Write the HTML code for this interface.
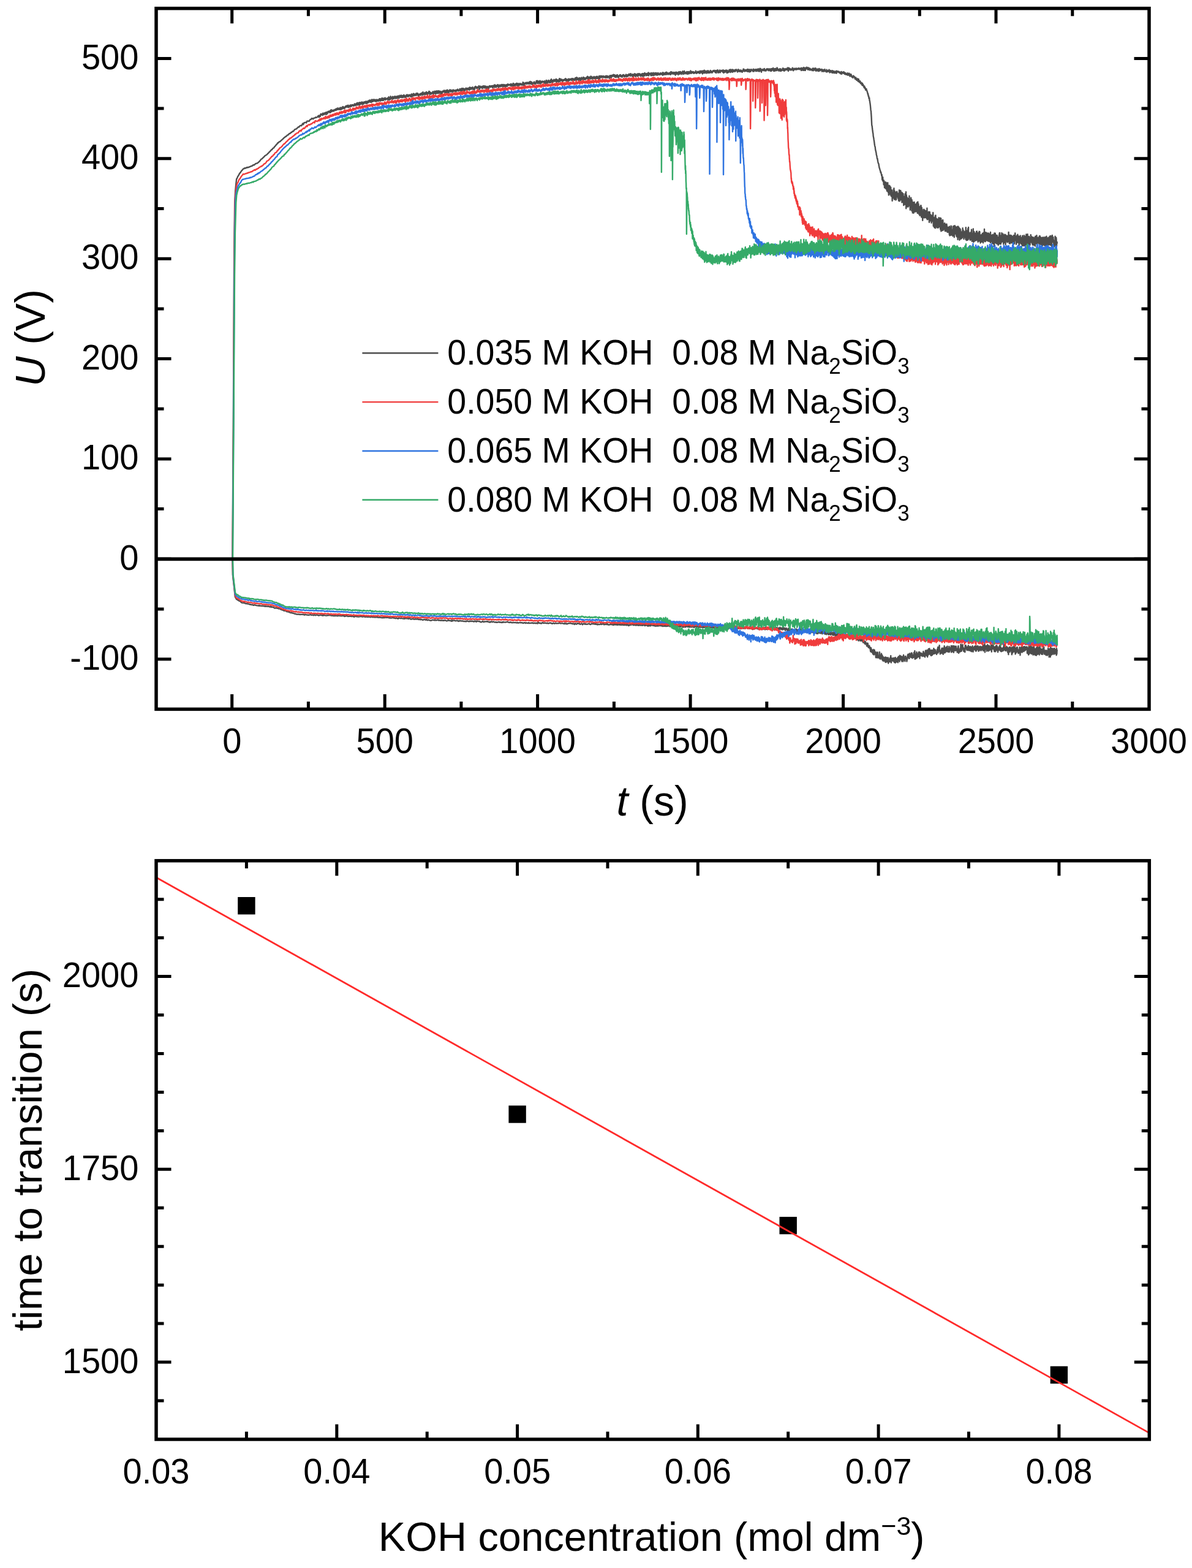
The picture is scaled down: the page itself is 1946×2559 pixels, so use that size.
<!DOCTYPE html><html><head><meta charset="utf-8"><title>Figure</title>
<style>html,body{margin:0;padding:0;background:#fff;}svg{display:block;}text{font-family:'Liberation Sans', Arial, sans-serif;fill:#000;}</style></head><body>
<svg width="1946" height="2559" viewBox="0 0 1946 2559">
<rect x="0" y="0" width="1946" height="2559" fill="#fff"/>
<g fill="none" stroke-width="2.4" stroke-linejoin="round">
<path stroke="#4d4d4d" d="M379.4 912.4l1.4-212.4 1.2-250 .6-70 .6-49.7 1-18.8 1-10.4 1-9.2 1-1.2 1-2.8 1-1.2 1-1.8 1-2 1-.9 1-1.6 1-1.4 1-1.2 1-1 1-1.4 1 0 1-1.2 1 .5 1-.8 1 .2 1-1.1 1 .5 1-.6 1 .2 1-.8 1-.3 1-.5 1-.2 1-.6 1-.2 1-1.3 1-.1 1 .1 1-1 1-1.1 1-.3 1-.2 1-.3 1-1 1-.6 1-1 1-1 1-1.3 1-1.5 1-.4 1-.9 1-.8 1-1.2 1-.7 1-1.4 1-.7 1-.5 1-.5 1-1.1 1-1.1 1-.7 1-1.4 1-.8 1-1 1-1 1-1.6 1 0 1-1.8 1-.6 1-.6 1-1.8 1-.6 1-1.5 1-1 1-1 1-1.9 1 0 1-1.4 1-.6 1-.3 1-.9 1-1.2 1-.7 1-.9 1-1 1-1 1-.7 1-.8 1-1 1-.2 1-1.1 1-1.1 1-.2 1-.7 1-1.6 1 0 1-.4 1-1.6 1 0 1-1.1 1-.7 1 .1 1-1.7 1-1.2 1-.4 1-.4 1-.2 1-1.5 1-.6 1-1.2 1 .4 1-1.6 1-.9 1 0 1 .4 1-1.9 1-1.9 1 1.7 1-2.6 1-.4 1-.2 1-.4 1 .8 1-2.6 1-.2 1-.1 1 .5 1-.9 1-1.9 1-.5 1-.1 1-1.6 1 .8 1 .5 1-1.5 1-.2 1-.1 1-1.3 1 .6 1-.4 1-.3 1-1.6 1-.9 .3 1.3 .4 1.4 .3-2.3 .4-.1 .3 1.4 .3-1.1 .4-1.3 .3 2.1 .4-2.8 .3-1.2 .3 1.2 .4 .4 .3-.5 .4-1 .3 0 .3 1.3 .4-.7 .3-.4 .4 1.9 .3-3.4 .3 1.3 .4-.8 .3 1.8 .4-1.9 .3 1.5 .3-1.9 .4 2 .3-.6 .4-1.2 .3-.8 .3 1.1 .4-1.6 .3 2.1 .4-1.1 .3 .1 .3 2.2 .4-3.7 .3 .7 .4 1.2 .3-.1 .3-2.1 .4 2.5 .3-2.6 .4-.1 .3-.6 .3 .9 .4-1.5 .3 1.1 .4-.6 .3 1.4 .3-1.8 .4 1.1 .3-1.6 .4 0 .3 .1 .3 2.5 .4-1.9 .3-2.3 .4 3.1 .3-1.4 .3-1 .4-1 .3 .5 .4 2 .3 .1 .3-1.4 .4 .8 .3-1 .4 .6 .3 .3 .3-1.6 .4 .6 .3 1.3 .4-.6 .3-1.5 .3-.1 .4-.2 .3 .6 .4-.5 .3 .7 .3-1.6 .4 1.9 .3-1.3 .4 .9 .3-2.3 .3 1.9 .4-1.9 .3 1.2 .4-1.3 .3 1.3 .3-2.2 .4 2.2 .3-1.1 .4-.8 .3-.1 .3 .8 .4 1.2 .3-1.5 .4 1.7 .3-2.3 .3 0 .4 2 .3-2.6 .4-.5 .3 1 .3 2.5 .4-2.9 .3 1.7 .4 .2 .3-1.3 .3-1.3 .4 2.7 .3-1.8 .4 .6 .3-.2 .3-2.4 .4-.3 .3 3 .4-.2 .3-1.8 .3 .9 .4 .8 .3-1.2 .4 1.8 .3-1.7 .3-.3 .4-.7 .3-.9 .4 .7 .3-1 .3 1.8 .4-2.5 .3 .1 .4 .9 .3 .6 .3-.7 .4-.5 .3-.9 .4 2.7 .3-1.6 .3-.2 .4-1.5 .3 3.7 .4-2.4 .3 1.2 .3-.5 .4 .2 .3 .7 .4-1.3 .3-1.2 .3 2.4 .4-1.2 .3-.2 .4-1.7 .3 2.7 .3-1.8 .4 .6 .3 0 .4 .3 .3-1.4 .3-.8 .4 .5 .3 1 .4 0 .3-1.2 .3 .5 .4 1.1 .3-.7 .4 .8 .3-1.4 .3 .6 .4-2.6 .3 1.9 .4-1.7 .3 1.6 .3 .7 .4 .3 .3-2.5 .4 .3 .3-.3 .3 1.4 .4-2.6 .3 2.7 .4 .2 .3-1.3 .3-2.5 .4 3.1 .3-1.2 .4 1.4 .3 .2 .3-2.7 .4-.5 .3 1.4 .4 1.8 .3-1.2 .3-2.9 .4 2.2 .3 1.6 .4-1.6 .3-1.5 .3-.5 .4 2.6 .3-1.8 .4 .9 .3 .6 .3-.9 .4-2.3 .3 2.3 .4 1.5 .3-2.9 .3 .6 .4 2.4 .3-3.3 .4-.3 .3 2.1 .3 .6 .4-1 .3 .5 .4-1.1 .3-1.7 .3 2 .4-1.3 .3 .2 .4 .9 .3-1.4 .3-.9 .4 .9 .3 2.6 .4-3.5 .3 3.2 .3-1 .4-.5 .3-1.8 .4 .5 .3 2.2 .3-.3 .4-2.5 .3 1.4 .4-2.3 .3 2.6 .3-1 .4 .3 .3-1.6 .4-1.3 .3 2.7 .3-1.1 .4 .7 .3-2.1 .4 2.6 .3 .5 .3-3.1 .4 1.1 .3 2.2 .4-1 .3-3.5 .3 2.3 .4 .8 .3-1.3 .4 1.5 .3-2.2 .3 0 .4-1.2 .3 3 .4-2.4 .3 1.2 .3 .2 .4-1.9 .3 0 .4 2.6 .3-2.2 .3 2.4 .4 .2 .3-2.1 .4 1.7 .3-2.3 .3 1.2 .4 1.7 .3-3.1 .4 .9 .3 .5 .3 .8 .4-2 .3 1.3 .4-.8 .3-.1 .3 1.9 .4-.2 .3-1.6 .4-1 .3-.3 .3 2.3 .4-3 .3 .3 .4 .5 .3-.9 .3 3.4 .4 .1 .3-1.9 .4 .6 .3 .4 .3-2.5 .4 .1 .3 .7 .4-2.1 .3 4 .3-1.6 .4-.5 .3-.8 .4-.4 .3 3.4 .3-3.7 .4 2 .3 .7 .4-1 .3 .8 .3-2 .4 1.7 .3-2.9 .4 2.6 .3-2.5 .3 .8 .4 2.4 .3-1 .4-.1 .3-.7 .3-.1 .4-.2 .3-.4 .4 1.2 .3 .4 .3-1.8 .4 1.8 .3 1.1 .4-2 .3 1.1 .3-4 .4 2.3 .3 1.8 .4-.8 .3 1.6 .3-2.4 .4-1.2 .3-.7 .4 3.1 .3-4.7 .3 3.7 .4-.1 .3 .3 .4-.1 .3-1.7 .3-.4 .4 1.5 .3 0 .4-2.7 .3 4.1 .3-2 .4 1.1 .3-3.1 .4 2.2 .3 .4 .3 .5 .4-1.8 .3 .1 .4 .6 .3-2.6 .3 2.1 .4 .9 .3-.5 .4 .8 .3-3.1 .3 1.8 .4 1.1 .3-1 .4-1.8 .3 2.8 .3-2.7 .4-.6 .3 .4 .4 2.8 .3-2.9 .3 1 .4 .2 .3-2.2 .4 2.7 .3-1.4 .3 2.6 .4-2.3 .3 .8 .4 0 .3-3.1 .3 1.8 .4 1 .3-1.4 .4 .4 .3-.2 .3 1.7 .4-3.6 .3 3 .4 .3 .3-2.6 .3 1.1 .4 1.4 .3-.6 .4 1.3 .3-3.3 .3 .7 .4-1.1 .3 1.3 .4-1.9 .3 2.4 .3 1.1 .4-2.7 .3 .3 .4 2.8 .3-1.9 .3 .6 .4 .4 .3-1.5 .4 2.4 .3-.4 .3-3.4 .4 2.4 .3-2.7 .4 .6 .3-.7 .3 1.6 .4-1.5 .3 1.8 .4 1.2 .3-1.3 .3 .1 .4 .7 .3-2.1 .4-.5 .3 0 .3 .5 .4 1.2 .3 .3 .4-1.4 .3-.5 .3 .7 .4 2.2 .3-2.2 .4 1.2 .3 1.4 .3-4.6 .4 3.6 .3-3.5 .4 1.2 .3 .6 .3 2 .4-2.5 .3 0 .4 1.2 .3-3.4 .3 1.1 .4 1.7 .3-1.1 .4 2 .3-3 .3 .7 .4 1.5 .3-1.3 .4 .4 .3-.6 .3-.7 .4 2.4 .3-.1 .4-3.6 .3 .8 .3 1 .4 .8 .3 .2 .4-1.1 .3-1.6 .3 2.9 .4-1.4 .3 .6 .4 2.4 .3-2.9 .3 1.8 .4-1.2 .3-.1 .4 .8 .3-.3 .3 .5 .4-2.3 .3 0 .4 1.4 .3-1.2 .3 .5 .4 1.7 .3-3.3 .4 .6 .3 .8 .3-1.7 .4 1.1 .3 .4 .4-1.4 .3 3.5 .3-5.1 .4 2.7 .3 1 .4 0 .3-1.6 .3 .4 .4-.1 .3-.5 .4 1.3 .3-2.3 .3 3.4 .4-3 .3 2.1 .4-.5 .3-1.3 .3 .5 .4-2.4 .3 2.6 .4 1.3 .3-.9 .3-.5 .4-1.2 .3 2 .4 .6 .3-3 .3 1.1 .4-1.2 .3 1.2 .4-.8 .3-2.3 .3 3.5 .4-3 .3 4.2 .4-1.7 .3 2.1 .3-3.2 .4 2.3 .3-.5 .4-.5 .3-.7 .3 2.1 .4-.7 .3-.3 .4-.5 .3 .1 .3 0 .4-1.9 .3 2.5 .4-3.3 .3 3.4 .3-2.7 .4 3 .3-1.9 .4 .4 .3 .4 .3-1.7 .4-1.5 .3 2.1 .4 1.7 .3-2.5 .3-.8 .4 4.2 .3-3.8 .4-.9 .3 .6 .3 2.8 .4-3.8 .3 3.6 .4 0 .3-2.7 .3 1.9 .4 1.2 .3-1.6 .4-2.6 .3 .7 .3 1.7 .4-2 .3 3.6 .4-.4 .3-3.1 .3 2.5 .4-1.6 .3-.1 .4-.5 .3 .5 .3 1.5 .4 2.8 .3-2.7 .4-.3 .3-1.2 .3-.2 .4 2.6 .3 .1 .4-2.6 .3 1.2 .3-2 .4 1.4 .3-.4 .4-1.1 .3 .5 .3 .3 .4-2 .3 2.9 .4-1.1 .3-.5 .3 2 .4-1.2 .3-.3 .4-1.5 .3 3.6 .3-.7 .4-2.7 .3 .9 .4 .5 .3 .6 .3-2.8 .4 4.1 .3-4.5 .4 3.4 .3-.9 .3-1.4 .4 2.5 .3 .3 .4-.2 .3 1.2 .3-1.5 .4-2.6 .3 .3 .4-.7 .3-.7 .3 1 .4 .4 .3 .8 .4 1.5 .3-2.1 .3-1 .4 2.3 .3-.4 .4-.1 .3-.3 .3-.4 .4-.5 .3 3 .4-3.1 .3-.8 .3 .8 .4-.7 .3 .3 .4 1.6 .3-.9 .3 .3 .4-.6 .3 .8 .4-.8 .3 1.9 .3-1.4 .4-.8 .3 1.4 .4 .8 .3-2.3 .3-.1 .4 1.6 .3-2 .4 1.5 .3-.1 .3-1.4 .4-.9 .3 1 .4-.4 .3 1.5 .3 .8 .4-1.4 .3-.2 .4 .1 .3-.4 .3 1 .4-1.3 .3-1.5 .4 1.2 .3 1.6 .3-.6 .4-1.3 .3 2.9 .4-3.5 .3-.2 .3 2 .4-2.9 .3 3.7 .4-1.7 .3 1.3 .3-1 .4 .7 .3-2.9 .4 2.5 .3-.2 .3 1.4 .4-3.3 .3 1.8 .4 .6 .3-.3 .3-1.2 .4 .1 .3 2.4 .4-3 .3 1.3 .3-.2 .4-2.3 .3 1 .4-.1 .3 1.2 .3-1.5 .4 2.8 .3-2.7 .4-.4 .3 .1 .3 1.9 .4-.2 .3-2 .4 2.3 .3-1.9 .3-.3 .4 1.8 .3-2.5 .4 3.8 .3-4.6 .3 3.7 .4-3.5 .3 .8 .4 2 .3-2.5 .3 1.8 .4-1.7 .3 2.2 .4 .3 .3-2.5 .3 .5 .4 .6 .3-.7 .4-1.3 .3 1.5 .3 .7 .4 1.8 .3-1.8 .4 .7 .3-1.5 .3 .7 .4 .6 .3 1.1 .4-3.9 .3 3.2 .3-2.5 .4-.2 .3-1.6 .4 1.7 .3-.5 .3 .7 .4-.1 .3-1 .4 2.5 .3-1.8 .3 1.9 .4 .1 .3-1.5 .4-1 .3 .9 .3-.4 .4-.2 .3 .2 .4-2.3 .3 1.7 .3 4.2 .4-.9 .3-.4 .4-3.1 .3 0 .3-1 .4 1 .3 1.1 .4-1.5 .3 1.9 .3 0 .4-.1 .3 .4 .4-2 .3-.6 .3 1.9 .4-1.2 .3 2.7 .4-1 .3-.3 .3-2.9 .4 1 .3 1.5 .4 .2 .3-2.3 .3 1.6 .4-1.6 .3 3.4 .4-1.2 .3-2.1 .3 .7 .4-.5 .3 2 .4 1 .3-1.9 .3 .3 .4-.3 .3 1.7 .4-2.3 .3 3.5 .3-.9 .4-2.4 .3 .4 .4 .6 .3 0 .3 1 .4 1.2 .3-3.7 .4 .8 .3-1.7 .3 1 .4-.8 .3 1.1 .4-.4 .3 1.4 .3-2 .4-.1 .3 .7 .4-.3 .3 .9 .3-1 .4-.6 .3 1.9 .4-.1 .3 1.4 .3-1 .4-.7 .3-1.7 .4 .4 .3 0 .3 2.2 .4-1 .3-2.1 .4-.7 .3 3.9 .3-1.4 .4-2.3 .3 2.6 .4-1.8 .3-.4 .3 1 .4 2.4 .3-1.5 .4 0 .3-1.4 .3-.4 .4 1.5 .3-2.1 .4 2.7 .3-.7 .3-2.6 .4 2.5 .3-.7 .4 2.8 .3-2.9 .3 1.6 .4-1.9 .3 2 .4-2.7 .3 1 .3 1.5 .4-1.3 .3-1.3 .4 2.7 .3-1.2 .3-.8 .4 1.4 .3-.9 .4-2 .3 .5 .3 0 .4 2.2 .3-.5 .4 1.4 .3-1.4 .3-2.1 .4 3.4 .3-3.2 .4 .3 .3 2.5 .3-.5 .4-1.2 .3-.2 .4-.8 .3 3.1 .3-2.4 .4 2.8 .3-2.9 .4 0 .3 .8 .3 .6 .4-2.1 .3 2.5 .4 .3 .3 0 .3-.8 .4-1.3 .3-1.8 .4 1 .3-.6 .3 .2 .4 1.3 .3 .2 .4-.9 .3 .2 .3-.5 .4-.3 .3 .4 .4 .8 .3-.8 .3 .6 .4 1.4 .3-3.2 .4 .2 .3 1 .3 .9 .4 1.4 .3-2.7 .4 2 .3-1.9 .3 1.4 .4 .9 .3-1.3 .4-2.9 .3 .9 .3-.6 .4 3.9 .3-2.7 .4 1.3 .3-.8 .3 2 .4-.9 .3-1.4 .4-.7 .3 2.5 .3-1.2 .4-.2 .3 1.4 .4-2.4 .3-1.1 .3 .5 .4-.5 .3 2.7 .4 1 .3-2.7 .3 .4 .4 2.8 .3-3.6 .4-.1 .3 1.6 .3-1.4 .4 2.7 .3-2.2 .4 .5 .3-1.2 .3 2.5 .4-2.5 .3 .9 .4-.2 .3 0 .3-.7 .4 .9 .3 1.3 .4-1.1 .3 .7 .3-.6 .4 1.2 .3-.8 .4-1.6 .3 2.1 .3-4.4 .4 3.6 .3-2.7 .4 3.9 .3-3.6 .3 2.7 .4 1.7 .3-2.7 .4-.8 .3 .5 .3-1 .4 .5 .3-.9 .4 1.2 .3 .1 .3-1.9 .4 2.6 .3-1.9 .4 0 .3-.7 .3 .4 .4 .7 .3 0 .4-1.2 .3 2.4 .3-2.1 .4 1.5 .3-.8 .4 .6 .3-1 .3-1.3 .4 2 .3 1.2 .4-.4 .3-2.8 .3-1 .4 2.7 .3-2.1 .4 2.8 .3 .8 .3-2 .4 0 .3-1.3 .4 .8 .3 3.2 .3-1.9 .4 1.2 .3-1.5 .4 .6 .3-.6 .3 .7 .4-.5 .3-1.2 .4-.9 .3 2.3 .3-2.3 .4 1.9 .3 1.3 .4-1.1 .3-.3 .3 1.5 .4-2.1 .3 .5 .4 .2 .3-3.2 .3-.3 .4 1.7 .3 .5 .4-2.7 .3 4.4 .3-1.2 .4-1 .3 1.6 .4-2.9 .3 3.5 .3-2.9 .4 1.8 .3-1.4 .4 1.7 .3-2.7 .3 3.7 .4-.3 .3-4.1 .4 3 .3 1.8 .3-1.1 .4-1.6 .3-.9 .4-.2 .3 2.6 .3-1.9 .4 .8 .3-.5 .4 .5 .3-1.9 .3 1.2 .4-.5 .3 .3 .4 .3 .3-.7 .3 .5 .4 .5 .3 1.1 .4-.5 .3-2.4 .3 1.2 .4 3.1 .3-2 .4 .7 .3-1.8 .3 .9 .4-1.8 .3-1.5 .4 3.2 .3-.2 .3 2.7 .4-2.1 .3-2 .4 2.5 .3-1.7 .3-1.4 .4 .8 .3-1.8 .4 1.1 .3 1.1 .3 1.4 .4-.1 .3-1.6 .4-.6 .3 .3 .3 2.5 .4-4.1 .3 3.8 .4-.4 .3-3.1 .3 .2 .4-2.4 .3 2.5 .4 1.7 .3 .6 .3 .4 .4-3.4 .3 .1 .4 .6 .3 .8 .3 1.4 .4-1.3 .3-.8 .4-.6 .3-1.3 .3 .4 .4 .7 .3 1.1 .4 1 .3-.6 .3-2 .4 1.1 .3-1.8 .4-.3 .3-.4 .3 2.8 .4 2.5 .3-2.3 .4-1.1 .3-1 .3 3.2 .4-2.1 .3 1.9 .4-1.1 .3 .8 .3 .1 .4-2.3 .3 3.4 .4-2.8 .3 .7 .3-3.4 .4 4.5 .3-1.8 .4 1.5 .3-.6 .3-3.3 .4 1.6 .3 .4 .4 1.1 .3-.4 .3-1.1 .4-.6 .3 1.4 .4 0 .3 1.4 .3 .6 .4-2.6 .3 1.3 .4-1.6 .3 1.7 .3-.8 .4-.6 .3 1.1 .4-1.7 .3 0 .3 1.4 .4-2 .3 1.1 .4-.1 .3-2.1 .3 2.9 .4-2 .3 3.3 .4-.8 .3-1.5 .3-.6 .4 1.5 .3 .8 .4-.9 .3-.9 .3 0 .4 2.1 .3-1.2 .4-1.8 .3 3.4 .3-3.3 .4-.3 .3 2.1 .4-.2 .3-1.6 .3 2 .4-.3 .3-1 .4-.8 .3 .5 .3-.8 .4 1.2 .3-.8 .4-.3 .3 2.5 .3-3.2 .4 2.7 .3-.9 .4-.1 .3-1.7 .3 2.4 .4-.1 .3-.3 .4-.2 .3-1.3 .3 1.8 .4 .9 .3-2 .4-.5 .3 1.7 .3-.7 .4-2.5 .3 2.9 .4-3.2 .3 3 .3 1 .4-2 .3 1.8 .4-4.6 .3 2.1 .3-1.3 .4 1.1 .3-.7 .4 2.6 .3 .4 .3-1.5 .4 .7 .3 1.4 .4-3.3 .3 .8 .3 2 .4-3.4 .3 2.4 .4-2.4 .3 .7 .3 3 .4-.3 .3 .7 .4-1.3 .3-1.8 .3 .7 .4-2.3 .3 1.5 .4 1.6 .3-.6 .3 .6 .4-.5 .3 .2 .4-2.2 .3 .3 .3-1.5 .4 1.3 .3-.7 .4 3.5 .3-1.9 .3 .2 .4-1.4 .3 .3 .4 1.9 .3 .7 .3-2 .4 1.5 .3-1.8 .4 .9 .3-1.6 .3 1.7 .4-2 .3-.7 .4 2 .3-.8 .3-2.4 .4 3.1 .3-1.7 .4 4.1 .3-1.9 .3-2.6 .4 1.8 .3-1 .4 2.1 .3-2.6 .3 1.6 .4-1.9 .3 2.4 .4-2.2 .3 2.9 .3-1.3 .4-2.9 .3 3.2 .4-1.2 .3 .5 .3-.8 .4-.8 .3 3.4 .4-1.9 .3-.8 .3 1.3 .4 .6 .3 .2 .4-.4 .3 .1 .3-2.4 .4-.5 .3 .1 .4 1.1 .3 2.1 .3-1.1 .4 0 .3 .4 .4-1.5 .3 1.6 .3-2.6 .4 1 .3-.7 .4 2.9 .3-.8 .3-2.8 .4 2.2 .3 .9 .4-2.9 .3 2.3 .3-1 .4 1.9 .3-1.9 .4 2.8 .3-2.1 .3 1.8 .4-4.7 .3 4.9 .4-2.9 .3 1.9 .3-1.9 .4-1.2 .3 .7 .4-1.7 .3 2.5 .3-.3 .4-1.9 .3 2.5 .4-2.5 .3 1.1 .3-.6 .4-.3 .3 2 .4 .2 .3-.4 .3-.7 .4-.8 .3-.6 .4 1.1 .3 1.2 .3-1.2 .4-.2 .3 0 .4 1.7 .3-1.4 .3 0 .4 1.1 .3-2.4 .4 3.2 .3-3 .3 1 .4-1.1 .3-.3 .4 2.8 .3-.1 .3 0 .4 .4 .3-2.6 .4 1.1 .3-.8 .3 .8 .4 .3 .3-.6 .4 1.3 .3-.6 .3 2.2 .4-3.9 .3-.6 .4-.1 .3 .9 .3 .3 .4 2 .3-.8 .4-2.5 .3 3.6 .3-1.8 .4-2.1 .3 2.2 .4-.3 .3-.6 .3-1.2 .4 1.4 .3-2.2 .4-.2 .3 1.5 .3-1.8 .4 2.9 .3-1.7 .4 1.6 .3-.3 .3-2.1 .4 3.5 .3-.1 .4-1.7 .3 1.9 .3-.6 .4-2.1 .3 3.3 .4-2.5 .3 .3 .3-.4 .4-1.2 .3 0 .4-.4 .3 3.5 .3-1.8 .4 2.6 .3-2.7 .4 .4 .3 .7 .3 1.5 .4-1.5 .3-1.2 .4 .5 .3-1.6 .3 .1 .4 1.1 .3-1.1 .4-.6 .3 3 .3-2.1 .4 1 .3 .4 .4 .1 .3 1.1 .3-2.2 .4-.1 .3 2.5 .4-2.1 .3-1.2 .3-.1 .4 .9 .3-.2 .4-1.1 .3 2.4 .3-1.6 .4 1.3 .3 1.4 .4-2.1 .3 .8 .3-.7 .4 1.6 .3-1.5 .4-.2 .3-1.3 .3-.5 .4 2.1 .3-1.5 .4 3.2 .3-2.4 .3 1.4 .4 .7 .3-2.7 .4 1.8 .3-2.1 .3 .5 .4 1.3 .3 0 .4-2 .3-1.1 .3 .6 .4 1.6 .3 .4 .4-.9 .3-.5 .3-1.1 .4 2.6 .3 .8 .4-3.9 .3 1.8 .3-.3 .4 1.3 .3-.6 .4 .5 .3 .5 .3-1.7 .4 3.2 .3-3.7 .4 1.8 .3 .5 .3-.1 .4-1.1 .3 1.6 .4-2.9 .3 1.4 .3-1.5 .4 .1 .3-.9 .4 1.9 .3 1.9 .3-2.4 .4 3.2 .3-2.2 .4-1.5 .3 2.8 .3-.8 .4-.2 .3-.7 .4 1.6 .3 .1 .3-3.3 .4 3.9 .3-2.7 .4-1.6 .3 3.6 .3-2.6 .4 .8 .3-.7 .4 .2 .3 0 .3-1.3 .4 2.6 .3 .3 .4 .6 .3 .5 .3-.9 .4-2.1 .3 1.8 .4 1.1 .3-2.2 .3-.7 .4 2.6 .3-3.4 .4-.4 .3 1.2 .3 3 .4-1.8 .3 2.5 .4-4.8 .3 2.3 .3-2.3 .4 2.4 .3-.8 .4-2 .3 4.2 .3-5 .4 1.9 .3-.9 .4 .8 .3 .1 .3 .4 .4-.8 .3 2.9 .4-2.8 .3-.5 .3 1.2 .4-.5 .3 2.3 .4-.1 .3-3.2 .3 .7 .4-.4 .3-1.6 .4 2.6 .3 2.6 .3-4.1 .4 .5 .3 .8 .4-1 .3 1.2 .3-1.4 .4 1.4 .3 .7 .4-.5 .3 1.8 .3 .5 .4-4.5 .3 1.2 .4 2.9 .3-2.1 .3 0 .4-1.6 .3 2.5 .4 1.1 .3-1.6 .3 .4 .4-3.2 .3 2.6 .4-1.4 .3 3.4 .3-2.6 .4 1.2 .3-1.7 .4-.5 .3-.6 .3 .9 .4 2.1 .3 .3 .4-2.9 .3-.4 .3 2 .4-.4 .3 .3 .4-1.5 .3 3.4 .3-.3 .4-1.8 .3 .4 .4-.8 .3-1.4 .3 2.7 .4-1.4 .3 .3 .4 1.6 .3-.3 .3-1.2 .4 .6 .3 .5 .4-2.2 .3 1 .3-1.3 .4 2.4 .3-.9 .4-1.1 .3 .5 .3 .5 .4 .8 .3-2 .4 1.4 .3-.9 .3 .4 .4 2.5 .3-4.6 .4 3.1 .3 .4 .3-2.8 .4 2.8 .3-.1 .4 .2 .3-2.3 .3 2 .4-1.7 .3 .7 .4 1.1 .3-3.2 .3-.2 .4 .4 .3 1.5 .4 1.5 .3-.2 .3-3.7 .4 3.1 .3-1.5 .4-.3 .3 2.2 .3-1.3 .4 1.2 .3-1.8 .4 1.9 .3 0 .3-1.3 .4 1.3 .3-.8 .4-.5 .3-1.3 .3 2.7 .4-1.5 .3-1.2 .4 .3 .3 3 .3-4.6 .4 1 .3 2.2 .4-.2 .3-2.9 .3 2.8 .4 .1 .3-2 .4 2 .3-.2 .3 .4 .4 .2 .3-1.8 .4-.8 .3 .5 .3-.3 .4 1.4 .3 1.2 .4-2.1 .3 .8 .3-1.4 .4 .9 .3 3.6 .4-4.4 .3 1.1 .3-1.8 .4 2.4 .3-.4 .4 1.4 .3-1.1 .3-1.9 .4 .4 .3 1.2 .4-.7 .3-.1 .3 2.1 .4 1.2 .3-1.5 .4-3 .3-.6 .3 .2 .4 1.7 .3-.9 .4 2.4 .3 .5 .3-2.8 .4-1.2 .3 1.7 .4 .3 .3 1 .3-.7 .4-.9 .3 1.2 .4 1.8 .3-3.7 .3 1.9 .4-2.2 .3-1.1 .4 3.2 .3-1 .3 1.3 .4-1.4 .3 2.8 .4-4.2 .3 .8 .3-1.7 .4 3.8 .3-1.3 .4 .6 .3-.1 .3 .5 .4-1.4 .3 2.2 .4-1.8 .3 .1 .3 1.8 .4-1.2 .3-2.3 .4 1.7 .3-.9 .3 1.2 .4 2.2 .3-4 .4 1.7 .3 .9 .3-2.1 .4 .7 .3-1.4 .4 3.4 .3-1.2 .3-.8 .4 .2 .3-.9 .4 .6 .3 1.4 .3-4.2 .4 2.1 .3-.5 .4 2.7 .3-1.3 .3-1.2 .4 1.6 .3-1.9 .4 .2 .3 .9 .3 .1 .4 .9 .3-.5 .4 .1 .3-1.4 .3 .7 .4 2 .3-.3 .4-1.7 .3 .3 .3 .6 .4-.2 .3 .3 .4-1.2 .3 1.1 .3-3 .4 3.5 .3-.1 .4 .6 .3-2.1 .3 1.7 .4-.4 .3-1.6 .4-.1 .3-.6 .3 1 .4 1.1 .3-1.3 .4-.8 .3 .6 .3 1.6 .4-1.6 .3-.1 .4 .3 .3 2.4 .3-4.2 .4 .5 .3 2 .4-1.6 .3 2 .3-2.6 .4 .5 .3 .6 .4 1.3 .3-2.4 .3-.3 .4 2.5 .3 2.4 .4-3.4 .3-1.3 .3 3.1 .4-3.6 .3 2 .4 1.8 .3-1.5 .3 1.2 .4-4.3 .3 1 .4 2.4 .3 1.3 .3-.6 .4-.3 .3-.6 .4-.4 .3-1.6 .3 2.6 .4-.4 .3 1.6 .4-2.4 .3 1 .3-1.1 .4-1.5 .3 3.1 .4-3.6 .3 3.5 .3-3 .4 .5 .3 3 .4-1.2 .3 .9 .3 0 .4-1.7 .3 1.7 .4-2.1 .3 1.2 .3-3 .4 1.2 .3 .1 .4 1.5 .3 .9 .3-2.5 .4 .8 .3 .9 .4 .1 .3 .8 .3-1.6 .4-.8 .3 .8 .4-1.9 .3 .3 .3 1 .4-.3 .3-.2 .4 .2 .3-1.4 .3 1 .4 1.2 .3-1.6 .4 2 .3 .9 .3-3.1 .4 .9 .3 1.1 .4 1.9 .3-3.5 .3-.6 .4 1.7 .3 .2 .4-1 .3 0 .3-1.8 .4 1.3 .3 3.3 .4-2.3 .3 .1 .3-.5 .4 2.3 .3-2.4 .4 .6 .3-.6 .3-1.4 .4 2.6 .3 1.3 .4-.8 .3-.8 .3-.2 .4-.4 .3-1.3 .4 .1 .3 0 .3 .9 .4 .4 .3 .3 .4 0 .3-1.8 .3 3.2 .4-3.8 .3 2.8 .4 1 .3 1 .3-3.2 .4 1.6 .3-2.2 .4 2.7 .3-2.8 .3 1.2 .4 1.3 .3-2.4 .4 .6 .3 .3 .3-1.6 .4 .8 .3 .4 .4 1.8 .3 1.5 .3-4.4 .4 .5 .3 .2 .4 3.4 .3-1.7 .3 .7 .4-1.5 .3 1.5 .4 .1 .3-2.5 .3 .6 .4-2.1 .3 .5 .4 .6 .3 1.2 .3-.1 .4 2.1 .3-4.6 .4 3 .3 .9 .3-3.6 .4 2.2 .3-1.1 .4 .1 .3 1.7 .3-1.4 .4 2.6 .3-4.4 .4 2.7 .3-.1 .3-2 .4 1.4 .3 0 .4 1.3 .3-.8 .3-.8 .4-.7 .3 2.1 .4-2.7 .3 1.8 .3 .9 .4-2.9 .3 2 .4-1.7 .3 .9 .3-1.4 .4 1.1 .3-.1 .4 1.2 .3-.8 .3 2.6 .4-1.8 .3-.5 .4 1.2 .3-3.1 .3 2.3 .4-1.3 .3 2.3 .4-1.6 .3 1.8 .3-.8 .4-1.2 .3 1.4 .4-1.7 .3 2 .3 0 .4 .5 .3-2.2 .4 0 .3 2.3 .3-.8 .4-.8 .3-.1 .4 2.4 .3-1.7 .3-.5 .4-.4 .3 .7 .4-3.2 .3 2.9 .3 .1 .4-2.7 .3 3.4 .4-2.1 .3 2.2 .3-1.9 .4 1.2 .3 .1 .4-.7 .3-1.2 .3 .6 .4 1.6 .3-.5 .4-.2 .3 .2 .3-1.9 .4 1.4 .3 1.4 .4-.1 .3-3.6 .3 3.3 .4 .7 .3-3.6 .4 2.4 .3-2 .3 2 .4-1.2 .3 .4 .4 2.6 .3-2.9 .3-1.3 .4 1.1 .3 .3 .4 2.1 .3-2.4 .3 1.4 .4-.6 .3-2 .4 .9 .3 .3 .3 0 .4 .2 .3 0 .4-.1 .3 2 .3-.9 .4-2.9 .3 .8 .4 1.1 .3 1.9 .3-.8 .4-1.3 .3-.6 .4 .9 .3-1.1 .3-.4 .4 1.5 .3 .3 .4 1.2 .3-.8 .3-2.3 .4 0 .3 3 .4-.3 .3-.3 .3-1.6 .4-1 .3-.1 .4 .3 .3-.4 .3 3.6 .4-3.8 .3 3.1 .4-.8 .3-.8 .3 0 .4 2.5 .3-1.8 .4-2.9 .3 2.3 .3-1.5 .4-.3 .3 3.2 .4 .2 .3-.7 .3 2.7 .4-2.3 .3-.5 .4-1.2 .3-.6 .3 1.3 .4-.6 .3 1 .4-.3 .3 .3 .3-1.3 .4-.5 .3 2.3 .4-3.2 .3-.2 .3 1 .4 2.5 .3-.9 .4-.4 .3 .2 .3 .6 .4 .9 .3-1.5 .4 .8 .3-2.5 .3 1.3 .4 0 .3-.9 .4-.8 .3 1.4 .3 .1 .4 .5 .3-1.7 .4 2.8 .3-.4 .3-1.8 .4 1.1 .3-.5 .4-1.2 .3-.1 .3 2.9 .4-.3 .3 .1 .4 .2 .3 .5 .3-1.1 .4-2.5 .3 1 .4 2.6 .3-2.6 .3 1.8 .4-2.8 .3 1.3 .4 .3 .3 .2 .3-1.5 .4-1.5 .3 1.9 .4 2.4 .3 .6 .3-1.3 .4 .7 .3-.4 .4-2.6 .3 3.6 .3-2.4 .4-.9 .3-.7 .4 0 .3 3.3 .3-2 .4 .7 .3 0 .4 .3 .3 .9 .3-4.7 .4 2.7 .3-1.6 .4 1 .3 1.3 .3-.9 .4 .3 .3 2.3 .4-.9 .3-1 .3 1.7 .4-1.1 .3-.5 .4-1.5 .3 3.7 .3-2.5 .4 .6 .3-.5 .4-.9 .3 3.2 .3-.2 .4-.1 .3-.7 .4-.9 .3 0 .3 .5 .4-.6 .3-2.3 .4 1.8 .3 1.4 .3-3.3 .4 .7 .3 .6 .4 3 .3-.2 .3-2.3 .4 2.3 .3-.8 .4-2.6 .3 .2 .3 1.4 .4 .6 .3-.4 .4-.5 .3-.6 .3 .6 .4-1.7 .3 2.2 .4 .1 .3-.1 .3-1 .4-.4 .3-2.1 .4 4.5 .3 1.1 .3-4.3 .4-.5 .3-.3 .4 .4 .3 .8 .3 2.1 .4-1.1 .3-1.1 .4 .2 .3 1.2 .3-.3 .4 1.2 .3 .3 .4-1.8 .3 .7 .3-.2 .4 .5 .3-1.3 .4 0 .3-1.7 .3 2.1 .4-.7 .3 2.7 .4 .4 .3-2 .3 .8 .4 0 .3-2.4 .4-.1 .3 .7 .3 1.1 .4-.9 .3-.5 .4 .8 .3 .5 .3-.4 .4-1.5 .3 2.4 .4-1.1 .3 0 .3-.6 .4 .9 .3-1.4 .4 .3 .3 1.3 .3-.3 .4 0 .3-.2 .4-1.1 .3-.6 .3 1.2 .4 .5 .3 .5 .4-.2 .3-.3 .3-.1 .4-1.1 .3 1.5 .4-.7 .3-.9 .3 .4 .4 3.2 .3-3.9 .4-.3 .3 1.7 .3 1.8 .4-.5 .3 .7 .4-.2 .3-2.5 .3-.7 .4 3.8 .3-3.6 .4-1.2 .3 2.8 .3 1 .4 .9 .3-3.3 .4 2.9 .3-1.9 .3-1.7 .4 4.2 .3-4.1 .4 .1 .3 1.6 .3-1.6 .4 .4 .3-1.6 .4 2.2 .3 .3 .3 .1 .4-.3 .3-.8 .4 2.5 .3-3.6 .3 3.2 .4-1.3 .3 1.3 .4 .2 .3-2.4 .3 .7 .4 1.2 .3 1.3 .4-2.7 .3 1.3 .3-.7 .4 1.9 .3-.3 .4 0 .3 0 .3 .3 .4-1.3 .3-.2 .4 1.1 .3 1.4 .3-1.5 .4 .2 .3-2.4 .4 3.4 .3-2.6 .3 3.1 .4-3.8 .3 .5 .4 2.3 .3-2.6 .3 1.2 .4 0 .3-1 .4 1.5 .3 1.2 .3-3.6 .4 4.6 .3-2.1 .4 0 .3-.9 .3 2.8 .4-1.8 .3 1.1 .4-.4 .3-1.2 .3-.6 .4 3.1 .3-.1 .4 .2 .3-2.9 .3 3.3 .4-.2 .3-4 .4 3 .3-2.1 .3 2.2 .4 .4 .3-2.5 .4 .3 .3 1.4 .3-1 .4-.1 .3 .8 .4-.4 .3-1.1 .3 1.4 .4 2.4 .3-.9 .4-1.3 .3 1.1 .3-1.9 .4 .1 .3 2.5 .4-1 .3 1.5 .3-2.6 .4 .6 .3 1.2 .4-2.3 .3-.6 .3 1.1 .4 1.4 .3 .8 .4-.4 .3 .1 .3 .3 .4-.9 .3 2.1 .4-3.8 .3 1.1 .3 .1 .4-.1 .3 2.1 .4 .1 .3-1.8 .3-.2 .4 .2 .3-.2 .4 1.5 .3-1.8 .3-1.2 .4 2.8 .3 .8 .4 1.3 .3-3 .3 1.6 .4 .7 .3-2.6 .4 0 .3 2.2 .3-1.6 .4 1.3 .3-1.3 .4 2.8 .3-3.1 .3 3.4 .4-3.8 .3 2.1 .4 1.4 .3 .2 .3-2.6 .4 .5 .3-.3 .4 .5 .3-.6 .3 2.9 .4-.6 .3 .3 .4-.6 .3-1.5 .3 1.1 .4-.5 .3 1.8 .4-2.9 .3 2.2 .3-.9 .4 1.9 .3-3.8 .4 .7 .3 1 .3-.3 .4 .2 .3-.4 .4-.5 .3 .3 .3 1.4 .4-.8 .3-.5 .4 1.8 .3 .1 .3-.6 .4 .7 .3-1 .4 .3 .3 2.3 .3-2.7 .4-.1 .3 2.1 .4-1.2 .3-1.6 .3 4 .4-1.9 .3-.9 .4 0 .3 1.1 .3-1.1 .4 1.1 .3-.3 .4 .5 .3-2.1 .3 1.1 .4 1.5 .3-2.2 .4 1.1 .3 .9 .3 1.3 .4-2.4 .3 2.6 .4-1.1 .3 .7 .3-.7 .4-.6 .3 2.4 .4-1.2 .3-.1 .3 1.2 .4-.3 .3-.9 .4 0 .3-1.4 .3 3.7 .4-2.8 .3-.2 .4 .5 .3 1.9 .3-1.9 .4 1.3 .3-1.9 .4 3.7 .3-.9 .3 2 .4-1.9 .3-.8 .4-.7 .3 1.2 .3-1.3 .4 3.2 .3-1.8 .4 2.7 .3-1.1 .3 1.7 .4-.9 .3 .3 .4-.1 .3 1.9 .3-2 .4-1.1 .3-.3 .4 1.6 .3 .2 .3-.1 .4-.3 .3 .8 .4 1.6 .3-.4 .3 2.1 .4-.6 .3-2.1 .4 .1 .3 2.6 .3-1.2 .4 2.7 .3-1.9 .4 2.3 .3-1.1 .3-1.4 .4-.1 .3 2.6 .4-2.2 .3 4 .3-.2 .4-.4 .3-2.9 .4 3.1 .3-.1 .3 1.9 .4-.6 .3-1.4 .4 2.1 .3-1.9 .3 .9 .4 2.6 .3 .6 .4-.4 .3-.6 .3-.6 .4 .7 .3 1.6 .4 1.8 .3 .1 .3-3.1 .4 2.4 .3 1.4 .4-1.9 .3 1.1 .3 .8 .4 .6 .3 1.6 .4 1.1 .3-1.1 .3-1.3 .4 3.4 .3-.5 .4-.6 .3 .7 .3 3.1 .4-1.3 .3 .7 .4 .5 .3-1.5 .3 2.3 .4 .1 .3 .9 .4 1.7 .3 .1 .3 2.2 .4 1.3 .3-.9 .4 3.6 .3 1 .3-.8 .4 4 .3-1.4 .4 .3 .3 4.7 .3 0 .4 3 .3 2 .4 3.2 .3 3.3 .3 3.6 .4 1.8 .3 4.5 .4 5.9 .3 6.5 .3 6.3 .4 1.1 .3 2.7 .4 3.3 .3 2 .3 2.8 .4 1.7 .3 4 .4 1.9 .3 1.5 .3 2.3 .4 2.4 .3 2.2 .4 3.5 .3 1.7 .3 1.5 .4 .8 .3 3.3 .4 2.4 .3 .7 .3 1.9 .4 1.4 .3 3.1 .4 1.1 .3 1.2 .3 2.3 .4 2 .3-.5 .4 2.8 .3 1.9 .3 1.4 .4 1.7 .3 .5 .4 .4 .3 2.9 .3 1 .4 2.8 .3 .3 .4 1.5 .3 1.4 .3 .5 .4 1.1 .3 2.5 .4-.3 .3-.1 .3 2.3 .4 1.1 .3 2.1 .4-1.5 .3 4.2 .3 4.1 .2-4.6 .2 1.1 .2 2 .2 3.3 .2-5.9 .2 6.1 .2 .5 .2-1 .2 .6 .2 1.3 .2-2.7 .2 7.2 .2-5.8 .2-.8 .2 5.5 .2-3.3 .2 1.8 .2 2.9 .2 4.9 .2-8.6 .2-.5 .2 1.4 .2 2.2 .2-3.9 .2 6.5 .2-.3 .2 .2 .2 4.3 .2-5.2 .2 3.7 .2-5.4 .2-3 .2 1.2 .2 9.4 .2-7.9 .2 1.3 .2 2.9 .2 6.3 .2 .6 .2-.9 .2 1.3 .2-.6 .2-7.5 .2 4.3 .2-9.9 .2 6.4 .2 4.6 .2 3.7 .2-4.5 .2 6 .2-7.9 .2 2.4 .2 9.4 .2-6.4 .2 4.5 .2-3.1 .2-10.8 .2 7.6 .2 .8 .2 2.2 .2-5 .2-4.7 .2 10.1 .2-3.8 .2-5.1 .2 5.8 .2 7.5 .2-11.8 .2 8.5 .2-9 .2 9.3 .2-4.6 .2 9.7 .2-2.6 .2-.8 .2 3.8 .2-7.7 .2-2.5 .2 5.2 .2 2.8 .2-2.3 .2 11.7 .2-12.1 .2-.8 .2 4.8 .2 1 .2-2.5 .2 5.1 .2-3.2 .2-1.1 .2-5.4 .2-4 .2 13 .2-5.5 .2-1.7 .2-8 .2 16.2 .2 .8 .2 1.3 .2-14.4 .2 3.1 .2 10 .2-8.1 .2 8.6 .2-5.7 .2-2.4 .2-3.2 .2 5 .2 .9 .2 1.8 .2 5.3 .2-6.5 .2 3.5 .2-6 .2 8 .2-6.2 .2 1.7 .2 .1 .2-8.5 .2 0 .2 1.7 .2 .1 .2 3 .2-.1 .2 4.2 .2-1.6 .2-2 .2-2.2 .2 1.6 .2 5.1 .2 1.9 .2 .1 .2-5.7 .2 9 .2-8.9 .2 5.3 .2-.4 .2-2.7 .2-10.9 .2 6.5 .2-1.6 .2 4.3 .2 8.9 .2-3.4 .2 2.3 .2-.8 .2-3 .2 2.9 .2-3.5 .2-11.8 .2 5.4 .2-3.9 .2 6.4 .2 3.5 .2-3.3 .2 6.9 .2-11.8 .2 6.3 .2 2.1 .2-.2 .2 8.1 .2-11.1 .2-4.8 .2 10.4 .2 5.2 .2-3 .2-8.7 .2-.8 .2 10.1 .2-1.8 .2-9.6 .2 10.1 .2-6.1 .2 1.8 .2 13 .2-1.9 .2 1.5 .2-12.1 .2 7.7 .2-4.3 .2-.4 .2 1.7 .2-6.8 .2 2 .2-.3 .2 11.3 .2-17 .2 6.1 .2-3.2 .2 14.3 .2-7.7 .2-3.5 .2 7.3 .2-16.6 .2 27.1 .2-18.9 .2 12.1 .2-15 .2 15.2 .2-3.1 .2-3.4 .2 5 .2-10.2 .2 6.6 .2 8.7 .2-8 .2-.9 .2-2.5 .2 1.5 .2 5.8 .2-5.8 .2 10.1 .2-7.4 .2-6.2 .2 .2 .2 .6 .2 9.1 .2-1.4 .2 3.1 .2-2.3 .2-13.5 .2 8.3 .2 .8 .2 2.7 .2 .5 .2-.9 .2 3.4 .2 8.1 .2-6.5 .2-2 .2-8.4 .2 2 .2 8.2 .2-4.9 .2-8.2 .2 3.9 .2 5.2 .2-4.7 .2 5.8 .2-3.5 .2 14.5 .2-17.9 .2 3.4 .2 9.2 .2-2.4 .2-4.5 .2 8.4 .2 7.2 .2-17.5 .2 7.4 .2-.5 .2-2.8 .2-3.9 .2 10.9 .2-5.9 .2 6 .2 6.6 .2-16.4 .2 2.9 .2 11.5 .2-15.7 .2-.2 .2 6.7 .2 8.9 .2-6.5 .2-2 .2-2.8 .2-1 .2 12.4 .2-12.1 .2 1.4 .2 7.8 .2-.7 .2-8 .2 8.7 .2-5.3 .2-2.3 .2 4.7 .2-6.9 .2 12.5 .2-7.2 .2-2.7 .2-4.6 .2 8.7 .2 5.7 .2-12.7 .2 1.5 .2 14 .2-17.9 .2 13 .2-13.6 .2 15.2 .2 .8 .2-10.8 .2 11.3 .2-13.2 .2 5.3 .2 9.7 .2-9.7 .2 11.4 .2-9.8 .2-1 .2 10.5 .2-11.8 .2 1.3 .2 11.9 .2 1.2 .2-11.9 .2 9.8 .2-1.9 .2 .2 .2-.1 .2-7.9 .2-4.6 .2 14.3 .2-3.5 .2-10.7 .2 14.1 .2 2.8 .2 2.1 .2-5.6 .2 3.8 .2-14 .2 8.1 .2 5 .2-4.8 .2-5 .2 8 .2-.4 .2 10.2 .2-7.8 .2-3.5 .2-1.6 .2 5 .2 3.5 .2-2.5 .2-1.8 .2-5.4 .2 .4 .2-4.3 .2 11 .2-9.1 .2 5.9 .2 3.2 .2 2.7 .2-10.1 .2-2.4 .2 9.9 .2-2.4 .2-.4 .2 4.8 .2-.3 .2-5 .2 5.2 .2-3.9 .2-6.6 .2 .7 .2 7.7 .2-7 .2 1.5 .2 7.2 .2 2.1 .2-2.3 .2-1.6 .2-4 .2-9 .2 11.5 .2 7.2 .2-10.4 .2 7.6 .2-4.9 .2 7.3 .2-3.6 .2-2.3 .2-5.2 .2 3.2 .2 1.2 .2-5.2 .2 7.2 .2 1.4 .2-8.8 .2 9.1 .2 2.7 .2 5.3 .2-1.4 .2-15 .2 5.8 .2-6.4 .2 11.5 .2-7.8 .2 2.7 .2 5.2 .2 2.3 .2-9.7 .2 7.6 .2-.5 .2-5.4 .2 8.4 .2 .9 .2-9.6 .2 2 .2 10.3 .2-10.7 .2 5 .2-1.2 .2-2.7 .2 2.2 .2-3.9 .2 1.1 .2 1 .2 3.5 .2-7.9 .2 10.1 .2 .8 .2-14.1 .2 6.2 .2 7.5 .2 8.2 .2-12.1 .2 12.2 .2-8.4 .2 3.4 .2-8.6 .2 3 .2 12.5 .2-15.4 .2 2.5 .2 13.5 .2-13.1 .2 7.3 .2-7.5 .2 6.3 .2-12.1 .2 19.9 .2-19.7 .2-1.2 .2 12.3 .2-3.2 .2 9.5 .2-12.1 .2 10.3 .2-11.7 .2 6.3 .2-.4 .2 2.9 .2 2.7 .2-1.2 .2 4.8 .2-.2 .2-3.7 .2-10 .2 5.8 .2 4.5 .2-6.7 .2-.9 .2 4.7 .2 .6 .2 6.1 .2-13.3 .2 7.2 .2-4.7 .2-5.8 .2 7.1 .2-5.5 .2 8.8 .2 4.1 .2-7.2 .2-1 .2 8.8 .2-7.5 .2-5.4 .2 2.6 .2 5.8 .2-10 .2 17.9 .2-17.1 .2 18.4 .2-7.9 .2-6.6 .2-4.1 .2 21 .2-5.8 .2-4.3 .2 3.5 .2-10 .2 3.9 .2 11.6 .2-.7 .2-15.7 .2 5 .2 7.2 .2-4.5 .2-8 .2 14.7 .2-15.3 .2 2.3 .2 14.5 .2-6.4 .2-4.1 .2 9.3 .2-8.8 .2 6.3 .2-4.4 .2 3.4 .2-.9 .2 3.1 .2-1.8 .2 2.4 .2-7.6 .2-2 .2 1.3 .2 3.8 .2 7.5 .2-1.3 .2-5.3 .2-2.4 .2 9.4 .2-10.8 .2 7.7 .2-8.1 .2 4.1 .2 3.9 .2 3.1 .2-2.2 .2-4.3 .2-5 .2 2.1 .2 .3 .2 2.1 .2 5.3 .2-.2 .2 3.7 .2-8.3 .2 7.4 .2 .1 .2-4.5 .2 5 .2-4.8 .2 1.1 .2-1 .2 5.1 .2-5.1 .2-3.3 .2 7.6 .2-4.5 .2-3.3 .2 .7 .2 11.5 .2-13 .2 10.5 .2 4.3 .2-6.1 .2-2.8 .2 0 .2 4.5 .2-4.2 .2 3.6 .2 4.6 .2-12.3 .2 5.7 .2 1.9 .2-10.8 .2 6.6 .2-4 .2-.7 .2-.8 .2 13.8 .2-6.8 .2-.8 .2 3.6 .2 2.2 .2-1.4 .2 1.5 .2-2.7 .2-4.1 .2 10.2 .2-9.4 .2 1 .2 1.8 .2-5.6 .2-4 .2 12.9 .2-7.8 .2 7.3 .2 .6 .2-2.1 .2-3.1 .2 10.4 .2-2.6 .2-13.3 .2-2.7 .2 11.5 .2-12 .2 12.1 .2 1 .2-.2 .2-1.3 .2-3.5 .2 1 .2-6.9 .2 11.7 .2-3.1 .2-5.7 .2 6.3 .2-.5 .2 6.3 .2-2.8 .2 3.8 .2-4.4 .2-4.3 .2-2.1 .2-5.2 .2 9.3 .2 5 .2-2.7 .2 1 .2 8.1 .2-9.8 .2-11.8 .2 12.4 .2-4.9 .2-.3 .2 6.9 .2 .5 .2-5.3 .2-7.7 .2 3.9 .2 12.4 .2-11.3 .2 8.7 .2 7.1 .2-8.5 .2 6.1 .2-7 .2-9.1 .2 17.3 .2-6.7 .2 4 .2-13.2 .2 3.6 .2 1.5 .2 8.3 .2-3.8 .2-5.1 .2-.9 .2 2.8 .2 8.4 .2-5.2 .2-1.6 .2 .8 .2-1 .2 2.8 .2 2.7 .2-8.5 .2-.5 .2-1.9 .2-4.8 .2 10.6 .2-2.6 .2 1.1 .2 3.1 .2-9 .2 4.3 .2 6 .2-2.3 .2 6.7 .2-8.2 .2 4.4 .2-3.4 .2 4.4 .2-5.3 .2 2.9 .2-6.6 .2 6.2 .2-6.9 .2 6.9 .2-1.1 .2 4.3 .2-6.4 .2 .4 .2 4.8 .2 4.3 .2-19.6 .2 9.8 .2-1.5 .2-.6 .2 10 .2 3.3 .2-4 .2-.4 .2-2.6 .2-7.9 .2 4 .2-4.9 .2 9.5 .2-7 .2 12.7 .2-10.6 .2 4 .2-12.1 .2 13.3 .2 4.8 .2-12 .2-8.1 .2 17.6 .2 0 .2-9.7 .2 1.9 .2-.1 .2 5.4 .2-1.3 .2 1.4 .2-3.5 .2 4.9 .2 1.3 .2-2.7 .2 5.4 .2-8.7 .2 8 .2-11.1 .2 11.9 .2-7 .2-3.1 .2-.5 .2 .6 .2 6.9 .2-10.3 .2 7.3 .2-10.8 .2 13.1 .2 3.2 .2-8.6 .2 11.4 .2-5.6 .2-4.3 .2-1.5 .2 4.1 .2-5.6 .2 3.1 .2 3 .2-5.8 .2 3.9 .2-11.7 .2 11.7 .2 9.8 .2-8.5 .2-8.5 .2 9.5 .2-6.4 .2-2 .2-1 .2 15.9 .2-11 .2-.2 .2-2 .2 1.5 .2 3.6 .2-3.1 .2 .6 .2 7.7 .2-10 .2 6.2 .2 2.2 .2 3.3 .2-8.1 .2 4.9 .2-9.6 .2 3.7 .2-5.7 .2 9.5 .2-2.8 .2-2.6 .2-4.6 .2 9.9 .2 4.5 .2-2.9 .2 .4 .2-3.3 .2 6.4 .2-12.2 .2 13 .2 1.6 .2-13.4 .2 12.1 .2-6.8 .2 1.7 .2 5.1 .2-7.5 .2-3.4 .2-1.1 .2-3.9 .2 8.6 .2-.5 .2-1.1 .2 3.8 .2-10.3 .2 10.7 .2-4.3 .2 9.7 .2-6.1 .2 3.3 .2 5.1 .2-5.9 .2 1.9 .2-6.5 .2 4 .2-6.6 .2 2.5 .2 1.8 .2-.2 .2 2.9 .2 4.2 .2-11 .2-.7 .2 .4 .2 11 .2-10.7 .2-2.7 .2 8.7 .2-5.7 .2 2.5 .2-.1 .2 5 .2 5 .2-13.1 .2 6.9 .2-10.3 .2 3 .2 3.4 .2-5.1 .2 3.7 .2-3.7 .2 11.1 .2-18.3 .2 19.4 .2-5.9 .2 2.7 .2-7.3 .2 9.7 .2 1.8 .2-1.7 .2-10.8 .2 3.8 .2 3.7 .2 4.3 .2-14.5 .2 10.7 .2-1.3 .2-3 .2-4.5 .2 10.7 .2-9.3 .2-2.4 .2 4.4 .2 4.8 .2 .8 .2 2.3 .2-10.6 .2 1 .2 10.1 .2-5.4 .2 5.8 .2-9.6 .2 1.6 .2-4.9 .2 11 .2-.9 .2 3.2 .2-7 .2-5.7 .2 7.9 .2-5.3 .2 3.5 .2-2.5 .2-2.7 .2 8.9 .2 .5 .2-6.6 .2 9.9 .2-3.9 .2-3.1 .2 5.6 .2-1.1 .2-13.2 .2 17.1 .2-7.4 .2 3.8 .2-.8 .2-6 .2 6 .2-2.9 .2 1 .2 2.7 .2-7.9 .2-.9 .2 6.6 .2 4.2 .2-3 .2 5.4 .2-8.3 .2 8.1 .2-13.6 .2-.2 .2 10.3 .2 4.6 .2-13.9 .2 8.5 .2-.6 .2-1.2 .2 3.5 .2-8 .2 12.6 .2-14.9 .2-1 .2 19.5 .2-21.7 .2 .1 .2 2 .2 11.7 .2-9.2 .2 3.7 .2 1.7 .2-9.9 .2 6.3 .2 9.1 .2-2.7 .2-10.2 .2 6.8 .2 0 .2-2.6 .2 6.1 .2 4.1 .2-6.2 .2 1.5 .2-7.8 .2-.5 .2 12.4 .2-12.6 .2 11.7 .2 1.9 .2-5.4 .2-5.4 .2 6.3 .2-4.4 .2 6.8 .2 3.9 .2-12.2 .2 12.6 .2-10.8 .2 4.9 .2 2.3 .2-1.1 .2-4.4 .2-7.4 .2 14.2 .2-5 .2-12.4 .2 7.8 .2 9.9 .2-18.2 .2 13.1 .2-7.5 .2 5.6 .2-4.8 .2-.5 .2-1.3 .2 8.7 .2 5.2 .2-4.9 .2-4.5 .2-1.5 .2 8.8 .2-9.3 .2 3.9 .2-1.2 .2-9.4 .2 13.2 .2-2.7 .2-.9 .2-8.3 .2 12.7 .2-2.9 .2-2.8 .2 4.5 .2-4.8 .2-6.5 .2 2.3 .2 6.7 .2-1.6 .2 9.3 .2-9.1 .2-2 .2 2.1 .2-3.8 .2 8.5 .2 1.6 .2-12.4 .2 4 .2-1.4 .2-1.2 .2-2 .2 1.9 .2 8.5 .2 3.6 .2-10.9 .2 3.6 .2 9.8 .2-15.8 .2 10.1 .2-3.2 .2-4.9 .2 7.9 .2-4.5 .2 3.8 .2-4.6 .2 2.8 .2-1.5 .2-4.7 .2 4.3 .2 4.3 .2 2.1 .2-9.4 .2 5.5 .2 3.8 .2-7.9 .2 7.2 .2-3.3 .2-6.5 .2 1.5 .2 2.2 .2-3 .2-6.6 .2 6.6 .2 4.1 .2-1.4 .2 4.4 .2-.9 .2 5.7 .2-4.6 .2-8.4 .2 1.4 .2-.6 .2 .6 .2 11.8 .2-8.8 .2-5.1 .2 4.9 .2 1.3 .2-5.8 .2 1.7 .2 6.7 .2-.6 .2-4 .2 5.4 .2 2.9 .2-11.8 .2 2 .2 7.2 .2 3 .2-2.2 .2-3 .2-2.4 .2 5.3 .2-2.6 .2-5.5 .2 1.2 .2 3.7 .2 2 .2-5.4 .2 1.3 .2 1.9 .2 6.2 .2-12.8 .2 11.5 .2-6.3 .2 5.6 .2-7.8 .2 10.7 .2-12 .2-2.1 .2 4.9 .2-4.5 .2 2.2 .2 1.8 .2-7.9 .2 6.1 .2 .1 .2 5.5 .2 .3 .2-1.7 .2-.5 .2 3.5 .2 3.5 .2 1.6 .2-13.3 .2 3.1 .2 4.6 .2 3.5 .2-11.1 .2-.6 .2-.7 .2 9.2 .2-.6 .2-2.2 .2 .2 .2-8.1 .2 2.8 .2 3.5 .2 6.6 .2-4.4 .2-2.1 .2-4 .2 4.8 .2-4 .2 11 .2-3.6 .2-6 .2 12.7 .2-12.1 .2 3.9 .2-.2 .2 1.9 .2 1.5 .2-3.2 .2-6.1 .2 7.8 .2-8.6 .2-.5 .2 7.8 .2 4.1 .2-8.9 .2 10.3 .2-.8 .2-9.2 .2 10.2 .2-5.9 .2 2.3 .2 .3 .2-2.5 .2-2 .2-1.2 .2-.3 .2 12.3 .2-9.7 .2-6.5 .2 4.5 .2 2 .2 1 .2-2.8 .2 .7 .2 4.7 .2 2.1 .2 4.2 .2-4.8 .2-8.3 .2 7.3 .2-3.4 .2-7.9 .2 12 .2-10.5 .2 9.9 .2 1.4 .2-11 .2 10.3 .2 5.2 .2-11.2 .2 6.7 .2-5.1 .2 3.5 .2-7.8 .2 14.9 .2-15.5 .2 12.6 .2-15 .2 9.2 .2-11.2 .2 15.3 .2 .7 .2-9.4 .2 1.1 .2 1.5 .2-7.6 .2 6.9 .2-2.8 .2 8.1 .2 2.9 .2-17 .2 13.1 .2-7.7 .2 .5 .2-.9 .2 3.4 .2 5.3 .2 4.9 .2-12.8 .2 10.8 .2-8.7 .2 2.9 .2-7.1 .2 6.9 .2-3.9 .2 .1 .2 6.7 .2 2.9 .2-6.9 .2-2.9 .2 11 .2-8.2 .2-1.7 .2 2.9 .2-.1 .2 .9 .2-10.3 .2 4 .2 2.9 .2 5 .2-7.3 .2 5.2 .2-7 .2 8.5 .2-7.8 .2 9.4 .2-6 .2-1 .2 8.9 .2-.8 .2-9.1 .2 8.9 .2-10 .2 12.8 .2-2.5 .2-9.8 .2 3.8 .2 8.5 .2-8 .2 7.2 .2-8.1 .2-3.2 .2 10.1 .2-1.9 .2 4 .2-10.8 .2 6.9 .2-1.1 .2 .1 .2 3.3 .2-5.1 .2 .8 .2 7.5 .2-15.9 .2 8.2 .2-.5 .2 4 .2-7.4 .2 3.4 .2 3.4 .2-5.7 .2 2.2 .2 2.6 .2-4.5 .2-7.2 .2 3.8 .2 10.3 .2-9.2 .2 11 .2-9.5 .2 1.2 .2 1.7 .2 3.1 .2-3.5 .2-4.8 .2-.5 .2 5.4 .2 2.2 .2-5.9 .2 6.8 .2-6.4 .2 2.7 .2 .6 .2-5.8 .2 10.6 .2-3.3 .2-9.3 .2 3.5 .2 8 .2-4.9 .2-7.1 .2 4.3 .2 7.8 .2 1.7 .2-5.6 .2-1.3 .2-1.6 .2-2.9 .2 .8 .2 10.5 .2-8.6 .2 3.5 .2-1.1 .2 4.6 .2 2.5 .2 1 .2-12.6 .2 8.5 .2-7.8 .2 3.7 .2-1.6 .2-2.2 .2 12.8 .2-8.9 .2 1.8 .2-1 .2-5.9 .2 7.4 .2-2.3 .2 5.1 .2-2 .2 3.8 .2-1.6 .2-3.6 .2 1.5 .2-7.5 .2 11.6 .2-10 .2 3.1 .2 7.9 .2-13.8 .2 2.8 .2 5.7 .2-7.2 .2 3 .2-1.4 .2-.7 .2 12.1 .2 .4 .2-14.3 .2 8.1 .2-1.1 .2-.8 .2 4.9 .2-12.6 .2 2.9 .2 9 .2-6.7 .2 1.9 .2 4.4 .2 7.7 .2-12.5 .2 8.9 .2-13 .2 .7 .2 9 .2-4.2 .2 6.1 .2-7.1 .2-.7 .2 4.7 .2-9.2 .2 11.7 .2-7.2 .2 1.5 .2 5.6 .2-3 .2-8 .2 .9 .2 10 .2-13.2 .2 5.2 .2 5.4 .2-1.2 .2 1.5 .2 .2 .2-12.1 .2 14.9 .2-7.1 .2-6.4 .2 5.4 .2 2.8 .2 4.3 .2-13.3 .2 3.6 .2 4.1 .2 8.6 .2-7.7 .2 2.9 .2-5.4 .2 2.4 .2-10.1 .2 .7 .2 10.6 .2-4.6 .2 3.8 .2-3.2 .2-2.8 .2 5.5 .2-6.7 .2 6.5 .2-2.7 .2 1.8 .2 3.2 .2 3.8 .2-2.7 .2-3.8 .2 7.1 .2-7.4 .2 9.3 .2-6.8 .2-2.6 .2 1.1 .2-.7 .2 5.8 .2-13.4 .2 14.6 .2-7.5 .2 6 .2-10.1 .2 0 .2 11 .2 1.2 .2-13.3 .2 1.4 .2 3.2 .2 7.7 .2 1.9 .2-4.2 .2-.3 .2-2.5 .2 3"/>
<path stroke="#4d4d4d" d="M379.4 912.4l.5 25.6 2.7 24 1.2 12 2.2 3.9 1 .6 1 .5 1 .9 1 .4 1 .6 1 .3 1 1.1 1 .7 1 .7 1 .2 1-.2 1 .3 1 .2 1 .2 1 .6 1 .2 1-.3 1 .6 1-.1 1 .3 1 .5 1 .3 1-.3 1 .7 1 .1 1 0 1 .2 1 .7 1-.7 1 .1 1 .4 1 .2 1 .3 1 .2 1 0 1 .3 1-.7 1 .9 1-.4 1 .4 1-.3 1 .5 1-.6 1 .5 1 .2 1 .4 1-.8 1 1 1-.5 1 .3 1 .2 1-.3 1 .3 1 .5 1 .2 1-.7 1 1.1 1-.6 1 .6 1 .2 1 .2 1 1 1 .3 1-.4 1 .1 1 .2 1 .4 1-.1 1 .7 1-.1 1 0 1 1.2 1 0 1 .8 1-.1 1 .6 1 .4 1 .6 1-.3 1 0 1 .8 1 .7 1 .2 1 0 1 .5 1 0 1 .6 1 .6 1 .1 1-.4 1 .9 1-.1 1 .3 1 .5 1 .4 1 0 1 .4 1 .4 1 0 1-.1 1 .3 1-.3 1 .4 1 .2 1-.2 1 .1 1-.2 1 0 1 .3 1-.2 1 .9 1-.8 1 .2 1 .3 1 .1 1 .1 1 .2 1-.1 1-.1 1-.2 1-.1 1 .2 1 .5 1-.4 1-.2 1 .9 1-1 1 .2 1 .8 1-.8 1 0 1 .4 1-.3 1 .9 1 0 1-.5 1-.5 1 .2 1 .5 1-.1 1 .7 1-.7 1 .3 1-.4 1 .4 1 .3 1-.1 1-.1 1-.3 1 0 1-.1 1 0 1 .3 1-.1 1 .5 1-.1 1 .1 1 0 1 .5 1-.3 1-.7 1 .9 1-.3 1 0 1 .5 1-.9 1 .5 1-.3 1 .3 1-.2 1 .6 1-.8 1 .7 1-.5 1 .1 1 1.1 1-1 1 .8 1-.5 1-.1 1 .1 1 .7 1-.2 1 0 1-.2 1 .1 1 .2 1 .3 1-.5 1 .3 1 .1 1 .8 1-1.5 1 .7 1-.4 1 .6 1-.4 1 .7 1-.3 1 .3 1-.2 1-.3 1 0 1 .1 1 .1 1 .5 1-1 1 .4 1 .3 1 .3 1-.3 1 .2 1-.3 1 .7 1-.2 1 0 1-.2 1 .4 1 .2 1-1 1 .2 1 .8 1-.3 1-.1 1 .6 1-.4 1 .3 1 .1 1-.6 1 .1 1 .9 1-.2 1-.3 1 .4 1-.2 1 .2 1 .5 1-.7 1 .6 1 .1 1-1.2 1 1.2 1-.6 1-.4 1 .7 1-.3 1 0 1 .4 1 .1 1 .3 1-.2 1 .3 1 0 1-.4 1 0 1-.3 1 .8 1-.5 1 .8 1 .2 1-.9 1 .9 1-.2 1 .8 1-1.3 1 .2 1 .2 1 .4 1-.5 1 .3 1 .3 1 .2 1-.3 1 .6 1-.9 1 .5 1-.4 1 .1 1 .4 1-.3 1 .8 1-.8 1 0 1 .9 1 .6 1-.6 1-.1 1 0 1 .2 1 .4 1-.1 1-.4 1 .4 1 0 1-.5 1 .2 1 .8 1-.6 1 .4 1 .5 1-.7 1 .3 1 .2 1 .7 1-.2 1-.8 1 .1 1 .5 1 .2 1-.7 1 .9 1 .4 1-.7 1 .2 1 .4 1 .4 1 .1 1 0 1-.5 1-.4 1 .1 1 0 1 .6 1-1.1 1 1 1 .1 1-.4 1-.4 1 .1 1 .8 1-.7 1 .7 1-.1 1 .3 1-.5 1 .4 1 .1 1-.6 1 .7 1-.8 1 0 1 .9 1 .4 1-.2 1-.6 1-.5 1 .7 1-.1 1 .3 1-.2 1 1 1-1.7 1 1.3 1-.8 1-.2 1 .4 1 .2 1 .4 1-.3 1-.2 1-.2 1 1.2 1-.7 1 .4 1-.4 1 .1 1-.1 1 .5 1-.4 1 .4 1 .3 1 .1 1-.3 1 .4 1 .2 1-1.1 1 .4 1 0 1 .6 1 .1 1-1 1 .7 1-.4 1 .3 1-.3 1 0 1 .9 1-.3 1-.9 1 .9 1-.9 1 1.3 1-1 1-.1 1 .3 1 .4 1-.3 1 .7 1 .7 1-.2 1-.7 1-.7 1 1 1 .4 1-.9 1 .3 1-.1 1-.4 1 .5 1-.6 1 .9 1 .1 1 .6 1-.9 1 .7 1-1.1 1 .5 1 .5 1-.9 1 .2 1 .8 1 .1 1 0 1-.3 1 .7 1-.2 1-.5 1 0 1-.2 1 .7 1-.5 1 .6 1 .3 1-1 1 .8 1-1 1 .4 1 .3 1-.2 1 .1 1-.4 1-.3 1 .2 1 .6 1 .3 1 .1 1-.8 1 .6 1 .2 1 .4 1-.3 1-.2 1 .1 1 .1 1-.1 1 0 1 .5 1-.2 1-.3 1 .7 1-.3 1-.2 1-.3 1 .4 1-.2 1 .1 1 .3 1 .6 1-.5 1-.5 1 0 1 1.1 1-.9 1 .5 1 .1 1 .3 1-1.1 1 1 1-.1 1-.1 1-.1 1 0 1-.6 1 .9 1 .2 1-.7 1 .3 1 .5 1-.7 1 0 1 1.1 1-1.8 1-.2 1 1.4 1-.4 1-.1 1 .9 1-.1 1-1.3 1 .1 1 .7 1-.3 1 .1 1-.1 1 0 1 .5 1-.2 1-.2 1 .7 1-.3 1-.4 1-.3 1 .3 1 .2 1 .7 1 .2 1-.9 1-.2 1 .9 1-.1 1-.8 1 .2 1 .6 1-.2 1-.4 1 .5 1-1 1 .3 1 .7 1-.1 1 0 1-.1 1 .1 1 .1 1 .8 1-1.4 1 .5 1 .9 1-.8 1 .9 1-.4 1-1 1 .2 1 .1 1-.1 1 0 1 .5 1-.2 1 .8 1-.7 1 .7 1 .7 1-1.8 1 1 1 .5 1-.7 1-.9 1 .7 1 0 1-.1 1 1.2 1-.5 1-.3 1-.6 1 1.9 1-.8 1-.9 1 .1 1 1 1-.7 1 .5 1 .4 1-.4 1-.4 1-.1 1-.3 1 1 1 .4 1-.5 1-1 1 .1 1 .6 1-.5 1 .4 1 .5 1-.9 1 1 1-.5 1 1.1 1-1.1 1 .9 1-.5 1 .4 1-.3 1-1.2 1 1.4 1-.4 1-.6 1-.1 1 1.4 1-.9 1 .6 1-.1 1-1.1 1 1.3 1-1 1 1.3 1 .3 1-.2 1-.8 1 .4 1-.7 1 .9 1 .2 .3-.6 .4 .7 .3 .4 .4-.4 .3 .4 .3-.5 .4-.9 .3-.6 .4 1.2 .3-1.1 .3 1.4 .4-.5 .3-.5 .4 .7 .3-.6 .3-.2 .4 1.2 .3-.7 .4-.8 .3 .3 .3-.2 .4 1.4 .3-.9 .4 .4 .3 .8 .3-.7 .4-.1 .3-.5 .4 .9 .3-.5 .3-.3 .4 .2 .3 .1 .4-.4 .3 1.2 .3-.7 .4 .6 .3 .1 .4-.2 .3-.6 .3 .8 .4-.5 .3 .7 .4-.3 .3-.1 .3-1.1 .4 .7 .3-.3 .4-.8 .3 1.8 .3-1.1 .4 1.1 .3 .1 .4-.3 .3-.7 .3 .3 .4 .8 .3-2 .4 .6 .3 .2 .3 .8 .4-.3 .3-.5 .4-.1 .3 1.4 .3-1.8 .4 1.7 .3-1.4 .4 1.5 .3-1 .3 .5 .4-.2 .3-.7 .4 .4 .3 1.3 .3-.8 .4 .1 .3 1.3 .4-1.3 .3 .8 .3-.4 .4-.5 .3 .3 .4-.1 .3-.3 .3-.1 .4 .2 .3-.4 .4 .5 .3-.5 .3 0 .4-.1 .3-.3 .4 .1 .3-.5 .3 .3 .4 .6 .3-.5 .4 1 .3 .4 .3-.1 .4-.6 .3-.5 .4-.1 .3 .5 .3 .6 .4-.4 .3 .1 .4-.1 .3-.7 .3 .7 .4 .8 .3-1.4 .4 1.4 .3-1.4 .3 .6 .4-.1 .3-.3 .4 .6 .3-.1 .3 .5 .4-1.2 .3-.3 .4 1.5 .3-.9 .3 1.3 .4-.7 .3-.5 .4 0 .3 .1 .3 0 .4 .9 .3-1.4 .4-.2 .3 .7 .3 .9 .4-.4 .3-1.4 .4 1.4 .3 .1 .3 .2 .4 .3 .3 0 .4-1.3 .3 .6 .3-1.1 .4 1.4 .3-1 .4 .6 .3-.9 .3 .7 .4 .6 .3-1.1 .4-.3 .3 2.2 .3-.6 .4 .1 .3 .1 .4 0 .3-.6 .3-.4 .4 .5 .3-.3 .4-.3 .3 1.1 .3-1.7 .4 1.1 .3 .6 .4 1 .3-2.5 .3 .6 .4 .8 .3 .7 .4-.6 .3-1.7 .3 1.1 .4 1.2 .3-.6 .4-1.1 .3 1.3 .3-.3 .4-.4 .3 1.3 .4-1.9 .3 .9 .3-.2 .4-.1 .3-.5 .4 .2 .3 .3 .3-.3 .4 .4 .3 .7 .4-1.2 .3-.1 .3 0 .4-.2 .3 .1 .4 1.6 .3-1.6 .3 .5 .4 1 .3-.8 .4-.7 .3 1.7 .3 .5 .4-2.7 .3 1.2 .4-.9 .3 .6 .3 .1 .4 .6 .3 1 .4 0 .3-1.3 .3 .9 .4-.9 .3 .2 .4 .9 .3-.1 .3-1.5 .4 1.1 .3-.6 .4 .8 .3-.3 .3 0 .4 0 .3-.6 .4 .5 .3-.7 .3 .9 .4-.6 .3 .9 .4-.9 .3 0 .3 .2 .4-.2 .3 .6 .4 .8 .3-.3 .3 .5 .4-2.8 .3 1.4 .4 .4 .3 .1 .3 .2 .4 .5 .3-.3 .4 .1 .3-1 .3 .9 .4 .3 .3-.2 .4-1.4 .3 .7 .3-1.6 .4 1.4 .3 1.4 .4-1.9 .3 .7 .3 0 .4 .1 .3 .7 .4-1.9 .3 .4 .3 1.5 .4-1.5 .3-.3 .4 1.2 .3 .4 .3-.1 .4-1.3 .3-.2 .4 .9 .3-.3 .3 2 .4-1.2 .3-.4 .4-.3 .3 .6 .3-.6 .4-.7 .3 1.4 .4 .6 .3-1.4 .3 .2 .4 1.3 .3 .4 .4-.9 .3-1.4 .3 2.2 .4-.8 .3-.5 .4 .1 .3 .3 .3-1 .4 .8 .3 1.4 .4-1.5 .3 1.3 .3-.9 .4 .1 .3 .1 .4-1.4 .3 1.8 .3-1 .4 .1 .3 .1 .4 1 .3-.7 .3-.9 .4 .6 .3 1.2 .4-.8 .3 .9 .3-1.5 .4-.1 .3-.5 .4 .6 .3 .1 .3 .4 .4 1 .3-1.3 .4 1.4 .3-.3 .3 .3 .4-.3 .3-.3 .4-1.2 .3 0 .3 .3 .4-.5 .3 1.5 .4-1.3 .3 1.6 .3-.9 .4-2 .3 4 .4-1.9 .3 1.3 .3-.6 .4 0 .3 .5 .4-.3 .3-.1 .3-1.6 .4 2.2 .3-1.4 .4 1.8 .3-.9 .3-.6 .4 .4 .3-.7 .4 .9 .3-1.9 .3 .6 .4 .5 .3 .3 .4-.5 .3 1 .3-1.1 .4 1.5 .3-1.9 .4 .1 .3 .5 .3-.8 .4 2.4 .3-2.5 .4 .6 .3 .2 .3 1.5 .4 .2 .3-1.1 .4 .2 .3 .5 .3-.1 .4-1.5 .3 1.6 .4-.5 .3-.2 .3 1.3 .4-1.4 .3 .4 .4-.5 .3-1 .3 1 .4-.5 .3-.1 .4 2.2 .3-1.2 .3 .3 .4 .4 .3 .6 .4-1.8 .3-.2 .3-.1 .4 .9 .3 .1 .4-.2 .3 .3 .3-1.5 .4 2.4 .3-.5 .4-.2 .3-1.8 .3 0 .4 .9 .3-.5 .4 .2 .3 .6 .3 1.1 .4 .2 .3-.2 .4-1 .3 .4 .3 .1 .4 .4 .3-1.3 .4 1.7 .3-1.1 .3 .2 .4 .7 .3-.3 .4 .2 .3-.6 .3 .5 .4-.3 .3-1.7 .4 2.2 .3 .2 .3-1.5 .4-.3 .3 1.9 .4-2 .3 .8 .3 .3 .4-.4 .3 .6 .4 1 .3-.2 .3-1.3 .4 .6 .3-2.2 .4 2.2 .3-.6 .3-.9 .4 2.5 .3-.4 .4-.8 .3 1 .3-.5 .4 .3 .3 0 .4 .6 .3-2.2 .3 1.7 .4-.7 .3-1.1 .4 1.7 .3-2 .3 2.4 .4-.6 .3-1.8 .4 1.2 .3 1.6 .3-.2 .4-1.8 .3 1 .4 .4 .3-1.3 .3 .7 .4 .7 .3-1.1 .4-1.3 .3 1.3 .3 .7 .4-1.7 .3 1.9 .4-.4 .3-1.4 .3 .6 .4 .9 .3 .4 .4-.5 .3-.9 .3 .7 .4 1.8 .3-2.6 .4 .4 .3-1.2 .3 .4 .4 .2 .3-.2 .4-.6 .3 1.9 .3-.7 .4 .4 .3 1.3 .4-.4 .3-.6 .3-1.4 .4 1 .3-.5 .4 1.7 .3-1.4 .3 .1 .4 1.1 .3-.3 .4-.9 .3 2 .3-.8 .4-1.1 .3 0 .4 2.2 .3-1.6 .3 1.4 .4-2.7 .3 1.1 .4 1.1 .3-1 .3-.9 .4 2.2 .3-1.1 .4 .2 .3 0 .3-1.4 .4 1.3 .3-1.2 .4 .2 .3 1 .3-.8 .4 1 .3-1.1 .4 .3 .3 .1 .3 1.4 .4-1.1 .3-1 .4-.4 .3 .4 .3 2.1 .4-.8 .3-.2 .4 1.2 .3-.9 .3-.3 .4-.8 .3 1.6 .4-1.7 .3 1.5 .3-1.9 .4 0 .3 .6 .4 1.6 .3 1.5 .3-.7 .4-2.5 .3 .7 .4 1.1 .3-1.1 .3 1.6 .4 .2 .3-.3 .4-.4 .3-.8 .3 1 .4-2 .3 2.3 .4-.3 .3-.8 .3-1.4 .4 2.5 .3-2.4 .4 1.6 .3-1.4 .3-.1 .4 2.4 .3-1 .4-.3 .3 1.9 .3 0 .4 1.1 .3-.8 .4-1.9 .3-.3 .3 .8 .4-2.8 .3 .4 .4 3.1 .3-.2 .3-1.1 .4 .6 .3 0 .4-.9 .3 .6 .3-.4 .4-.7 .3 2.8 .4-3.5 .3 2 .3-1.3 .4 2.3 .3-1.9 .4 1.2 .3 .7 .3-1.5 .4-.8 .3 .1 .4 .6 .3 1.3 .3-.5 .4-1.3 .3 1.7 .4-1.6 .3 2.2 .3-2 .4-.4 .3 1.8 .4-.1 .3 .2 .3-1.4 .4-.4 .3-.8 .4 1.2 .3-.2 .3 1.5 .4-1 .3 .6 .4 .5 .3-.5 .3 .6 .4-1 .3 1.1 .4-1.1 .3-.6 .3-.7 .4 1.6 .3 1.1 .4-2.1 .3 .5 .3-.3 .4 .6 .3-.9 .4-.2 .3 1.1 .3-1.4 .4 2.3 .3-1.1 .4 .1 .3 .1 .3 .2 .4 .8 .3-.4 .4-1.2 .3 1.9 .3-1.6 .4 1 .3-1.2 .4 2 .3-1.4 .3-2 .4 1.8 .3 1.1 .4-2.2 .3 1.6 .3-.7 .4-.8 .3 2.6 .4-1.6 .3-.1 .3 .6 .4 2.3 .3-1.6 .4-1.4 .3 .5 .3 .6 .4 .8 .3-2 .4 2.3 .3-1.6 .3-.1 .4 .5 .3 0 .4 .8 .3-.9 .3-1.4 .4 .3 .3 .1 .4 .6 .3-.1 .3-.2 .4 1.4 .3-1.8 .4 1.6 .3-.4 .3 .8 .4-.6 .3-1.1 .4 2.1 .3-1.8 .3 .7 .4 .5 .3-.3 .4 .5 .3-1.8 .3 1.1 .4-.2 .3 .8 .4-.3 .3-.6 .3-.7 .4 .3 .3-.2 .4 2 .3-2 .3 1.5 .4-2.2 .3 3.5 .4-1.4 .3 1.1 .3-.7 .4-.8 .3 1.2 .4-2.6 .3 .4 .3-.1 .4 .7 .3-.1 .4 2.2 .3-.3 .3 .2 .4-3 .3 2.4 .4 1 .3-3.3 .3 1.1 .4-.9 .3 2.4 .4-2.4 .3 2.4 .3-.5 .4-2.7 .3 3.7 .4-2.7 .3 1.4 .3-.5 .4 .9 .3-1.6 .4 1.9 .3-.4 .3-.9 .4-.8 .3 1.4 .4-1.1 .3 .8 .3-.9 .4 1.7 .3-.5 .4-1 .3 1.9 .3-2.6 .4-.6 .3 2.9 .4-2.2 .3 2.6 .3 .2 .4-.7 .3 1.8 .4-1.5 .3-.6 .3-1.4 .4-.5 .3 .4 .4 .7 .3-.7 .3 1.4 .4 1.3 .3 .9 .4-3.9 .3 2 .3-2 .4 2.1 .3 0 .4 .4 .3-1.6 .3 2.6 .4-1.4 .3-2.3 .4 3.9 .3-1.6 .3-1.6 .4 .9 .3-.9 .4 2.7 .3-2.8 .3 .2 .4 2.7 .3-2.3 .4 2.4 .3 .1 .3-3.1 .4 1.7 .3-.2 .4-2.5 .3 2.4 .3 .3 .4-.9 .3 1.7 .4-2.2 .3-.3 .3 2.1 .4-1.2 .3-.5 .4 .9 .3 .8 .3 .9 .4-3.5 .3 1.5 .4-.9 .3 1.3 .3 .1 .4 .8 .3-.5 .4-1.4 .3-.5 .3 .9 .4 1.4 .3-.9 .4 2.7 .3-1.6 .3 .4 .4-2.3 .3 2.3 .4-1 .3 .6 .3-1.7 .4 2.4 .3-.5 .4 1.8 .3-.7 .3-1.4 .4 2 .3-2.3 .4 2.2 .3-3.7 .3 4.8 .4-3.2 .3 .3 .4-1.5 .3 3.2 .3 .2 .4-2.5 .3-.6 .4 1.5 .3 1.1 .3-.7 .4 .8 .3-1.3 .4 2 .3-2.6 .3 2.1 .4-2.4 .3 1.8 .4 1.1 .3-1.5 .3 .3 .4-.7 .3 1.1 .4 .7 .3-.3 .3-.8 .4 1.1 .3 1.3 .4-1 .3-.1 .3-1.7 .4 1.6 .3-2.5 .4 1.1 .3-.2 .3 .2 .4-1.4 .3 1.9 .4-.2 .3 1.7 .3-2.3 .4 1.6 .3 .7 .4 0 .3-1.3 .3 1.1 .4-1.3 .3 1.9 .4-.4 .3-2 .3-.5 .4 2.7 .3-2 .4 2.1 .3 1.1 .3-2.7 .4 2.1 .3-4 .4 1.6 .3 2 .3-3.5 .4 2.8 .3-1.2 .4 1.8 .3-1.3 .3-1.5 .4 1 .3 .4 .4 2.5 .3-2.4 .3 1.6 .4-.3 .3 .5 .4-.7 .3-1.6 .3 .9 .4 .1 .3-1.4 .4 1.7 .3-1.8 .3 1.1 .4-.4 .3-.1 .4 .4 .3 2.8 .3-.8 .4-1.4 .3 .9 .4-1.6 .3-.6 .3 2 .4-.5 .3-1.9 .4 .8 .3 1.6 .3 .8 .4-.6 .3 .1 .4 2.3 .3-1.7 .3-.8 .4 2.1 .3-1.5 .4-1.7 .3-.4 .3 1.6 .4 .9 .3-.7 .4 1.6 .3-3.3 .3 2.2 .4-1 .3 1.1 .4-1 .3 1 .3 .7 .4-2.6 .3 2.7 .4-1.6 .3 2.4 .3-2.5 .4 1.6 .3-1.3 .4 1.5 .3 .4 .3 .8 .4-3.1 .3 1.7 .4-2.5 .3 2.2 .3-.9 .4 .9 .3-2 .4 2.1 .3 2.3 .3-.7 .4-.9 .3-.9 .4 .7 .3 .6 .3 1.3 .4-3.3 .3-.2 .4 .2 .3 1 .3 .6 .4-2.5 .3 2.4 .4-2 .3 3 .3-1.3 .4 .7 .3-2.9 .4 3.7 .3-2.6 .3 .4 .4 1.9 .3-2.5 .4 .6 .3 .2 .3-.4 .4 3.3 .3-3.8 .4 1.9 .3-.8 .3-.4 .4-.9 .3 .2 .4 .6 .3 2 .3-3.7 .4 1.7 .3 1.7 .4 1.4 .3 .6 .3-2.7 .4-.5 .3-1.3 .4 1 .3 3 .3-.8 .4 1.8 .3-3 .4-.5 .3 1.3 .3 .2 .4-.9 .3-2.3 .4 2.8 .3 2.2 .3-1.4 .4 1.9 .3-2.5 .4 .1 .3 1.2 .3-1 .4-.2 .3-.6 .4 2.9 .3-2.6 .3 1.2 .4 1.8 .3-1.4 .4-3 .3 1.7 .3 1.1 .4-1.4 .3 .7 .4 1.8 .3-.7 .3-2.1 .4 3.5 .3-4.3 .4 4.5 .3-1.4 .3 1.7 .4-3.3 .3 1.2 .4-1.7 .3-.8 .3 3.2 .4 1.1 .3-2.4 .4-.8 .3 4.4 .3-1.7 .4-.8 .3 .4 .4 0 .3 2.6 .3-2.9 .4 .6 .3-.1 .4-.6 .3 0 .3 1.4 .4-2.9 .3 3.9 .4-.9 .3 .9 .3-2.3 .4 1.6 .3 0 .4-1.7 .3 3.9 .3-3.1 .4 1.7 .3 0 .4-2.3 .3 .5 .3 2.9 .4 1.2 .3-3.3 .4-.6 .3 2.6 .3-2 .4 0 .3-2.5 .4 3.7 .3 1.5 .3-.3 .4-3.4 .3 1.9 .4 1.1 .3-.5 .3 2.9 .4-4.5 .3 1.4 .4-2 .3 .7 .3 4.4 .4-4.9 .3 2.8 .4-1.3 .3 0 .3 1.2 .4-2 .3 .3 .4-1.1 .3 3.4 .3-.8 .4-2.2 .3 1.1 .4 1.4 .3-.8 .3 1.7 .4-1.4 .3 1.5 .4 0 .3 1.7 .3-4.1 .4 2.5 .3 2.1 .4-1.7 .3-3.2 .3 5.2 .4-2.2 .3-.3 .4-2.6 .3 .7 .3-.8 .4-.9 .3 5 .4-.3 .3-3.7 .3 3.4 .4-1.4 .3 2.9 .4-3.4 .3 3.8 .3-5.1 .4 3.3 .3-.9 .4-2.4 .3 4.2 .3-3.9 .4 .2 .3 3.3 .4-.7 .3-.6 .3 1.8 .4-2.8 .3 2.3 .4-3.6 .3 3.7 .3 1.7 .4-3.5 .3 4.3 .4-3.1 .3 1.8 .3-1.1 .4-1 .3-.5 .4 4.5 .3-2.9 .3 4.1 .4-3.3 .3-.5 .4-.6 .3 1.5 .3-.5 .4-.1 .3 0 .4 3.6 .3-3.9 .3 .5 .4 3.1 .3 .1 .4-.8 .3 .2 .3 .6 .4-4.5 .3 3.7 .4 1.3 .3-4.6 .3 1.2 .4 .5 .3 5.3 .4-7.1 .3 2.5 .3 4.4 .4-3.5 .3 1.3 .4 3 .3 .8 .3-3.3 .4 1.7 .3 3 .4-1.3 .3-2.6 .3 1.8 .4 1.3 .3-1 .4 .8 .3 2.8 .3 1.3 .4-4.2 .3-.6 .4 2.2 .3-2.1 .3 .7 .4 4.7 .3 1.2 .4-.7 .3 1.2 .3-1.3 .4 1.6 .3-3.6 .4 3.9 .3-1.5 .3 2.5 .4-.1 .3 2.9 .4 2.2 .3-5.5 .3-.9 .4 6.2 .3-3.9 .4 4.9 .3-3.6 .3 3.9 .4 .5 .3-4.4 .4 1.6 .3 5.1 .3-.6 .4 1.1 .3-2.8 .4-5.1 .3 8.6 .3-3 .4-3.6 .3-.8 .4 4.9 .3-1.4 .3 1.2 .4 2.1 .3-1.7 .4 7 .3-9.1 .3 3 .4 .7 .3 5 .4-7 .3 .1 .3 7.6 .4-6.4 .3-2.7 .4 6.3 .3-.3 .3 1 .4-.5 .3 2.7 .4-1.7 .3-.6 .3-.1 .4-7 .3 6.9 .4 4.1 .3-5.1 .3 5.4 .4-3.7 .3-2.8 .4 4.7 .3-3.1 .3-4 .4 3.7 .3 3.8 .4 2.4 .3-7.1 .3 2.4 .4 5.1 .3 1.2 .4-6.2 .3 6.8 .3-1.4 .4-2.6 .3 .7 .4-1.1 .3 4.2 .3-5.5 .4-.2 .3 0 .4 6.7 .3 1 .3-8.1 .4 2.7 .3 5.8 .4-5.4 .3 .9 .3-3.2 .4 6.6 .3-6.3 .4 4.4 .3-1 .3 0 .4 3.6 .3-7.5 .4 9.5 .3-3.9 .3-1.9 .4 .9 .3-2.3 .4 4.6 .3 0 .3-3.7 .4 2.3 .3-5.3 .4 .6 .3 5.6 .3-9.4 .4 11.1 .3 .2 .4-6.9 .3 4.8 .3-5.2 .4 0 .3 .9 .4 .8 .3 1.4 .3-1.2 .4 2.7 .3-4.5 .4 2.6 .3-.3 .3-2.7 .4 6.9 .3-5.6 .4 2.8 .3 .2 .3 1.9 .4 1.7 .3-8.8 .4 3.2 .3 5.2 .3-5.5 .4-.6 .3-.1 .4 4.2 .3-3.3 .3 3.9 .4-5.1 .3 4 .4-5.6 .3 8.2 .3-4.7 .4 0 .3-5.3 .4 4.5 .3 1.6 .3-2 .4-4.1 .3 8.4 .4-10 .3 1.2 .3 3 .4-.9 .3 3.3 .4-5.8 .3 1 .3 5.7 .4-3.6 .3-2 .4 7.8 .3-1.9 .3 .5 .4-6.5 .3 2.8 .4 .7 .3 4.4 .3-1.9 .4-8.6 .3 8 .4-3.6 .3 2.3 .3-.5 .4 1.6 .3-.4 .4 2.8 .3-7.9 .3 1.4 .4-1.5 .3 2.5 .4-.4 .3 1.8 .3 0 .4-.6 .3 5 .4-5.4 .3 2.6 .3-4.4 .4-3.5 .3 3.9 .4-5.1 .3 4.9 .3-3.4 .4-.5 .3 5.9 .4-1.1 .3 1.3 .3-8.2 .4 4.2 .3-3 .4 3.4 .3-3.3 .3 1.1 .4-1.5 .3 5.5 .4-7.1 .3 3.9 .3 .3 .4-4.4 .3 2.8 .4 5.8 .3-3.7 .3-.5 .4-.5 .3 1.9 .4-.4 .3 2 .3-4.1 .4-3.9 .3 7.4 .4-5.1 .3 2.8 .3-7.9 .4 13.6 .3-8.7 .4 8.3 .3-6.8 .3 4.5 .4-3 .3 4.5 .4-8 .3-2.3 .3 4.9 .4 4.3 .3-2.7 .4-.3 .3-3.9 .3 5.6 .4-2.8 .3-2.8 .4 5.2 .3-7.6 .3 2.8 .4 1.9 .3 .8 .4-5.5 .3 10.6 .3-6.5 .4-2.1 .3 3 .4 .7 .3-2.7 .3-1.6 .4 .8 .3 2.7 .4-.2 .3 1.1 .3 .3 .4 .8 .3-4.4 .4 2.3 .3-1.3 .3-1.4 .4-3.2 .3 2.1 .4 5.8 .3-.3 .3-3.1 .4-.8 .3-.8 .4 4.5 .3 1.9 .3-3.1 .4-6.6 .3-1.1 .4 7.2 .3-5.6 .3 5.2 .4-4 .3 5.7 .4-6.3 .3-2.8 .3 3.7 .4 7.6 .3-7.5 .4 4.9 .3-2.9 .3 1.7 .4-9.6 .3 4.8 .4 1.3 .3 2.5 .3-1.5 .4-7.5 .3 9 .4-.8 .3-4.4 .3 2.2 .4-3.3 .3 8.4 .4-1.7 .3 2.1 .3-1.3 .4-7.8 .3 3.1 .4 5.4 .3-1 .3-7.3 .4 7.1 .3-5.7 .4-.8 .3 3 .3-1.9 .4-4.7 .3 8.8 .4-2.8 .3 2.9 .3-2 .4-2 .3-2.7 .4 5 .3-4.4 .3 5.1 .4-2.1 .3 1.8 .4-1.4 .3 3.2 .3 .5 .4-1.5 .3-4 .4-3 .3 .5 .3 3.2 .4-6.9 .3 9.2 .4-2.2 .3-6.7 .3 3.9 .4-.5 .3-3.4 .4-3.3 .3 10.1 .3-3 .4 2.2 .3 4.9 .4-5.2 .3 3.7 .3-.9 .4-2.3 .3 1.9 .4-5.1 .3 6.6 .3-8.3 .4 3.5 .3-3.7 .4 7.7 .3-.1 .3-7 .4 9.6 .3-1.4 .4-1 .3-1.6 .3-6.6 .4 7.2 .3-10.2 .4 9.7 .3 1.5 .3-3.9 .4-1.6 .3 4.7 .4-4.4 .3-1.5 .3-2.3 .4 3.8 .3-3.4 .4 6.5 .3-7.3 .3 3.6 .4-5.1 .3 5.1 .4 2.8 .3 1.1 .3-4.8 .4 5.2 .3 .1 .4-2.7 .3-.4 .3-6.1 .4 8.5 .3 .5 .4-3.2 .3-2.6 .3-.7 .4 3.3 .3-2.9 .4-.9 .3 3.9 .3-6.8 .4 10.5 .3-.4 .4-7.8 .3 6 .3 .4 .4-8.4 .3 7.5 .4 1.6 .3-1.8 .3-3.7 .4-3.6 .3 10.7 .4-9.8 .3 6.8 .3-7.2 .4 6.1 .3-6.3 .4 7.1 .3-6.2 .3 6.2 .4-5.3 .3 .4 .4-2.1 .3 6.9 .3-1 .4-1.7 .3 1 .4-.4 .3 5.3 .3-6.2 .4 .7 .3-1.7 .4-2.3 .3-1.1 .3 4.7 .4 7.2 .3-5.7 .4 1.3 .3 1.1 .3-.3 .4-.2 .3 1.5 .4-5.9 .3 .3 .3-.2 .4-6.6 .3 .9 .4 10.6 .3-10.3 .3 9.9 .4-1.4 .3-5.6 .4 .6 .3-3.6 .3-.4 .4 7.2 .3-1.9 .4 2 .3-1.9 .3 5.5 .4-4.8 .3 1.8 .4 .8 .3 2.8 .3-1.2 .4 1.9 .3-10.5 .4 2.8 .3 1 .3-4.5 .4 4.1 .3 1.1 .4 .4 .3 1.1 .3-3.8 .4 5.3 .3-1 .4-1.6 .3-2.9 .3 .5 .4-.3 .3-2.5 .4 8 .3-.8 .3-1.1 .4-3.8 .3 3.6 .4 2.1 .3-2 .3 1 .4-5.5 .3 7.2 .4-6.3 .3 .6 .3 5.6 .4-3.5 .3 4.8 .4-2.9 .3-4.7 .3 6.8 .4-6.9 .3-1.4 .4 6.2 .3-1.4 .3 4.8 .4-2.7 .3-1.4 .4-2.8 .3 3 .3-3.9 .4-.6 .3-.6 .4 5.5 .3-5.4 .3 5 .4-5.7 .3 8.2 .4-5.3 .3 1.5 .3 2.7 .4 .9 .3-7.8 .4 4.5 .3 .8 .3-4.3 .4-.2 .3 .6 .4-1.8 .3 6 .3-.8 .4 3.4 .3 0 .4-7 .3 .7 .3 5.2 .4-1.8 .3-.5 .4-3.8 .3-.7 .3 .5 .4 2 .3 3.4 .4 1.1 .3-3.1 .3-3 .4 4.1 .3-4.4 .4 2.8 .3 2.2 .3-3.5 .4-1.1 .3 3.5 .4-6.4 .3 9.4 .3-9.7 .4 0 .3 1.7 .4 7.1 .3-7.8 .3 4.1 .4-6.4 .3 13.2 .4-9.8 .3 1.2 .3 3.8 .4-2.7 .3-2.7 .4 2.3 .3-1 .3-1.1 .4 8.2 .3-2.6 .4-7.3 .3-.6 .3 1.5 .4 6.4 .3-.4 .4 2.2 .3 .6 .3-2.4 .4-6.4 .3 1.8 .4 1 .3-2.4 .3 7.2 .4-1.7 .3 .5 .4-.8 .3 .1 .3-1 .4 1.9 .3-7.5 .4 7.2 .3 3.8 .3-4.7 .4-4.2 .3-2.1 .4 3.9 .3 2 .3-2.6 .4-1.3 .3-1.4 .4 4.3 .3-1 .3 3.8 .4-2.8 .3 5.4 .4-7.5 .3 3 .3 4.1 .4 .8 .3-8 .4 7.6 .3-5.8 .3 1.7 .4-5.6 .3 4.4 .4 3 .3-7.2 .3 7.6 .4-.5 .3-5.3 .4 2.5 .3 6.5 .3-3.8 .4-2.2 .3 .6 .4 2.4 .3-.7 .3-3.7 .4-2 .3 3.3 .4-5.2 .3 6.8 .3-.5 .4 2.8 .3-6.4 .4 .9 .3 6.6 .3-2.1 .4-1.8 .3-1.3 .4 4.9 .3-.2 .3-1.3 .4-3.9 .3 4 .4-1.4 .3-2.1 .3 4 .4-6 .3 .1 .4-4.5 .3 8.2 .3-2.2 .4 1.3 .3 .3 .4 2.3 .3-.8 .3-.1 .4-5 .3-.7 .4 7.2 .3-2.5 .3 .4 .4-.3 .3-4.4 .4 3.8 .3 0 .3-2.7 .4 8.1 .3-1.5 .4-.8 .3-.7 .3 6.7 .4-10.5 .3 5.5 .4-2.1 .3-5.1 .3 6.9 .4 .9 .3-7.7 .4 6 .3-3.8 .3 .1 .4 1.8 .3 .7 .4-4.1 .3 2.5 .3 4.8 .4 4.2 .3-8.1 .4-3.9 .3 7.6 .3 1.6 .4-6.9 .3 4.3 .4 .9 .3-8.8 .3 7.2 .4-4.1 .3 1.9 .4-.6 .3 4.1 .3-7.9 .4 5.2 .3 3.1 .4 3.5 .3-4.7 .3-4.6 .4 5.6 .3 1.6 .4-8.4 .3 7.2 .3-5.4 .4 .2 .3-2.9 .4 2.9 .3-.2 .3 2.3 .4 1.7 .3 3.4 .4-3.5 .3 3.3 .3-5.2 .4 4.6 .3-.2 .4-9.1 .3 1.8 .3 1.3 .4 10.2 .3-8.5 .4 1.4 .3-.2 .3 1.6 .4-7.6 .3 8.3 .4-8 .3 7 .3-3.9 .4 5.1 .3-6.6 .4-2 .3 6.3 .3 .5 .4-3.9 .3-3 .4 1.7 .3 5.6 .3-7.9 .4 6.8 .3-3 .4-2.8 .3-.9 .3 1.3 .4 4.6 .3-5.4 .4 4.2 .3-1.3 .3-.8 .4-1.3 .3 1.6 .4-2.9 .3 2 .3 8.8 .4-3.3 .3-5.5 .4 1.6 .3 3.7 .3-1.5 .4 7.5 .3-9.7 .4-4.6 .3 13.2 .3-1.3 .4-4.4 .3-7.4 .4 0 .3 3 .3 .5 .4 6.4 .3 1.9 .4-13.8 .3 12.3 .3-6.5 .4 8.9 .3-3.4 .4-7.6 .3 8.6 .3-.5 .4-1.6 .3-.9 .4 7.1 .3-12 .3-1.2 .4 7.9 .3-6.5 .4-.8 .3 11.4 .3-4.9 .4 2.8 .3-2 .4 5.7 .3-10.3 .3 3.7 .4-3.9 .3 4.9 .4 0 .3 6 .3-12.9 .4 .6 .3 10.7 .4-13.5 .3 2.6 .3 9.6 .4 .8 .3-10.8 .4-.5 .3 10.3 .3-2.4 .4-7.2 .3 3.5 .4 8.3 .3-5.6 .3 2.1 .4-10.6 .3 10.8 .4-4.2 .3 4.6 .3-7 .4 3.2 .3 3.6 .4 2 .3-8.3 .3 4 .4-3 .3 1.4 .4 3.1 .3 3.1 .3-8.8 .4-1.1 .3 4.4 .4-1.4 .3 .4 .3-5.8 .4 7.1 .3 4.2 .4 .7 .3-4.9 .3-.8 .4-.4 .3 3.2 .4-.4 .3 .3 .3 4.6 .4-7.8 .3 3.2 .4-1.2 .3-1.5 .3 1.1 .4 6.6 .3-.8 .4-1.5 .3 .4 .3-9.6 .4 2.1 .3 2.4 .4-.2 .3-.8 .3 10.6 .4-13.3 .3 4.1 .4 6 .3-7.7 .3-1.7 .4 12.7 .3-16.1 .4 3.1 .3 9.9 .3-1.8 .4-3.2 .3 1.7 .4-7.9 .3 5.4 .3 4.6 .4-2.3 .3-5 .4 2.2 .3 3 .3-7.6 .4 2.3 .3 1.9 .4 5.3 .3-2.1 .3-3.9 .4-3.8 .3 8.1 .4 .4 .3-3.5 .3-3.1 .4 6.6 .3-3.7 .4-1.3 .3 5.4 .3 2.4 .4-11.2 .3 9.3 .4-6.5 .3-.9"/>
<path stroke="#f03c3c" d="M379.6 912.4l1.4-212.4 1.3-250 .6-70 .7-50.5 1-14.8 1-6.4 1-6.7 1-2.7 1-1.4 1-2.7 1-2.2 1-.8 1-1.7 1-1.7 1-1.4 1-1 1-1.7 1-.3 1 .5 1-.5 1-.6 1 0 1-.7 1 .1 1-1 1 .3 1-.7 1-.3 1-.1 1-.7 1-.1 1-.2 1-1.2 1-.2 1-.7 1-1 1 .9 1-.9 1-1 1 .1 1-.9 1-.2 1-1.1 1-.8 1-.5 1-.4 1-1.1 1 .3 1-1.1 1-.8 1-1.3 1-.8 1-.2 1-1 1-1.2 1-1.8 1-.6 1-.5 1-.6 1-1.4 1-.9 1-1.3 1-1 1-1.6 1 0 1-1.2 1-1.6 1-.2 1-1.9 1-1.2 1-.2 1-.6 1-2.2 1-.3 1-2 1-.4 1-1.8 1-.6 1-.5 1-1 1-.9 1-1.6 1-1 1-1.4 1 .2 1-1.3 1-1.4 1-.6 1-1.2 1-.5 1-1.7 1-.8 1-.2 1-1.8 1 .1 1-.4 1-1.3 1-.7 1-.7 1-.9 1-.6 1-1.7 1 .2 1-1.6 1-.3 1-.4 1-.1 1-1.3 1-1.9 1 .2 1-1.1 1 1.1 1-2.3 1-.7 1-.8 1-1.1 1 .8 1-.5 1-2.1 1-.4 1-1.7 1 1.3 1-2.2 1-.5 1-.4 1 .7 1-1.1 1-.7 1 .1 1-1 1-.9 1-.6 1-.5 1 1.3 1-3.4 1 .2 1 .3 1 .5 1-.7 1-1 1-1 .3 1.8 .4-.8 .3-1.1 .4 .2 .3-1.5 .3 1.6 .4 .5 .3 .1 .4 0 .3-2.5 .3 1.6 .4-2.2 .3 .8 .4 .3 .3 .1 .3-.9 .4 .7 .3-.3 .4-.4 .3 .1 .3-.1 .4 .6 .3-2 .4 1.1 .3-.9 .3 .7 .4-.4 .3 .3 .4-.6 .3 1.7 .3-3.8 .4 .2 .3 2.1 .4-1.3 .3-.7 .3 2.2 .4-.5 .3-.8 .4 1.5 .3-1.3 .3-.8 .4 1.4 .3-2 .4 2.1 .3-2.8 .3 .3 .4 1.6 .3 .6 .4-1.2 .3-1.2 .3 1.9 .4-2.8 .3 1.2 .4-2.3 .3 2.6 .3-.1 .4 0 .3-.3 .4-1.6 .3 .5 .3-.4 .4 1.5 .3-2.4 .4-.5 .3 2.2 .3-1.9 .4 1.8 .3-.1 .4-2.4 .3 2.2 .3-1.3 .4-.4 .3 .9 .4-1.5 .3 1.4 .3-.1 .4-2.4 .3 .4 .4-.5 .3 .2 .3 2.3 .4-2.3 .3 2.1 .4-.4 .3-2.4 .3 1 .4-1.6 .3 2 .4-.3 .3-.5 .3-.4 .4 2.3 .3-2.2 .4 0 .3-.2 .3 .4 .4 1.2 .3-3.3 .4 .8 .3 .1 .3 .8 .4-2.2 .3 1 .4-.1 .3 1.2 .3 0 .4-.7 .3-1.6 .4-.4 .3 .9 .3 1.8 .4 0 .3-2.2 .4 1.7 .3-.3 .3-1.1 .4 .1 .3 .4 .4-1.7 .3 1.7 .3-2.8 .4 2.6 .3 .1 .4 .9 .3-1.7 .3-2.6 .4 4 .3-1.7 .4 1.8 .3-2.1 .3-.5 .4 0 .3-1 .4-.4 .3 1.4 .3-.6 .4 0 .3-.4 .4 1.2 .3 .1 .3-2 .4 .9 .3-.8 .4 2.3 .3-3.4 .3 .5 .4 .4 .3 .1 .4 .8 .3-1.8 .3-1.3 .4 2.1 .3 1.4 .4-1.8 .3 1.8 .3-.8 .4 .1 .3-.1 .4-.9 .3 0 .3-.6 .4 1.2 .3-3.2 .4 1.9 .3-.5 .3-1 .4 .4 .3 2.6 .4-2.4 .3-.7 .3 1.9 .4-1.6 .3 .4 .4-.4 .3-.1 .3 1.6 .4-1.7 .3 1.4 .4-3 .3-.5 .3 2.4 .4-.6 .3-.6 .4-.7 .3 1.4 .3-.3 .4 .2 .3 1 .4-1.5 .3 .9 .3-.3 .4-2.6 .3 1.6 .4-.5 .3 1.1 .3-3.1 .4 2.2 .3 1.3 .4 .1 .3 .3 .3-1.6 .4-.3 .3 .2 .4-1.7 .3 2 .3 .5 .4-.2 .3-.2 .4 .8 .3-3.6 .3 .5 .4 1.4 .3-.8 .4 1.6 .3-1.1 .3-1 .4 .7 .3-1.6 .4 .7 .3-.9 .3 .7 .4 1.7 .3-.3 .4-.5 .3-1.4 .3 2.7 .4-2.4 .3-.9 .4 .2 .3-.1 .3 1.5 .4-1.5 .3 3 .4-3.7 .3 .1 .3 1 .4-.6 .3 .5 .4-.7 .3 1.5 .3-1.5 .4-.1 .3 1.8 .4-2.6 .3 1.1 .3 1.1 .4 .2 .3-2 .4 .2 .3-.3 .3 1.7 .4-.5 .3-1.8 .4-.6 .3 2.6 .3 0 .4 1.4 .3-.9 .4-1.6 .3-1.4 .3 1.8 .4-.2 .3-1 .4 1 .3-.4 .3-.2 .4 .7 .3-.9 .4 1.3 .3-.1 .3-1.3 .4-.4 .3-.2 .4 .8 .3-1.2 .3 .2 .4-1.3 .3 2.2 .4-.9 .3 2.1 .3-.5 .4-3.1 .3 .9 .4 1.5 .3-1.8 .3 1 .4-.3 .3 2.2 .4-3.8 .3 1.8 .3-2.2 .4 1.7 .3 .8 .4-1.6 .3-.8 .3 .6 .4 .1 .3 1 .4-.7 .3 .4 .3-.2 .4-1.2 .3 3.5 .4-2.9 .3 1.4 .3-.5 .4 1.9 .3-2.9 .4 2.1 .3-1.1 .3-.2 .4 0 .3 0 .4-1 .3 1.6 .3-3.3 .4-.1 .3 1.6 .4 .4 .3 1.6 .3-2.1 .4 .8 .3 .8 .4 .1 .3-.2 .3-2.8 .4-.1 .3 .2 .4 .2 .3-.5 .3-1.1 .4 .1 .3 2.6 .4-1.3 .3 .5 .3 .1 .4 1.4 .3-1.3 .4-1.3 .3 1.2 .3-.9 .4 .2 .3-.5 .4 0 .3-.3 .3 1.4 .4-.9 .3-.2 .4 1.2 .3-3.5 .3 .4 .4 .4 .3 2.3 .4 .1 .3-.8 .3 1.4 .4-2.2 .3 2.7 .4-2.8 .3 1.5 .3-.6 .4 .3 .3-.9 .4-.4 .3-1.1 .3-.2 .4 4.2 .3-.6 .4-2.1 .3 .1 .3 1.6 .4-2.1 .3 2.8 .4-1.5 .3-2.1 .3 1 .4 .2 .3 .2 .4-.8 .3-2 .3 2.6 .4 0 .3-.7 .4 2.6 .3-2.9 .3 2 .4-2.3 .3 2 .4-1.2 .3 .9 .3-2.5 .4 1.5 .3 .9 .4-.5 .3-.4 .3 .9 .4-2.3 .3-.8 .4 1.5 .3 2.2 .3-2.2 .4-.8 .3 .2 .4 .3 .3 .9 .3-1.2 .4 .4 .3-1.1 .4 1.9 .3-2.1 .3-.7 .4 1.6 .3 1.8 .4-3.2 .3 0 .3 4.8 .4-4.3 .3 2.8 .4-4.6 .3 3.3 .3-1.2 .4-1.7 .3 2 .4 1.5 .3-.6 .3-.5 .4 .8 .3 .7 .4-2.1 .3-1.4 .3 3.2 .4-1.7 .3-1.5 .4-.3 .3-1.2 .3 1.2 .4-.1 .3 1 .4 .7 .3 2 .3-1.5 .4 .1 .3-1.4 .4 .1 .3 1.9 .3-3.7 .4 0 .3 2.2 .4-1.2 .3 .8 .3-1.8 .4-.9 .3 2.6 .4 .7 .3-2.9 .3 .2 .4 .5 .3-.3 .4 1.3 .3-1.5 .3 1.1 .4 0 .3 2.3 .4-3.9 .3 0 .3-.1 .4 .7 .3-.3 .4-.2 .3-.5 .3 1 .4 .1 .3 1 .4-.7 .3-.3 .3-1.5 .4 .1 .3 .4 .4 1.8 .3 .4 .3 1.2 .4-4.7 .3 1.5 .4-.2 .3 1.3 .3-1.6 .4 2.6 .3-2.4 .4 .6 .3 .6 .3-.5 .4 .8 .3 .8 .4-3.5 .3 0 .3 2 .4-1.1 .3 2.8 .4-.3 .3-2.7 .3 1.9 .4 .3 .3-2.8 .4 .7 .3-.7 .3 1.1 .4-2.2 .3 0 .4 4.1 .3-1.5 .3-.1 .4-.9 .3 1 .4-1.8 .3 .4 .3 .7 .4 .6 .3-.5 .4-1.4 .3 2.2 .3-4.5 .4 3.1 .3-1.3 .4 1 .3 .6 .3-.7 .4 .3 .3 2.4 .4-2.5 .3-1.1 .3-1.2 .4 .4 .3 3.4 .4 .2 .3-2.2 .3 1.7 .4 .8 .3-2.8 .4 .1 .3 .5 .3-1.3 .4 1.8 .3-1.9 .4 1.9 .3-1 .3-1.5 .4 4.1 .3-3.5 .4-1.7 .3-.1 .3 2.2 .4 1.3 .3-2 .4 2.7 .3-2.5 .3 1.2 .4-1.7 .3-.2 .4 1.1 .3-.5 .3-.1 .4-.2 .3 1.9 .4-.6 .3-.4 .3 .1 .4 1 .3-.4 .4-.1 .3 1.4 .3-1.2 .4-1.6 .3 1.1 .4 1.7 .3-1.2 .3-.4 .4-2.2 .3 .7 .4 2 .3-3.4 .3 2.9 .4-1.5 .3 .3 .4-.1 .3-.5 .3 2.6 .4-1.1 .3-1.6 .4-.1 .3 1.9 .3-3.2 .4 1.9 .3 1.9 .4-1.6 .3-2.3 .3 3.2 .4-1.1 .3-.7 .4-1.4 .3 2.5 .3-.7 .4-1.9 .3-.8 .4 .4 .3 1.9 .3-1.9 .4 1.9 .3-.2 .4 .8 .3-.5 .3-1.7 .4 .3 .3-.9 .4 .7 .3-.2 .3-.7 .4 0 .3 2.2 .4 .8 .3-.5 .3 .4 .4-2.1 .3 .2 .4 2.3 .3-2.5 .3 .4 .4 .8 .3 .4 .4-2.2 .3 2 .3-.9 .4 .6 .3-1.4 .4 2.8 .3-2.4 .3 .5 .4-1.7 .3 2.9 .4-1.3 .3 1.9 .3-2 .4 .9 .3-2 .4 .9 .3 .2 .3 .3 .4-1.4 .3-.1 .4-1.4 .3 1.8 .3-1.3 .4 .3 .3 1.2 .4 1.3 .3-2.9 .3 .3 .4-.6 .3 2.1 .4-1.4 .3-.7 .3-.1 .4 3.3 .3-3 .4 3 .3-1.2 .3-1 .4-1.2 .3 1.6 .4-.4 .3-.8 .3 1.4 .4-.4 .3 1.1 .4-.2 .3-3 .3 .4 .4-.2 .3 .9 .4 1.1 .3 .7 .3-2 .4-1.8 .3 3 .4-2.7 .3 3.4 .3-.1 .4 .3 .3-3.1 .4 .3 .3 3 .3-4.3 .4 2.4 .3-.8 .4 1.1 .3-1.8 .3-1.4 .4 3.9 .3-3.4 .4 3.4 .3 .2 .3-1.7 .4-.1 .3 0 .4 3 .3-3.7 .3 .5 .4 1 .3-.9 .4 1 .3-1.4 .3-2.7 .4 3.9 .3-.8 .4-1.3 .3 .5 .3 .3 .4-.3 .3-.4 .4 1.2 .3-.9 .3 1.1 .4 1.2 .3-.1 .4-2.5 .3 1 .3 1.8 .4-.8 .3-.9 .4 1.8 .3-2.8 .3-.1 .4 1.6 .3-2 .4 2 .3-.5 .3 1.2 .4-3.3 .3 2.5 .4-3 .3 4.1 .3-.2 .4-3.8 .3 1.1 .4 2.1 .3-.8 .3 .7 .4-2.7 .3-1.1 .4 1.4 .3 3 .3-.6 .4-1.8 .3 1.3 .4-.2 .3-1.2 .3 1.8 .4-2.3 .3-1.3 .4 .2 .3 .4 .3 1.5 .4-4.2 .3 2.4 .4 0 .3 1.3 .3-1.5 .4 0 .3 .8 .4 .2 .3 .5 .3 .8 .4-.6 .3-.9 .4-1.1 .3 2.6 .3-2.9 .4 2.6 .3-2.9 .4 1.5 .3-1.6 .3 1.3 .4-.7 .3-.1 .4 2.2 .3-1 .3 .1 .4-1.8 .3-.2 .4 .7 .3 0 .3 .3 .4 1.1 .3 1.8 .4-1.2 .3-2.5 .3 1.5 .4-.8 .3 0 .4-.1 .3 1.2 .3-2.3 .4 2.7 .3-3.8 .4 3 .3 .1 .3 1.6 .4 .1 .3-4 .4-.4 .3 2.2 .3-.4 .4-2.7 .3 3.9 .4 .6 .3-3 .3 1.2 .4 .9 .3-.9 .4 2.7 .3-2.2 .3-.5 .4 .5 .3 .4 .4-.8 .3 .3 .3-1.3 .4 1.5 .3 .9 .4-1.9 .3 .3 .3-.6 .4 2.8 .3-1.3 .4-2.5 .3 3 .3-1.9 .4-.1 .3-2 .4 1.4 .3 1.1 .3-.7 .4-1.3 .3 1.2 .4-.6 .3 1.6 .3-2 .4 2.4 .3-1.5 .4 .6 .3-.6 .3 .7 .4-1.5 .3 1.6 .4-1.3 .3 .2 .3 1 .4-2.9 .3 .2 .4 2.5 .3 .3 .3-.4 .4-.9 .3 .8 .4-1.8 .3-.6 .3 1.6 .4 .6 .3-.3 .4-.9 .3-.2 .3 2.9 .4-3.6 .3 .2 .4 .1 .3 2.7 .3-2.8 .4 .6 .3 1.1 .4-1.3 .3-1.3 .3 2.8 .4-1.2 .3 .5 .4-2.5 .3 3.8 .3-.5 .4-1.3 .3-.4 .4 1.1 .3-1.6 .3-.8 .4 3.1 .3-3 .4-.9 .3 1.9 .3 .1 .4-.5 .3 1.6 .4-2.3 .3 .2 .3 .8 .4 1.6 .3-2.4 .4 1.9 .3-1.2 .3 1.8 .4-1.9 .3 2.1 .4-3.1 .3-.7 .3 1.2 .4-.5 .3 0 .4-.8 .3 .3 .3 1.5 .4-.1 .3-2.1 .4 .9 .3 1.7 .3-.2 .4 .6 .3-1.6 .4-.1 .3 1.8 .3 .8 .4-1.7 .3-2.5 .4 .4 .3 2.4 .3 .1 .4-2.6 .3 1.1 .4 2.8 .3-4.4 .3 .2 .4 .1 .3 1 .4-.4 .3 2.3 .3-1.4 .4-1 .3 2.5 .4-3.8 .3 1.4 .3-.5 .4-.4 .3 .9 .4 1 .3 .2 .3-.5 .4 .7 .3-.2 .4-2.2 .3 1.9 .3 .3 .4-2.1 .3 1.7 .4-1.6 .3 3.2 .3-2.9 .4-.7 .3 1.7 .4 .9 .3 .2 .3-.9 .4-.8 .3 0 .4-.4 .3-.1 .3 2.5 .4-2.9 .3 2.8 .4-2.5 .3-.2 .3 2.6 .4-2.6 .3 .6 .4 1 .3-2.3 .3 1.6 .4 .6 .3 .6 .4-.1 .3-2.3 .3-.2 .4 .1 .3-.9 .4 2.8 .3 .4 .3-1.7 .4-2.3 .3 1.8 .4 .4 .3 .6 .3 .6 .4-1.2 .3 1.2 .4-.4 .3-2 .3 1.4 .4-.6 .3 1.6 .4-1.4 .3-1.5 .3 1.2 .4-.9 .3-.1 .4 2.1 .3-1.4 .3 .6 .4-.5 .3-1.5 .4 .4 .3 .7 .3 2.4 .4-1.3 .3 .2 .4-1.2 .3 1.2 .3 0 .4 .2 .3-.9 .4 .3 .3-.5 .3-.3 .4-1.6 .3-.8 .4 3.5 .3-1.8 .3-1.7 .4 .7 .3 2.2 .4-1.9 .3 2.3 .3-2.4 .4 2.7 .3 .5 .4 0 .3-1 .3-.9 .4 1.9 .3-1.3 .4-2.6 .3 .2 .3 3.7 .4-3.4 .3 .3 .4 .3 .3 1.8 .3-2.1 .4 2.1 .3-1.6 .4-1.5 .3 2.2 .3-1.9 .4 2.2 .3-1.2 .4-.9 .3 .5 .3-.5 .4 2.4 .3 .3 .4-2.6 .3 1.5 .3-1.8 .4-.3 .3 1.5 .4 2 .3-3.5 .3 .7 .4-.8 .3-.6 .4 2.3 .3-2 .3 1.4 .4 1.2 .3-4.1 .4 3 .3-.6 .3 1.5 .4-1.2 .3 .8 .4 .1 .3-.7 .3-1.6 .4 2.8 .3-1.5 .4-.4 .3-.3 .3-1 .4 1.7 .3-1.7 .4 2.1 .3-1.1 .3 1.9 .4 0 .3-.4 .4-1.9 .3 .5 .3 1.6 .4-1.7 .3-1.3 .4 2.7 .3-2 .3 1.8 .4-1.1 .3-.2 .4-.4 .3 1.3 .3-.1 .4 .1 .3 1.2 .4-2.8 .3 2.4 .3-.3 .4-1.4 .3-1.5 .4 1.9 .3-1.1 .3-1.9 .4 3.5 .3-.2 .4 0 .3-.4 .3-.5 .4 .4 .3-1 .4-1 .3 1.3 .3 1.1 .4-2.1 .3 .2 .4-.8 .3 .2 .3 3.3 .4-2.1 .3 .2 .4-1.1 .3-1.1 .3 1.3 .4 1.3 .3-1.9 .4 3.5 .3-1.8 .3-2.3 .4 3.2 .3-3.4 .4 3.2 .3-2.3 .3 0 .4 .5 .3 1 .4-1.7 .3 .3 .3-.4 .4 1.4 .3 0 .4-1.8 .3-1 .3 3.1 .4-2.9 .3 2.1 .4 .8 .3 .2 .3-2.2 .4 3 .3-4.1 .4-.6 .3 3.5 .3-3.2 .4 2.1 .3 .7 .4-1.8 .3 2.1 .3-1.7 .4 3.1 .3-4.1 .4 1.4 .3 .1 .3-.9 .4 .6 .3 2.2 .4-2.3 .3-1.2 .3 1.5 .4 .1 .3 1.2 .4-.2 .3-1.6 .3 0 .4-2.2 .3 2.3 .4-1.9 .3 3.4 .3-1.6 .4-1.5 .3 1.9 .4 .4 .3-.8 .3 2.6 .4-.7 .3-3.1 .4 2 .3-.1 .3 .6 .4 .1 .3 .1 .4-.9 .3-2.4 .3 2.3 .4-1.5 .3 .6 .4 1 .3-.1 .3 .3 .4-1.4 .3 1.3 .4-2.5 .3-1.7 .3 2.2 .4-.2 .3 1.5 .4-1.6 .3 3.1 .3-2.5 .4 .2 .3 2.3 .4-1.2 .3 .3 .3 .4 .4-.4 .3-2.1 .4 2.8 .3-5 .3 4.2 .4-1.1 .3-.4 .4-.6 .3-.2 .3 2.5 .4-.3 .3-.2 .4-2.2 .3 .8 .3-.8 .4 1.2 .3-2.9 .4 2.8 .3-2.1 .3 3.5 .4-.6 .3-2.6 .4 3.8 .3-3.6 .3 1 .4-.9 .3 .7 .4 .6 .3-.8 .3-1.4 .4 1.9 .3 1.2 .4 .9 .3-2.9 .3-.8 .4-1.5 .3 2.7 .4-2.4 .3 1.3 .3 2 .4-2 .3 1.6 .4-1.8 .3 .2 .3 2.3 .4 .1 .3-1.8 .4-.7 .3 .1 .3 2.5 .4-3 .3-.4 .4 3.2 .3-1.6 .3-.5 .4 .6 .3-1.2 .4 3.1 .3-1.9 .3-3.1 .4 1.6 .3 .7 .4 1.1 .3 1.5 .3-3.7 .4 .8 .3-2.8 .4 1.9 .3 1.6 .3 2.4 .4-1.3 .3 .2 .4-2.3 .3 1.7 .3-.2 .4-2.1 .3 2.8 .4-1.6 .3-.2 .3 2 .4-2.8 .3 0 .4 2 .3 .4 .3-3.6 .4 1.3 .3 .6 .4 2.3 .3-3.3 .3 2 .4-1.1 .3 1.3 .4-.1 .3-1 .3 .8 .4-1 .3-2.5 .4 3.6 .3-2.9 .3 2 .4-.1 .3 2.3 .4-2.2 .3-.7 .3 1.4 .4-1.3 .3 1.5 .4-1.7 .3 2.2 .3-1.7 .4-2.5 .3 4.7 .4-1.1 .3-.8 .3-1.9 .4-.3 .3 2.1 .4 .8 .3-.2 .3-.8 .4-.3 .3-1.9 .4 .9 .3-.1 .3 2.1 .4-1.6 .3 .7 .4-.4 .3 1.8 .3-.7 .4-3.9 .3 4 .4-1.1 .3-1.7 .3 1.1 .4 1.6 .3-.8 .4-1.3 .3 .6 .3 1.5 .4 .5 .3-3.3 .4 .2 .3 3 .3-1.9 .4 1.2 .3-2.7 .4 .7 .3 2.1 .3-1 .4-1.4 .3 0 .4 2.6 .3-1.5 .3 .3 .4-.2 .3 2.1 .4-1.2 .3-1.4 .3-.4 .4 .8 .3 1.1 .4-.6 .3-.8 .3 1.4 .4-.5 .3-.3 .4-2.1 .3 1.8 .3-1.8 .4 1.5 .3-2.9 .4 2.2 .3 1.7 .3-.7 .4-.3 .3-1.4 .4 2.3 .3-.1 .3 .2 .4-2.1 .3-1.1 .4 1.8 .3-2.3 .3 3.9 .4-2.3 .3-.6 .4 1.2 .3-.7 .3 2.7 .4-.5 .3-.2 .4-.7 .3 1.5 .3-2.9 .4-.1 .3-.1 .4 .1 .3 2.2 .3-.9 .4 .3 .3-.9 .4 .7 .3-.3 .3-.8 .4 1.1 .3-2.4 .4 1.8 .3 .7 .3-3 .4 .3 .3 1 .4-.3 .3 .2 .3 1.8 .4-2.6 .3 .7 .4 2.1 .3-1.5 .3 1.5 .4-.8 .3-1.3 .4 .5 .3 1.6 .3-.5 .4 .4 .3 1.2 .4-3.1 .3 2.1 .3-1.1 .4-.9 .3-1.6 .4 3.2 .3-.2 .3-2.4 .4 .9 .3 .5 .4-.5 .3-.8 .3 3 .4-3.9 .3 1.7 .4 .5 .3 .6 .3-1 .4 .2 .3-1.8 .4 3 .3-1.7 .3-.3 .4 3 .3-1.4 .4-2 .3 3.1 .3-1.1 .4-.6 .3-2 .4-.9 .3 2 .3 .3 .4 .6 .3 2 .4-.9 .3-2.3 .3-.1 .4 1.3 .3-2.5 .4 1.5 .3 .8 .3 1.1 .4-1 .3 0 .4 1.4 .3-3.7 .3 2.5 .4-1.2 .3 .2 .4-1.8 .3 4.4 .3-5.9 .4 4.5 .3-.4 .4-2 .3 3.2 .3-.7 .4 .1 .3-.7 .4 .1 .3-1.3 .3 1.9 .4-.9 .3-2.6 .4 2 .3 2.1 .3-1.2 .4 .9 .3-.9 .4-.3 .3-1 .3 1.3 .4 .5 .3-.9 .4-2.6 .3 .7 .3 .4 .4 2.8 .3-1.6 .4-.7 .3 1.1 .3-.3 .4-.6 .3-.2 .4-1 .3 2.6 .3-1.6 .4 .4 .3-1.4 .4-.4 .3 3.2 .3-2.4 .4 .5 .3 1.8 .4-2.8 .3 1.1 .3-.4 .4 1.3 .3-1.1 .4 1.9 .3-3.1 .3 .1 .4 .9 .3 3.3 .4-.4 .3-.9 .3-1.3 .4 .9 .3-.2 .4 1.2 .3-.3 .3-2.1 .4 .3 .3 1.9 .4-2.2 .3 0 .3 2.6 .4-3.2 .3 2.9 .4 .6 .3-3 .3 2.1 .4-3 .3 .7 .4 2.4 .3-1 .3 1.5 .4-1.1 .3 1.8 .4-1.9 .3 2.1 .3-3 .4-.5 .3 .6 .4 1.5 .3 .2 .3-.7 .4-2.1 .3 3.1 .4-2.5 .3-.8 .3-.1 .4 .6 .3 1.9 .4-3.5 .3 4.7 .3-4.6 .4 3 .3-2 .4 1.1 .3-.4 .3 1.8 .4-3.2 .3 1.7 .4 .2 .3-.9 .3 .7 .4 .5 .3 .7 .4-1.1 .3-.2 .3 1.2 .4 1.1 .3-1.2 .4-.1 .3-.6 .3 .3 .4-2.1 .3 2.1 .4 .6 .3-2 .3 2.7 .4-3 .3 3.3 .4-.9 .3 .5 .3-2.1 .4 .5 .3-.8 .4 .8 .3 0 .3 .5 .4 1.1 .3-3.5 .4 1.8 .3-.2 .3 2.4 .4-.2 .3-2.1 .4-.3 .3 .8 .3 .8 .4-.2 .3 1.1 .4-3.4 .3 .8 .3-.1 .4 0 .3 1.3 .4 1.1 .3-2.8 .3 .8 .4 1.3 .3-3 .4 2.5 .3 .2 .3 1.4 .4-1.5 .3 .9 .4 .2 .3-1.1 .3-1.9 .4 1.2 .3-.9 .4 3 .3-2.9 .3 2.3 .4-2 .3 1.9 .4 .7 .3-2 .3-1.5 .4 1.1 .3 .5 .4 .2 .3-.7 .3-1.1 .4 .3 .3 1.3 .4 1.8 .3-1.7 .3 .3 .4 .1 .3-.1 .4-.2 .3 1.8 .3-3.2 .4 1.9 .3 .5 .4-.1 .3-2.3 .3 2.1 .4 .5 .3-.2 .4 .4 .3-2.3 .3 1.7 .4 0 .3-.1 .4-2 .3-.4 .3 2.7 .4-2 .3 .7 .4 .7 .3 1.5 .3-2.6 .4 2.6 .3 .5 .4-1.3 .3 .5 .3-1.6 .4-.6 .3-1.1 .4 .1 .3 .6 .3-.2 .4 2.6 .3-3 .4 2.1 .3 .5 .3-1.5 .4 .3 .3-.8 .4-1.3 .3 1.2 .3 1 .4 0 .3 1.6 .4-1.9 .3 1.2 .3-1 .4-.3 .3 1.9 .4-.7 .3 .8 .3-1.5 .4-2.2 .3 3.2 .4-2.7 .3 .4 .3 1.5 .4 .9 .3-1.2 .4 1.5 .3-1.2 .3-1.1 .4 1.5 .3 .4 .4-1.7 .3 1.2 .3-1.5 .4 1.5 .3-.9 .4-.8 .3 .2 .3 .7 .4-.3 .3 .2 .4 1.3 .3 .5 .3-1.1 .4-.2 .3-.6 .4-.8 .3-.4 .3 2 .4 .6 .3-.8 .4 1.5 .3-2.7 .3-.5 .4 2.7 .3 .3 .4-1.3 .3-.2 .3-1.3 .4 4 .3-2.5 .4 .5 .3 1.1 .3-2.3 .4 1.6 .3-1.3 .4 .3 .3-.2 .3-.8 .4 .8 .3-.9 .4 2.2 .3-1.5 .3 0 .4-1.3 .3 1.3 .4 1 .3-.2 .3-1 .4 2.3 .3-3.5 .4 4 .3-1.3 .3-2.7 .4 4.6 .3-3.8 .4 1.8 .3-1.7 .3 1.3 .4 .9 .3-3.3 .4 2.5 .3 1.7 .3-3.7 .4-.4 .3 .4 .4-.3 .3-1 .3 2.7 .4 .4 .3 0 .4-1.5 .3 1.6 .3-1 .4 1.6 .3-1.3 .4 1.9 .3 0 .3-1.2 .4-2.8 .3 4.4 .4-.4 .3-1.8 .3-1.7 .4 2.9 .3-3 .4 3.3 .3-.9 .3 .5 .4-2.8 .3 4.2 .4-4.4 .3 0 .3 .6 .4 2.1 .3-2.2 .4-.3 .3 2.9 .3-1.9 .4 1.1 .3-3 .4 2.8 .3 1.2 .3 0 .4-1.6 .3 1.2 .4-.8 .3 1.4 .3 .3 .4-1.7 .3-1.3 .4 .5 .3 .2 .3 .2 .4 1.7 .3-2.8 .4-.2 .3 1.5 .3 1.5 .4-2.4 .3 1.3 .4-.2 .3-1.5 .3 3 .4-2.4 .3 2.3 .4-1.2 .3 .4 .3-1 .4-.8 .3 1 .4 .4 .3-.5 .3-1.7 .4 2.7 .3-.7 .4 .6 .3-2.6 .3 .2 .4 3.3 .3-2.9 .4 2.1 .3-1 .3 .2 .4-1 .3 .9 .4 0 .3 .4 .3-.9 .4 0 .3 .5 .4-1.3 .3 3 .3-2.9 .4 2.2 .3 .5 .4-1.6 .3 1.3 .3 1.3 .4-3.3 .3-1.2 .4 2.1 .3 1.2 .3-.3 .4 .6 .3-2.2 .4-.5 .3 .7 .3 .5 .4-1.3 .3 .7 .4 1.8 .3-1.8 .3 .5 .4 1.6 .3-1.9 .4 .4 .3-1 .3 .3 .4 1.5 .3 1.1 .4-.8 .3-2.3 .3 2.7 .4-1.7 .3 1.7 .4 .4 .3-1.8 .3-.6 .4 .3 .3 1.5 .4-1 .3-.3 .3-.3 .4-1 .3 2.1 .4-.6 .3 .4 .3 1.5 .4-2.6 .3-.5 .4-1.4 .3 2.8 .3 .1 .4-1.6 .3-.7 .4 4 .3-.7 .3-.8 .4-2.7 .3 4.7 .4-3.3 .3 17.5 .3-5 .4-9.9 .3-1 .4 .3 .3-1.1 .3 0 .4 .7 .3-.2 .4-1.6 .3 3 .3-3.2 .4 3 .3 .8 .4-2.8 .3-1.4 .3 1.1 .4-1 .3 3.4 .4-2.2 .3 1.5 .3-1.4 .4-1.2 .3 3.5 .4-.1 .3-.8 .3-1.5 .4-.1 .3 1.2 .4 1.3 .3 .1 .3-1.7 .4-.1 .3 1.7 .4-1.3 .3 .8 .3 10.2 .4-3.5 .3-8.3 .4 1 .3 1.3 .3-.9 .4 .6 .3-.8 .4-1.8 .3 3.1 .3 .2 .4-2.3 .3 0 .4-.3 .3-.2 .3 2.3 .4-2 .3 2.3 .4-1.6 .3-1.7 .3 2.2 .4 .6 .3 7.8 .4-2.8 .3-7.6 .3 1.9 .4 .6 .3-3.1 .4 2.6 .3 .6 .3-.9 .4 2 .3-.4 .4 0 .3-2 .3 .4 .4 .4 .3 .2 .4-.6 .3-.1 .3 0 .4-1.6 .3 2.6 .4-1 .3 15.8 .3-4.8 .4-10.1 .3-.7 .4 0 .3-1.6 .3 .2 .4 .9 .3 1.6 .4-3.4 .3 3.6 .3 .2 .4-2.7 .3 .9 .4 .4 .3-.8 .3 1.1 .4-1.8 .3 2 .4-.5 .3-.6 .3 1.6 .4 78.5 .3-23.8 .4-56.1 .3 .1 .3-.1 .4 .8 .3 0 .4-1.9 .3 2.6 .3-1.4 .4 .1 .3 0 .4 34.7 .3-10.4 .3-24.3 .4 1.3 .3-.9 .4 .9 .3 .1 .3 .3 .4-.7 .3 .9 .4-.1 .3 .1 .3 43.8 .4-13.5 .3-31.9 .4 1.4 .3-2.4 .3 2.4 .4-1.2 .3 2.2 .4-2.3 .3-.6 .3 1.4 .4 28.5 .3-8.8 .4-20.9 .3 1.1 .3 1.3 .4-1.7 .3-.1 .4-.3 .3 .7 .3 .2 .4-2.1 .3 52.1 .4-14.7 .3-35.8 .3 .3 .4-.3 .3 .3 .4 1.2 .3-1.1 .3-.4 .4 1.7 .3 35.3 .4-10.9 .3-24.8 .3-1.7 .4-.6 .3-.2 .4 1.3 .3 .6 .3-1.1 .4 2.2 .3 63.7 .4-20 .3-45.2 .3 .8 .4-.2 .3-.5 .4-.5 .3 41.1 .3-12.5 .4-29 .3 1.3 .4-1.5 .3 1.2 .3 1.9 .4-3.4 .3 2.7 .4 55.6 .3-17.1 .3-39.9 .4 3.4 .3-5 .4 1.3 .3 1.4 .3-.6 .4 1.1 .3-1 .4 2.4 .3-.8 .3 0 .4-.8 .3-.3 .4 25.6 .3-7.1 .3-18.4 .4-.8 .3 1.3 .4-1 .3 1.2 .2 1.5 .2-1.7 .2-.7 .2 .8 .2 .7 .2 .3 .2 1.6 .2-.4 .2-1.5 .2 .4 .2 1 .2 1.6 .2-5.4 .2 6.7 .2-5.8 .2 2.5 .2 1.1 .2 5.2 .2-6.1 .2 13 .2-7.9 .2 .1 .2 11.9 .2-3.3 .2-8.5 .2-.9 .2 13.3 .2 5.1 .2-12.6 .2-.9 .2-6.4 .2 4.4 .2 14.1 .2-16.4 .2 26.7 .2-3.5 .2-10 .2-7 .2 9.7 .2 8.3 .2-11.5 .2 8.8 .2-23.7 .2 28.2 .2 4.6 .2-8 .2-7.4 .2 11.2 .2-2.3 .2 8 .2-12.1 .2-4.2 .2-3 .2 16.6 .2-9.9 .2 11.8 .2-9.9 .2 .5 .2 22.4 .2-13.4 .2-2 .2 3.7 .2 4.7 .2-14.5 .2 22.5 .2-23.9 .2 .8 .2 13.4 .2-7.9 .2 3.4 .2 1.6 .2-8.8 .2 10.1 .2 18.9 .2-8.8 .2-5.3 .2-1 .2-1.4 .2-9.5 .2 19.1 .2-14.1 .2 5.4 .2 18.5 .2-24.7 .2-9 .2 7.8 .2 4.7 .2 14.8 .2-5.4 .2-7.6 .2-5.4 .2-7.4 .2 15.2 .2-.7 .2-9.5 .2 8 .2-9.4 .2 9.8 .2-5 .2 18.7 .2-20.5 .2-3.2 .2 20.4 .2-18.3 .2 15.6 .2-18.8 .2 2.6 .2-.1 .2 11.1 .2-8.4 .2 6.1 .2-6.3 .2 8.5 .2-16.4 .2 11.6 .2 11.8 .2-7.2 .2-3.9 .2 21.2 .2-14.3 .2 4.1 .2 12 .2-4.8 .2 4.2 .2-2.9 .2 .3 .2 3 .2 12 .2-2.4 .2 7.2 .2 3 .2 8.7 .2 3.9 .2 3.2 .2 6.1 .2 2.4 .2 .4 .2 1.2 .2 5.3 .2 3.1 .2 1.2 .2-.9 .2 6.5 .2 1.9 .2 3.7 .2-1.2 .2 2.4 .2 4.3 .2 2.6 .2 3.1 .2 1.3 .2 .3 .2 1.7 .2-.3 .2 2.6 .2 .4 .2 6.2 .2 4.3 .2-1.4 .2 4.8 .2 2 .2-2.5 .2 1.1 .2 3.2 .2-1.9 .2 2 .2-2.6 .2 2.5 .2-.8 .2 4.6 .2-2.2 .2 2.7 .2 .1 .2 1.6 .2 3.5 .2-5 .2 3.7 .2-1.3 .2 4.5 .2-3.3 .2 8.2 .2-4.4 .2 3.4 .2 .2 .2 4.4 .2-2.6 .2 .7 .2 2.5 .2 3 .2-3.9 .2-.4 .2 5.2 .2-2.8 .2-1.1 .2 1.8 .2 5.1 .2-4.2 .2 .4 .2 5 .2 1.1 .2-3.4 .2-.2 .2 6.6 .2-3.4 .2-.9 .2 4.1 .2 1.6 .2-4.7 .2-.6 .2 6.1 .2 3.1 .2-5.4 .2 4.6 .2 .8 .2 .4 .2 .2 .2-1 .2 4.6 .2 .2 .2-2.6 .2-.9 .2 1.8 .2 1.7 .2-1.6 .2-2.7 .2 5.6 .2 7.6 .2-4.3 .2-8.1 .2 4.4 .2-1 .2-1.6 .2 10.2 .2-4.6 .2 2.4 .2 1.7 .2-4.2 .2-1.5 .2 9.3 .2-2.9 .2 .8 .2-3.4 .2 4.2 .2 1.2 .2-2.9 .2 5.7 .2 3.7 .2-6.7 .2 10 .2-7.8 .2 7.9 .2 2.6 .2-12.2 .2 2.8 .2 1.6 .2 2.2 .2 4.9 .2-5 .2 3.2 .2 1.7 .2-7 .2 4.3 .2-5.3 .2 3.4 .2 5 .2-3.3 .2 .3 .2 .7 .2 1.1 .2 3.3 .2-7 .2 4.3 .2-2.6 .2 .8 .2-.6 .2 9.6 .2-5 .2-2 .2-3.1 .2 1.7 .2 7.5 .2 3.1 .2 .3 .2-3.1 .2-2.8 .2 0 .2 1.2 .2-2.1 .2 .7 .2 1.7 .2-3.4 .2 3.6 .2 6.3 .2-3.8 .2 .2 .2 5.3 .2-3.2 .2-7 .2 7.7 .2-5.4 .2-5.4 .2 8.3 .2-2.4 .2 7.5 .2-5.7 .2-5 .2 7.7 .2 5 .2-3.3 .2 7.3 .2-5.7 .2 3.3 .2-3.7 .2-2.4 .2 5.5 .2-10.6 .2 .5 .2 7.5 .2-1.7 .2 3.9 .2-10.1 .2 .3 .2 2.9 .2 3.5 .2 3.9 .2-9.1 .2 10.3 .2-5.5 .2-4.6 .2 11.9 .2-4.2 .2-9.9 .2 10.1 .2-5.5 .2 2.8 .2-1.6 .2-1.5 .2 .2 .2 5.4 .2-.6 .2 1.6 .2-.2 .2 4.5 .2-3.5 .2-8.8 .2 7.6 .2 4.6 .2 1.7 .2-10.9 .2 6 .2-1.4 .2 1.5 .2-1.6 .2-.3 .2 3.2 .2-1.6 .2 2.8 .2-3.6 .2-4.5 .2-.3 .2 6.9 .2-4.9 .2 5.7 .2-3.6 .2-1 .2 1.7 .2-.9 .2 5 .2-2.1 .2-2.7 .2-3.4 .2 6.3 .2-3.4 .2-4.8 .2 10 .2 .5 .2 5.4 .2-5 .2-8.4 .2-4.3 .2 8.5 .2-1.8 .2 1.6 .2-1.9 .2-3.6 .2 1.8 .2 4.8 .2-.3 .2 .7 .2-.8 .2-2.8 .2 7.5 .2 2.9 .2-8.4 .2-4.6 .2 10.9 .2-1.6 .2-3.2 .2-5.5 .2 6.7 .2-4 .2 2.1 .2 4 .2-4.6 .2 6 .2-7.4 .2-1.9 .2 7.6 .2 3.9 .2-7.7 .2 2 .2 .2 .2 3.8 .2-7.8 .2 2.7 .2 8.8 .2-3.1 .2 1.5 .2-2.7 .2 1.8 .2-7.1 .2 6.6 .2-3.9 .2-3.7 .2 12.8 .2-4.3 .2 1.8 .2 3.3 .2-11.3 .2 9.5 .2-11.5 .2 8.3 .2-5.4 .2 6.7 .2-10.6 .2 6.3 .2-2.3 .2 7 .2-.3 .2-4.6 .2 2.8 .2-8.1 .2 5.4 .2-2.7 .2-2.8 .2 6.5 .2-5.2 .2 11.2 .2-1.4 .2 1.9 .2-9.4 .2 5.2 .2-1.3 .2-8.9 .2 8.4 .2 3.1 .2-3.1 .2-8.3 .2 1.9 .2 10.3 .2-3.3 .2-1 .2 6.8 .2-8.1 .2-3.4 .2 .7 .2 7.9 .2-.7 .2-3.3 .2 2 .2 1.6 .2-2.5 .2 6.6 .2-6.9 .2 5.7 .2-7.7 .2 3.4 .2 .5 .2-6.6 .2 6.9 .2-.4 .2-.5 .2 2.5 .2 1.9 .2 .9 .2-6.1 .2 1.7 .2-8.4 .2 13.5 .2-11.2 .2 14.2 .2-10.2 .2 1.5 .2-5.7 .2 10.2 .2 0 .2-15.1 .2 10.2 .2-8.8 .2 11.3 .2-2.7 .2 3.7 .2-7.3 .2 10.2 .2-4.3 .2 3 .2-7.3 .2-3.2 .2 2.3 .2 5.5 .2-1 .2-3 .2 1.1 .2 .2 .2 7.9 .2-4.4 .2-8.1 .2 1.5 .2 1.2 .2 3.1 .2 7.8 .2-12.5 .2 7.4 .2-3 .2 3 .2-2 .2-.8 .2 1.2 .2 3.4 .2-7.9 .2 5.4 .2 3.1 .2-2.3 .2-2.3 .2 3.8 .2-12 .2 4.4 .2-1.1 .2-3.1 .2 0 .2 3.9 .2-.4 .2 11.3 .2-2.7 .2-12 .2 1.3 .2 8.2 .2 2.3 .2-6.2 .2 2.5 .2 1.3 .2-.8 .2 .7 .2-6.7 .2-1.8 .2 1.4 .2 11.1 .2-2.3 .2-1.2 .2 5.6 .2-3.9 .2-2.7 .2-9.4 .2 13.3 .2-.2 .2-12 .2-1.3 .2 9.2 .2-2 .2 3.7 .2-6.1 .2 8.8 .2 1.9 .2-10.9 .2-.9 .2 12.7 .2-6.7 .2-3.8 .2 8.6 .2-3 .2-1.6 .2 2.3 .2 .5 .2 1 .2-2 .2-4.4 .2 4.7 .2-1.7 .2-4.5 .2 2.2 .2 2.8 .2 2.3 .2-3.5 .2 4.9 .2-10.6 .2 4.7 .2 10 .2-3.7 .2-12.2 .2 13.3 .2-5.7 .2 5.9 .2-12.4 .2 14.3 .2-3.4 .2 .5 .2-4.6 .2 5.8 .2 .6 .2 .9 .2-9.8 .2 .5 .2 5.3 .2-10.3 .2-2.4 .2 13.4 .2 2.4 .2 1.6 .2-10.3 .2 2.2 .2-5.6 .2 9.6 .2-8.7 .2-1.1 .2-.2 .2 6.7 .2 2.5 .2-9.2 .2 5.1 .2 5.1 .2-1.6 .2-5.6 .2-2.7 .2 9.7 .2 .1 .2-3.4 .2 6.4 .2-2.9 .2-1.4 .2-1.3 .2-6 .2 8.8 .2 3 .2-8.9 .2 4.1 .2 2.1 .2-6.5 .2 6.1 .2-4.6 .2-.3 .2-1.6 .2 6.4 .2-3.9 .2-7.6 .2 7.8 .2-5.4 .2 6.1 .2 1.7 .2 4.5 .2-1.7 .2 5.2 .2-11.1 .2-3 .2 12.3 .2-7.8 .2-6.4 .2 1.2 .2 8.2 .2 .9 .2-8.1 .2 5.2 .2-1.7 .2 6.7 .2-8.6 .2 4.2 .2-3.1 .2-2.7 .2 1.3 .2-3.1 .2 11.9 .2-8.5 .2 .7 .2 6.7 .2-2.3 .2-1.1 .2-4.2 .2 2.5 .2 7.8 .2-13.8 .2 8.8 .2 1.1 .2-1.2 .2-2.5 .2-4.4 .2 4.8 .2 2.3 .2-8.7 .2 5.1 .2 2.4 .2 5.7 .2-10.9 .2 3.8 .2-3.4 .2 1.1 .2 10.6 .2-8.9 .2-1.5 .2 6.2 .2-2.2 .2 3.8 .2-10.6 .2 4.8 .2 .6 .2-2.6 .2 7.3 .2-9.6 .2 3.2 .2-.7 .2 7.6 .2-3 .2-4.9 .2 6.3 .2 .6 .2 .5 .2-5.1 .2 2.6 .2 1 .2 2 .2-10.3 .2 5.2 .2-1.5 .2 5.7 .2-15 .2 9.3 .2-2.3 .2-1.3 .2 16.3 .2-7.9 .2-.1 .2-5.8 .2 6.6 .2-8 .2 4.9 .2 1.5 .2 2.1 .2-4.1 .2 5.1 .2-4.1 .2-5.7 .2-1.1 .2 .8 .2 12.4 .2-11.5 .2-1.6 .2 13.6 .2-10.3 .2 12.5 .2-7.8 .2 4.7 .2-5.3 .2-2 .2-.2 .2 2.8 .2 5.6 .2-8.3 .2-5.2 .2 11.6 .2-8.8 .2 5.6 .2-.9 .2 3.3 .2-1.8 .2-5.1 .2 7 .2-5 .2 1.8 .2-.2 .2 2.6 .2-5.8 .2 1.4 .2 7.9 .2-4.9 .2 .6 .2 6.7 .2-9.3 .2 4.1 .2 1.7 .2-2.1 .2 2.5 .2-1.8 .2-1.5 .2-.3 .2-4 .2-1.1 .2-.8 .2 5.3 .2 .1 .2-.5 .2-4 .2 7.8 .2 .6 .2-8.4 .2 6 .2-2.6 .2-6.2 .2 1.5 .2 10.1 .2-5.3 .2 5.8 .2-4.4 .2 .8 .2 0 .2 2.3 .2-9.2 .2 3.7 .2-1.8 .2 8.2 .2-6.3 .2-.2 .2 8.3 .2-4.6 .2-8.4 .2 9.9 .2-3.8 .2 1.8 .2 1 .2-4.5 .2 6.8 .2-5.1 .2-7.8 .2 15.5 .2-9.1 .2 4.3 .2 3.2 .2-1.6 .2-7.4 .2 6.4 .2-2.1 .2-1.1 .2 5.4 .2-2.4 .2 .9 .2-6.5 .2 8.1 .2-4.8 .2 7 .2-7.4 .2-3 .2-2.2 .2 11.1 .2 3.4 .2-9.7 .2 4.8 .2-6.3 .2 1.3 .2 11.2 .2-12.3 .2-4 .2 9.4 .2-3.3 .2-1.4 .2 1.4 .2-2.6 .2 5.8 .2 2.3 .2-3.7 .2 5.8 .2-4.7 .2-.5 .2-1.4 .2-6.7 .2 10.2 .2 3.2 .2-3.5 .2-4 .2 3.3 .2 3.1 .2-3.2 .2 3.5 .2 .9 .2-5.8 .2 10.4 .2-10.1 .2-1.8 .2 4.5 .2 .4 .2 4.8 .2-9.6 .2 11.5 .2-3.7 .2-1.5 .2 1.1 .2-1.5 .2-7 .2-.2 .2 5.3 .2-5.1 .2 9 .2-5.8 .2-.9 .2 5.5 .2-1.9 .2-6.1 .2 3.7 .2 8.1 .2 .7 .2 3.4 .2-10.6 .2 7.6 .2-5.6 .2-.6 .2 1.5 .2 0 .2-5 .2 8.7 .2 4.1 .2-10.4 .2-.7 .2-.4 .2 8.6 .2-4.1 .2-1.8 .2 6.3 .2-9 .2 8 .2 .1 .2-8.6 .2-1.2 .2 8.1 .2-.1 .2-3.2 .2-.3 .2-6.9 .2 9.3 .2 4.9 .2 3 .2-12 .2 1 .2 12.1 .2-4.6 .2-4.4 .2-3.2 .2-4.1 .2 6 .2-1.4 .2-1.6 .2 6.7 .2-.3 .2 .3 .2-4.2 .2 9.4 .2-6.2 .2 7.6 .2-14.5 .2 .3 .2 6.2 .2 5.7 .2 0 .2-.1 .2-9.2 .2 2.1 .2 5.4 .2-8.6 .2 9.3 .2-4.5 .2-4.1 .2 5.9 .2-4.9 .2-.7 .2 11.2 .2-7.9 .2 6.3 .2-8 .2 .9 .2 6.3 .2-2 .2-1.9 .2 1.6 .2 9.4 .2-19.6 .2 4.3 .2 .9 .2 2.1 .2-1.3 .2 6.9 .2-4.3 .2 1.1 .2 1.6 .2-3.3 .2 2.1 .2 1.4 .2-4.7 .2-1.2 .2-.4 .2 3.9 .2 .6 .2 9.4 .2-.8 .2-.7 .2-12.2 .2 .7 .2 0 .2 7.1 .2-1.8 .2-4.5 .2-5.3 .2 8.8 .2 .8 .2-1.7 .2 .5 .2-.2 .2 5.9 .2-3.3 .2 5.4 .2-4.7 .2 0 .2 3.2 .2-8.7 .2 5.8 .2-5 .2-2.1 .2 1.8 .2-.5 .2 4.3 .2 7.5 .2-13.3 .2 1.1 .2 9.2 .2-4.5 .2-7.3 .2 7.9 .2 5.9 .2 .5 .2-.5 .2 1 .2-1.1 .2-10.1 .2 7.8 .2 .9 .2 1.6 .2-2.6 .2-3 .2 3.7 .2-4.7 .2 1 .2 1.2 .2-.2 .2 1.8 .2-1.7 .2 2.7 .2-9.6 .2 10.3 .2-8.5 .2 6.8 .2 .9 .2 2 .2-5 .2-2.1 .2 8 .2-8.5 .2 6.3 .2-5.7 .2 4.8 .2 3.6 .2-13.4 .2 11.1 .2 1.8 .2-2.6 .2-5 .2 3.8 .2 2.6 .2-4.7 .2 5.1 .2 .2 .2-.5 .2 2.4 .2-3.9 .2-1.8 .2-.4 .2 2.6 .2-4.2 .2-4.7 .2 5.6 .2-3.7 .2 4 .2 2.4 .2-5.9 .2 2.5 .2 5.6 .2-4.5 .2 7.9 .2-1.9 .2-11 .2 7.6 .2-6.2 .2 10 .2 3.1 .2-11 .2 6.2 .2-4.9 .2 4.8 .2 5.7 .2-8.2 .2-7.7 .2 15.8 .2-15.2 .2 3.8 .2 9.2 .2-6.9 .2 6.2 .2-6.9 .2-.5 .2 5.6 .2-9.2 .2 3.7 .2-2.4 .2-1.7 .2 10.1 .2 .4 .2-9.7 .2-.5 .2 14.6 .2-5.5 .2-8.4 .2 3.8 .2-.5 .2 2.4 .2 4 .2-6.1 .2 8.2 .2-6.8 .2 8 .2-2.4 .2-2.4 .2-4.4 .2 9 .2-11.3 .2 3.9 .2-.5 .2-5.5 .2 10.4 .2-9.7 .2 10 .2-6.9 .2 3.3 .2 4.5 .2-2.6 .2-2 .2 1.1 .2-2.9 .2 4.2 .2 4.7 .2-15.3 .2 9.8 .2-4.3 .2-1.1 .2 7.8 .2-2.9 .2 2.3 .2-5.5 .2 7.6 .2-9.5 .2 2.6 .2-5.4 .2 2.4 .2 1 .2 9.9 .2-10.4 .2 4.1 .2 4.2 .2 4.2 .2-15.3 .2 8.4 .2-3.9 .2-2.3 .2 5.5 .2 6.2 .2-11.8 .2 5.7 .2-1.1 .2-7.9 .2 12.6 .2-1.6 .2 3.5 .2-8.8 .2 5.4 .2-4.6 .2 10.2 .2-6.5 .2-5.6 .2 0 .2 5.7 .2-2.5 .2 9.6 .2-7.1 .2 3 .2-4.4 .2 1.3 .2 4.3 .2-7 .2-.2 .2 1.3 .2-2.1 .2 1.9 .2 3.6 .2-.6 .2 5.9 .2-15.7 .2-.3 .2 8.5 .2 3.5 .2-7.5 .2-1 .2 5.6 .2-2.6 .2 5 .2-5 .2 9.8 .2-11.2 .2 8.6 .2-1.1 .2-4.6 .2 4.1 .2 1.2 .2-4.8 .2-2.2 .2 1.4 .2 4 .2-7.1 .2 4.2 .2 1 .2 .5 .2 1.6 .2-3.5 .2 3.9 .2 .5 .2 .5 .2-7.5 .2-2.7 .2 10.2 .2-6.5 .2 4.8 .2 1.8 .2-.1 .2-.9 .2 5.7 .2-4.6 .2-.2 .2-2.4 .2-1.2 .2-5.1 .2 1.7 .2 7.4 .2-3.4 .2-7 .2 2.3 .2 2.7 .2 3.7 .2-1.4 .2 0 .2-4.9 .2 10.5 .2-13.5 .2 6.9 .2 4.9 .2-4.2 .2-2.5 .2-.5 .2 2.3 .2-2.4 .2 4.2 .2-1.3 .2-2.6 .2 9.6 .2 1.8 .2-7.8 .2-9.1 .2 8.9 .2 3.2 .2-8.4 .2-.5 .2 7.4 .2-1.4 .2-2.7 .2-2 .2 11.7 .2-13.4 .2 4.6 .2-2.8 .2 4.9 .2-5.6 .2 1.1 .2 2.8 .2-2.1 .2-1 .2 3.9 .2 5.3 .2-10.5 .2-5.6 .2 18.4 .2-8.9 .2-3.2 .2 3 .2 1.3 .2 5.6 .2-1.2 .2 4.8 .2-8.1 .2-5.1 .2-1.5 .2 8.8 .2-3.3 .2-4 .2 5 .2-6.2 .2 11 .2-2.7 .2-.8 .2-5.7 .2-3.2 .2 2.6 .2-.8 .2 8.4 .2-1 .2 1.1 .2-8.6 .2 7.9 .2 0 .2-6.3 .2-4 .2-.3 .2 4.4 .2 1.4 .2-.5 .2 10.5 .2-7 .2-3.8 .2 4.8 .2-1.1 .2-1.1 .2-4.2 .2 1.4 .2 1.1 .2 2.5 .2-8.4 .2 11.6 .2-14.4 .2 9.6 .2 .3 .2 3.9 .2-4.9 .2 6.1 .2-10.9 .2 7.9 .2-.6 .2 8 .2-6.7 .2-3 .2 6.9 .2 .5 .2-1.6 .2-7.4 .2 9.4 .2-5.3 .2-3 .2 .2 .2-4.4 .2 8.9 .2-.7 .2-2.7 .2-1.2 .2-3.3 .2 1.2 .2 3.7 .2 4.5 .2-1.8 .2-8.2 .2 3.4 .2 6.4 .2-1.4 .2-2.8 .2 4.3 .2-6.4 .2-2 .2 4.4 .2-8.3 .2 8.2 .2-.4 .2-3.7 .2 .6 .2-3.4 .2 4.8 .2 8.7 .2-1.8 .2-7.2 .2 5.5 .2-6.7 .2 2.2 .2 6.6 .2-6.3 .2-3.8 .2 3.6 .2-1.8 .2 6.2 .2 1.5 .2-7.9 .2 12.5 .2-11 .2 9.5 .2-.6 .2-7 .2 1.3 .2-1 .2-8.7 .2 10.5 .2-4 .2-4.8 .2 9 .2-4.2 .2 6.8 .2-9.1 .2 6.1 .2 2.8 .2 1.8 .2-7 .2 3.1 .2 5.9 .2-12 .2 1.9 .2-5.1 .2 8.1 .2 2.5 .2-10.6 .2 3.4 .2-.3 .2 6.6 .2-4.7 .2 4 .2-2.7 .2-4.7 .2 6.9 .2-11.3 .2 17.1 .2-10.3 .2 7.1 .2-3.2 .2-5.6 .2 2.9 .2 4.4 .2-2.4 .2-.8 .2-1.9 .2 6.5 .2-10.8 .2 10.3 .2-9.1 .2 8.1 .2 3.4 .2-12.2 .2 10.1 .2 .3 .2-3.1 .2-5.1 .2 10.6 .2-6 .2-8.6 .2 10.5 .2-9.9 .2 12.4 .2-7.3 .2-.7 .2-2.8 .2 .3 .2 2.6 .2 3.9 .2-1.7 .2 .5 .2-7.2 .2 3 .2 5.9 .2 2.4 .2 1.9 .2-15.1 .2 5.7 .2-1.5 .2 10.9 .2-12.5 .2 1.1 .2 5.9 .2 6.9 .2-12.7 .2 11.2 .2-4.7 .2 3 .2-4.1 .2 7.9 .2-10 .2 1.4 .2 4.2 .2-8.4 .2 6.8 .2 4.1 .2-1.4 .2-.7 .2-2.3 .2-3.8 .2 1.9 .2-7.9 .2 3.7 .2 1.8 .2 4.3 .2 .5 .2-8.5 .2 14.6 .2-3.2 .2-10.8 .2 13.5 .2-5.6 .2 1.7 .2-1.9 .2-8.9 .2 9.9 .2 1.8 .2-3.4 .2-4 .2 1 .2 4.7 .2 4 .2-9.5 .2-.1 .2-1.8 .2-2.7 .2 6 .2-3.8 .2-.5 .2 8.1 .2-3.4 .2-3.2 .2-6.2 .2 13.2 .2-5.7 .2 1.7 .2 .3 .2-.4 .2-.1 .2-1 .2 1.2 .2 .3 .2 4.7 .2-5.8 .2 6.4 .2-9.6 .2 6.4 .2 4.3 .2-10.7 .2 2.1 .2-.4 .2 4.9 .2 6.2 .2-11.9 .2 1.6 .2 9.6 .2-4.3 .2 5 .2-4.7 .2 .3 .2-4.1 .2-5.1 .2 11.2 .2-4.8 .2-4 .2 9.5 .2-15 .2 7.4 .2 5 .2-2 .2-4.6 .2-3.3 .2 1.9 .2-2.9 .2 13.7 .2-9.7 .2-1.9 .2 9.6 .2-2.4 .2-5.2 .2 8 .2-10.8 .2 7.9 .2-2.4 .2-6.7 .2 13.6 .2-16.5 .2 8.9 .2 3 .2-1.3 .2-.2 .2 1.7 .2-1.5 .2-3.9 .2-4.4 .2 2.8 .2 13.7 .2-5.1 .2-8.9 .2 8.2 .2 .2 .2-.5 .2 .2 .2-2.1 .2 3 .2-7.3 .2 4.6 .2 4.3 .2-5.4 .2 3 .2-4.5 .2 6.6 .2-.4 .2 3.8 .2-.5 .2-14.7 .2 7 .2 1.5 .2 1 .2-6.8 .2 6 .2-1.7 .2 1.2 .2-2.1 .2 3.4 .2-7.9 .2 10.6 .2-9 .2-3.6 .2 11.8 .2-4.8 .2-2.7 .2-3.8 .2 5.7 .2-2.8 .2 3.1 .2-2.7 .2-2.2 .2 2.1 .2-1.2 .2 11.5 .2-.8 .2-7.9 .2-1.6 .2 .3 .2 5.7 .2-1.1 .2 7.2 .2-8 .2 5.5 .2-9.3 .2 11.2 .2 1.1 .2-7.5 .2-2.2 .2 4.5 .2 1.5 .2-12.7 .2 3 .2 .3 .2 10.5 .2-7.5 .2-2.7 .2 1.8 .2 2.8 .2-6.1 .2 6.2 .2 .6 .2-2.5 .2 12.9 .2-2.7 .2-7.6 .2-3.3 .2 7.9 .2-6.2 .2 3.4 .2-9.3 .2 4.7 .2-3 .2 6.5 .2 0 .2-6 .2-1.4 .2 8.4 .2 6.7 .2-13.9 .2 5.7 .2-6.7 .2 .1 .2 9.9 .2-5.7 .2 .7 .2 6.8 .2-4.1 .2-3.4 .2 3.1 .2 4.4 .2-3.2 .2-6.3 .2 8 .2-7.1 .2 1.5 .2 0 .2 6.4 .2-10.7 .2-.7 .2 3.3 .2 2.3 .2-.6 .2 4.4 .2 3.1 .2-11.5 .2 8 .2-5.7 .2 6.4 .2-5.1 .2 3.9 .2-1.4 .2 3.7 .2-9.3 .2 9.6 .2-3.3 .2-3.3 .2 9.2 .2 0 .2-11.2 .2 4.8 .2-6.3 .2 14.2 .2-7.5 .2 4.5 .2-9.9 .2 9.4 .2 2.2 .2-7.4 .2-.5 .2 .9 .2-.9 .2-1.2 .2 9.7 .2 .3 .2-3.1 .2-2.5 .2-5.1 .2-.6 .2 1.1 .2 5.3 .2 2 .2-1.6 .2-12.9 .2 8.9 .2 7.2 .2-8.8 .2 2.2 .2 .5 .2-5.6 .2 3.5 .2-.4 .2 3 .2-1.5 .2-4.3 .2 4.3 .2-5.1 .2 4.4 .2 9.3 .2-6.4 .2 1.2 .2-1.7 .2-3.3 .2 2.5 .2 .1 .2 2.3 .2-.6 .2 4.9 .2-12.2 .2 6.2 .2 0 .2-9.6 .2 14.6 .2-3.7 .2-4.7 .2 2.5 .2-6.1 .2-1 .2 15.2 .2-7.2 .2-4 .2 2.3 .2-8.5 .2 14.7 .2-3 .2-1.9 .2-2.9 .2-2 .2 1.6 .2 7.3 .2-5.6 .2 2.1 .2 .7 .2-4.2 .2-.2 .2 8.2 .2-7.9 .2 10.1 .2-14.1 .2 1.2 .2 10.8 .2-7.1 .2-5.9 .2 1.6 .2 7.6 .2 2.4 .2 .8 .2-9.8 .2 7.3 .2-11.6 .2 6.3 .2 4.3 .2-4.3 .2 1.7 .2 7.9 .2-10.8 .2-1 .2-1.3 .2 10.5 .2-1.5 .2 1 .2-2.5 .2-4.7 .2-2 .2 5.8 .2-6.9 .2-1.2 .2 7.9 .2-3.9 .2 5.3 .2 9.9 .2-12.9 .2-3.8 .2 1.8 .2-2.9 .2 5.1 .2 2.8 .2-.1 .2 3.3 .2-5.9 .2 3.8 .2 1.9 .2 3 .2-5.7 .2-3.9 .2-5.4 .2 7 .2-2 .2-.2 .2-3.3 .2 10.3 .2-8.4 .2 5.5 .2-2.8 .2 .6 .2-4.7 .2 15.4 .2-19.4 .2 7.5 .2-2.6 .2 5.3 .2 7.8 .2-12 .2 6.6 .2-.3 .2-4.2 .2-.2 .2-1.4 .2 7.7 .2 1.5 .2-4.9 .2 3.1 .2-10.2 .2 11.3 .2-1.1 .2 1.8 .2-9.3 .2-4.1 .2 11.9 .2-5 .2 9.2 .2-9.3 .2 3.4 .2-2.1 .2 1.8 .2-4 .2 .1 .2-.5 .2 1.9 .2-1.6 .2-.5 .2-3.1 .2 6 .2-8.3 .2 5.6 .2 6.1 .2-9.1 .2 8.6 .2-1.1 .2 3.8 .2-1.8 .2-3.4 .2-11.3 .2 15.4 .2-14 .2 8.5 .2 5.5 .2-.5 .2 5.9 .2-3.1 .2 1.3 .2-3.1 .2-5.9 .2 4.8 .2-9.3 .2 6 .2 2.3 .2-6.1 .2 6 .2-4.9 .2 1.5 .2-7.1 .2 7.2 .2 6.3 .2-8.1 .2-2.9 .2 .8 .2-.5 .2 .9 .2 8.2 .2 8.6 .2-17.7 .2-1.6 .2 1.2 .2-1.1 .2 .6 .2-.9 .2 11.4 .2-12.3 .2 5 .2-3.2 .2 8.1 .2-4.9 .2-.3 .2-1.1 .2 7.7 .2-7.6 .2 6.3 .2-6.7 .2 1.6 .2 5.2 .2-6.3 .2 1.1 .2-1.6 .2 1.8 .2-4.7 .2 6.5 .2 .4 .2 2 .2-4.5 .2-3.1 .2 .4 .2 7 .2-8 .2 5.7 .2-8.8 .2 16.3 .2-10.5 .2 5.3 .2-8.4 .2 1.9 .2 4.3 .2-1 .2 5.5 .2-13 .2 10.5 .2-8.4 .2 1.7 .2 11.7 .2-6.4 .2-3.5 .2 1.2 .2 8.3 .2 .4 .2-11.5 .2 3.5 .2 2.6 .2-10.8 .2 4 .2-1.3 .2 12.4 .2-12.9 .2 4.5 .2-5.7 .2 6.1 .2-1.6 .2 4.9 .2 3.7 .2-6.8 .2 2.6 .2-2 .2 8.4 .2-7.8 .2 8.2 .2-13 .2 6.9 .2 1.9 .2-1.8 .2-7.4 .2 4.6 .2 4.5 .2-2.2 .2-4.1 .2 4.7 .2-1.7 .2-12.8 .2 13.3 .2 3.4 .2 1.8 .2-7.7 .2 2.9 .2-6.5 .2 1.1 .2 2.2 .2 8.2 .2-7.8 .2 .3 .2-1.7 .2-.4 .2 5.5 .2-3.8 .2 1.2 .2 4.4 .2-9.3 .2 6 .2 5.5 .2-2.1 .2-4.6 .2 3.2 .2-11.8 .2 14.5 .2-1.7 .2-5.2 .2 1.8 .2 2.1 .2 1.5 .2-5.4 .2 9.1 .2 2.4 .2-8.6 .2-9.2 .2 14.1 .2-12.3 .2 10.7 .2-2.4 .2-.5 .2-3 .2 1.6 .2 8.3 .2-4.6 .2-6.1 .2 7.7 .2 .4 .2-8.5 .2 .2 .2 5.6 .2-2.1 .2 2.7 .2-4.8 .2 7 .2-7.2 .2-.9 .2 2.7 .2-5.5 .2 2.7 .2-3.7 .2 1.4 .2 7.7 .2-9.8 .2 4.9 .2 4.4 .2-2.8 .2 7 .2-14.9 .2 11.6 .2-5.4 .2-4 .2 11.2 .2-11.8 .2 12.3 .2-.6 .2 2 .2-15 .2 12.8 .2-8.8 .2 .7 .2-4.5 .2 11.9 .2-12.2 .2 12.1 .2-.8 .2-10.5 .2 7.6 .2 4.5 .2-2.9 .2 6.1 .2-8.4 .2-.7 .2 .1 .2 3.4 .2-4.8 .2-.4 .2-5.1 .2 1.7 .2 8.3 .2 1 .2 4.2 .2-3.6 .2 4.3 .2-9.3 .2-6.9 .2 11.5 .2-4.2 .2 6.8 .2-10.2 .2 1.2 .2-2.3 .2 8.9 .2-9.4 .2 2.6 .2 3.3 .2 3.3 .2-6.6 .2-2.1 .2 16.4 .2-11.7 .2-3.7 .2 6.6 .2-7.2 .2 8.5 .2-11.5 .2 10.7 .2-13 .2 18.5 .2-3.4 .2-7.1 .2-1.3 .2 5.8 .2-1.8 .2 .9 .2 .5 .2 .3 .2 5.2 .2-3.4 .2-1.2 .2-7.6 .2 3.1 .2 5.1 .2 3.9 .2-2.2 .2-3.5 .2-1.7 .2-5.8 .2 2.5 .2 .6 .2-.9 .2 3.6 .2 .1 .2 1.9 .2 3.8 .2-6.7 .2 2.1 .2 7 .2-13.3 .2-2.9 .2 4.3 .2 8 .2-4.5 .2-7.4 .2 4.2 .2 1.5 .2 2.1 .2 5.4 .2-8.4 .2 6.5 .2-8.2 .2 6.9 .2 2.5 .2-10.1 .2-5.5 .2 15.9 .2 3.5 .2-11.1 .2-3.3 .2 1.5 .2 3.3 .2 6.1 .2-9.6 .2 4.5 .2 3.9 .2 4.2 .2-3.3 .2-10.7 .2 8.8 .2-1 .2 2.6 .2-5.7 .2-5.4 .2 12.6 .2-3.2 .2-2.9 .2-1.4 .2 2.3 .2 5.9 .2-12.3 .2 6.8 .2-2 .2 3.8 .2 2.8 .2-1.8 .2 1.1 .2-9 .2-2.9 .2 17 .2-8.3 .2 5.9 .2-2.9 .2-3.8 .2-.9 .2 .9 .2-.4 .2-3.8 .2 .5 .2 8.2 .2-.9 .2-3.8 .2 .1 .2 4 .2 1.4 .2 1.2 .2-6 .2-1.9 .2 4.2 .2-4.2 .2 0 .2-3.3 .2 10.8 .2-2.7 .2-1.5 .2 3.6 .2-10.4 .2 2.5 .2 1.1 .2-2.7 .2-2.2 .2 12.7 .2-8.1 .2 .7 .2-2.4 .2 2.1 .2-6.5 .2 10 .2 1.6 .2-3.8 .2-2 .2 4.1 .2-9.2 .2 12.8 .2-5 .2-7.9 .2 8.8 .2 3.3 .2-12.9 .2 13.6 .2-6.6 .2 .7 .2-10 .2 3.5 .2 3 .2 9.1 .2-9.9 .2 4 .2 2.4 .2 5.8 .2-5.4 .2-6.6 .2 6.5 .2-2.6 .2-10.6 .2 10.8 .2 9.3 .2-12.2 .2-4.2 .2 9.1 .2-1.5 .2-3.1 .2-.7 .2-2.7 .2 2 .2 11.8 .2-3.6 .2-11 .2 7.4 .2-4 .2 8.7 .2 3.2 .2-13 .2-2.7 .2 11.4 .2-7 .2 3.8 .2 .7 .2-.8 .2-5.5 .2 1.6 .2 5.3 .2-4.7"/>
<path stroke="#f03c3c" d="M379.6 912.4l.5 25.6 2.6 23 1.1 10.5 2.2 4.4 1 .2 1 .8 1 .3 1 .8 1 .9 1 .3 1 .2 1 1.4 1 .3 1-.2 1 .5 1 .6 1-.8 1 .9 1 0 1 0 1 .4 1 .5 1-.2 1-.1 1 .7 1-.3 1-.2 1 .5 1 .2 1 .7 1 .1 1-.1 1-.4 1 .6 1-.2 1 .8 1-.6 1 .3 1 .4 1-.2 1 .1 1 .4 1-.2 1-.1 1 .2 1 .5 1 .2 1 .2 1-.4 1 .7 1-.5 1 .4 1-.2 1 .5 1 .2 1-.1 1-.1 1 .5 1-.4 1 .9 1-.8 1 .5 1 0 1 .5 1 .7 1 .1 1 .4 1-.2 1 .4 1 .4 1 .8 1 .5 1-.2 1 .6 1 .2 1 .7 1 0 1 .8 1 .9 1-.2 1 .1 1 1 1-.2 1 .4 1 1 1-.2 1 .6 1-.1 1 .2 1 .2 1 .3 1-.1 1-.5 1 1.2 1-.5 1 0 1 .6 1 .4 1-.1 1 .6 1-.8 1 .2 1 .7 1 0 1-.4 1 .7 1-.4 1 .5 1-.3 1 0 1 .2 1 .4 1 .2 1 .5 1-.5 1 .6 1-.4 1 .2 1-.4 1 .6 1 .1 1-.8 1 1.1 1-.1 1 .1 1-.7 1 .6 1 .7 1 0 1-.7 1 .3 1-.1 1 0 1 .1 1 .4 1 .3 1-1.1 1 .8 1 .1 1-.3 1 .1 1 .2 1-.6 1 1.1 1-.6 1 .4 1 .1 1-.7 1 .1 1 .4 1 .2 1-.2 1-.4 1 .1 1 .5 1 .8 1-.8 1 .1 1-.3 1 1.1 1-.2 1-.6 1 .7 1-.5 1 .4 1-.5 1 .4 1 0 1-.1 1 .3 1-.8 1 .2 1 0 1 1.3 1-.4 1 .2 1-.3 1 0 1 0 1 .2 1 0 1 .3 1-.5 1-.2 1 .5 1-.1 1 .2 1 0 1 .3 1 .3 1-.7 1 .7 1 .3 1-.3 1-.7 1 .4 1 .6 1-.3 1 .2 1-.2 1 .5 1-.2 1 .3 1-.6 1 .2 1-.3 1 .4 1-.1 1 0 1 .8 1-1.1 1 .4 1 .1 1 .6 1 .1 1-.8 1 .5 1 .3 1-.5 1 .1 1 .5 1 .4 1-.9 1 0 1 .4 1 0 1 .4 1-.9 1 1 1-.2 1-.5 1 .5 1 0 1-.5 1 0 1 .2 1 .6 1 .1 1-.5 1-.2 1-.2 1 .2 1 0 1 .8 1-.5 1 .7 1-.9 1 .8 1 0 1-.5 1 .1 1 .6 1 .2 1-.4 1 0 1 .1 1 .2 1 .1 1-.1 1-.3 1 .5 1 .1 1-.7 1 .4 1 .4 1-.3 1-.5 1 .4 1 .5 1-.3 1-.5 1-.1 1 1.2 1-1.1 1 .4 1 .5 1-.1 1 .3 1-.6 1 .9 1-.3 1 .6 1-1.1 1 .2 1 .1 1 0 1 .4 1-.3 1 .7 1-.6 1-.3 1 1 1 .3 1-.9 1 .6 1 0 1 .2 1 0 1-.4 1 0 1 .8 1-.3 1 .5 1-.5 1 .3 1-.9 1-.2 1 .7 1-.3 1 .1 1 .1 1 .6 1-.6 1 .9 1-1 1 1.2 1-.6 1 0 1 0 1 .3 1 .5 1-.2 1-1.1 1 .6 1 .1 1-.1 1 .3 1 .2 1 .5 1-1.2 1 .7 1 0 1-.2 1 .7 1-.8 1 .3 1-.5 1 1 1-1 1 1.1 1-1.1 1 0 1 .3 1 .4 1-.7 1 .1 1 .7 1-.2 1 .7 1 0 1-.3 1 0 1-.6 1 .7 1 .3 1 0 1-.8 1 .5 1 .8 1-1.1 1 .1 1-.1 1 .9 1-.7 1 .5 1-.9 1 .7 1 .4 1-1 1 .9 1-.5 1 .4 1-.4 1 .8 1 .2 1-.9 1 .4 1 .9 1-1.4 1 .6 1 .7 1-.6 1 .5 1-.6 1 .3 1-.7 1 1.2 1-.6 1 .1 1-.6 1 .3 1 .8 1-.4 1-.3 1-.1 1 .6 1-.2 1 .6 1-.4 1-.6 1 .8 1-.7 1 .2 1 .2 1 .1 1 .3 1-1.1 1 1.4 1-.7 1-.4 1 .1 1 .6 1 0 1-.3 1 .8 1-.7 1 1 1-1.1 1-.1 1 .5 1 .8 1-1.1 1 .4 1-.2 1 .7 1-.2 1-.2 1 .1 1 .5 1-.2 1-.9 1 1.1 1-.9 1 .3 1 .2 1 .5 1-.6 1 .1 1-.3 1 0 1 .6 1-.6 1-.7 1 1.4 1-.5 1-.1 1 1.1 1-.2 1-.7 1 .1 1 .2 1-.2 1 .1 1 1.1 1-1.2 1 1.1 1-.4 1-.7 1 .3 1 .4 1 .5 1-1 1 .7 1-1 1 .5 1-.1 1 1.1 1-.3 1-.3 1 .1 1-.8 1 1 1-.3 1-.2 1 .4 1 .2 1-.2 1-.9 1 .6 1 0 1 .1 1 .4 1 0 1-.6 1 .8 1-1 1 .9 1 .1 1 .6 1-.3 1-.7 1 .9 1-.5 1 0 1-.1 1 1 1-.3 1-1.2 1 .3 1-.2 1 .7 1-.4 1 .2 1 .5 1-.5 1 1.2 1-.6 1-.1 1 0 1-.5 1 0 1 .9 1-1.4 1 1 1-.7 1 .1 1-.1 1 .5 1 .1 1-.3 1 .7 1 .2 1-.6 1 .7 1 .1 1-.2 1-.5 1 .1 1 .1 1 .1 1 1 1-1.1 1 .9 1-.9 1 .9 1-.2 1-.4 1 0 1-.6 1 1.2 1 .1 1-1.6 1 1.6 1-.7 1-.3 1 .1 1 .1 1 .3 1 .6 1-.3 1-.2 1 .1 1-.2 1 1 1 0 1-1.4 1 .5 1-.1 1 .9 1-.8 1-.3 1 0 1 1.1 1 .7 1-1.7 1 1 1 .4 1-.8 1 .1 1-1.1 1 1.6 1 0 1-.3 1 .4 1 .1 1-.9 1 .3 1 0 1 0 1 .6 1-1.3 1 .8 1 .4 1-.2 1-.5 1 .8 1 .7 1-.6 1 .4 1-.3 1-.4 1 .9 1-.7 1 .1 1 .1 1-.6 1-.4 1 1.6 1-.9 1-.1 1 1 1 .2 1-.6 1 .1 1 .5 1 .2 1-.6 1 .4 1-1.3 1 .4 1-.1 1 .3 1-.2 1 1 1 .5 1-1.6 1 .8 1 1.2 .3-.7 .4-1 .3 .6 .4 .4 .3-1.3 .3-.1 .4 1 .3-.4 .4 .7 .3-1.1 .3 .5 .4 .9 .3-1 .4 .6 .3 .2 .3-.7 .4-.1 .3 .6 .4 .5 .3-.9 .3 .1 .4 .7 .3 0 .4-.1 .3-.1 .3-.9 .4 .4 .3 1.1 .4-1.6 .3 .8 .3-.5 .4 .5 .3-.1 .4 .2 .3-1.1 .3 .7 .4 .9 .3-.9 .4 1.1 .3-.3 .3-.3 .4 0 .3 .3 .4-.4 .3 .3 .3 .2 .4-.6 .3 .4 .4-.3 .3-.2 .3-.5 .4 1.7 .3-1.3 .4 .6 .3-.1 .3 .4 .4-1.3 .3 0 .4-.1 .3 1.3 .3-.8 .4 1.5 .3-.5 .4-.1 .3-1.1 .3 .3 .4 .7 .3-.1 .4-.5 .3 0 .3-.7 .4 1.9 .3-2.1 .4 1.6 .3-.7 .3 .7 .4-1 .3 .7 .4 0 .3 .3 .3-1 .4 1.7 .3-.4 .4-1.3 .3 .1 .3 .9 .4-.3 .3 .1 .4 .9 .3-.3 .3-.5 .4 1.2 .3-.9 .4-1.1 .3 .7 .3-.6 .4 1.2 .3-1.4 .4 .3 .3 .3 .3 .6 .4-1.1 .3 1.6 .4 .1 .3-1.1 .3-.3 .4 .4 .3 .5 .4 .5 .3 0 .3-1.3 .4 1.2 .3-.5 .4 0 .3-.5 .3-.8 .4 1.2 .3-1.3 .4 1 .3 .7 .3-.1 .4-.8 .3 1.3 .4-.6 .3 .1 .3-.3 .4 .7 .3-.1 .4-.4 .3-1.3 .3 1.1 .4-1.1 .3 .5 .4 1.5 .3-.2 .3-.2 .4 .6 .3-2 .4 .8 .3 .6 .3-.5 .4 .9 .3-.5 .4 0 .3-.7 .3 .6 .4 .2 .3-1.2 .4 1.8 .3-1.6 .3 .1 .4-.4 .3-.3 .4 1.9 .3-.8 .3 .6 .4-.9 .3 .7 .4 .5 .3-1.2 .3-.2 .4 1.8 .3-1.1 .4 .9 .3 .5 .3-1.2 .4-.6 .3 1.6 .4-.6 .3-.8 .3 0 .4-.1 .3 1.2 .4-.2 .3-.6 .3-1.1 .4 2.1 .3-1 .4 .3 .3-.6 .3-.3 .4 .9 .3-.2 .4 .4 .3-.9 .3 .1 .4 .5 .3 .8 .4-.6 .3 1 .3-1.5 .4 .2 .3 1.3 .4-.5 .3-.9 .3 .6 .4-.5 .3 0 .4 1.1 .3-1.1 .3 0 .4 .2 .3 .6 .4 .2 .3 .5 .3-.7 .4 .7 .3-1.2 .4 .1 .3 1.5 .3-1.6 .4 .8 .3-.6 .4 .2 .3-1.7 .3 1.4 .4 .5 .3 .6 .4-1.2 .3 1.2 .3-1.1 .4 1 .3-1.2 .4 .5 .3 1.2 .3-2.4 .4 1.3 .3-.2 .4 .4 .3-1 .3 .6 .4-.2 .3-.5 .4 1.4 .3-.8 .3-1 .4 1.7 .3-.3 .4-.7 .3-.2 .3 1.2 .4 .7 .3-.7 .4 0 .3-1.3 .3 2 .4-2.2 .3 1.9 .4-.7 .3 0 .3-.7 .4-.2 .3 .4 .4 1 .3-.4 .3 .5 .4 .3 .3-1.4 .4 1.7 .3-1.5 .3 .9 .4-.1 .3 .6 .4-1.7 .3 .4 .3-1.1 .4 1.2 .3 .9 .4-.5 .3 .6 .3-.6 .4 1.2 .3-1.4 .4 .2 .3-.9 .3 1.1 .4 .9 .3-1.9 .4 .8 .3 1.4 .3-.7 .4-.9 .3-.9 .4-.3 .3 1.7 .3 .2 .4 .5 .3-.5 .4-.5 .3-.1 .3-.6 .4 1.5 .3-.2 .4-1.9 .3 2.5 .3-.2 .4-1.3 .3 .3 .4 1.2 .3-2.5 .3 1.6 .4 .3 .3 1.1 .4-2.3 .3 1.5 .3 .9 .4 .1 .3-2.1 .4 .4 .3 .7 .3-.3 .4 .2 .3 0 .4-.6 .3 0 .3 .7 .4 .9 .3 .2 .4-2.8 .3 0 .3 1.4 .4-.1 .3-1.2 .4 .7 .3 .4 .3-.7 .4 1.6 .3-.8 .4-1.3 .3 1.8 .3-1.8 .4-.2 .3 .2 .4 3.3 .3-1.6 .3-.5 .4-.4 .3 .1 .4-1 .3 2.8 .3-1.9 .4 .4 .3 .7 .4 1.7 .3-1.3 .3-2.8 .4 2.9 .3 0 .4-1.4 .3 1.4 .3-2.4 .4 1 .3-.2 .4 1.1 .3-.4 .3 .4 .4-.4 .3 1.1 .4-.9 .3-.1 .3 .1 .4-.2 .3 .2 .4-1.6 .3 0 .3 1.6 .4 .5 .3-.3 .4-.5 .3 .3 .3-.1 .4-.2 .3 .5 .4-.9 .3 .7 .3 1.4 .4-.5 .3 1.1 .4-1.7 .3-1.5 .3 2.1 .4-2.4 .3 .3 .4 2.2 .3-2.3 .3 3.1 .4-1.3 .3-.3 .4-.1 .3 .3 .3-.6 .4 1.3 .3-1.4 .4-.1 .3-1.2 .3 1.7 .4 .5 .3-.9 .4 0 .3 1 .3 .6 .4-3 .3 1.9 .4-1.3 .3 .2 .3 1.5 .4-.5 .3-.8 .4 1.4 .3-.3 .3-.1 .4 1 .3 .5 .4-.4 .3-1.8 .3 .3 .4 1 .3-1.4 .4 .2 .3 .6 .3 1.7 .4-3.1 .3 .5 .4 0 .3 1.6 .3 .9 .4-1.8 .3 .7 .4 1.4 .3-3.2 .3 1.9 .4 .6 .3-.7 .4-2.6 .3 .3 .3 .9 .4 0 .3 1.8 .4 .5 .3-.4 .3 .7 .4-1.3 .3 1.2 .4-2.4 .3 1.7 .3 .1 .4-2.3 .3 1.8 .4 1 .3-.7 .3 .9 .4-1.3 .3-.3 .4 .4 .3 .2 .3-.5 .4 1.4 .3-1.2 .4-.7 .3 .8 .3-.1 .4 .9 .3-.3 .4-.2 .3 .1 .3-1.5 .4 1.7 .3-1.4 .4 2.9 .3-2.6 .3 2 .4-1.7 .3-.4 .4-1.8 .3 3.6 .3-1.2 .4 1.4 .3-1.6 .4 .8 .3-.9 .3 .4 .4 .7 .3-.6 .4 .1 .3 .9 .3-.1 .4-1.4 .3 .3 .4 .8 .3 1.2 .3 .1 .4-3.7 .3 .9 .4 1.8 .3-1.8 .3 .1 .4 1.8 .3-.2 .4 0 .3 1.3 .3-2.7 .4 2.1 .3 .3 .4-2.6 .3 1 .3-1.3 .4 .7 .3 1.3 .4-1.8 .3 1.8 .3 .7 .4-1.5 .3-.3 .4 .6 .3-.4 .3 1.3 .4-1.1 .3 1.5 .4-.9 .3 .8 .3-2.5 .4 2.7 .3 0 .4-.7 .3 1.4 .3-2.8 .4 2.6 .3 .2 .4 .3 .3-2.7 .3 2.2 .4-.8 .3-1.3 .4 .4 .3-.4 .3-.4 .4 2.8 .3-1.1 .4 .5 .3 .2 .3 .4 .4-2.4 .3 1.4 .4 .4 .3 .6 .3-.5 .4-.3 .3-1.7 .4 2.5 .3-1.6 .3 .2 .4 0 .3 2 .4-.8 .3 0 .3-1.3 .4 .1 .3 1.5 .4-.3 .3 .1 .3 .4 .4-.7 .3 .1 .4-.8 .3-.7 .3 .1 .4 2.1 .3 .9 .4-.3 .3-1.5 .3-.2 .4-.6 .3 .7 .4-1.2 .3 1.8 .3-.4 .4 .3 .3-.3 .4 .8 .3-1 .3 .1 .4-.5 .3 1.3 .4-1.6 .3 1.7 .3-.1 .4-2.4 .3 2.3 .4 .9 .3-1.6 .3-.7 .4 1.5 .3 .2 .4-1.8 .3 1.5 .3-1.2 .4 .3 .3 .1 .4 .2 .3 0 .3 2.1 .4-.7 .3-.6 .4 .2 .3 .3 .3 .4 .4 0 .3-3.2 .4 .7 .3 1.6 .3 2.4 .4-.9 .3-2.6 .4 .7 .3 .3 .3 .5 .4-.1 .3-.7 .4 .1 .3 2.6 .3-3 .4 2.2 .3-1.3 .4-.9 .3-.8 .3-.3 .4 1.2 .3-.9 .4 .6 .3 .6 .3 1.2 .4-1.4 .3 2.1 .4-1.5 .3 1 .3 .6 .4 .3 .3-1.6 .4-.9 .3 .6 .3 .3 .4-.2 .3 .7 .4-1.2 .3-1.9 .3 .7 .4 2.4 .3 1.1 .4-.3 .3-1.2 .3-.4 .4 2.1 .3-2.1 .4 1.8 .3-2.6 .3 .6 .4-.1 .3 .5 .4 .2 .3 .2 .3-1 .4 2.5 .3-1.6 .4-.5 .3 1.7 .3-1.5 .4 0 .3 .6 .4 2.1 .3-1.9 .3 .8 .4-.2 .3-3.3 .4 3.3 .3-1.2 .3-.5 .4 .4 .3 .3 .4 2.6 .3-1.9 .3 .6 .4-2 .3-.2 .4 1.1 .3-.5 .3 .7 .4-1.2 .3 .7 .4-.2 .3 .4 .3 1.1 .4-1 .3-.7 .4 1.3 .3-.1 .3-1.6 .4 .9 .3-2 .4 1.7 .3 .2 .3-.5 .4 1.2 .3 .7 .4 2 .3 0 .3-1 .4-1.9 .3 1.8 .4 0 .3-1.4 .3 2.1 .4-.9 .3 .2 .4-2 .3-1.5 .3 4.3 .4-.1 .3-3 .4 1.9 .3-2.3 .3 3.1 .4-1 .3 .6 .4-1.3 .3 .5 .3 0 .4-1.5 .3 .6 .4-.1 .3 1.9 .3-1.4 .4 1.4 .3-1.1 .4 .7 .3-.6 .3 0 .4-1 .3-.1 .4 .9 .3-2.1 .3 2.6 .4-2.7 .3 1.4 .4 .9 .3 1.7 .3-2.3 .4-.5 .3 2.1 .4-2.1 .3-1.3 .3 3.8 .4-2.7 .3 .3 .4-.5 .3 1.5 .3-1.4 .4 2.7 .3 1.1 .4-2.4 .3 1.4 .3 1 .4-1 .3-2.1 .4 2.6 .3 .4 .3 1.6 .4-3.9 .3 3.1 .4-3.1 .3-.3 .3 .2 .4 1.5 .3-2.5 .4 .7 .3 .3 .3-1.7 .4 3.6 .3-1.3 .4 .5 .3 1.4 .3-.4 .4-1.6 .3 .7 .4-.9 .3 .1 .3-.1 .4 2.6 .3-1.1 .4-1.7 .3 1.8 .3-.4 .4 1.6 .3-2.5 .4 3 .3-.1 .3 .9 .4 1.6 .3 .9 .4-3.2 .3 1 .3 1.9 .4 .4 .3-2.1 .4 1 .3-1.4 .3 3.7 .4 .2 .3 .8 .4-1.2 .3-.6 .3 1.7 .4-3.1 .3 2.2 .4 .9 .3-2.2 .3 2.8 .4 .8 .3-.6 .4-2.3 .3 2.8 .3-2.7 .4-1.1 .3 1.1 .4 5 .3-2.2 .3 .3 .4 .7 .3 1.4 .4 .6 .3 .3 .3 .9 .4-5.3 .3 4.3 .4-1.7 .3 2.6 .3 2.8 .4-1.3 .3-4.8 .4-2.5 .3 5.7 .3 1.7 .4-4.9 .3 2.7 .4 1.8 .3-.3 .3 3.4 .4-4.5 .3 2.7 .4-.5 .3 1.8 .3 5.5 .4-2.4 .3-.3 .4-5.6 .3 3.3 .3 .5 .4 1.6 .3 .2 .4-1 .3-.3 .3 2.3 .4-3 .3 1.2 .4 2.9 .3-4.9 .3 3.5 .4-10.2 .3 9 .4-3.2 .3-1.5 .3 3.4 .4-2.9 .3 1.3 .4-1 .3 8.8 .3-4.5 .4-1 .3 2.4 .4-5.5 .3 2 .3 5.7 .4-6.6 .3 .4 .4 1.6 .3-3 .3 1.9 .4 .8 .3 2.8 .4 .1 .3-5.1 .3 6.3 .4-.9 .3-1.6 .4-.7 .3 3.2 .3-.4 .4-3.7 .3 1.9 .4-.9 .3 .8 .3-1.6 .4 7.1 .3 0 .4-8.4 .3 .9 .3-1.6 .4 7 .3-2.7 .4 4.3 .3-4.7 .3 .1 .4 2.8 .3-3.8 .4-.4 .3-1.8 .3 9.6 .4-1.8 .3-1 .4-7.2 .3 7.8 .3-4.2 .4 5.7 .3-7.2 .4 2.3 .3 2.5 .3 3.2 .4-6.5 .3 1.4 .4 4.8 .3-6.1 .3-.5 .4 2.7 .3-.5 .4-.1 .3-2 .3 3.1 .4-2.3 .3 2.4 .4-.8 .3-1.5 .3-2.8 .4 8.4 .3-2.4 .4-6 .3 6.7 .3-.2 .4-2.7 .3 2.2 .4-2.4 .3 .2 .3-1.9 .4-3.2 .3 9.3 .4-5.5 .3 2.8 .3-3.8 .4-1.2 .3 5.5 .4 1.9 .3-1.7 .3-.4 .4 .4 .3-4 .4-2.3 .3 8.7 .3-9.3 .4 5.1 .3-3.2 .4 1.4 .3-2.2 .3 .9 .4 7.3 .3-7 .4-.9 .3-.5 .3 3.6 .4-4.6 .3-.8 .4 9.8 .3-5.9 .3 .5 .4 2.6 .3-8.3 .4 8.1 .3-2 .3 2.1 .4-.7 .3 3.4 .4-5.4 .3-2 .3-2.7 .4 4.4 .3 1.6 .4-.5 .3-5.1 .3 7.7 .4-3.9 .3 2.5 .4-4.9 .3-1.4 .3 4.2 .4-3.4 .3 2.5 .4-1.5 .3 3 .3 .8 .4-1 .3-6.7 .4 8 .3-4.9 .3-1.2 .4 5.6 .3-1.4 .4-.7 .3-2.1 .3 4.4 .4-2.5 .3 3.1 .4-.2 .3-2.8 .3 1.8 .4-4.2 .3 4.5 .4 .6 .3-2.5 .3-3.9 .4-.3 .3 3.2 .4 1.3 .3-2.6 .3 4.8 .4-6.9 .3 9.4 .4-6.2 .3-2 .3 2.2 .4-2.6 .3-3.8 .4 3.1 .3-3.1 .3 2 .4 .5 .3 3.7 .4-6.1 .3 7.5 .3-3.2 .4-3 .3 5.7 .4-5.4 .3 1.4 .3 1.6 .4-5.5 .3 3.3 .4 3.2 .3 1.4 .3-6 .4 1 .3 4.4 .4-3.7 .3 1.8 .3-3.8 .4 0 .3 6.2 .4-3.2 .3-2.5 .3 2.7 .4-4 .3 5.3 .4-1.2 .3-.3 .3-3.6 .4 1.2 .3-1.7 .4 1.9 .3 3.9 .3-2 .4-4.4 .3 1.8 .4 1.5 .3-2.7 .3-.9 .4 5.6 .3-6.7 .4 3.4 .3-1.3 .3-4.1 .4 2 .3-2.4 .4 5.4 .3 3 .3-4.2 .4-.4 .3 .9 .4 .8 .3 .6 .3-3.9 .4 2.9 .3-3.5 .4-1.1 .3 4.7 .3 1.4 .4 .6 .3 1.7 .4-4.9 .3-1 .3-.4 .4-3.6 .3 11.9 .4-6.2 .3-4.3 .3 3.9 .4-3.2 .3 .3 .4 5.2 .3-.1 .3-2.1 .4-2.9 .3 3.1 .4 2.8 .3-4.3 .3 .7 .4-.6 .3-.3 .4 2.4 .3-5.1 .3 2.9 .4 .1 .3 1.7 .4-4.1 .3 .5 .3-.5 .4 5.5 .3-6.9 .4 2.6 .3 4.1 .3 .5 .4 1.4 .3-5.3 .4-.3 .3 .5 .3 1.8 .4 3.4 .3-6.2 .4 1.1 .3 4 .3-5 .4-2.6 .3 5 .4-.8 .3 3.4 .3-.9 .4 3.2 .3-7.3 .4 2.6 .3-3.1 .3 3.6 .4 .6 .3 2.7 .4-.3 .3-5.2 .3-2.1 .4 5.6 .3-.7 .4-.6 .3 .4 .3-3 .4 0 .3-2.4 .4 1.2 .3 8.8 .3-6.6 .4-.1 .3 2.2 .4 2 .3-.6 .3-7.6 .4 7.2 .3 .9 .4-2 .3 1.6 .3 .2 .4 .6 .3 0 .4-3 .3-1.4 .3 3.5 .4-6.9 .3 5.5 .4 1.1 .3-1.1 .3 .5 .4 1.3 .3-4.3 .4 2.6 .3-.8 .3-1 .4 1.4 .3-.7 .4 2.9 .3-1.9 .3 2 .4-.8 .3-3.3 .4 .4 .3 8.2 .3-7.4 .4-4.1 .3 .8 .4 .3 .3 6.5 .3-3.7 .4-2.9 .3-.5 .4 3.8 .3-3.3 .3 1.2 .4 .4 .3 6.6 .4 .2 .3-3 .3-.2 .4-.5 .3-2.6 .4 .2 .3 3.6 .3 1.1 .4-1.6 .3-5.9 .4 3.5 .3 1 .3 .5 .4 2.9 .3-6.3 .4 1.1 .3-.6 .3-3.6 .4 1.8 .3 8.2 .4-8 .3 6.7 .3-2.2 .4-5.6 .3 10.6 .4-4.6 .3-3.8 .3 2.7 .4-.3 .3 2.4 .4-2.6 .3 1.1 .3-1.7 .4 2.1 .3-3.5 .4 6.9 .3-2.1 .3-3.2 .4 2.7 .3-1 .4 .3 .3-3.5 .3-1.9 .4 4 .3-2.7 .4 8.1 .3-2.4 .3-4.6 .4 2.2 .3 2.8 .4-.8 .3-7.5 .3-.1 .4 6.1 .3 .6 .4-3.2 .3 5.5 .3-7.8 .4 3.3 .3 3.8 .4-.6 .3-3.5 .3-.3 .4-1.5 .3 1 .4 .3 .3 6 .3-5.6 .4-2.9 .3 3.9 .4 2.3 .3-1.9 .3-1 .4 4.7 .3 .1 .4-.8 .3-1 .3 3.4 .4-7.6 .3 3.5 .4-2.1 .3-1.6 .3 .3 .4 4.6 .3-4.2 .4-1.2 .3 4.3 .3 3 .4-.5 .3-.7 .4 .2 .3-3 .3 1.6 .4-5 .3-.8 .4 7.1 .3-2.3 .3 1.7 .4-5.1 .3 3.8 .4 .2 .3 .3 .3 3.5 .4-2.3 .3-4.4 .4 6 .3-6.5 .3-2.2 .4 5.7 .3-2.8 .4 4 .3-5.6 .3 8.1 .4-7.1 .3 3.9 .4-.5 .3 3 .3-3.2 .4 4.3 .3-8.9 .4 1.1 .3-1.6 .3 5.6 .4 2.2 .3-6.9 .4-.3 .3 3.1 .3-1.1 .4 4.1 .3-1.1 .4-1.5 .3 3.5 .3-2.3 .4-1.9 .3 1.8 .4-.1 .3-6.4 .3 4.9 .4 0 .3 2.5 .4 .2 .3-2.9 .3-4 .4-1.3 .3 2.8 .4 2.4 .3-2.8 .3 .1 .4 8 .3-6.1 .4 2.7 .3 1.3 .3-1.9 .4-.2 .3-1.2 .4 2.3 .3-4.6 .3 1.5 .4 3.9 .3 .2 .4 1.2 .3-3.7 .3 3 .4-4.5 .3 6.9 .4-.1 .3-3.1 .3-2.3 .4-1.6 .3 6 .4-8.4 .3 6.3 .3-.4 .4-.6 .3-1.9 .4-1.2 .3 .5 .3 .7 .4 5.3 .3-1.8 .4 2.7 .3-3 .3-2.7 .4 1.5 .3-2.9 .4 3.4 .3 .2 .3-1.5 .4-3.2 .3 5.8 .4 1.9 .3-6.4 .3-.2 .4-1.8 .3 1.2 .4 5.3 .3-2.7 .3-3.4 .4-.6 .3 1.3 .4 5.5 .3 3 .3-5.1 .4-1.3 .3-3 .4 2.3 .3-.9 .3 .9 .4 3.3 .3-1.9 .4 2 .3-4.9 .3 .4 .4 3.5 .3 2.6 .4-.1 .3-6.8 .3 .5 .4 3.2 .3-2.4 .4 6 .3-5.6 .3 .5 .4 3 .3-2.8 .4-2.7 .3 3.2 .3-1.6 .4 5.1 .3 2.9 .4-1.2 .3-8.2 .3 4.6 .4-.7 .3 1 .4-1.2 .3-.4 .3 2.8 .4 .6 .3 0 .4-.4 .3-6.3 .3 7 .4 .7 .3-2.4 .4 1.3 .3 .1 .3-6.2 .4 5.7 .3 1.2 .4-1.6 .3-.4 .3-5.5 .4 3.6 .3-.5 .4 1.7 .3-2.6 .3 3.2 .4-3.8 .3 1.1 .4-1 .3 5.8 .3 1.3 .4-1.5 .3-9.2 .4 7.9 .3-3 .3-.8 .4 4.5 .3-5.6 .4 5.8 .3-5.6 .3 0 .4-1.9 .3 5.3 .4-2.4 .3 3.5 .3 1.4 .4 1.2 .3-4.5 .4 1.2 .3-.3 .3-4.6 .4 9.2 .3-.4 .4-5.2 .3 2.3 .3-.2 .4-4.5 .3 4.2 .4-1.2 .3 .6 .3 2.2 .4-4.2 .3 4.2 .4-3.7 .3 7 .3-3.2 .4-4.9 .3 3.3 .4-2.1 .3-2 .3 2.5 .4-.2 .3 7 .4-4.7 .3-2 .3-.4 .4-.7 .3 1.8 .4 4.6 .3 2 .3-10 .4-.9 .3 1.5 .4 1.4 .3 5.7 .3-7.2 .4 5.1 .3 1 .4-5.5 .3 4.7 .3-.6 .4 2.3 .3-3.3 .4 2.6 .3-5 .3 6.1 .4-1.8 .3-6.5 .4 2.9 .3 .9 .3 3 .4-5.7 .3 4.2 .4 4.4 .3-4.5 .3-3.1 .4 1.9 .3-5.2 .4 4.6 .3 4.4 .3-4.7 .4-.3 .3 .5 .4 1.1 .3 .7 .3 1 .4-1.1 .3 0 .4-2.1 .3 3.1 .3 1.7 .4-4.9 .3-1.3 .4 4.8 .3 1.2 .3-2.7 .4-.9 .3-4.3 .4 7.1 .3-1.1 .3 3.2 .4 .8 .3-5.1 .4-1.4 .3 2.1 .3-3.8 .4 6.3 .3-1.8 .4 1.8 .3-4.2 .3 1.6 .4 0 .3 1 .4 3.6 .3-6.9 .3 3.4 .4 1.3 .3-6.8 .4 6.6 .3-1.4 .3-1.1 .4-2.4 .3 .7 .4 .2 .3 5.2 .3-5.9 .4 2.1 .3 2.3 .4-2 .3-2.5 .3-.5 .4 5.1 .3 2.3 .4-1.1 .3-.4 .3-5.5 .4 4.3 .3-3.4 .4 .7 .3 5.2 .3-2.3 .4 2.1 .3-6.6 .4 .9 .3 .2 .3 .5 .4 .1 .3-1.4 .4 5.7 .3-3.4 .3-.2 .4 2.1 .3-2.6 .4-.3 .3 .6 .3 .9 .4-1.9 .3 6.6 .4-5 .3 3.3 .3-3.8 .4-1.9 .3 2.5 .4-1.2 .3 1.7 .3 1.2 .4-5 .3-1.6 .4 .6 .3 1.8 .3 6.9 .4-3.2 .3-2.2 .4 5.5 .3-5 .3 .3 .4 2.5 .3-2.8 .4 2.6 .3 .9 .3 2.1 .4-6.7 .3 5.3 .4-5.8 .3 7 .3-1.5 .4-2.4 .3 1.3 .4-4.7 .3 6.6 .3-5.3 .4 .6 .3 .5 .4-2.9 .3 5.2 .3-6.7 .4 5.1 .3 4.5 .4-5.4 .3 1.1 .3 2.5 .4-4.5 .3 1.9 .4 2.3 .3-3.8 .3 2.5 .4-2.1 .3 4.3 .4-5.4 .3 8.6 .3-7.6 .4-1.7 .3 3.3 .4 .3 .3-2.3 .3 5.2 .4-5.1 .3 2.1 .4 .7 .3-4.1 .3 4.1 .4-1.1 .3-4.6 .4 6.2 .3-1.2 .3 1.7 .4-5.1 .3 7.5 .4-.6 .3-2 .3-1.9 .4 4.7 .3-4.3 .4-2.9 .3 5.3 .3-2.7 .4-1 .3 4.3 .4-2 .3-4.1 .3 4.1 .4-2.8 .3 .3 .4 0 .3 6.2 .3-5.8 .4 3.8 .3-4.9 .4 1.8 .3-.8 .3 2.1 .4 3.1 .3-9.7 .4 5.6 .3-.2 .3-4.1 .4 4.6 .3-.9 .4 1.6 .3-.7 .3 2.9 .4 1.2 .3-7 .4 2.9 .3 6.1 .3-4.9 .4-.6 .3-1.2 .4-2.4 .3 3.1 .3 .5 .4-2.3 .3 2.6 .4-4 .3 5.7 .3-3.5 .4-2 .3 7.2 .4-7.6 .3 5.7 .3-.6 .4-.1 .3 2.9 .4-3.6 .3-.2 .3 .8 .4-3.6 .3 2.8 .4 2.4 .3 1 .3-6.5 .4 1.4 .3 2.1 .4 4.1 .3-9.2 .3 6.6 .4 4.1 .3-6.1 .4 1 .3-1.4 .3 .6 .4-1.1 .3 1.7 .4 .7 .3 1.4 .3-1.3 .4-4.9 .3-.4 .4 6.5 .3-4.1 .3-.2 .4-2.7 .3 2.8 .4 0 .3 1.6 .3-2.8 .4 4.8 .3-.2 .4-.4 .3-4.2 .3 2.2 .4 .1 .3-1 .4-1.5 .3 4.4 .3-1.7 .4 1.8 .3-2.3 .4-6 .3 7.4 .3-1.6 .4 .3 .3 2.8 .4 2.1 .3-5.9 .3 6 .4-6.4 .3 2.7 .4-5.7 .3 4.5 .3 3 .4-.2 .3-5.1 .4 6.9 .3-3.6 .3 0 .4 .3 .3 1.1 .4-1.9 .3 4.7 .3-6.4 .4-1.9 .3 .9 .4 5.7 .3-2.2 .3 3.4 .4-6.5 .3 5.7 .4-7.6 .3 1.5 .3 2.8 .4 2.5 .3-.3 .4-4.3 .3 6 .3-3 .4-4 .3 6.4 .4 .3 .3-1 .3-4.2 .4 4.4 .3-4.6 .4 5.4 .3-1.6 .3 .9 .4-1.2 .3-3.8 .4 2.5 .3 1.7 .3-3.4 .4 6.4 .3-5.3 .4 3.7 .3-.5 .3-.2 .4-.5 .3 1.7 .4-5.1 .3 1.7 .3 4.3 .4-5.9 .3 3.8 .4-1.9 .3 1.3 .3-7.1 .4 2.6 .3-4 .4 5.6 .3 3 .3-4.1 .4 .5 .3 2.7 .4-.9 .3 5.1 .3 2.6 .4-5.9 .3-2.8 .4 1.6 .3-1.3 .3 1.2 .4 .6 .3 .8 .4-1.8 .3-2.9 .3-2.7 .4 5.5 .3 .1 .4-3.2 .3 7.8 .3-7.1 .4 1.6 .3 .1 .4-.8 .3 4 .3-4.8 .4 6.9 .3-5.2 .4-3.6 .3 7 .3-2.8 .4 .2 .3 6.6 .4-5.1 .3 2.9 .3 1.9 .4-6.2 .3 3.7 .4-4.3 .3-2.6 .3 2.5 .4-.2 .3-1.7 .4 5.4 .3 .8 .3-3.1 .4 5.2 .3-5.6 .4 0 .3 4.1 .3-7.5 .4 3.3 .3 6.8 .4-5 .3 4.5 .3-2.9 .4 .5 .3-1.6 .4-5 .3 6.3 .3-.1 .4-3.8 .3 0 .4 .9 .3-2.2 .3 2.9 .4 3.6 .3-.3 .4 .9 .3-.2 .3-10.1 .4 3.9 .3-1.9 .4 3.4 .3 1.2 .3 .9 .4 2.1 .3-.7 .4-.3 .3 .1 .3-3.4 .4-3.2 .3 5.6 .4-.9 .3 4.6 .3-4 .4 4.7 .3-8.6 .4-.9 .3 1.2 .3 4.9 .4-2.2 .3 .7 .4-2.7 .3 3.6 .3-.5 .4-1 .3 .5 .4-3.2 .3 2 .3 1 .4 2.3 .3 0 .4-2.1 .3 0 .3-2.2 .4 4.3 .3 0 .4-1.1 .3-6.7 .3 4.6 .4-.7 .3 3.4 .4-2.2 .3 3 .3-.3 .4-7.2 .3 2.6 .4 4.2 .3-3.8 .3 2.7 .4 1.9 .3 1.6 .4-5.7 .3 1.9 .3-5.8 .4 .3 .3 8.1 .4-7.5 .3 5.7 .3-.5 .4 .5 .3 1.3 .4-2.1 .3-4.5 .3 5.9 .4 .9 .3 1.2 .4-4.3 .3-5.5 .3 9.7 .4-4.9 .3 .9 .4 5.1 .3-6.7 .3 4.1 .4 1.4 .3-5.3 .4 .6 .3 3 .3-.3 .4 1.8 .3-7.1 .4 3 .3 2.1 .3 2.5 .4-7.8 .3 2.9 .4-3.1 .3 8.8 .3-2.1 .4-1.1 .3-.1 .4-.4 .3-1.1 .3 4.5 .4-2.9 .3 .7 .4-6 .3 4.5 .3 2.2 .4-1 .3-.9 .4 2.1 .3 .1 .3-.9 .4-3.5 .3 2 .4-3 .3 2.5 .3 .6 .4 5.3 .3-3.4 .4 2.5 .3-7.2 .3 6.4 .4-6.9 .3 7 .4-4.8 .3-1.7 .3 1.7 .4 2 .3-1 .4-5.4 .3 7.5 .3-1.5 .4-3.5 .3 3.9 .4-4.9 .3 7.2 .3-4.9 .4-1.4 .3 1.5 .4-.9 .3 3.7 .3-3.8 .4 1.7 .3 1.7 .4-5.9 .3 8.4 .3-2.5 .4 4.3 .3-3.5 .4 3.1 .3-3.3 .3 .9 .4-1.5 .3-.3 .4-3.1 .3 4.5 .3 2.4 .4-3.3 .3 .6 .4-.8 .3 2.6 .3-2.7 .4 3.1 .3-1.2 .4-2.6 .3 3.8 .3-4 .4-5.7 .3 9 .4-3.8 .3 .5 .3 1.1 .4-3 .3 4.5 .4-6 .3 2 .3 5.2 .4-2.6 .3-3 .4 .4 .3-.5 .3 3.9 .4-4.3 .3 1.1 .4 2.5 .3 4 .3-1.5 .4-5.8 .3 5.6 .4-4.1 .3-.9"/>
<path stroke="#2f74e0" d="M379.8 912.4l1.4-212.4 1.4-250 .7-70 1-50.2 1-13.7 1-4.3 1-3.6 1-3.5 1-2.3 1-1.1 1-1.9 1-.9 1-1.5 1-2.4 1-1 1-.8 1-.1 1-.3 1-.3 1-.4 1 .1 1-.6 1-.3 1 .2 1-.3 1-.3 1 .1 1-1.1 1 .5 1-.6 1-.3 1-.4 1-.9 1 .1 1-.6 1-.9 1-1.3 1-.3 1 0 1-1.6 1 .4 1-1.6 1 .4 1-.9 1-1.1 1-.8 1-.4 1-.7 1-.8 1-1.1 1-.5 1-.9 1-1 1-.2 1-1.4 1-1.4 1-.1 1-1 1-1.5 1-.7 1-1.1 1-.9 1-1.8 1-.3 1-1.2 1-1.4 1-.9 1-1 1-1.5 1-1.2 1-.6 1-.7 1-2.8 1-.7 1-.7 1-1.5 1-.4 1-1.9 1-1.1 1-1.2 1-1.4 1-.8 1-1 1-1.3 1-.3 1-1.3 1-.5 1-1.6 1 0 1-.9 1-1.1 1-1.1 1-.9 1-1.2 1 .1 1-2.2 1-.1 1-1.4 1-.7 1 0 1-.1 1-1.4 1 .1 1-.6 1-1.2 1-.3 1-1.1 1-1 1-.6 1-.7 1-.4 1 .3 1-.7 1-2 1 1.1 1-.5 1-.8 1-1.1 1-1.1 1 1.1 1-2.4 1 .6 1-1.1 1-1.4 1 1.7 1-2.9 1-.1 1-.7 1-1.4 1 .8 1 .6 1-1.1 1-.4 1-1.5 1 1.1 1-.6 1-1 1-1.4 1-.1 1-1.6 .3 1.9 .4-1.2 .3-.4 .4 .5 .3-.4 .3-.9 .4 1.2 .3-.5 .4 1.4 .3-3 .3-.5 .4 2 .3-1.6 .4 1.9 .3-1.7 .3-.3 .4 1 .3-1.6 .4-.2 .3 .6 .3-1.5 .4 .3 .3-.2 .4-1.3 .3 2.7 .3-1.2 .4-.1 .3 .2 .4-1.1 .3 .3 .3 1.8 .4-1.9 .3 .1 .4 .5 .3-1.7 .3 .6 .4-.7 .3 .7 .4 .3 .3-1.6 .3 .4 .4-.9 .3 2.1 .4-1.5 .3-1 .3 1.7 .4-.2 .3 1.2 .4-1.6 .3-1.8 .3 .3 .4-1.2 .3 1 .4 .3 .3-1.6 .3 1.6 .4 .6 .3-2.1 .4 2 .3-.5 .3 1.2 .4-3.1 .3 1.4 .4-1.2 .3 .3 .3-1.2 .4 2.3 .3-.6 .4-.8 .3 .5 .3 .2 .4 .4 .3-2.6 .4 2.7 .3-1.5 .3 .9 .4 .2 .3-.2 .4-1.1 .3-.9 .3-1.6 .4 2.4 .3-2.3 .4 .5 .3 .2 .3-.8 .4 1.6 .3 .4 .4 .2 .3-2.8 .3 2.6 .4-2.5 .3-.2 .4 1.7 .3-1 .3-.6 .4 1.2 .3-1.5 .4 1.4 .3-.7 .3-2.1 .4 1.4 .3 .9 .4-2.1 .3-1.4 .3 .4 .4 2 .3-1.9 .4-.6 .3 1.4 .3 .7 .4 1.4 .3-2.7 .4 2.1 .3-1.2 .3-1.9 .4 1.9 .3-.1 .4 .4 .3-.6 .3 .3 .4-.1 .3-1.2 .4-1.4 .3 3.5 .3-2.6 .4-1 .3 2.7 .4-.7 .3-1.1 .3 1.7 .4-.6 .3-2 .4 1.9 .3-1.3 .3-.4 .4 .8 .3-2.4 .4 2.4 .3-.6 .3-2.3 .4 1.7 .3-.4 .4-.5 .3 0 .3 .6 .4-1.4 .3 .8 .4 0 .3-.2 .3-1 .4 2.5 .3-.3 .4-.6 .3-.9 .3-1 .4-1.1 .3 1.6 .4 .1 .3-2.7 .3 .2 .4 3.6 .3-1.1 .4 .5 .3-1.2 .3-.3 .4 .9 .3-1.1 .4-.4 .3-.1 .3 1.2 .4-1.4 .3 1.6 .4 .5 .3-3.3 .3 1.1 .4 .3 .3-1.7 .4 2.8 .3-3.6 .3 4.6 .4-1.5 .3 .1 .4-1.5 .3 .3 .3 .6 .4-.8 .3-1.3 .4-.1 .3-.5 .3 .8 .4 1.3 .3-.6 .4 0 .3-.1 .3-2.4 .4 2.7 .3 .4 .4-2.3 .3-1 .3 3 .4 .2 .3-.8 .4-.2 .3-2.2 .3 1.8 .4 .1 .3-1.6 .4 1.5 .3-2.5 .3 .9 .4 .3 .3 1.8 .4-.8 .3-3.3 .3 2.8 .4-2.2 .3 .9 .4 2.6 .3-2.6 .3-1.1 .4 2.7 .3-2.3 .4-.1 .3-.5 .3 2.8 .4-.8 .3-.7 .4-1.8 .3 1.5 .3 1.8 .4-2.5 .3-1.3 .4 2.4 .3-1.7 .3 .6 .4-1.1 .3-1.2 .4 3.2 .3-.3 .3 .6 .4-.8 .3-.7 .4 .9 .3-1.3 .3 1.9 .4-2.5 .3-.4 .4-.2 .3 1 .3 .6 .4-1.1 .3 .8 .4-1.2 .3 2.2 .3-1.4 .4-.6 .3-.2 .4-.1 .3 1.6 .3-1.6 .4 0 .3-1 .4 2.2 .3-.1 .3 1.3 .4-.6 .3-2.7 .4 1.8 .3-.5 .3 1.1 .4-3.3 .3 2.3 .4 .8 .3-.9 .3-.8 .4 .3 .3 1.5 .4-2.4 .3-.8 .3 1.5 .4-.7 .3-.1 .4 2.8 .3-2.2 .3-1.1 .4-.3 .3 1.9 .4-.8 .3 0 .3 .4 .4-1.6 .3 .4 .4 2.3 .3-2.2 .3 .4 .4-1 .3 1.8 .4-1.7 .3 2.1 .3-1.1 .4 1.3 .3-2.3 .4 1.9 .3-3.7 .3 2.4 .4 .1 .3-.4 .4-.5 .3-.7 .3 3.9 .4-5.8 .3 3.3 .4-.1 .3-.8 .3 .4 .4-.6 .3-.9 .4 .2 .3 1.7 .3-.1 .4-1.6 .3 1 .4 1.8 .3-3.5 .3 1.7 .4 2.1 .3-1.6 .4-2.2 .3 1 .3 2.2 .4-1.2 .3-.7 .4 0 .3-1.2 .3-1.3 .4 3.2 .3-1.3 .4 2.1 .3-.1 .3-1.6 .4-.6 .3 2.3 .4-3.3 .3 0 .3 2.2 .4 .5 .3-2.5 .4 .5 .3-.6 .3 2.2 .4-2.7 .3 1.9 .4-1.8 .3-.1 .3 1 .4-.2 .3 .9 .4 .1 .3-.2 .3 .4 .4-.3 .3 .7 .4-3.1 .3 1.5 .3 .6 .4 .8 .3-.9 .4 .8 .3-.7 .3-1 .4-1.8 .3 1.6 .4-.5 .3-.8 .3 1.2 .4-1.3 .3 1.2 .4 1.4 .3-.3 .3-2.6 .4 3.2 .3-3.2 .4 1 .3 2.3 .3-2.3 .4 .3 .3-1.7 .4-.2 .3-.2 .3 .5 .4 1.4 .3-1.2 .4 0 .3 1.9 .3-1 .4-.9 .3 2.5 .4-1.1 .3-1.7 .3 1.5 .4-1.2 .3 1.1 .4 1.4 .3-2 .3-.7 .4-.7 .3 3.4 .4-2.9 .3 1.9 .3-2.3 .4 1.3 .3-1.8 .4 2.1 .3 .4 .3-.1 .4-1.4 .3 .9 .4-2.2 .3 .6 .3 1.3 .4 .5 .3-1.8 .4-.2 .3 .5 .3 1.8 .4-1.1 .3-2.3 .4 1.2 .3-.5 .3 1.5 .4-.6 .3-.2 .4 .4 .3 .7 .3 .1 .4-2.3 .3-.9 .4 3.9 .3-3.5 .3 1.9 .4-.9 .3 1.4 .4 0 .3-2 .3 2.1 .4-4.4 .3 .9 .4 2.3 .3 1 .3-1.1 .4-4.6 .3 2.3 .4-.3 .3 3.3 .3-.8 .4-1.1 .3 .3 .4 .1 .3-.3 .3-1.6 .4-.5 .3 .7 .4-.1 .3 2 .3-2.1 .4 2.4 .3-2.8 .4 2.5 .3-3.2 .3 3.3 .4-1 .3-2.3 .4 1.3 .3 .8 .3 .7 .4-2.6 .3 1.4 .4-.7 .3 .1 .3 3.5 .4-2.1 .3 1.3 .4-2.1 .3-.9 .3 2.4 .4-3.6 .3 1.9 .4 .4 .3-.1 .3-1.8 .4-.3 .3 1.6 .4-2.1 .3 .6 .3 1.2 .4 .2 .3-1.1 .4 2.1 .3-2.5 .3-.7 .4 3 .3 .8 .4-2.8 .3 1 .3-.1 .4-1.8 .3 .1 .4-1 .3 2.5 .3 .1 .4-1.9 .3 2.5 .4-3 .3 3.5 .3-.9 .4-1.9 .3 2.8 .4-1.2 .3-.5 .3-.3 .4-.8 .3 .2 .4 .3 .3 .6 .3-1.9 .4-.6 .3 2.8 .4 .1 .3-2.7 .3 .8 .4 .8 .3-2.7 .4 2.7 .3-2.7 .3 2.5 .4 .4 .3 .9 .4-3 .3 1.3 .3 .9 .4-3.3 .3 1.5 .4 1.2 .3 .5 .3-2.7 .4 2.1 .3 .7 .4-2.1 .3 .5 .3 .5 .4-.4 .3 .1 .4-1 .3 2.3 .3-1.2 .4-.6 .3 .2 .4-1.2 .3 1.4 .3 1.1 .4-3 .3 3.3 .4-2 .3 .2 .3-.7 .4 .9 .3 .7 .4-1.6 .3-1.1 .3 1.4 .4-1.2 .3 1.9 .4 1.2 .3-1.3 .3-.8 .4 4.1 .3-3.4 .4-.1 .3-1 .3 2.1 .4-1.8 .3-.4 .4-.3 .3 1.4 .3 .3 .4-1.7 .3 1.8 .4-1 .3-2 .3 2.7 .4-3 .3 1.2 .4 .8 .3 .9 .3-1.1 .4-.8 .3 .2 .4-.8 .3 1.6 .3 1.2 .4-3.6 .3 2.9 .4-1.1 .3 .4 .3-2.3 .4 1.4 .3 2 .4-2.6 .3 .3 .3-.3 .4-.4 .3-.1 .4-.3 .3 2.2 .3-2.9 .4 1.4 .3 .2 .4 .5 .3 .5 .3-1.9 .4 1.7 .3-1.2 .4 1.7 .3-.6 .3-1.9 .4 1.6 .3-1.3 .4-.3 .3 1.6 .3-1 .4 1.1 .3-2.3 .4 .4 .3 1.1 .3-.8 .4-.6 .3 0 .4 .4 .3-.6 .3 2.6 .4-.6 .3 2.1 .4-2.7 .3 1.4 .3-2.3 .4 0 .3-.5 .4 .3 .3-.5 .3 2.1 .4-1.8 .3 .2 .4 1.5 .3 2.1 .3-2.6 .4 1.9 .3-1.7 .4 1.4 .3-1 .3-1.2 .4 3.4 .3-2.3 .4-1.3 .3 1.1 .3-2.1 .4 .8 .3 .9 .4-.6 .3 1.5 .3-2.1 .4 .9 .3-1.5 .4 2.9 .3-.8 .3-1.7 .4 0 .3 3.1 .4-2.2 .3 1.1 .3-1.1 .4-3.2 .3 1.3 .4 2.3 .3-2 .3 1.5 .4 1.3 .3-1 .4 1.7 .3-.1 .3-3.6 .4 2.3 .3-2.5 .4-.1 .3 2 .3-.9 .4-1.5 .3 1.4 .4-1.7 .3 3.1 .3-3.5 .4 .5 .3 .4 .4-.1 .3 .2 .3 .5 .4-1.7 .3-.2 .4 3 .3-.9 .3 1.1 .4-3.4 .3 3.1 .4-1.8 .3-.3 .3-.5 .4 2.9 .3-1.4 .4-1.5 .3 2.1 .3-.1 .4-1.7 .3 1.1 .4 1.3 .3-1.9 .3 1.1 .4-1.4 .3-.4 .4 1.1 .3-1.8 .3 .2 .4-1 .3 3.5 .4-.5 .3 .9 .3-2.5 .4-.7 .3 4 .4-4.1 .3 1.5 .3-1.7 .4 2.4 .3-2.4 .4 2.5 .3-.9 .3 1.4 .4-1.4 .3-1.4 .4 .5 .3-1.6 .3 2.2 .4-.7 .3 .2 .4 .1 .3-.2 .3 .3 .4 1.3 .3-1.5 .4 1.6 .3-1 .3 1 .4-.4 .3-2.2 .4 2.7 .3-1.6 .3 .6 .4-1.5 .3 2.2 .4-1.9 .3-.7 .3 2.1 .4-2.5 .3 1.8 .4 .8 .3-4 .3 4.4 .4-1.3 .3 1.3 .4 0 .3-2.7 .3 .7 .4-1.7 .3 3.7 .4-2.8 .3 2.8 .3-2.5 .4 2.5 .3-3 .4 2 .3-.2 .3 .7 .4-1.5 .3-1.2 .4-.6 .3 2 .3 .3 .4 .1 .3-1 .4 1.9 .3-2 .3-.3 .4-1.5 .3 2 .4-.6 .3-.2 .3 1.1 .4-.2 .3-.7 .4-1 .3 2.7 .3-.3 .4-3.5 .3 4.2 .4-1.6 .3 1.2 .3-.2 .4-.7 .3-.7 .4 .2 .3-1.9 .3 1.2 .4-.6 .3-2.4 .4 4.4 .3-.1 .3-1.6 .4 .2 .3-.7 .4 3.1 .3-4 .3 .1 .4 .3 .3 3.2 .4-4.1 .3 .3 .3 .7 .4 .6 .3 2.5 .4-2 .3-1.1 .3 2.6 .4-3.2 .3 .9 .4 1.5 .3-.6 .3 1.3 .4-.4 .3-1.3 .4-2 .3-.4 .3-.4 .4 4.2 .3-2.8 .4-.3 .3 2.2 .3-.7 .4-1.6 .3 2.5 .4 1.2 .3-3 .3 .4 .4 .1 .3-1.6 .4 2.2 .3-1.7 .3 1.5 .4-1.5 .3 2.6 .4-2.1 .3-.6 .3 1.6 .4-1 .3-1.1 .4 .2 .3 .4 .3 .2 .4-.1 .3-.3 .4 2.7 .3-3.7 .3 4 .4-3.7 .3 .7 .4 2.2 .3-.1 .3 .5 .4-3 .3-1.6 .4 5.5 .3-1.2 .3-2 .4-2.4 .3 1.7 .4 3.1 .3-5.9 .3 1.9 .4 .9 .3 1.1 .4 .4 .3-.2 .3-.8 .4 .8 .3-.9 .4-.5 .3 1.7 .3-2.7 .4 2 .3-1.8 .4-.1 .3-.5 .3 2.2 .4 .2 .3-2.7 .4 2.8 .3-1.6 .3 .8 .4 .1 .3-.9 .4 1.4 .3 .1 .3-1.5 .4 1.3 .3-.1 .4-.6 .3-1.5 .3-1.1 .4 2.1 .3 2.1 .4-2.5 .3 .2 .3 .8 .4 .6 .3-.9 .4 1.8 .3-.8 .3-2 .4 1.5 .3-1.5 .4 .9 .3-1 .3 1.9 .4-.2 .3-2.8 .4 2.2 .3-1.2 .3 .6 .4-.2 .3 1.3 .4-1 .3-.1 .3-1 .4-.8 .3 2.1 .4 .7 .3-.2 .3-.7 .4-2.8 .3 2.9 .4-1.3 .3-.4 .3-1 .4 1 .3 1.8 .4 0 .3-.8 .3-.9 .4 .7 .3 1.1 .4 .2 .3 .4 .3-1.8 .4 1.2 .3-2.5 .4 2.3 .3-2.2 .3-.7 .4 .1 .3 1.9 .4 1.7 .3-3.1 .3 1.3 .4-2.2 .3 .7 .4 3 .3-1 .3-.1 .4-1.1 .3-2.3 .4 2.8 .3 .7 .3-1 .4 2.1 .3-.9 .4-2 .3-.4 .3-.6 .4 1.6 .3-.5 .4 1.1 .3-.2 .3 1.3 .4-.7 .3-.6 .4-1 .3-.3 .3 .5 .4 2.2 .3-3.3 .4-.3 .3 1.5 .3-1.4 .4 .9 .3 1 .4 1.5 .3-1.2 .3-1.7 .4 1.2 .3-1.1 .4-.9 .3 1.5 .3-.3 .4-2.2 .3 1.3 .4-.1 .3 1.9 .3 1 .4-1 .3 .6 .4-1.3 .3 1 .3-1.1 .4-.4 .3-.4 .4-.5 .3 1.6 .3-2.7 .4 1.9 .3-.8 .4 .1 .3 .7 .3-1.3 .4-.5 .3 3.1 .4-3.3 .3 1.7 .3-2.1 .4 .6 .3 2.5 .4-1.5 .3 0 .3 2.3 .4-1.9 .3 .3 .4-.4 .3 .8 .3 .6 .4-2.4 .3 .8 .4-1.1 .3 2 .3 .3 .4-.7 .3 .6 .4 .6 .3-.1 .3 .5 .4-1.7 .3 1.7 .4-1.1 .3-1.5 .3 .7 .4-.6 .3 .7 .4 .6 .3-1.5 .3-1.1 .4 .8 .3-2 .4 3.1 .3-2.1 .3 .3 .4 1.4 .3 1.2 .4-1.1 .3-.4 .3-1.1 .4-.3 .3 2.1 .4-.4 .3-.4 .3-1.6 .4-.8 .3 1.1 .4 .1 .3 .7 .3 .7 .4-1.6 .3 1.2 .4 1 .3-2 .3 .4 .4 1.4 .3 .4 .4-1 .3-1.9 .3 1.6 .4 .4 .3 .8 .4 1.2 .3-3.9 .3 1.3 .4-2.8 .3 .4 .4 2.5 .3-1.5 .3-.5 .4-.3 .3 3.6 .4-2.9 .3 .7 .3 2.3 .4-4.3 .3 3.7 .4-3.2 .3 2.3 .3-2.4 .4-1 .3 .8 .4 1.1 .3 .9 .3 .3 .4-2.8 .3 2.7 .4 .5 .3 .2 .3-.9 .4 .5 .3-2 .4 .4 .3 1.1 .3-1.6 .4-.1 .3 .3 .4 1.4 .3 .4 .3-3 .4 2.2 .3-.9 .4-.1 .3-.4 .3 1.6 .4-1.5 .3 .3 .4-.1 .3-.8 .3 2.8 .4-2.5 .3 2.9 .4-3.4 .3 1.6 .3 1.4 .4-.5 .3-1.1 .4 .4 .3-.5 .3-.3 .4 .1 .3 1 .4-2.5 .3 .1 .3-1.5 .4 .7 .3 1.3 .4 1.2 .3 .2 .3-.9 .4 1.2 .3-1.1 .4 2.6 .3-1.8 .3-2.9 .4 .9 .3 0 .4-.1 .3 2.6 .3-1.6 .4 1.4 .3-2.2 .4 1.8 .3 .5 .3-1.2 .4-.8 .3-1.8 .4 .9 .3-.6 .3 2.1 .4-.4 .3 .1 .4-.7 .3 .5 .3-2 .4 1.4 .3 1.6 .4-1.3 .3-2.1 .3 2.8 .4-.6 .3-1.4 .4 1.4 .3 2 .3-.5 .4-3.1 .3 1 .4 1.2 .3-1.6 .3 1.1 .4-1.6 .3 .3 .4 1.1 .3 1 .3-1.5 .4-.5 .3 2.3 .4-3.1 .3 1.4 .3 1.9 .4-1.3 .3-1.5 .4 1.2 .3-1.7 .3 .4 .4 1.2 .3 1.1 .4-1.3 .3 1.5 .3-.7 .4-3 .3 3 .4 1.1 .3-2.2 .3-1 .4 3.3 .3-1.4 .4-1.5 .3 1.8 .3-.4 .4-.2 .3 .8 .4-3 .3-.5 .3 1.6 .4 2.4 .3-2.9 .4-.5 .3 .9 .3-.1 .4 .6 .3 1.4 .4-.4 .3-1.7 .3 .1 .4-.3 .3 2.5 .4 0 .3-.1 .3-2.5 .4 1.8 .3-2.2 .4 .4 .3 1.9 .3-.1 .4-1.1 .3 .7 .4 .3 .3-3 .3 2.2 .4-2.1 .3 2.5 .4-2.7 .3 1.9 .3 2.7 .4-4.6 .3 .7 .4 1.5 .3-1.9 .3 .9 .4 1.2 .3 .3 .4-.6 .3 2.2 .3-1.7 .4-2.1 .3 0 .4 1.9 .3-2.8 .3 2.6 .4-2.5 .3 2.6 .4-2.3 .3 .1 .3 3.3 .4-3 .3 1.4 .4-1.3 .3 2.9 .3-2.5 .4-2.4 .3 .3 .4 2.1 .3 .8 .3-1.6 .4 1.8 .3-1.3 .4 1.1 .3-1.5 .3 1.9 .4-1.7 .3-1.5 .4 2 .3 1.4 .3-3.6 .4 .6 .3-.7 .4 4.1 .3-.4 .3-2.2 .4 1.1 .3 1.5 .4-2.2 .3 .1 .3 .2 .4-2 .3 .6 .4 .2 .3 .2 .3 1 .4-1.1 .3 2 .4-1.3 .3-.5 .3-.8 .4 3.3 .3-1.8 .4-1.5 .3 .2 .3 1.7 .4-.1 .3-1.2 .4 1.1 .3-3.4 .3 3.6 .4-1 .3-.1 .4 1.1 .3-.2 .3-.5 .4-.9 .3-.8 .4 2.8 .3-.9 .3-1.2 .4 2.7 .3-.1 .4-3.4 .3 .4 .3 1.6 .4 1.4 .3-.4 .4-3.5 .3 .8 .3 1.2 .4-1.9 .3 1 .4 1.1 .3 .9 .3-2.1 .4 1.4 .3-1.3 .4 .3 .3-1.5 .3 2.6 .4-2 .3 1 .4 2.8 .3-2.6 .3 .3 .4-1.7 .3 2.4 .4-2.8 .3 3 .3-2.8 .4 2.3 .3-1 .4 .9 .3 .3 .3-.7 .4 0 .3 1.1 .4-1.6 .3 1.8 .3 .2 .4-2.3 .3 .3 .4 1.2 .3-1.3 .3 .9 .4-.1 .3 1.7 .4-2.4 .3 .3 .3-.8 .4-.4 .3 1.7 .4-2.8 .3 1.1 .3 1.8 .4-.5 .3-1.8 .4 2.4 .3-1.6 .3-.4 .4 1.9 .3-2.2 .4 .5 .3 .6 .3 .5 .4 .2 .3-2 .4 .4 .3-1.4 .3 1.8 .4 1 .3-.6 .4-.3 .3 1.1 .3-.3 .4-.4 .3 1.2 .4-2.5 .3 .3 .3-.2 .4-.6 .3 2.3 .4 .9 .3-1 .3-.1 .4-1.1 .3 2.3 .4-3.1 .3 2.2 .3-2.3 .4 1.6 .3 1.4 .4-1.8 .3 .3 .3 1.6 .4-1.8 .3-1 .4-.1 .3 1.7 .3-1.5 .4 .2 .3-.9 .4 1 .3 .1 .3-1.6 .4 .5 .3 0 .4 2.7 .3-3 .3 2 .4-.4 .3-1.3 .4 0 .3-.1 .3 2 .4-1.1 .3-.3 .4-.4 .3-.2 .3-1.1 .4 1.1 .3 1 .4-1.8 .3 1.8 .3 1 .4-.6 .3-1.4 .4-1.1 .3 1 .3 2.9 .4-1.9 .3 1 .4-.5 .3 .2 .3 1.2 .4 .8 .3-2.8 .4 1 .3-.3 .3-2.2 .4-.1 .3 1.3 .4-.9 .3-1.4 .3 1.1 .4 .3 .3-.7 .4 1.6 .3 .4 .3 1.4 .4 .2 .3-1.5 .4-1.4 .3 .3 .3 2.1 .4 .6 .3-2.3 .4 .3 .3 .5 .3-1.4 .4-.3 .3 3.1 .4-2.4 .3 .5 .3-1.6 .4 .5 .3-.3 .4 .2 .3 2.7 .3-3.6 .4 3.5 .3-3.4 .4 3.2 .3-1 .3-.9 .4-1.3 .3 .2 .4 2.7 .3-1.5 .3 .9 .4-1.1 .3 .3 .4-2.1 .3 2.9 .3-1.6 .4 3.5 .3-4.4 .4 .7 .3 3.2 .3-3.7 .4-.5 .3 4.5 .4-1.3 .3-1.7 .3 .2 .4-1.8 .3 .6 .4 .4 .3 1.8 .3-.3 .4 .8 .3-1.9 .4 1.9 .3-1.7 .3 1.8 .4-2.8 .3 1.2 .4 .9 .3 .8 .3-2.1 .4-.3 .3 2.3 .4-2.9 .3 2.4 .3 0 .4-1.3 .3-1.1 .4 .6 .3 .9 .3 1.8 .4-.6 .3-1.1 .4 .7 .3-.4 .3-2.9 .4 2.5 .3-1.7 .4 2 .3 .1 .3-1 .4 2 .3-2.3 .4 3 .3-1.6 .3 0 .4-1.7 .3-1 .4 3 .3 0 .3-2.4 .4 1.4 .3-.8 .4-.2 .3 .3 .3 1.1 .4-.1 .3-.5 .4 1.6 .3-.2 .3 1 .4-1 .3-1.7 .4 1 .3-1.8 .3 .2 .4 2 .3-2 .4 1.4 .3-1 .3 1.3 .4 .6 .3-1.8 .4 3.6 .3-1.9 .3-.8 .4 .9 .3 2.1 .4-3.3 .3 2.4 .3-3.9 .4-.1 .3 2.4 .4-1 .3 2 .3-1.6 .4-.1 .3 1.1 .4-1.9 .3 2.2 .3-2.2 .4-.4 .3 1.1 .4-.7 .3 1.8 .3-1.3 .4 .6 .3-.8 .4 .6 .3-1.5 .3 .9 .4 1.9 .3 .5 .4-.5 .3 0 .3-2.1 .4 4.1 .3-2.7 .4 1.8 .3 .6 .3-3.2 .4 1.6 .3 1.4 .4 .2 .3-.8 .3-.4 .4-.4 .3-.4 .4-.9 .3 1.4 .3-.5 .4-.8 .3 1.4 .4-.2 .3-1 .3 1.9 .4-2.1 .3 .6 .4-.4 .3 .3 .3 0 .4 .8 .3-1.6 .4 2.1 .3-1.2 .3 2.5 .4-.6 .3-1.9 .4 1.8 .3-1.1 .3 2 .4-1.2 .3-2.1 .4 1.3 .3 1 .3 6.3 .4-2.7 .3-7.1 .4 3 .3-1.1 .3 .1 .4 .1 .3 .4 .4-.2 .3-.8 .3 3.3 .4 .3 .3-.3 .4-1.9 .3-1.9 .3 1.7 .4 2.6 .3-2.1 .4 .7 .3-.9 .3-.9 .4 .6 .3 1.3 .4 .6 .3-2.2 .3 .1 .4 1.9 .3-.2 .4-1.6 .3 1.5 .3-.4 .4 1.8 .3-1.1 .4 .6 .3-.1 .3-.3 .4-.3 .3 .6 .4 .4 .3-1.4 .3-1.2 .4 1 .3-1.1 .4 10.2 .3-2.4 .3-5.1 .4-1 .3-2.3 .4 2.7 .3-3.3 .3 .6 .4 2.6 .3-.3 .4-1.7 .3 1.2 .3 1.2 .4-2.3 .3 1.9 .4-1.6 .3 .3 .3 1.2 .4 1.4 .3 25.9 .4-8.1 .3-18.4 .3 .1 .4 1 .3-2.1 .4-.9 .3 1.2 .3-1.3 .4 .9 .3 11.6 .4-2.9 .3-6.8 .3-.5 .4-2 .3-.6 .4 .7 .3-.6 .3 .6 .4-.3 .3 0 .4 1.6 .3-.1 .3 14.9 .4-4.1 .3-10.3 .4-1.3 .3 0 .3 .2 .4 .6 .3-.2 .4 .9 .3-2.8 .3 1.8 .4 1.2 .3-.7 .4 .4 .3 .5 .3-.9 .4 .9 .3-2.4 .4 1.1 .3-.8 .3-.9 .4 3.2 .3-1.1 .4-.6 .3-.1 .3 1 .4-2.7 .3 1.4 .4 18.7 .3-5.7 .3-11.8 .4-1 .3-1.1 .4 71.6 .3-21 .3-47.5 .4-1.4 .3-2.6 .4 4.9 .3-.9 .3-2.5 .4 3 .3-1 .4-2.4 .3 2.6 .3-.7 .4 .6 .3 .9 .4 18 .3-6.1 .3-10.9 .4-2.6 .3-.1 .4 1.3 .3 .7 .3-1.7 .4 1.6 .3-2.9 .4 .4 .3 3.4 .3-.8 .4 .7 .3-1.8 .4-1.9 .3 3.4 .3-1.4 .4 2.4 .3-.4 .4 38.7 .3-12.5 .3-27.8 .4-.7 .3 1.9 .4-.1 .3-.1 .3 .3 .4 .7 .3 1.1 .4-1 .3-2 .3 23.2 .4-6.5 .3-17 .4-.5 .3 .2 .3 1.4 .4-1.4 .3-.6 .4 3.4 .3-1.4 .3-.7 .4 1.9 .3-2.6 .4 .8 .3 1.3 .3-1.1 .4 141.8 .3-42 .4-98.8 .3 .7 .3 1.6 .4-2.2 .2 2.5 .2-3.3 .2 .1 .2 2.4 .2 .3 .2-.3 .2 1 .2-1.7 .2 .2 .2-1.5 .2 1 .2-.6 .2 .7 .2 30.9 .2-8.7 .2-21.5 .2 1.1 .2-1.9 .2 2.6 .2 2 .2-1.7 .2 1.1 .2 .3 .2-1.8 .2 .7 .2-1.3 .2 2.8 .2-2.2 .2-2.2 .2 8.9 .2-2.8 .2-5 .2 7 .2-8.8 .2 8 .2 6.8 .2-14.7 .2-1.4 .2 .1 .2 11.1 .2 3 .2-7.4 .2-.6 .2-3.8 .2-3.5 .2 .2 .2 11.6 .2 .9 .2-6 .2-8.2 .2 92.3 .2-21.1 .2-66.7 .2 10.1 .2-1.6 .2 11.3 .2-14.8 .2 5.8 .2-8 .2 16.8 .2-16.2 .2 4.6 .2 7.5 .2 7.2 .2 2 .2-3.2 .2 3.1 .2-21.5 .2 6 .2-.2 .2 8.4 .2-2.6 .2-4.7 .2 4 .2-8.5 .2-.9 .2 15.8 .2-5.9 .2 41.3 .2-15.3 .2-28.2 .2 15.9 .2-24.4 .2 22 .2-19.9 .2 12.7 .2-6.7 .2-1.8 .2 8.2 .2 1.1 .2 .6 .2 7.8 .2-11.5 .2-11.8 .2 14.9 .2 4.2 .2 .4 .2-11.8 .2 21.6 .2-1.1 .2-15.1 .2 8.9 .2 12.1 .2 102.2 .2-36.3 .2-94.3 .2 26.4 .2-5.2 .2 5.4 .2-16.1 .2 10.6 .2-5.1 .2-7.3 .2 11.8 .2-14 .2 19.2 .2-11.6 .2 4.8 .2 5.9 .2-17.5 .2 11.8 .2-10.8 .2 4.2 .2 38.1 .2-6 .2-35.5 .2 23.3 .2-10.8 .2 10.3 .2-4.1 .2 5.1 .2 3.7 .2-15.8 .2-8.3 .2 14.1 .2-2.6 .2 2.5 .2-12.7 .2 14.8 .2 1.6 .2 1.8 .2-7.1 .2 8.3 .2-3.7 .2-9.9 .2 6.6 .2 9.5 .2 10.1 .2-12.3 .2 2.3 .2 37.8 .2-12 .2-30.3 .2 4.9 .2-11.2 .2 15.4 .2 9 .2-14.7 .2 6.5 .2-4.8 .2-12.2 .2-1.7 .2 5.6 .2-1.7 .2-14.6 .2 19.6 .2-4.5 .2 15.5 .2-4.4 .2 3.6 .2-17.8 .2 27.1 .2-7 .2 .4 .2-13.4 .2 1.5 .2-13 .2 14 .2 27.2 .2-5.2 .2-24.1 .2 3.2 .2-1 .2-14.5 .2 28.4 .2 8.9 .2-24.7 .2-8.7 .2 20.8 .2-13.3 .2 10.9 .2-2 .2 .6 .2 10.3 .2-6.7 .2 2 .2-3.1 .2-12.3 .2 2.9 .2 11.1 .2-7.9 .2-6.2 .2 16.8 .2-19.4 .2 48.2 .2-12.3 .2-28.9 .2 8.6 .2 5.9 .2-9.7 .2-.6 .2 3.7 .2 5 .2 7.5 .2-5.9 .2 4.1 .2-1.2 .2-7.1 .2-3.4 .2 11.6 .2-1.2 .2-15.5 .2 23.5 .2 7.9 .2-6.9 .2-2.3 .2 2.9 .2-12.1 .2-6.6 .2-.3 .2 9.1 .2 4.5 .2-11.5 .2 10.5 .2 9.6 .2 6.3 .2-8.7 .2-24.3 .2 10.4 .2 17.8 .2-4.8 .2 3.4 .2 47 .2-14.2 .2-44.1 .2 19.4 .2-10.9 .2-.2 .2 3.2 .2-8.4 .2 4.4 .2-10 .2 19.1 .2 4.8 .2-4.5 .2 5 .2 4 .2-6.7 .2 11.7 .2-10.7 .2 6.7 .2 11.7 .2 4.6 .2-8.6 .2 9.3 .2 5.6 .2 1.5 .2-.7 .2 5.3 .2 3.5 .2 2.5 .2 1 .2 5.2 .2 4.9 .2 2 .2 9.5 .2 6.3 .2 6.8 .2 1 .2 8.6 .2 1.7 .2 .6 .2 4.7 .2-.7 .2 4.1 .2 .7 .2-.1 .2 1.2 .2 3.9 .2 5.6 .2-.7 .2 1.5 .2 2.6 .2 2.4 .2-.2 .2-1.1 .2 4 .2 3.8 .2-2.5 .2-2 .2 3.1 .2 3.2 .2-.3 .2 2.1 .2-4.6 .2 .7 .2 .8 .2 6 .2 1.9 .2-1.3 .2 .9 .2 2.1 .2-.2 .2 1.5 .2-2.5 .2 6.2 .2-2.8 .2-4.3 .2 8.3 .2-4.5 .2 5.2 .2 4.2 .2-8 .2 .1 .2 4.9 .2 .7 .2 .2 .2 4.7 .2-3.2 .2-.6 .2 .9 .2 1 .2 1 .2-2.2 .2 3.2 .2 7.8 .2-5.3 .2 3.7 .2-.2 .2-1.3 .2 .9 .2-2.8 .2 2.1 .2 4.4 .2-1.9 .2 .9 .2 2.8 .2-3.7 .2 8.3 .2-2.5 .2 1.2 .2-2.4 .2-4.3 .2 5.3 .2-3.4 .2 4.5 .2-1.1 .2 3.6 .2-6.3 .2 5.8 .2-1.5 .2 0 .2-4.9 .2 4.6 .2-.8 .2 2.7 .2 3.1 .2 2.3 .2-3.5 .2-3.3 .2 5.8 .2-4.3 .2-.3 .2 0 .2 3.8 .2-2.9 .2 7 .2-3.3 .2-2.8 .2 4.7 .2-2.1 .2 2.1 .2-4 .2-.6 .2 3.9 .2-1.4 .2 5.4 .2-.6 .2-5.2 .2-1.5 .2 11.6 .2-9 .2 3.1 .2-4.8 .2 5.5 .2 3.1 .2 .5 .2-7.1 .2 5.8 .2-2.1 .2 2.6 .2 6.2 .2-.8 .2-7.8 .2-1.1 .2-2.2 .2 4.4 .2 3.2 .2 1.2 .2-3.5 .2-1.1 .2 1.8 .2-2.5 .2 1.2 .2 2.6 .2-1.1 .2-5.8 .2 .1 .2 4.4 .2 3.3 .2-5.3 .2 2.8 .2 3.3 .2-4.3 .2 4.6 .2-.8 .2 4.5 .2-2 .2-7.9 .2 9.7 .2-5.8 .2 .9 .2-.6 .2-3.9 .2 1.3 .2 1.8 .2-.5 .2-3 .2 7 .2 1.5 .2 3.7 .2-9.1 .2-1.4 .2 9.3 .2 3.1 .2-.7 .2 2.1 .2-7.7 .2 3.3 .2-3 .2 .2 .2-.7 .2 1 .2-4.5 .2 4.1 .2-.7 .2-3 .2 4.9 .2-3.2 .2 11.6 .2-7.4 .2-1.5 .2 3.9 .2-5.3 .2 3.5 .2-5.3 .2-1.3 .2 10.1 .2-.4 .2-2 .2 4.3 .2-3.8 .2-.7 .2-7.1 .2 5.7 .2-3.5 .2 9.2 .2-9.9 .2 .8 .2 1.9 .2 .8 .2-7.2 .2 4.2 .2 4.8 .2 4.5 .2-3.1 .2-5.1 .2-5.9 .2 15.2 .2-14 .2 7.7 .2-6.5 .2 8.6 .2-2.5 .2 .8 .2 3 .2-8.8 .2 4.7 .2-.1 .2 .5 .2 .1 .2 .3 .2-1.1 .2-7.6 .2 2.2 .2 7.5 .2 1.2 .2-5.5 .2 8 .2-8.4 .2 1.2 .2 6.8 .2-12.3 .2 2 .2 10.9 .2-1.1 .2-7.1 .2 8.1 .2-1.1 .2 1.3 .2-2.8 .2-1.8 .2-2.2 .2 5.2 .2-4.6 .2-9 .2 8.1 .2-6.4 .2 4.3 .2 8.7 .2-4.7 .2 1.6 .2-1.2 .2 6.5 .2 2.5 .2-15.5 .2 7.2 .2-1.2 .2-9 .2 10.9 .2-4.6 .2 5 .2 2.8 .2-1.3 .2-9.8 .2 4.7 .2 5.5 .2-1.8 .2-3.9 .2 1.1 .2 3.1 .2-5.1 .2-4.6 .2 .6 .2 10.5 .2-7.3 .2 8.1 .2 .9 .2-5.3 .2-.2 .2 7 .2-7.3 .2-4.8 .2 2.6 .2 5.1 .2-2.6 .2 4.1 .2-7.2 .2 .2 .2 4.3 .2-4.2 .2 .4 .2 5.9 .2 .4 .2-1.2 .2-7.2 .2 9.5 .2-9.8 .2 3.6 .2-.2 .2 .9 .2 4.6 .2-5.9 .2-2.3 .2-.1 .2 8.2 .2-10.1 .2 3.5 .2 3.9 .2-12 .2 11.9 .2 2 .2 1 .2-4.3 .2-4.2 .2 6.1 .2 2.6 .2-9.4 .2 8.6 .2-.8 .2-1.9 .2-1.9 .2-.6 .2 7 .2-4.2 .2-3.7 .2-5.4 .2 13 .2-8.9 .2 7.5 .2-7.4 .2 5.2 .2 4.7 .2-10.9 .2 .2 .2 2.4 .2 3.7 .2 2.2 .2-6.1 .2-1.6 .2 14.1 .2-9.2 .2 7 .2-9.1 .2 10.1 .2-4.7 .2-4.7 .2-6.9 .2 20.1 .2-15.5 .2 1.7 .2-1.9 .2 5.4 .2 .4 .2 3 .2-2.9 .2-3.5 .2-2.2 .2 3.2 .2-5.5 .2 11.7 .2 2.1 .2-8.6 .2-3.2 .2 13.5 .2-14.6 .2 5.2 .2 3.7 .2 1.8 .2-6.4 .2-1.1 .2-2.5 .2 2.1 .2 8.4 .2 4.3 .2-4.3 .2-8.8 .2 7.1 .2-1.4 .2-1.8 .2-6.6 .2 10.5 .2-1.4 .2-9.7 .2 6.5 .2-2.6 .2 5.4 .2-2.4 .2-3.2 .2 5 .2-3.1 .2 4.4 .2-2.6 .2-8.7 .2 2 .2-1.1 .2 5.3 .2 6.3 .2-2.9 .2 2.1 .2-1.1 .2 1.5 .2-2.9 .2-.2 .2-4.2 .2-.1 .2 .9 .2 5.7 .2 7 .2-9.8 .2-2.5 .2 4.4 .2 2.3 .2-2.1 .2 2 .2-6 .2 .2 .2 6.2 .2-10.1 .2 1.7 .2 8.4 .2-4.9 .2-4 .2 9 .2 .7 .2-6.6 .2 3.4 .2 1.6 .2-5.7 .2 3.8 .2 6.6 .2-1.2 .2-.2 .2-3.9 .2-.6 .2-2.6 .2 5.1 .2-1.2 .2 2.4 .2-3.2 .2-6 .2 7.8 .2 2 .2-4.8 .2-8.5 .2 5.9 .2 1.3 .2 1.2 .2-8.4 .2 8.5 .2-5.2 .2 5 .2 3.1 .2-9.8 .2 11.7 .2-14.8 .2 11.6 .2-7.6 .2-1.8 .2-1.9 .2 11.8 .2-2 .2 1.4 .2 1.4 .2-9.6 .2 1.8 .2 9.6 .2-1.2 .2-4 .2-6.1 .2-.5 .2-.2 .2 2.5 .2 6.7 .2-.5 .2 1.2 .2-.3 .2-6.3 .2-.5 .2 .9 .2-5.3 .2 1.1 .2-3.6 .2 7.7 .2-4.1 .2 6.3 .2-5 .2 2.4 .2 3.6 .2-10.6 .2 12 .2-3.4 .2 6.4 .2-4.3 .2 3 .2-5.1 .2 4 .2-2.8 .2-6.4 .2 10.5 .2-7.3 .2-3.7 .2 9.7 .2-2 .2-7 .2 4.9 .2-1.2 .2-4.2 .2 4.7 .2 4.9 .2-5.6 .2-1.5 .2 4.9 .2-3.6 .2 5.7 .2 4.8 .2-4.3 .2-3.8 .2-.6 .2 .7 .2 4.7 .2-11.3 .2 1.3 .2 8.6 .2-4.2 .2 3.5 .2-8.9 .2 3.3 .2-4.4 .2 1.1 .2 3.7 .2 7.9 .2-1.2 .2-7 .2 5.3 .2 5.3 .2-10 .2 2.6 .2 1.7 .2 4.9 .2-11.4 .2 10 .2-11 .2 8.3 .2 2.6 .2-3.9 .2 .8 .2-9.5 .2 5.1 .2-.9 .2-.8 .2 2.6 .2 .1 .2-4.3 .2 5.7 .2 2 .2 3.1 .2-13.5 .2 3.4 .2 12.9 .2-8.5 .2-6.6 .2 12.2 .2-3.7 .2-6.8 .2 12.5 .2-8.6 .2 7.5 .2-4.7 .2-.4 .2-4.1 .2 5.4 .2 7.3 .2-6.6 .2-5.4 .2 5.7 .2-8.2 .2 2.2 .2-3.9 .2-.9 .2 10.7 .2-5.7 .2 3.3 .2 1.3 .2 4.6 .2-13.4 .2-2.3 .2 2.7 .2 4.4 .2 4.4 .2-4.6 .2-1 .2 8.2 .2-9.8 .2 12.7 .2-3.4 .2-5.3 .2-3.4 .2 5.3 .2-3.5 .2 8.5 .2-3.4 .2-.5 .2-3.1 .2 5.5 .2-7.8 .2 6.7 .2-4 .2-.5 .2 3.1 .2-1 .2 1 .2-.5 .2 7.5 .2-13 .2-4.3 .2 6.4 .2-4.8 .2 14.2 .2-13.7 .2 1 .2-.8 .2 14.5 .2-16.9 .2 3.3 .2 9.4 .2 .6 .2-9.8 .2 1.6 .2-2.1 .2 4.4 .2 3.3 .2-5.2 .2 7.7 .2-5.3 .2-7.1 .2 .2 .2 13.7 .2-12.5 .2 4.2 .2 9.6 .2-16.9 .2 10.7 .2-2.7 .2 2.7 .2 3.8 .2-4.6 .2-7.6 .2 10.2 .2-1.2 .2-2.2 .2 8.2 .2-10 .2 3.8 .2 .1 .2-8.1 .2 5.4 .2-8.5 .2 5.7 .2 8 .2-6.7 .2 .9 .2-5.3 .2 7.3 .2-4.6 .2 6.8 .2 2.1 .2-12.1 .2 9 .2-1.1 .2-8.4 .2 6.2 .2-12.4 .2 13.4 .2-4.1 .2-2.5 .2 6.9 .2 .7 .2-2.5 .2-4.1 .2 5.4 .2 2.7 .2 4.1 .2-11.8 .2 9.5 .2-11.9 .2 1.2 .2 11.9 .2-7.9 .2 3.5 .2 1.2 .2-7.3 .2 5.6 .2-1.8 .2-1.3 .2-4.9 .2 7.1 .2-3.8 .2 .1 .2-2.9 .2 11.7 .2-7.4 .2 7 .2-4.2 .2 1.8 .2 1 .2-10.7 .2 8.5 .2 5 .2-.2 .2-4 .2 4.8 .2-3.4 .2 3.8 .2-9 .2 7.7 .2-2.2 .2-4.4 .2 3.9 .2-4.2 .2-.6 .2 8.9 .2-2.4 .2-1.7 .2-2.5 .2 8.6 .2-13 .2-1 .2 7.7 .2-.5 .2 1.5 .2 .9 .2-2.5 .2-5.1 .2 13.9 .2-14.7 .2 5.3 .2-.1 .2 1.3 .2-5.4 .2 14.2 .2-8.1 .2-6 .2 11.6 .2-6.1 .2 2.3 .2-9.4 .2 10.7 .2 .3 .2-10.7 .2 2.6 .2 12.7 .2-17.2 .2 2.7 .2-2.3 .2 .1 .2 11.5 .2-8.2 .2-3.2 .2 3.9 .2 5.7 .2-8.9 .2 8.3 .2 1 .2-8.2 .2 8.3 .2 .9 .2-6 .2 9 .2-4.3 .2-8.5 .2 6.7 .2-5.4 .2 4.4 .2 4.5 .2-.7 .2-7.6 .2 4.9 .2-2.9 .2 5 .2-4.1 .2 1.6 .2 1.6 .2 3.4 .2-7.6 .2-3.5 .2 4.7 .2-4.7 .2 7.9 .2-7 .2 1.9 .2-1.3 .2-2.1 .2 8.6 .2-2.9 .2 4.8 .2-5.6 .2-4.1 .2 7.4 .2-5.1 .2 1.9 .2-3.4 .2 9.9 .2-.1 .2-2.8 .2-9.2 .2-1.9 .2 12.8 .2-2.5 .2-3.8 .2-.9 .2 2.9 .2 6.3 .2-4.6 .2-3.2 .2-4.1 .2 5.3 .2 1 .2-.2 .2 .5 .2 5.6 .2-18.9 .2 10.1 .2 2 .2 3.8 .2 1.4 .2-11.2 .2 9.5 .2-4.3 .2-1 .2 .4 .2 1 .2 4.6 .2-10.1 .2-.7 .2 3.5 .2-1.1 .2 1.1 .2-4 .2 6 .2-1.4 .2 7.5 .2-2 .2-10.4 .2 8.8 .2-3.1 .2-2.8 .2 5.9 .2 .3 .2-9.7 .2-1.6 .2 16.5 .2-6.7 .2 2.2 .2-1.2 .2-6.7 .2 3.5 .2-5.1 .2 12.4 .2-9.4 .2 5.5 .2-3 .2-.7 .2-7.6 .2 4 .2 12.3 .2-7.4 .2 7.1 .2-3.8 .2 .9 .2-5.7 .2-2.1 .2-.1 .2 5.9 .2 4.1 .2-5 .2-3.4 .2 2.2 .2 6.2 .2-4 .2-4.7 .2 .9 .2 2.1 .2-2.9 .2 10.2 .2-12.9 .2 6.3 .2-2.2 .2 8.1 .2-11.5 .2 14.4 .2 1.4 .2-2 .2-16.5 .2 6.3 .2 2.5 .2-6.9 .2 .7 .2 9.6 .2 3.2 .2-11.6 .2 2.2 .2 6 .2-6.7 .2 3 .2 2.4 .2 1.7 .2-4.4 .2 2.2 .2 2 .2-5.9 .2 1.5 .2 2.8 .2-3.8 .2-.9 .2 4 .2-6.7 .2 .6 .2 6.8 .2 .3 .2-8.2 .2-.3 .2 16.3 .2-16.1 .2 1.8 .2-4.1 .2 12 .2 2.9 .2-7.2 .2-1.6 .2-4.9 .2 6.3 .2 5.7 .2-.6 .2-11.7 .2 3.6 .2 4.1 .2-4.7 .2 .9 .2-2.9 .2-4.3 .2 15.4 .2-11 .2 .3 .2 5.1 .2 2.6 .2-7.9 .2 6.9 .2 7.3 .2-2.8 .2-6.1 .2-1.3 .2-9.2 .2 17.9 .2 .8 .2 .2 .2-4.8 .2-8.3 .2 10.3 .2-12.5 .2 14.5 .2-3.5 .2-10.2 .2 8.7 .2-13.4 .2 12.2 .2 6.7 .2-20.9 .2 10.3 .2-1.5 .2 .2 .2 4.5 .2 2 .2-7.2 .2 8.8 .2-3.7 .2-5.8 .2 9.9 .2-8.4 .2 16.8 .2-9.3 .2-9.6 .2 9.1 .2-1.4 .2 4.2 .2-5.5 .2-.3 .2 6.3 .2-6.8 .2-.3 .2 .2 .2-4.1 .2 6.9 .2-6.2 .2-3.9 .2 15.8 .2-4.7 .2-8.4 .2 2.9 .2 5.6 .2-4.4 .2 2.7 .2-12.3 .2 14.4 .2 1 .2-2.2 .2-3 .2-6.5 .2 13.9 .2-14.4 .2 3.9 .2 12.3 .2-3.5 .2 1.7 .2-7.9 .2 9.3 .2-10.5 .2-.6 .2 10 .2-4.6 .2-7.9 .2 3.9 .2 7.5 .2-10 .2 9.4 .2-4.4 .2-.4 .2-3.2 .2 1.8 .2 5.7 .2-.3 .2-2.7 .2-7.1 .2 9 .2 .2 .2-8.6 .2 5.7 .2 2.5 .2-6.4 .2 10.9 .2-2.8 .2-6.2 .2-1.7 .2-2.5 .2-.9 .2-1.7 .2 10.5 .2-2.7 .2 2.4 .2-5.1 .2-5.1 .2 8.5 .2 2.5 .2 1.6 .2-11.2 .2 11.5 .2-4.8 .2-.4 .2-.6 .2-1.6 .2 5.7 .2-4.5 .2 .2 .2 5.2 .2-.1 .2 1.2 .2 4.1 .2-10.9 .2 3.4 .2 1.5 .2-7.4 .2 9.5 .2-5.2 .2 3.4 .2-5.2 .2 8.9 .2-10.8 .2 2.9 .2-3 .2 5 .2 1.2 .2 2.3 .2-5.6 .2-3 .2 .5 .2-1 .2 9 .2-2.7 .2 1 .2-9.8 .2 6.5 .2-4.7 .2 3.1 .2 6.7 .2-7.5 .2 5.4 .2-9.8 .2 12.5 .2-11.4 .2 9.1 .2-4.3 .2 1.7 .2-4.7 .2 1.5 .2 9.1 .2-9.1 .2 6.7 .2-3.6 .2 5.3 .2-8.6 .2-3 .2 11.1 .2-9.8 .2-.7 .2 7 .2-5.3 .2 6.8 .2 4.1 .2-4.7 .2 1.2 .2 3.4 .2-13.5 .2 6.6 .2 1.8 .2-6.1 .2 5.1 .2-2.8 .2-.3 .2 2.3 .2 2.6 .2 .4 .2 .3 .2-10.2 .2 7.9 .2-2.3 .2-1.9 .2 4.1 .2 1.5 .2-3.7 .2 7.4 .2-8.6 .2 1.1 .2 8.2 .2-8.4 .2 1.2 .2-1.5 .2 .8 .2-2 .2 7.7 .2-1.6 .2-6.5 .2 5.1 .2 .3 .2 1.7 .2-5.4 .2-.5 .2 3 .2 .5 .2 0 .2-9.3 .2 4.8 .2 2.9 .2-3.8 .2 12.3 .2-11.3 .2-11.8 .2 13.3 .2 .1 .2-1.4 .2 7.4 .2-3.4 .2 4.3 .2-5.5 .2 0 .2 5.6 .2-8.1 .2 8.3 .2-.4 .2-3.9 .2-3 .2 3.8 .2 1.8 .2-1.2 .2-9.9 .2 9.1 .2-2.7 .2 1 .2 6.9 .2-9.2 .2-.5 .2 4.1 .2-1.1 .2 4 .2-4.9 .2 5.4 .2-6.4 .2 5.9 .2 5.2 .2-10.3 .2-3.2 .2-5.3 .2 13.8 .2-2.8 .2-1.1 .2 10.1 .2-11.3 .2 3.1 .2 2.4 .2-12.7 .2-1.6 .2 .8 .2 13.4 .2 .3 .2-.4 .2-3.9 .2-7.1 .2 4.7 .2 2.7 .2-3 .2 2 .2 3.7 .2-13.3 .2 12.6 .2-1.2 .2-8.1 .2 9.3 .2-1.4 .2 6.4 .2-16.1 .2 4.6 .2-2 .2-1 .2 8.1 .2 1.3 .2-4.6 .2 3 .2-1.8 .2 1.2 .2 1.9 .2 3.1 .2 1 .2-14 .2 3.4 .2 1.9 .2-5.1 .2 5.7 .2 6.6 .2 1 .2-12.3 .2 6.7 .2-6.9 .2-.1 .2 7.8 .2-5.7 .2 .9 .2 7.4 .2-10 .2 5.2 .2 7.2 .2-2.5 .2-7.4 .2 1.8 .2-5.4 .2 14.7 .2-9 .2 1.9 .2-3.8 .2-1.5 .2 1.5 .2 .6 .2-.1 .2 9.9 .2-18.7 .2 16.9 .2-12.4 .2 2.9 .2 2.5 .2-1 .2 8.8 .2-10.7 .2 1 .2 7.7 .2-1.6 .2-7.2 .2-2.7 .2 6.9 .2-5 .2 2.3 .2 2.9 .2 .9 .2-6.4 .2 7.7 .2-8.5 .2 9.8 .2-4.8 .2-3.2 .2 1.8 .2 16.3 .2-13.4 .2 .3 .2-3.3 .2-2.7 .2 2.6 .2 1.4 .2-6 .2-2.3 .2 4.2 .2 2.6 .2-3.4 .2 3.8 .2-3.4 .2 10.3 .2 3.2 .2-8 .2 10 .2-9.5 .2-.6 .2 1.7 .2 5.2 .2-10.3 .2 4.1 .2 4 .2-6.5 .2-5.3 .2 6.5 .2-4 .2 14.5 .2-10.8 .2 3.8 .2-1.1 .2-2.8 .2-3.5 .2 10.6 .2-3.9 .2-5.5 .2 5.3 .2-9.8 .2 12.7 .2-5.6 .2-6.6 .2-1.2 .2 8.8 .2 3 .2-1 .2 5.4 .2-9.6 .2 5.3 .2-9.2 .2 14.8 .2-8.7 .2-1.5 .2 2.5 .2-.3 .2-6.4 .2-2.4 .2 16.9 .2-1.9 .2-5.9 .2-1 .2-6.9 .2 4.3 .2 9.4 .2-8.3 .2 5.7 .2-12.6 .2 12.5 .2-2.8 .2-1.7 .2 5.5 .2-9.2 .2 8.9 .2-2 .2-9.3 .2 2 .2 10.2 .2-10.9 .2 10.2 .2 5.5 .2-5.7 .2 .5 .2-8.6 .2 2 .2 8.2 .2-13.9 .2 12.1 .2 4.4 .2-15.1 .2 10.3 .2-17.5 .2 9.6 .2 3.3 .2 2.5 .2-.9 .2-.2 .2-7.1 .2-.1 .2-3.7 .2 1.9 .2 5.6 .2 7.8 .2-1.6 .2-.4 .2 0 .2 2.7 .2-1.3 .2 .1 .2-5.3 .2 .9 .2-3.6 .2-.5 .2 14.7 .2-11.3 .2-5.7 .2 12.3 .2-14.1 .2 8.2 .2-9.9 .2 9.6 .2 4.3 .2-1.2 .2-.8 .2-3.6 .2 1 .2 .6 .2 6 .2-15.7 .2 10.6 .2 6.6 .2-12.3 .2 11.3 .2-12.7 .2 4.7 .2 7.9 .2-13.7 .2 7.8 .2 7.9 .2-.2 .2 4 .2-21.8 .2 6.7 .2 4 .2 1.4 .2-8 .2 7.7 .2-1.2 .2 3.5 .2 .4 .2-7.5 .2-3 .2 3.3 .2 2.9 .2-1.2 .2 3.2 .2-1.5 .2 3.2 .2-12.4 .2 9.9 .2-9.8 .2 8.2 .2 3 .2-6.1 .2 8.3 .2-5.5 .2 2.2 .2-.1 .2-1.4 .2 4.4 .2-.5 .2-5.6 .2-2.6 .2 6.8 .2-3.5 .2-.1 .2 5 .2-7 .2-4.3 .2-.6 .2 11.1 .2-3.3 .2-2 .2-7.5 .2 9.1 .2-.3 .2-3.6 .2-2.7 .2 13.9 .2 .8 .2-21.5 .2 19.2 .2-7.2 .2-3.8 .2 8.4 .2 4 .2-5.9 .2-7.1 .2 10.3 .2-10.6 .2-3.4 .2 15.1 .2-14.9 .2 4.2 .2 5.4 .2 3.8 .2-5.2 .2 5.4 .2-13.2 .2 6.2 .2-1.2 .2 .2 .2 .1 .2 1.7 .2 .8 .2-8.8 .2 0 .2 9 .2 2.1 .2 5.1 .2-5.7 .2-11.3 .2 9 .2 2.8 .2-11.5 .2 3.9 .2 7.9 .2 3.4 .2-6 .2 5.6 .2-3.5 .2-3.2 .2 6.2 .2-9.2 .2-1.6 .2 3.2 .2 6.1 .2-4.3 .2 1.5 .2 1.9 .2 2.6 .2-2.8 .2-5 .2 .2 .2 3.2 .2 1 .2 4.6 .2-14.6 .2 4.9 .2 2.1 .2 2.7 .2-.2 .2-1.8 .2 3.9 .2-3.7 .2-4.4 .2 2.3 .2 8.9 .2-11.4 .2 4.9 .2 2.1 .2-10 .2 1.1 .2 13.6 .2-7.3 .2-6.5 .2 11.6 .2-9.6 .2 .5 .2 6.7 .2 3 .2-4.5 .2 4.7 .2-3.3 .2 1.2 .2-2.5 .2-4.7 .2-1.6 .2 3.4 .2 .7 .2-3.7 .2 .3 .2 1.8 .2 1.8 .2 .2 .2 3 .2-2.9 .2 .4 .2 8.8 .2-10.3 .2-2.4 .2 3.5 .2 8 .2-11.8 .2-4 .2 13 .2-12.7 .2 11.1 .2 1.4 .2-5 .2 2.2 .2-3.2 .2 4.2 .2-.6 .2 3.5 .2-6 .2-6.7 .2 11.4 .2-6.3 .2 4.7 .2-.8 .2 0 .2-5.6 .2 1.7 .2 8.2 .2-6.2 .2 5.5 .2-2.4 .2 9.4 .2-6.2 .2-7.4 .2 .1 .2-1 .2 1.8 .2-4 .2 .1 .2 13.8 .2-7.5 .2-9 .2 8.2 .2 1 .2-10.6 .2 5 .2 1 .2-3 .2 11.8 .2-12.9 .2-2.2 .2 10.1 .2-9.8 .2 11.4 .2-2.6 .2 3.6 .2-4.7 .2-1.4 .2 7 .2-7 .2-4.9 .2 12.6 .2-9.7 .2 13.7 .2-18.7 .2 18.6 .2-9.8 .2 .1 .2 12.1 .2-10.4 .2-9.8 .2 12.3 .2-9.6 .2 14.6 .2-5.3 .2 3 .2-1.2 .2-1.9 .2 6.2 .2-3.7 .2-5.8 .2 8.9 .2-14 .2 11.2 .2 0 .2-1.7 .2-7.5 .2 1.6 .2 7.6 .2-10 .2 4.6 .2 .5 .2 6.3 .2-8.5 .2-1.1 .2-.9 .2-.9 .2 2.7 .2 4.8 .2-.7 .2-8.2 .2 .4 .2 2.7 .2 5.7 .2 3.9 .2-4.2 .2-1 .2 2.1 .2-4 .2 2.9 .2-9.7 .2 4.1 .2-2.4 .2 12.1 .2 1 .2-4 .2-5 .2-9.1 .2 15.6 .2-4.8 .2 2.1 .2-2 .2-11.9 .2 12.9 .2 1.4 .2 .4 .2-7.8 .2 2 .2-2.7 .2 .4 .2 4.5 .2 2.9 .2-8 .2 13.3 .2-13 .2 3.4 .2 3.1 .2-7.7 .2-4 .2 16.2 .2-12.5 .2 4.4 .2 2.8 .2-10.8 .2 11.7 .2-5.3 .2-3.9 .2 6.4 .2-1.7 .2 6.1 .2-14.3 .2 10 .2 5.7 .2-7.6 .2 2.9 .2-2.9 .2-.3 .2 6 .2 1.7 .2-6.8 .2-2.2 .2 2 .2-.1 .2 2.3 .2-.3 .2 2.2 .2 .4 .2 3.5 .2-3.2 .2-2.3 .2 10.2 .2-10.4 .2-8 .2 13.5 .2-10.8 .2-2.3 .2-.7 .2 4 .2 2.5 .2 .7 .2-2.2 .2 5.1 .2 .2 .2-4 .2-3.8 .2 2.2 .2 6.3 .2 6.4 .2-4.1 .2-3.2 .2-.5 .2-4.2 .2 7.8 .2 .2 .2-9.1 .2 7.9 .2-5.1 .2-4.1 .2 10.8 .2-11.3 .2 9.6 .2-7.9 .2-2.3 .2 9.9 .2-4.4 .2 3.2 .2-.4 .2 .3 .2 2.8 .2-4 .2-2.7 .2-6.3 .2 11.5 .2-14.9 .2 0 .2-.5 .2 18.1 .2-2.1 .2-11 .2 5.4 .2-7.4 .2 9.5 .2-.4 .2-3.2 .2 9.2 .2-1.6 .2-11.3 .2 2.6 .2 1.1 .2 6.9 .2-8.7 .2 5.2 .2-3.6 .2 7.9 .2-8 .2-.2 .2 3.4 .2 6.5 .2-13.8 .2 14.2 .2-12 .2-4.4 .2 8.3 .2-6.3 .2-.4 .2 5.5 .2-8.2 .2 .9 .2 10.5 .2-1.5 .2 6.7 .2-12.2 .2 2 .2 3.8 .2 2.7 .2 2.2 .2-15.9 .2 1 .2 16.3 .2 .3 .2-9.9 .2 9.6 .2-.4 .2-1.6 .2-1.8 .2-.8 .2 7 .2-17.6 .2 13.6 .2-7.2 .2-3.6 .2 8.8 .2 .3 .2-14.2 .2 12.2 .2 7.3 .2 3.6 .2-26.4 .2 20.3 .2-4.3 .2-5 .2-.4 .2 3 .2 4.5 .2-9.6 .2 1.9 .2 8.9 .2-6.9 .2 .8 .2-2.3 .2 4.7 .2 4.8 .2 3.9 .2-9.6 .2 6.6 .2-14.6 .2 1.5 .2-2.2 .2 8.3 .2 1.6 .2-13.5 .2 15.3 .2-.2 .2-10.1 .2 5.1 .2 1.6 .2 3.2 .2-11.9 .2 18 .2-5.5 .2 .9 .2-3.5 .2 1.1 .2 .5 .2 8.1 .2-4.2 .2-1.4 .2 .8 .2-16.5 .2 3.6 .2 .1 .2 6.5 .2-.5 .2-9 .2 8.6 .2-2.5 .2 7.8 .2-.1 .2 3.4 .2-12.1 .2 4.9 .2 2.1 .2-9.5 .2 5.3 .2 3.8 .2-9.9 .2 15.3 .2-4.8 .2-5 .2 4.5 .2 1.4 .2-11.1 .2 7.5 .2-1.7 .2-1.1 .2 .7 .2-2.9 .2-2 .2 11.9 .2-5.9 .2 5.9 .2 6 .2-20.6 .2 12.8 .2 2.6 .2 .5 .2-7.2 .2-2.6 .2-.2 .2 11.4 .2-1.6 .2 .2 .2 1.7 .2-2.1 .2-7.5 .2-.1 .2 11.4 .2-6.9 .2-5.3 .2-3 .2 8.1 .2 7.2 .2-16.3 .2 12 .2 5.8 .2-3.2 .2-4.3 .2-2.9 .2-4.6 .2-3 .2 8.6 .2-4.5 .2-2.7 .2 5.3 .2 6.3 .2-6.2 .2 8.6 .2-12.6 .2 2.6 .2 1.3 .2-6 .2 5 .2 6 .2-6 .2-3.4 .2-1.7 .2-5.1 .2 18.5 .2 .8 .2-7.1 .2 1.2 .2-2.5 .2-.8 .2 1.3 .2-7.7 .2 6.1 .2-.4 .2 .6 .2 8.4 .2-8.6 .2-7.2 .2 1 .2 9.1 .2 2.8 .2-17.1 .2 8 .2 9.2 .2-4.9 .2-.6 .2-8.9 .2 12.6 .2-7.6 .2 6.8 .2-5.7 .2 .5 .2-4.7 .2 7.3 .2-6 .2-6.9 .2 11 .2 10.4 .2-3 .2-3.2 .2 2.8 .2 2.6 .2-14.3 .2 3.3 .2-2.7 .2-3.4 .2 8.1 .2 1.2 .2-5.3 .2 1.5 .2 5.6 .2-3.5 .2 7.4 .2-8.4 .2 6.7 .2 2.6 .2-9 .2 4.7 .2-2.7 .2 7.5 .2-8 .2 5.7 .2-9.4 .2-5.3 .2 19.6 .2-12.4 .2 2.9 .2 1.3 .2 4.8 .2 1 .2-4.5 .2 2 .2 4.7 .2-7.3 .2-4.3 .2-1.9 .2-2.6 .2 11.3 .2-2.5 .2 3.2 .2-9.1 .2 5.1 .2 6.4 .2-3.8 .2-.7 .2-3.2 .2 1.1 .2-2.5 .2-2.5 .2 6.7 .2-2.2 .2-5.8 .2 13.7 .2-7.5 .2-2.9 .2 .5 .2-.8 .2 8.7 .2-5.3 .2 6.6 .2-9.7 .2 2.5 .2-2.1 .2-1.2 .2 7.7 .2-.5 .2-4.4 .2 4.4 .2-3.4 .2-10.1 .2 4.2 .2 2.6 .2-6.4 .2 11.9 .2-7.9 .2 5.9 .2-6.2 .2-.8 .2 12.7 .2-6.3 .2-4.4 .2-.5 .2 .5 .2 6.4 .2-3.3 .2-4.2 .2 2.2 .2 .8 .2 3.2 .2-2 .2-5.6 .2 6.9 .2 4.8 .2-12.4 .2 1.7 .2-.7 .2-4.4 .2 2.7 .2 2 .2 14.7 .2-15.2 .2 7.9 .2-3.9 .2-6 .2 11.2 .2-6 .2 5.5 .2-3.9 .2-4.6 .2 7.7 .2-2.1 .2 8.2 .2-1.9 .2 2.5 .2-4.2 .2-14.1 .2 13.2 .2 6 .2-8.7 .2-6.6 .2 5.4 .2 1.5 .2-9.9 .2 14.6 .2-14.4 .2 6 .2-5.8 .2 1.9 .2-2.7 .2 10 .2 4.9 .2-12.5 .2 5.9 .2 8.5 .2 2.2 .2-9.9 .2-9.4 .2 10 .2 0 .2-2.2 .2-.4 .2-2.1 .2 3.9 .2 2.4 .2-2.5 .2 1.2 .2 3.3 .2 3.9 .2-14.5 .2 19.5 .2-11.3 .2-7.9 .2 11.7 .2-1.8 .2-10.4 .2 4.7 .2 4.7 .2-2.9 .2 3.8 .2-3.1 .2 2.3 .2-.8 .2-1.2 .2-4.6 .2-.2 .2 4.5 .2-4.8 .2-6.7 .2 17.6 .2-5.1 .2 1.1 .2-1.4 .2-15.8 .2 13.6 .2 6.4 .2-1.8 .2-6.8 .2-4.5 .2 5 .2 11.2 .2 2.4 .2-13.7 .2 6.9 .2-3.3 .2 6.7 .2-7.1 .2 4.7 .2-11.2 .2 9 .2-.7 .2-8.2 .2 9.1 .2-4.1 .2 2.7 .2-3.7 .2 6 .2-7.4 .2 3.3 .2 4.7 .2-3.8 .2-3 .2-2.6 .2 8 .2-2.6 .2-8.7 .2 9.7 .2-8.2 .2 1.7 .2 4.3 .2-.4 .2-6.5 .2 9.8 .2-12.6 .2 12.3 .2-9.2 .2-1.2 .2 5.3 .2 7.2 .2 2.3 .2-13.6 .2 0 .2 10.7 .2 1.1 .2-10.6 .2 .9 .2 10.9 .2-.4 .2-13 .2-1 .2 14.6 .2-9.9 .2 2.6 .2 3.2 .2 5.4 .2 1.9 .2-12.4 .2 9.5 .2-8.2 .2 3.3 .2-8.3 .2-1.8 .2 3.6 .2 5.5 .2-6.2 .2 1.7 .2 1 .2 3.1 .2-2.3 .2 6.1 .2 3.8 .2-10.8 .2 6.1 .2-6.1 .2 12.6 .2-12.1 .2 3.4 .2-1.5 .2-3.6 .2 8.9 .2-9.6 .2 12.1 .2-10.4 .2 9.5 .2 2.5 .2-13.5 .2 7.4 .2 2.7 .2-4.5 .2 2.5 .2 4.5 .2-4.2 .2-5.4 .2-7.1 .2 5.8 .2-3.1 .2 10.4 .2-6.8 .2-4.1 .2 11 .2-10.2 .2 .1 .2 2.7 .2 8.9 .2-7.3 .2 1.9 .2 1.1 .2 8.7 .2-15.3 .2 8.3 .2-13.4 .2 3.5 .2 2.7 .2 9.1 .2-16.3 .2 19.8 .2-15.2 .2 9.8 .2 6 .2-3.6 .2-9.9 .2 8.3 .2-8.2 .2-5.8 .2 21.4 .2-4 .2-16.4 .2 12.1 .2 .9 .2-4.1 .2 8.1 .2-10.9 .2-1 .2 5.4 .2-2.4 .2 5.4 .2-7.4 .2-.7 .2 9.5 .2-12.6 .2 1.4 .2 13 .2-12.1 .2 10.3 .2-.1 .2 1.2 .2-.6 .2 .8 .2-3.5 .2-2.8 .2 .8 .2 .6 .2-1.9 .2-5.5 .2-2.5 .2 3.5 .2 2.6 .2-3.6 .2 6.2 .2 10.1 .2-1 .2-11.2 .2-2.2 .2 8.7 .2-2.4 .2-.1 .2 3.6 .2-2.5 .2 2.6 .2-11.5 .2-.4 .2 13.3 .2-6.4 .2-3.5 .2-1 .2 9.9 .2-6.2 .2 3.9 .2-1.2 .2-1.9 .2-1 .2 1.3 .2-1 .2 1.3 .2-3.9 .2-6.6 .2-.6 .2 9.1 .2-3.8 .2 12.3 .2-20.5 .2 8.4 .2 9.7 .2-8.9 .2 7.1 .2-6.1 .2 .8 .2-4.2 .2 9.2 .2-10.3 .2 3.3 .2 7 .2 6 .2-7.3 .2-9.6 .2 0 .2-4.3 .2 20.3 .2-3.6 .2-6.4 .2 1.1 .2 6 .2-7.3 .2-.1 .2 1.1 .2 3.4 .2-12.6 .2 8.3 .2 2.2 .2-7.7 .2 4.9 .2 .1 .2 2 .2 7.9 .2-7.4 .2-6.8 .2-4.2 .2 12.1 .2 1.2 .2-6 .2 4.8 .2-2.7 .2 3.8 .2-7.9 .2 3.6 .2 2.3 .2-8.3 .2 7.2 .2 .9 .2-7.4 .2 5.3 .2 1.4 .2 .1 .2 1.5 .2-7.6 .2 15.1 .2-5.4 .2-11.2 .2 9.4 .2-.3 .2 4.7 .2-3.3 .2-7.1 .2 4.7 .2-8.5 .2 5.6 .2 7.3 .2 4.3 .2-9.8 .2-9.1 .2 16.5 .2-13.5 .2 .1 .2 4.7 .2 2.3 .2-3.1 .2-2.4 .2 .4 .2 1.4 .2 5.3 .2-5.2 .2-7.6 .2 5.2 .2 .7 .2-2.6 .2 7.2 .2 3.4 .2-4.9 .2-7.7 .2 11.3 .2-6.7 .2 4 .2 5.2 .2-7.5 .2 4.3 .2-9 .2 6.1 .2-2.6 .2 12 .2-15.3 .2 .4 .2 3.7 .2 .5 .2 .6 .2-5 .2 4.6 .2 7.4 .2-6.5 .2 .3 .2-2.4 .2 9.2 .2-6.3 .2 2.6 .2 .9 .2-3.7 .2-5.8 .2 9.2 .2-9.7 .2 15.6 .2-8.8 .2 .6 .2-4.1 .2 6.2 .2-6.2 .2 4.9 .2-7.1 .2-5.5 .2 8.6 .2 5.6 .2-13.6 .2 9.8 .2-6.1 .2 9.6 .2 7.1 .2-4.8 .2 2.3 .2-11.2 .2 .9 .2 5.9 .2-4.7 .2 4 .2 6.8 .2-12.7 .2 7.4 .2 4.2 .2-6.3 .2 3.6 .2-12.5 .2 5.2 .2 9.2 .2-4.5 .2-.9 .2-10.3 .2 14.1 .2 .2 .2 2.5 .2-17.2 .2 7.7 .2-3.5 .2 9.6 .2-7.3 .2 11.1 .2-10.2"/>
<path stroke="#2f74e0" d="M379.8 912.4l.5 25.6 2.5 22 1.1 9.5 2.1 3.2 1 .5 1 .5 1 1 1 .2 1 1 1 .4 1 .3 1 .3 1 .8 1 .1 1-.3 1 .5 1 .1 1 .2 1 .7 1-.3 1-.2 1 .4 1 1 1-.5 1-.2 1 0 1 .9 1 .2 1 0 1 .4 1 0 1 .3 1 0 1 .4 1-.4 1-.2 1 .9 1 .2 1-.2 1-.1 1-.3 1 .6 1 .2 1-.1 1 0 1 .9 1-.5 1 .3 1 .4 1-.5 1 0 1 .6 1-.1 1 .3 1 .4 1 .1 1-.3 1 .3 1 .1 1-.4 1 .5 1 .1 1 .5 1 .1 1 .4 1-.1 1 .9 1 .3 1 .5 1 .2 1 .2 1 .5 1 .4 1 .1 1 1.4 1-.7 1 .9 1 .3 1 .7 1 .6 1 .5 1-.3 1 .6 1 .3 1 .4 1 .2 1 .3 1 0 1-.3 1 .7 1 0 1-.3 1 .6 1-.1 1-.9 1 .6 1 .2 1 .6 1-.4 1 .6 1-.2 1-.1 1 .7 1-1 1 .7 1 .2 1 .2 1-.2 1 .8 1-.4 1 .3 1 0 1-.4 1 .2 1 .5 1 .2 1 .1 1-.7 1 .4 1 .1 1 .1 1-.4 1 .6 1 .2 1-.7 1 .4 1 .1 1-.3 1 .3 1 .3 1 0 1-.2 1-.3 1 .5 1-.6 1 .6 1 .4 1-.6 1 .4 1 0 1-.3 1 .7 1-.9 1 .6 1-.2 1 .1 1 .2 1 .6 1-.1 1-.3 1 .4 1-.8 1 .8 1-.4 1 .3 1-.3 1 .6 1 .3 1-.9 1 .4 1 .5 1-.9 1 .8 1 .3 1-.5 1 .4 1 0 1-.5 1 .8 1-.1 1-.4 1 .1 1 .4 1-.3 1 .2 1-.7 1 .8 1-.2 1 .4 1-.4 1 .1 1 .4 1-.4 1 .4 1-.4 1 .2 1 .3 1 .2 1 .4 1-.6 1 .5 1 .3 1-.4 1 .3 1 .1 1-.1 1-.1 1-.1 1-.2 1 .8 1 .3 1-1.3 1 1.5 1-1.1 1 .7 1-.3 1 0 1 .2 1-.1 1 0 1 .4 1 .2 1 .1 1-.5 1 .3 1-.4 1 .7 1-.4 1 .3 1-.4 1 .1 1 .5 1-.1 1-.4 1 .9 1-.7 1 .5 1-.1 1 .2 1-.1 1 .1 1-.3 1 .4 1-.1 1 .4 1-.2 1-.3 1 .4 1 .3 1-.2 1-.6 1 .5 1 .4 1-.5 1-.2 1 .8 1 0 1-.4 1 .9 1-.7 1-.1 1 .8 1-.8 1 .7 1 .3 1-1.2 1 .7 1-.5 1 .4 1 .6 1 .1 1-.2 1-.3 1 .4 1 0 1 .1 1 .4 1 .3 1-.5 1 .3 1 .2 1-.8 1 .4 1-.4 1 .8 1-.3 1 .2 1 0 1-.4 1 .9 1-.1 1-1.1 1 .8 1-.3 1 .2 1 1 1-.7 1-.4 1 .7 1 .4 1-.5 1 .4 1-.5 1 .2 1 1 1-1.3 1 .9 1 0 1-.3 1-.4 1 0 1 .1 1 .9 1 .1 1-.6 1 .6 1 .5 1-.4 1 .5 1-.1 1-.4 1-.1 1 .4 1-1.1 1 .6 1 .3 1 .6 1-.6 1 .4 1 .1 1-.9 1 .1 1 .4 1 .1 1 .1 1-.7 1 .7 1-.5 1 .4 1 .5 1 0 1-.2 1 0 1 0 1 .2 1-1 1 .8 1-.2 1 .4 1-.1 1-.2 1 .2 1-.4 1 .6 1-1 1 .8 1 .3 1 .1 1-.6 1 0 1 .3 1-.2 1 0 1 .2 1 .3 1-.7 1 .7 1-.5 1-.1 1 .3 1-.4 1 .2 1 .8 1-1 1 .7 1 .3 1-.4 1 0 1 .7 1-.6 1-.1 1 .1 1 0 1 .1 1 0 1-.7 1 1.3 1-.8 1 1 1-.3 1-.5 1-.8 1 1.1 1-.6 1 0 1 1.3 1-.3 1-1 1 .4 1 .3 1-.5 1 1 1-1 1 .4 1 .5 1-.5 1 .9 1-1.5 1 .2 1 .9 1-.5 1 1.2 1-1.4 1 1 1-.2 1-.6 1 .4 1-.6 1 .7 1-.4 1 .8 1 0 1 .2 1-.7 1-.1 1 .5 1-1 1 .8 1 0 1-.7 1 .6 1-.8 1 1.4 1-1 1 .4 1-.7 1 .4 1 .1 1 .6 1-.4 1 .1 1-.4 1 1.1 1-1 1 .2 1 0 1 .5 1 .4 1 .2 1-1.2 1 0 1 .4 1 .4 1-.8 1 .4 1-.1 1 .2 1 .4 1-.1 1-.6 1 .2 1 .6 1-.6 1 1.1 1-.5 1-.7 1 .7 1-.7 1 .2 1-.3 1 .3 1 .5 1-.6 1 1 1-1.3 1 1.2 1-.5 1-.2 1 .5 1-.3 1 .4 1-.3 1 .2 1-.9 1 .5 1 .6 1 0 1-1.6 1 1.6 1 0 1-.5 1 .4 1-.1 1 1.1 1-.7 1-.9 1 .7 1 .1 1 .2 1 .1 1 .4 1-.6 1 .6 1 0 1 .4 1-.3 1 0 1-1.2 1 .5 1 .9 1-.4 1-.4 1 .8 1 .2 1-.9 1 .7 1-.3 1-.9 1 .6 1 0 1 .1 1 0 1-.2 1 .1 1 .7 1-.3 1 .2 1 .7 1-1.2 1 .1 1 .8 1-.3 1-.1 1-.5 1 .1 1 1.1 1-.9 1 1.1 1-.5 1-.6 1 .4 1 .1 1 .6 1 0 1-.1 1 .6 1-.3 1-.5 1 .6 1-.7 1 .6 1-.2 1-.2 1 .5 1 0 1 0 1-.4 1-.1 1-.1 1 .9 1-.7 1 0 1 .5 1-.8 1 .8 1-.7 1 .6 1 1.1 1-.7 1 .9 1-1.3 1 1 1-.4 1-.3 1-.7 1 .5 1-.1 1 1.4 1-1 1 0 1 1.2 1 0 1-.6 1-.2 1 .1 1-.4 1 .2 1 .6 1 0 1-.7 1 .2 1 .3 1 1.1 1-.5 1-1.2 1 1.3 1-1 1 .9 1-.4 1 .8 1-1.8 1 .1 1 1.5 1-1.1 1 0 1 .8 1-.4 1 .6 1-.1 1 .4 1-.2 1 .4 1-.1 1-1 1-.1 1 .4 1 .1 1 .4 1-.3 1-.1 1-.6 1 .1 1 1.2 1-.7 1 .8 1 0 1 .9 1-1.2 .3 1.1 .4-1.7 .3 1.4 .4-.8 .3 .8 .3-1.3 .4 .7 .3 .5 .4 .1 .3 .1 .3-.9 .4 1.1 .3-.4 .4-.7 .3 .7 .3-.7 .4 0 .3 0 .4 0 .3 .3 .3-.1 .4-.4 .3-.1 .4 .3 .3 1.6 .3-.8 .4-.2 .3-.8 .4 1.3 .3-1 .3 .4 .4 .8 .3-1.1 .4 .5 .3-.9 .3 1.5 .4-1 .3-.1 .4-.1 .3-.1 .3 .7 .4 .2 .3-.1 .4-.8 .3-.1 .3 1.3 .4-.5 .3-.3 .4-.6 .3 1.4 .3-1.4 .4 .3 .3 .5 .4 .7 .3-1.4 .3-.1 .4 1.6 .3 .2 .4-.1 .3-.3 .3-.2 .4 .7 .3-1 .4 .5 .3 .1 .3-.9 .4 1.4 .3-.6 .4 .1 .3 .7 .3-1.5 .4 .6 .3-.5 .4 .3 .3 .8 .3 .7 .4-2.7 .3 .6 .4 .7 .3-1 .3-.2 .4 .5 .3 0 .4 1.4 .3 0 .3-.6 .4-.6 .3 1.1 .4-1.5 .3 .9 .3 .1 .4-.7 .3 1.2 .4-1.3 .3 .7 .3 .1 .4 .2 .3-.3 .4 .2 .3 .8 .3-1.1 .4 .7 .3-.5 .4 1.8 .3-1.4 .3-.5 .4-.8 .3 1.9 .4 .4 .3-.2 .3 0 .4-2.1 .3 1.6 .4-1.3 .3 1.7 .3-.1 .4-1.8 .3 2.3 .4-1.7 .3 .5 .3 .2 .4-.2 .3 .5 .4 .1 .3 .3 .3-.5 .4-1.1 .3 1.5 .4-.6 .3-.9 .3 1 .4-.4 .3 1.1 .4-1.5 .3-.4 .3 .4 .4 .7 .3 .8 .4-.1 .3-1.1 .3 1.4 .4-.1 .3-2 .4 2.4 .3-.3 .3-.4 .4-.7 .3-.6 .4 .4 .3 1.2 .3-.8 .4-.6 .3 2.4 .4-1.5 .3-1.5 .3 1.2 .4 .3 .3 .3 .4-.4 .3-.4 .3 .2 .4 .2 .3-.2 .4 .3 .3 .6 .3-.8 .4-.3 .3 1.1 .4 .4 .3-1.8 .3 .9 .4-.7 .3-.2 .4 .3 .3 1.1 .3-1.6 .4 .4 .3 1.7 .4-.5 .3-1.6 .3 1.5 .4 .7 .3-1.8 .4-.7 .3 1 .3 1.2 .4 .1 .3-1.8 .4-1 .3 2.1 .3-.3 .4-.1 .3-.9 .4 1.8 .3-.9 .3 1.1 .4-1.9 .3 1.2 .4 .1 .3 .6 .3 0 .4-.7 .3-.5 .4 .4 .3 .1 .3-.6 .4 .4 .3-1 .4 .8 .3 1.4 .3-.5 .4 .8 .3-2.1 .4-.8 .3 2.5 .3-.3 .4-.8 .3 .9 .4-.8 .3-.6 .3-.8 .4 1.6 .3 .8 .4-1.2 .3-.9 .3 1.9 .4-1.3 .3 .3 .4 1.6 .3 .1 .3-1.8 .4 2 .3-.5 .4-1.3 .3-1 .3 1.4 .4-.6 .3 .4 .4 .9 .3-.5 .3 .6 .4-2 .3 .9 .4 1.3 .3-1.1 .3-2.2 .4 3.5 .3-1.4 .4-.8 .3-.3 .3 2.4 .4-2.5 .3 .2 .4 2.2 .3-.9 .3-.2 .4 .6 .3-1.3 .4-1 .3 2.6 .3-1.8 .4 .9 .3 .5 .4 1.1 .3 .1 .3-1.4 .4-.2 .3 .5 .4 .2 .3-.7 .3-.2 .4-1.1 .3 1.7 .4-1.7 .3 2.6 .3-.8 .4-1.1 .3 .6 .4 .1 .3-1.3 .3 2.2 .4 .5 .3-2.3 .4 0 .3 .4 .3 1.8 .4-.5 .3-1.5 .4 2.2 .3-1 .3-1.7 .4 1.3 .3-.4 .4 1.2 .3-1.7 .3 1.2 .4-1.4 .3 .2 .4 .9 .3 2.2 .3-2.4 .4 .1 .3-.2 .4 1.8 .3-.8 .3-1.3 .4-.4 .3 .6 .4 1.3 .3-.8 .3-1.1 .4 1.4 .3 .4 .4-.2 .3 .9 .3-.5 .4-1 .3-.8 .4 1.2 .3-.3 .3 1.5 .4-2.5 .3 .6 .4 1.7 .3-2 .3 1.2 .4 .5 .3-1.2 .4-.2 .3 1.6 .3-1.6 .4 .7 .3-1 .4 2.3 .3-.4 .3 .5 .4 1 .3-1.1 .4-1.7 .3 1.7 .3-2.7 .4 1 .3-.6 .4 1.7 .3-1.4 .3 1.5 .4 .1 .3-.3 .4-.4 .3 .5 .3 1.3 .4-1.5 .3-.4 .4 1.6 .3-1.6 .3 1.7 .4-2.8 .3 .8 .4-1 .3 1.6 .3 1.4 .4-1.7 .3 .1 .4-.2 .3 1.6 .3-.3 .4-.3 .3-.9 .4 .5 .3-1.4 .3 1.7 .4-.1 .3-1.2 .4 1.6 .3 .9 .3-2.2 .4 1.8 .3-.3 .4-1 .3 2.8 .3-1.5 .4 .4 .3-1.7 .4-.9 .3 1.9 .3 0 .4 .4 .3 .1 .4-.7 .3-1.7 .3 .8 .4 3.8 .3-2.7 .4-.2 .3 .7 .3-2.5 .4 .3 .3 3 .4-1.8 .3 1.6 .3-2.4 .4 1.1 .3 .7 .4-1.1 .3-.6 .3 2.3 .4 1.3 .3-2 .4 2.1 .3-1.8 .3 1 .4 1.5 .3-.6 .4-1.5 .3-.3 .3-.2 .4 .3 .3-.9 .4 .5 .3-.2 .3-.4 .4-.6 .3 1.5 .4 .2 .3-.3 .3 .2 .4-1 .3 3.7 .4-2.9 .3 2.9 .3-.7 .4-.8 .3-2.9 .4 3 .3 1.4 .3-1.7 .4 1.4 .3-1 .4-1.5 .3 1.5 .3-1.9 .4 2.7 .3-.6 .4-2.8 .3 2.3 .3 .8 .4-1.1 .3 1.8 .4-1.7 .3 1.3 .3 .3 .4-.8 .3-1.4 .4 .7 .3-2.3 .3 2.3 .4-.9 .3 .8 .4 1.8 .3-2.7 .3 .4 .4 .8 .3 1.2 .4-1.7 .3 .3 .3-1.7 .4 3.4 .3-1.1 .4-1.3 .3 2.4 .3-2.6 .4-1 .3-.1 .4 5.3 .3-5.2 .3 3.2 .4-1.9 .3-.3 .4 3.6 .3-4 .3 2.4 .4-2.2 .3 1.9 .4 .3 .3 1 .3 .1 .4-1.7 .3-.4 .4-.7 .3 1.3 .3-.7 .4 1.5 .3 .6 .4 .3 .3-1.4 .3 1 .4-2.3 .3 2.4 .4-.5 .3-.3 .3 1.4 .4-1.1 .3 1.7 .4-.6 .3-1.5 .3-1.7 .4 2.4 .3-.2 .4 1.4 .3-2.2 .3 .3 .4 1.2 .3-2.4 .4 2.4 .3-.5 .3 .5 .4-.5 .3-3.1 .4 3 .3-1.3 .3 .6 .4 2 .3-1.7 .4 1.8 .3-2.6 .3 .1 .4 .9 .3 1.7 .4-.1 .3-2.6 .3 4.1 .4-.9 .3-1.3 .4 1 .3-.9 .3 0 .4 1 .3-.7 .4-2.7 .3 3.9 .3-4.9 .4 1.9 .3-.2 .4 2.8 .3 .2 .3-1 .4 .8 .3-.6 .4-.2 .3 1 .3-5 .4 2.7 .3 .8 .4-2.7 .3 1.3 .3 1.6 .4-.2 .3 .4 .4-.2 .3 .4 .3 .4 .4 .5 .3 1.8 .4-5.7 .3 6.2 .3-6 .4 6.9 .3-1.6 .4 2.8 .3 .8 .3-.7 .4-2.8 .3-3.9 .4 7.8 .3 2.3 .3-2.8 .4 1.3 .3-3.3 .4-3.8 .3 7.9 .3-4.3 .4 4.9 .3-5.3 .4-.5 .3 4.8 .3-2.4 .4 5.5 .3-6.7 .4-.1 .3 5 .3-7.7 .4 4.2 .3 5.6 .4-6.8 .3-2.3 .3 9 .4-5.8 .3 1.6 .4 3.7 .3-4.1 .3 3 .4 1.2 .3 .8 .4 2.1 .3-.7 .3-4.7 .4 4.1 .3 1.3 .4 1.3 .3-2 .3-1 .4-5 .3 2.4 .4 2.8 .3-2.8 .3 1.7 .4 2.4 .3-.8 .4 .9 .3-1.7 .3-2.7 .4 1.2 .3 4.2 .4-1 .3 2.6 .3-3.2 .4 .4 .3-3.6 .4 .8 .3 0 .3 4.3 .4-.2 .3-1.5 .4-1.9 .3 .8 .3 1 .4 0 .3 4.6 .4-2.3 .3 .8 .3-1.5 .4 3.6 .3-1.2 .4-1.1 .3 3 .3-1.9 .4 4.5 .3-8.3 .4 1.5 .3 3.1 .3 1.4 .4-1.3 .3 .2 .4 1.8 .3 2.7 .3-2.5 .4-5.7 .3 2 .4 .2 .3 .8 .3-2 .4 2.2 .3 .9 .4 7 .3-8.8 .3-1.5 .4 4.3 .3 .2 .4-1.6 .3-.1 .3 1.1 .4-4.9 .3 3 .4 5.3 .3-2.8 .3 .8 .4-5.1 .3 2.2 .4-2.5 .3 6 .3-2.3 .4-1.2 .3 1.5 .4 2.7 .3-1.4 .3 2.2 .4-2.4 .3 2.5 .4-3.3 .3-2 .3 4.8 .4-1.7 .3 2.4 .4 1.3 .3-3.9 .3-1.8 .4 3.8 .3 .7 .4-2.9 .3-2.7 .3 6 .4 1.1 .3-3.8 .4-1.7 .3 0 .3 6.6 .4-2.2 .3-1.1 .4-.2 .3 0 .3 0 .4 .6 .3-.9 .4-4.8 .3 4.6 .3-.6 .4 2.8 .3-2.8 .4 2.4 .3-5.9 .3 3.5 .4 1.7 .3 1.7 .4-1.6 .3-.4 .3-2.4 .4 4.6 .3-.9 .4 .4 .3 2 .3-8.4 .4 6.3 .3-.9 .4-2.8 .3 4.6 .3 1.8 .4-1.1 .3 .8 .4-.8 .3-5.7 .3 4.9 .4-5.1 .3 4.8 .4-2.7 .3 2.1 .3-1.9 .4-1.3 .3 2.8 .4-.3 .3-4.7 .3 6.3 .4-1.7 .3 1.7 .4-1.2 .3-4.7 .3 3.5 .4-3.3 .3 2.2 .4 .1 .3 .9 .3 1.7 .4 1.1 .3-4.2 .4 .1 .3-4.8 .3 5.8 .4 .1 .3 2.4 .4-7.9 .3 8.1 .3-7.1 .4 2.4 .3 6.2 .4-7.8 .3 3.4 .3 1.2 .4 2.5 .3-2.2 .4-4.8 .3 .7 .3 7.8 .4-3 .3-2.5 .4-4.7 .3 2.1 .3 2.9 .4-1.4 .3 2 .4-8.1 .3 6.8 .3-6 .4 3.4 .3 1.9 .4-2 .3 0 .3-4 .4 .5 .3-1 .4 2.3 .3-.7 .3-.6 .4-2.6 .3 3.8 .4 4.5 .3-10.9 .3 11 .4-3.6 .3-.4 .4-4.6 .3 5 .3-2 .4 1.8 .3 .7 .4-5.6 .3 6.2 .3 .4 .4-7.1 .3 1.4 .4 1 .3 .6 .3-.4 .4 2.4 .3-1.5 .4-5.1 .3 3.2 .3 2.2 .4 .6 .3-3.2 .4-1.7 .3 2.5 .3-3.8 .4-.5 .3 3.1 .4 .9 .3-2.9 .3 2.4 .4-2 .3-1.9 .4 2 .3 .6 .3 .5 .4-2 .3-1.2 .4 5 .3 3.2 .3-5.7 .4 3.1 .3-4.7 .4-1.1 .3 5.5 .3 .5 .4-1.1 .3-1.3 .4-2.6 .3 3.1 .3-5.8 .4 2.2 .3 1.5 .4 3 .3-5 .3 3.4 .4-5.6 .3 1.4 .4-2.7 .3 1.7 .3 2.4 .4-3.6 .3 2 .4 3.7 .3-.2 .3-.3 .4 3.3 .3-6.7 .4 5.8 .3-3.7 .3-4.7 .4 4.5 .3-1.8 .4-.3 .3-.8 .3 3.1 .4 2.2 .3-1.5 .4-.3 .3 3.1 .3-2.5 .4-.1 .3 1.5 .4-1.1 .3 1.7 .3-1.6 .4-5.6 .3 2.6 .4 1.3 .3 4.3 .3-3.4 .4 1.5 .3-11.6 .4 11.6 .3-2.1 .3-1.5 .4 1.6 .3-1.9 .4 .6 .3 1.1 .3 2.1 .4 2.1 .3-4 .4-5.2 .3 7.7 .3-2.9 .4-5.3 .3 1.1 .4-2.1 .3 8.3 .3-4.6 .4-1.3 .3 3.2 .4 .8 .3-3.5 .3 2 .4 .6 .3 2.1 .4-1.9 .3-2.9 .3-1.1 .4 1.2 .3 1 .4 2.3 .3-6.5 .3 7.1 .4 1.1 .3-7.6 .4 8 .3-.4 .3-4.1 .4 0 .3 .4 .4-3.4 .3 6.4 .3-5.1 .4 1 .3 6.4 .4-7.4 .3 1.8 .3-1.9 .4 2.7 .3 4.8 .4 0 .3-2.8 .3-6 .4 5.9 .3-2.9 .4 1.8 .3-4.9 .3 6.2 .4-4.3 .3-1.7 .4-.4 .3 3 .3 2.8 .4-4.6 .3 3.2 .4-.6 .3-.9 .3 1 .4 7.7 .3-10.7 .4-.7 .3-1.1 .3 4.8 .4-2.3 .3 .3 .4 6.1 .3-6.2 .3 3.1 .4 .4 .3-6.6 .4 3.5 .3 3.7 .3-.9 .4-2.4 .3-3.9 .4 2 .3-3.5 .3 6.9 .4-.9 .3 1 .4 .6 .3-3.1 .3 4 .4-6.4 .3-.1 .4-2.1 .3 6.1 .3 3.1 .4-6.4 .3 1.5 .4 2.4 .3-.5 .3-2.9 .4 3.5 .3 .3 .4-4.6 .3-.5 .3 .3 .4 4.3 .3-6.8 .4 1.1 .3 4.6 .3 .4 .4-1 .3 6.7 .4-9.8 .3 1.1 .3-1.9 .4 .2 .3 2.8 .4 1.2 .3-6.7 .3 8 .4 1.3 .3-5.4 .4-.3 .3 1.3 .3 3.7 .4 2.8 .3-10.3 .4 6.6 .3-3.4 .3 .7 .4-1.8 .3 6.3 .4 .8 .3-6 .3 1.8 .4-.7 .3-1.5 .4 2.3 .3-.4 .3-3.9 .4 8.2 .3-6.2 .4 1.6 .3-.6 .3 2.5 .4-3.7 .3 5.8 .4-3.3 .3 2.8 .3 .6 .4-4.6 .3 .7 .4 1.3 .3-2.1 .3-4.1 .4 3.7 .3-.1 .4 4.3 .3-4.2 .3 2.7 .4-3.4 .3 5.4 .4-4.8 .3 3 .3 1.1 .4 0 .3-.1 .4-1.1 .3 3.9 .3-1.6 .4 3 .3-3.8 .4 .9 .3-1.8 .3 3.3 .4-3.2 .3-.3 .4 .3 .3 1.3 .3-5.3 .4 6.8 .3-8.9 .4 6.9 .3-4.5 .3 6.2 .4 1.5 .3-4.7 .4 5 .3-2.7 .3 .1 .4-1.6 .3 4 .4-2 .3-4.7 .3 2.4 .4-4.6 .3 7.5 .4-.3 .3-.4 .3-5.5 .4 6.3 .3-1 .4-1.8 .3 1.1 .3 1.3 .4 .5 .3-4.5 .4-1.1 .3 3.9 .3-7.8 .4 11.4 .3-3.7 .4-3.2 .3 5.1 .3-3.3 .4 .4 .3 5.3 .4-4.7 .3 .1 .3-1.7 .4-2.8 .3 3.5 .4 2 .3 1.3 .3-4.5 .4 .7 .3 1.1 .4 .9 .3 2.6 .3-1.8 .4 .7 .3-2.4 .4-.6 .3 3.1 .3 .9 .4-2.1 .3-1.6 .4 .1 .3 3.9 .3 1.3 .4-5.7 .3 5.1 .4-7 .3 5.8 .3 2.6 .4-4.6 .3 .2 .4-1.7 .3 .6 .3 4.1 .4-2.9 .3-2.1 .4 1.7 .3-4.1 .3 1.9 .4 1 .3-.2 .4 2.6 .3-1 .3 1.2 .4-.5 .3-2.7 .4 1 .3-3.8 .3-.6 .4 4.8 .3-1 .4 2.9 .3 2.4 .3-5.1 .4-3.1 .3 2.9 .4 3.8 .3-2.9 .3 2.1 .4 0 .3-2.7 .4-2.9 .3 6.9 .3 1.3 .4 .5 .3-6.9 .4 6.3 .3-4.1 .3 3.9 .4-.4 .3-5.4 .4-1.4 .3 2.7 .3-.5 .4-.1 .3 5.4 .4-.1 .3-1.5 .3-6.6 .4 .3 .3 .2 .4 2 .3-1.3 .3 1.1 .4 3.6 .3-4.7 .4 5.4 .3-3.9 .3 6.6 .4-1.9 .3 1.8 .4-3 .3-.5 .3 2.3 .4-6.2 .3 2.7 .4 3.2 .3 .8 .3-6.7 .4 6.9 .3-4.8 .4 2.4 .3 6.2 .3-7.2 .4-2.5 .3 9 .4-9.6 .3 7.5 .3-1.8 .4-2.3 .3 4.8 .4-3 .3-6.6 .3 7.5 .4 1.7 .3-8.1 .4 1.7 .3-1.9 .3 2.6 .4-.4 .3-1.4 .4 4.7 .3-5.2 .3 1.3 .4 7 .3-2.5 .4-5.6 .3 .3 .3 6.2 .4 4.4 .3-4.4 .4-2.2 .3-2.4 .3-.3 .4 4.9 .3-7.4 .4 1.8 .3 6.1 .3-1.8 .4-3.1 .3 4.1 .4 1 .3-6.3 .3 4 .4-7.2 .3 6.6 .4-2.5 .3-1.2 .3 6.3 .4-5.6 .3 5.2 .4 3.8 .3-9 .3-.7 .4 4.9 .3 3 .4-6.6 .3 5.6 .3-2.1 .4-4.3 .3 .3 .4 6.3 .3-1.8 .3-5.5 .4 2.3 .3 2 .4 1.6 .3 1.6 .3-4.9 .4 3.5 .3-5.1 .4 .5 .3 .7 .3 3.6 .4 0 .3 3.5 .4-9.1 .3 7.8 .3-4.3 .4-1.1 .3-.3 .4 4.6 .3-2.9 .3 1 .4-1.1 .3-3.8 .4 .4 .3-2 .3-.1 .4 5.6 .3 3.5 .4-5.6 .3 5.6 .3-3.8 .4 .7 .3 1.2 .4 1.3 .3-.7 .3-.2 .4-.1 .3-2.6 .4-2.5 .3 2.3 .3 1 .4-2.2 .3 5.8 .4-2.3 .3 .4 .3 .1 .4-.1 .3-.6 .4 .5 .3 1.8 .3-8 .4 9.5 .3 .3 .4-.9 .3-7.4 .3-.6 .4 3.4 .3-2 .4 6.6 .3-4.9 .3-.5 .4 6.1 .3-2.2 .4-3.9 .3-.1 .3 .9 .4 5.2 .3-3.5 .4-4.8 .3 6.7 .3-3.7 .4 3.1 .3 3.5 .4-5.7 .3 .8 .3 .4 .4-3.5 .3 6.4 .4-3.5 .3-3.5 .3 2.1 .4-.1 .3-1.7 .4 1 .3 2.8 .3 5.6 .4-3.5 .3-2.9 .4 1.9 .3-2.9 .3-.9 .4-2.1 .3 5.3 .4 .4 .3-.9 .3-7.7 .4 9.6 .3-1.2 .4-4.2 .3 .7 .3 4.7 .4-7.3 .3 8.6 .4-4.7 .3 2.7 .3-.8 .4-1 .3 .3 .4 3.3 .3-2.3 .3 .7 .4-3 .3 5.9 .4-2.9 .3-5.7 .3 10.2 .4-5 .3-2.5 .4 5 .3-1.4 .3-2.5 .4-.8 .3-.4 .4 3.4 .3-3.4 .3 5.9 .4-.5 .3 .4 .4-.7 .3-2.5 .3-2.3 .4-1.3 .3 4.2 .4 2 .3 .7 .3-6.5 .4 6.7 .3 0 .4-3.2 .3 2.9 .3-5.9 .4-1.1 .3 3.4 .4 2.8 .3-.6 .3 2.8 .4-2.4 .3-2.4 .4-2 .3 .4 .3 .7 .4 2.2 .3-3 .4 5.2 .3 2 .3-3.4 .4-4.5 .3 7.6 .4-4.1 .3-.6 .3 2.9 .4-3.3 .3-.7 .4 3.3 .3-4.4 .3 4 .4-4 .3 2.1 .4 2.6 .3-.2 .3 4.3 .4-7.5 .3-2.8 .4 2.8 .3-2.8 .3 9.2 .4-6 .3 1.9 .4-4.9 .3 3.5 .3 1.6 .4 2.1 .3-.6 .4-.4 .3-4.3 .3-2.5 .4 8.8 .3-.2 .4-2.4 .3-.3 .3-1.1 .4-.6 .3-.8 .4-1.5 .3-.9 .3 4.4 .4-3.6 .3 2.2 .4-5.1 .3 4.4 .3 1.1 .4 4.4 .3-5.5 .4 4.7 .3-5.7 .3-2.3 .4 5.7 .3-4.1 .4 2.7 .3 2.1 .3-6.7 .4 3.1 .3 4.4 .4-1.2 .3-2.2 .3-.4 .4-4.2 .3 5.3 .4 5.1 .3-10.3 .3 4.3 .4 5.6 .3-9 .4 11 .3-7 .3 7.4 .4-5.9 .3 1.2 .4-2.9 .3 5.8 .3-7.3 .4 1.3 .3 4.7 .4-6.9 .3-.9 .3 3.6 .4-.7 .3 6.1 .4 .7 .3-2.8 .3 2.1 .4-6.5 .3 2.5 .4-.5 .3 4.3 .3-2 .4-2.4 .3 3 .4-6.1 .3 0 .3 3.8 .4-3.5 .3 1.8 .4 1.5 .3 1.8 .3-2.8 .4 2.2 .3-7.7 .4 6.5 .3-1 .3 2.7 .4 1.9 .3 3.8 .4-10.9 .3 7.7 .3-3 .4-2.3 .3 2.9 .4-1.3 .3-3.4 .3 2.7 .4 4.2 .3-9.7 .4 1.9 .3 2.2 .3 1.7 .4 2.8 .3-4.2 .4-.8 .3 1.4 .3 .4 .4 3.2 .3-1.4 .4-.6 .3 1.4 .3 3.1 .4-.4 .3-2 .4-1.5 .3 2.5 .3-3.9 .4 3.7 .3-.3 .4-5.3 .3 3.5 .3-1.1 .4 8 .3-4.9 .4-1.3 .3-4.8 .3 5.1 .4-6.3 .3 7.6 .4 3.1 .3-1.8 .3-3.1 .4-1.6 .3 .9 .4 1.9 .3-.4 .3-2.2 .4 .5 .3-1 .4-2 .3 7.4 .3-5.4 .4 3.1 .3-2.3 .4-3.6 .3 7.8 .3 0 .4-3.5 .3-4.3 .4 4.2 .3-3.5 .3 3.7 .4-3.6 .3-.1 .4 3.5 .3 2.6 .3-.2 .4-5.7 .3 4.8 .4-4 .3-.7 .3 3.9 .4-5 .3-.1 .4 7.2 .3-6.1 .3 2.2 .4-.5 .3-1.1 .4 2.4 .3 5 .3-6 .4-1.4 .3 4.8 .4-5.2 .3 2.6 .3 1.8 .4 .7 .3 .3 .4 1 .3 1.3 .3-3.6 .4 2.1 .3 .7 .4-2.6 .3-2.4 .3 6.7 .4-4.3 .3-6.3 .4 5.2 .3-5.7 .3 6.7 .4 .7 .3 1.3 .4-2.8 .3-3.1 .3 4 .4 2.1 .3-.9 .4 2.9 .3 .7 .3-2.6 .4-6.8 .3 0 .4-1.2 .3 6.6 .3 3.6 .4-8.8 .3 7.4 .4 1.5 .3-4.1 .3-5 .4 5.6 .3 .9 .4-5.8 .3 6.7 .3-6.9 .4 5.9 .3 .3 .4-2 .3-2.2 .3 3.3 .4-1.3 .3-1.1 .4 .6 .3 2.4 .3-1.7 .4-1.7 .3 2.6 .4-5.2 .3 7 .3-3.9 .4-2.2 .3-.6 .4 8.2 .3-9.1 .3-3 .4 6 .3 2.2 .4 5.1 .3 .3 .3-5.5 .4 2.1 .3-5.8 .4 8.7 .3-10 .3 8.1 .4-11.5 .3 14.5 .4-7 .3 3.4 .3-4.8 .4 6.7 .3-5.5 .4 1.8 .3-2.6 .3-1.5 .4-2.2 .3 5.1 .4 1.1 .3 .9 .3-1.7 .4 5.1 .3-3 .4-2.4 .3-2.6 .3 5.7 .4-5.9 .3 7.9 .4-2.2 .3-4.4 .3 1.4 .4 4.9 .3-3 .4-2.7 .3 6.3 .3-4.1 .4-1.8 .3 2.2 .4-.9 .3-4.4 .3 .4 .4 3.6 .3 4.1 .4-6 .3 5.8 .3-7.8 .4 4.2 .3 .7 .4 2.7 .3-7.8 .3 7.7 .4 1.6 .3-3.9 .4-4.6 .3 6.6 .3-5.6 .4 3.5 .3 2.8 .4-3.7 .3-3.8 .3 2.6 .4 1.4 .3 5.5 .4-7.4 .3 4.5 .3-4.8 .4 .7 .3 .1 .4 2.6 .3-.4 .3 3.1 .4-4.4 .3 4.3 .4-4.8 .3 3.4 .3 4.2 .4-8.9 .3 5 .4-1.8 .3 2.3 .3-6.5 .4 .3 .3 3.2 .4 .7 .3 3.8 .3-2.5 .4-1.9 .3-.3 .4 7.3 .3-10.8 .3 5.1 .4 4.1 .3-7.3 .4 1.8 .3-2.6 .3 1.6 .4-2.8 .3 3.3 .4-4.5 .3 4.6 .3 3.6 .4-2.2 .3 2.4 .4-.2 .3-3.6 .3 1.6 .4-1.8 .3 .2 .4 5.8 .3-.9 .3-6.4 .4 2.3 .3 5.3 .4-6.6 .3-3 .3 6.4 .4-1.6 .3 1.9 .4-2.2 .3 .1 .3 1.6 .4 3 .3-3.9 .4-4.2 .3 3.4 .3-3.6 .4 3.5 .3 2.3 .4 5.5 .3-8.5 .3 2.8 .4 2.3 .3-8.2 .4 3.8 .3 2.2 .3-3.2 .4-.8 .3 7.1 .4-2.4 .3-1.7 .3-3 .4-.5 .3 5.3 .4-4 .3 6.9 .3-6.9 .4 1.1 .3 4.6 .4 .1 .3-.1 .3 2.3 .4-6.6 .3-.1 .4-.8 .3 3.8 .3-.1 .4-.6 .3 1.4 .4 2.7 .3-5 .3-4.1 .4 8.6 .3-8 .4 2.5 .3-1 .3-.1 .4 2.6 .3-.7 .4 1.6 .3-3.6 .3 3.8 .4-5 .3-1.7 .4 2.2 .3 .5 .3 5.7 .4-.5 .3-2.8 .4-1.2 .3 2 .3 6.5 .4-7.9 .3-2.1 .4 2.1 .3-4 .3 2.2 .4-1.1 .3-3.4 .4 4.3 .3 1.9 .3-.7 .4-1.9 .3 4.5 .4-.7 .3 0 .3 .5 .4 .1 .3-.4 .4 3.9 .3-6.8 .3 5.2 .4 1.6 .3-6.9 .4 4.4 .3-5 .3 .7 .4 0 .3 1.6 .4-2.5 .3 4.5 .3-.2 .4-4.5 .3 4.5 .4 0 .3 .5 .3-1.2 .4-1 .3 3.2 .4-3.3 .3 3.3 .3-5.3 .4 2.6 .3 1.8 .4 .3 .3 .4 .3-7.1 .4 4.5 .3-.9 .4-4 .3 6.6 .3-5.6 .4 10.3 .3-6.4 .4 3.3 .3-4.3 .3 1.5 .4 3.9 .3-8.6 .4 7.8 .3-.5 .3 .7 .4-6.5 .3-2.3 .4 2.7 .3 8.2 .3-5.3 .4 1 .3 2.2 .4 .2 .3-2 .3 .6 .4-5 .3 8.6 .4-10 .3 2.3 .3 1.4 .4 3.6 .3 .9 .4-1.7 .3-5.1 .3 8.4 .4-4.3 .3 4.5 .4-4.8 .3 2.6 .3-3.9 .4-2 .3 4.5 .4 .9 .3-5.5 .3-1.9 .4 8 .3-.7 .4-1.9 .3-4 .3-2.4 .4 7.2 .3-2.7 .4-.3 .3 4.3 .3 .7 .4 .1 .3-8.1 .4 6.8 .3-4.9 .3-.4 .4 9.3 .3-9.5 .4 6 .3-6.4 .3 3.2 .4-2.5 .3-.9 .4 3.3 .3-.7 .3 7.4 .4-1.1 .3-7.2 .4 4.2 .3-5.3 .3 9.8 .4-7.2 .3-2.7 .4 4.1 .3-3 .3 4.7 .4 .6 .3-2 .4-5.9 .3 11.7 .3-11.2 .4 3.1 .3 1.8 .4 2.5 .3-5.5 .3-1 .4 6.4 .3-.6 .4 .9 .3-5.9 .3-2.1 .4 2.4 .3 2.9 .4 1.5 .3-1 .3 1.7 .4-1.8 .3-3.8 .4 3.6 .3 4.6 .3-5.3 .4-2.5 .3 7.7 .4 .4 .3-4.6 .3-6.5 .4 4.1 .3 2.5 .4 4 .3-7.5 .3 4.2 .4-.3 .3 .4 .4-.3 .3-1.5 .3 3.9 .4-5.3 .3 6.8 .4-5.6 .3 .8 .3-1.2 .4 5.2 .3-5.8 .4-.4 .3 .4 .3 6.2 .4-2.7 .3-4.8 .4-2.8 .3 2.7 .3 6.7 .4-1.9 .3-3.4 .4 .5 .3 5 .3-6.1 .4 5.4 .3-4.9 .4 .9 .3-2 .3-1.1 .4 9.3 .3-4.4 .4-.7 .3-1.3 .3 1.7 .4 1.8 .3-1.8 .4 4.7 .3-10.6 .3 9.4 .4-6.5 .3 6.4 .4 2.4 .3-7.3 .3 2.4 .4-4.8 .3 6.9 .4 1.2 .3 0 .3-.7 .4 3.3 .3-3.4 .4-5 .3-.4 .3 6.2 .4-3.6 .3-4.2 .4 1.7 .3 1.4 .3-.6 .4 .6 .3-1.2 .4-3.7 .3 8.8 .3-3.2 .4 .7 .3-2 .4 1.1 .3 4.2 .3-1.9 .4 2.4 .3-3.7 .4 3 .3-3.1 .3 2.2 .4 3.8 .3-8.9 .4 7.3 .3 2.2 .3-8.7 .4 4 .3 1.4 .4-5.4 .3 3.5 .3 1.2 .4-6 .3 6.1 .4 2.4 .3-1.6 .3 1 .4-1.2 .3-.6 .4 1.5 .3-2.2 .3-.7 .4 5.4 .3-3 .4-8 .3 5.2"/>
<path stroke="#35aa68" d="M380 912.4l1.4-212.4 1.6-250 .9-70 1.4-49.6 1-12 1-4.5 1-3.2 1-3.2 1-1.5 1-1.5 1-1.3 1 0 1-1 1-1 1 .2 1-.9 1 .1 1 .2 1-.7 1 0 1-.7 1 .5 1-.8 1-.4 1 .4 1-.3 1-.5 1-.2 1 0 1-.9 1-.4 1 .6 1-1.3 1 0 1-.3 1-.2 1-.5 1-.6 1-.7 1-.1 1-.9 1-.8 1 .5 1-.9 1-.8 1-.3 1-1 1-1.3 1-.6 1-.7 1-.8 1-1.7 1-.2 1-.8 1-1.1 1-1.2 1-1.2 1-.8 1-1.2 1-1 1-.9 1-1.7 1-1.4 1-.8 1-.6 1-.8 1-2.1 1-.3 1-1.7 1-.7 1-1.8 1-.3 1-1.9 1-.7 1-.7 1-1.1 1-1 1-1 1-1.4 1-.9 1-.5 1-.3 1-2.5 1 0 1-1.1 1-1.6 1-.7 1-1.5 1-1.1 1-1 1-1 1-1.9 1-.2 1-1.3 1-.8 1-1.8 1-.5 1-1 1-1.7 1-.1 1-1.3 1-.6 1-1.1 1-.9 1-.6 1-.4 1-1.5 1 .1 1-2 1 .4 1 .5 1-.6 1-1.1 1-1.2 1 .5 1 .4 1-2.4 1 .3 1-1.2 1-.1 1-.6 1-1.2 1 1.1 1-1.6 1-1.4 1-.4 1-.1 1 0 1-.7 1 0 1-1.6 1 .6 1-1.7 1-.1 1 .8 1-3 1 1.7 1-1.3 1-2 .3 .2 .4 1.3 .3 .3 .4-.3 .3-1.3 .3 .1 .4-1.2 .3 .3 .4 .5 .3-2 .3 .4 .4 1.7 .3-1.4 .4-1.2 .3 .3 .3 1.3 .4-.9 .3-1.8 .4 .3 .3 1.1 .3 1.9 .4-3.7 .3 1.1 .4 .6 .3-1.1 .3-.9 .4 1.6 .3-.6 .4 2 .3-.6 .3-2 .4-2.3 .3 2.6 .4 0 .3-.1 .3-1.1 .4-.2 .3-.1 .4 1.4 .3-1.9 .3 .6 .4 .1 .3-1.1 .4-.2 .3 .6 .3 .2 .4-.3 .3-2.4 .4 .6 .3 .3 .3-.2 .4 .1 .3 1.4 .4-1 .3 .2 .3 .2 .4-2 .3 .2 .4 .6 .3-.4 .3 1.2 .4-.9 .3 1.8 .4-1.6 .3-2.7 .3 .7 .4 .3 .3 2.2 .4-3.1 .3 2.7 .3-2.7 .4 1.3 .3-1.4 .4 2.6 .3-3 .3 .6 .4 .6 .3-.6 .4 0 .3 .1 .3 .3 .4-1.7 .3 0 .4 .1 .3 1.1 .3 0 .4-2.7 .3 1.2 .4 1.5 .3-1.5 .3 0 .4-1.5 .3 1.1 .4 .5 .3 .1 .3 .3 .4-2.4 .3 1.2 .4-.2 .3-1.3 .3 0 .4 1.4 .3 .7 .4-.5 .3 1.1 .3-2.2 .4-.7 .3 .7 .4 .3 .3 0 .3-1.9 .4 1.6 .3-2.3 .4 1.3 .3-1.4 .3 2.2 .4 .2 .3-2.4 .4 .9 .3 1.8 .3-2.6 .4 1 .3-.9 .4 .3 .3 1.6 .3-.7 .4-1.5 .3-.5 .4 1.5 .3-2.2 .3 1.7 .4 .2 .3 1.5 .4-3.6 .3-.8 .3 .9 .4 1.3 .3-1 .4-.7 .3 1.2 .3-1.5 .4-1 .3 1 .4 .6 .3-1.2 .3 .3 .4 .7 .3 0 .4-1.3 .3 .4 .3 1.2 .4 .7 .3-1.5 .4 .2 .3 1.1 .3-3.4 .4 2.9 .3-.3 .4-2 .3 .1 .3 .8 .4-2.2 .3 2.5 .4 .4 .3-.7 .3-1.1 .4-.5 .3 .3 .4-1.3 .3 2 .3-.1 .4-1.5 .3 .7 .4 .2 .3-1.6 .3 2.4 .4-.7 .3-.5 .4-.5 .3 2.1 .3-.9 .4-2 .3 2.3 .4-.1 .3-1.9 .3-.7 .4 2.4 .3-3.5 .4 3.7 .3-.5 .3-3.3 .4 3.8 .3-3 .4 1.4 .3 .4 .3-1.7 .4-.4 .3 2.3 .4-1.4 .3 .6 .3-1.8 .4 1 .3-1.4 .4 .7 .3 0 .3-1.6 .4 1 .3-.1 .4 1.3 .3-.6 .3 .8 .4-.7 .3-1.6 .4 1.1 .3-1.9 .3 1.3 .4 .8 .3-1.4 .4 3.8 .3-3.4 .3-2.8 .4 2.9 .3 2.7 .4-4.2 .3 .8 .3-.2 .4 .9 .3-1 .4 .6 .3-.3 .3 1 .4 1.2 .3 .7 .4-1.9 .3-3.7 .3 1.4 .4 .8 .3 1.5 .4-3.1 .3 1.6 .3 1.1 .4-1.8 .3 .9 .4 .3 .3 .6 .3-1.9 .4-1.2 .3 .5 .4 .3 .3-.3 .3 2.3 .4-1.8 .3 .9 .4-.8 .3 .8 .3-1.4 .4 3.2 .3-2.7 .4-.6 .3-.7 .3-.8 .4 .8 .3 1.5 .4-1.8 .3 2.2 .3-.5 .4-.8 .3-1.1 .4 2.5 .3 .2 .3-1.9 .4-1 .3 1.7 .4-.4 .3-1.5 .3 1.6 .4 .1 .3 .3 .4-2.3 .3 2.1 .3-.1 .4 .4 .3-1.3 .4 1.1 .3 .1 .3-3 .4 2.7 .3-.4 .4-.5 .3-1.7 .3 1.7 .4 .6 .3 0 .4-1.7 .3-1.2 .3 2.3 .4-1.2 .3 .1 .4 1 .3-2.9 .3-.5 .4 3.1 .3 1.7 .4-2.1 .3-.6 .3 .9 .4-1.6 .3-.8 .4 2.2 .3-2 .3 2.2 .4-2.2 .3 .7 .4 .5 .3-1.3 .3-.3 .4 2.2 .3-2.3 .4 2.6 .3-1.2 .3-.4 .4-.8 .3 1.5 .4 .6 .3-1.2 .3-.2 .4-.8 .3 .3 .4 .7 .3-.5 .3-.3 .4 1.8 .3-1.8 .4-2.2 .3 3.5 .3 .5 .4-4.7 .3 .8 .4 0 .3 .7 .3-.6 .4 .2 .3 1.7 .4-.6 .3 .3 .3-1 .4 1.3 .3-2.2 .4 2.6 .3-.1 .3-.7 .4-1.2 .3 2.7 .4-.7 .3 .5 .3-1.7 .4-.5 .3 1.4 .4-1.7 .3 .5 .3 1.2 .4-2.1 .3-1.2 .4 2.3 .3-.1 .3-.5 .4-.3 .3 2.2 .4-3 .3 .1 .3-.4 .4 1.6 .3-.8 .4 .5 .3 .1 .3-1.6 .4 2.5 .3-.1 .4 .6 .3-2.7 .3 .3 .4 .6 .3 1.5 .4 1.1 .3-4 .3 .8 .4-1.4 .3 .7 .4 2.5 .3-.5 .3-2.5 .4 3.1 .3-1.1 .4-.9 .3-.1 .3-1.5 .4 2.1 .3-2.5 .4 3.6 .3-2 .3 .9 .4-2.5 .3 1.1 .4 1.6 .3-1.9 .3 .6 .4 1 .3-1.1 .4-1 .3-.4 .3 2.6 .4-1.2 .3-.5 .4-1.7 .3 1 .3 1.9 .4-.9 .3-2.2 .4 .3 .3 4.4 .3-3.4 .4-2.4 .3 3.1 .4 .5 .3-.5 .3 .9 .4-2.4 .3 3 .4-.8 .3 .4 .3-2 .4 1.1 .3 .3 .4-1.4 .3-2.2 .3 2 .4-1.4 .3 .5 .4-1.2 .3 1.4 .3-.2 .4 1.6 .3-1.6 .4-1.5 .3 3 .3 .8 .4-.8 .3-2.1 .4 1.8 .3 .5 .3-4 .4 2.3 .3 .7 .4-1.8 .3 .8 .3-.4 .4-.4 .3 2.3 .4 .4 .3-2.3 .3 .5 .4-.4 .3-.3 .4-2.3 .3 4.1 .3-1.2 .4-1.5 .3 2.1 .4-1.3 .3 .9 .3-.8 .4 1.6 .3-3.5 .4 .3 .3 1.6 .3 2.9 .4-4.1 .3 2 .4-.1 .3-1.5 .3 1.3 .4 .5 .3-2.4 .4-.9 .3-.7 .3 1.3 .4 .1 .3 1.1 .4 .6 .3-.9 .3-.1 .4-1.7 .3 1.1 .4 1.9 .3-.9 .3-.5 .4 .1 .3-2.4 .4 3.2 .3-2.4 .3 2 .4-2.7 .3 .6 .4 1.2 .3-.4 .3 .4 .4 2.1 .3-.9 .4-2.5 .3 1.2 .3-1.6 .4 1.3 .3 .8 .4-.8 .3-.9 .3 0 .4-2 .3-.1 .4 3.1 .3-2.3 .3 2.2 .4-.8 .3-2.3 .4 0 .3 2.2 .3-1 .4 1.6 .3-.7 .4-.1 .3 1.2 .3-2.3 .4-.7 .3 1.1 .4 1.5 .3-.4 .3-2.9 .4 2.2 .3-1.8 .4 2 .3-.9 .3 .2 .4 2.3 .3-3.3 .4 1.3 .3-2.1 .3 .8 .4 1.5 .3-3.4 .4 2.7 .3-1 .3 .8 .4-2.5 .3 4.2 .4-2.3 .3 .2 .3-.7 .4-.2 .3-.7 .4 4.6 .3-1 .3-.9 .4-3.3 .3 1.2 .4 3.6 .3-.6 .3-2.1 .4 1.4 .3 .3 .4-1.6 .3-.8 .3-.4 .4 1.2 .3-1.6 .4 2.5 .3-3.5 .3 1 .4 3.1 .3-4.2 .4 .1 .3 2.6 .3-2.2 .4 2.7 .3-2.8 .4 .4 .3 2.8 .3-3.5 .4 1.9 .3 .5 .4-.5 .3-1.8 .3 .8 .4 3.1 .3-5 .4 4.9 .3-4 .3 1.3 .4 2.5 .3-2 .4-.6 .3 .8 .3-2 .4 .3 .3 1.8 .4-1.4 .3 1.3 .3-3.5 .4 3.2 .3-.6 .4-1.5 .3 1.4 .3 1.7 .4-1.3 .3 .8 .4-.9 .3 .8 .3 1.4 .4-2.1 .3-2.6 .4 2.6 .3-3.1 .3 .3 .4 2.4 .3-.1 .4-1.2 .3 1.1 .3 .9 .4-.7 .3-.8 .4 2.2 .3-3.3 .3 .3 .4 0 .3-.9 .4 .4 .3 3.5 .3-.6 .4-2.1 .3-1.1 .4-.9 .3 1.7 .3 0 .4-1.6 .3 1.7 .4 .8 .3 .9 .3-1.8 .4-.4 .3-.4 .4 .2 .3 1.3 .3-.9 .4-2 .3 3.7 .4 0 .3-2.6 .3 1.3 .4-2 .3 .6 .4 2 .3-.8 .3-.1 .4 2.3 .3 .1 .4-2.8 .3 2.2 .3-3.1 .4 3.6 .3-1.4 .4 0 .3-2.5 .3 2.7 .4-2 .3 .6 .4-.4 .3 1.3 .3-.9 .4-.3 .3-2.8 .4 3.9 .3-1.2 .3-1.3 .4 3.1 .3-2 .4 .7 .3-.2 .3-.3 .4 .4 .3 .8 .4-.2 .3-3.7 .3 4 .4 .4 .3-3.6 .4 2.6 .3-3.2 .3 2.7 .4-1.9 .3 1.6 .4 .6 .3-.1 .3-1.5 .4 2.8 .3-2.6 .4-.9 .3 1.1 .3 .2 .4-1 .3 .2 .4 1.5 .3-2.7 .3-1 .4 .9 .3 2.7 .4-2.1 .3 1.4 .3 .4 .4-3.5 .3 2.9 .4 1 .3-2.9 .3 1.2 .4-.3 .3 1 .4-3.7 .3 2.6 .3-1 .4 1.6 .3-2 .4 3.5 .3-3.3 .3-1.8 .4 2.8 .3 .3 .4-.7 .3-.8 .3 2.8 .4-.4 .3-2.8 .4 1.4 .3 0 .3 1.3 .4 .7 .3-2.9 .4-1.5 .3 2.3 .3-1.6 .4 1.2 .3-.5 .4 .1 .3 2.9 .3-2.9 .4 .9 .3-1.7 .4 1.9 .3-.9 .3-1.5 .4 2 .3-1.2 .4 1.8 .3-1.7 .3 3.2 .4-1.6 .3-.8 .4 0 .3-.3 .3 .2 .4 .2 .3-1.3 .4 .6 .3-.6 .3-.9 .4 3.6 .3-.5 .4-1.6 .3 .5 .3-1.6 .4-.4 .3 1.4 .4 .3 .3-2.3 .3 1.8 .4-.2 .3 .3 .4-.8 .3 1.2 .3 .4 .4-1.1 .3-1.7 .4 .7 .3 .2 .3 .2 .4-.4 .3 .9 .4 .3 .3-.1 .3-2.4 .4 .4 .3 2.4 .4-3.2 .3 2.7 .3 .3 .4-.7 .3 .7 .4-1.2 .3 1.2 .3-1.8 .4 1.2 .3-.2 .4 .1 .3 .2 .3 .6 .4-.6 .3-2.4 .4 .7 .3 3.4 .3 .4 .4-1.3 .3-.9 .4 1.4 .3-.5 .3-2.5 .4 1.7 .3-.2 .4-1.6 .3 .4 .3 2.7 .4 .3 .3-3.1 .4 2.6 .3-2.6 .3 .1 .4-1 .3 .5 .4 3.7 .3-3.1 .3-1.9 .4 1.1 .3 2.8 .4-2.5 .3 1.7 .3-1.7 .4 2.2 .3-2 .4 1.3 .3-.3 .3-3.2 .4 3.8 .3-3.4 .4 3 .3-2.7 .3 4.1 .4-3.9 .3 4.6 .4-2.9 .3 .6 .3 .9 .4-3.2 .3 3.7 .4-3.4 .3-.5 .3 3.6 .4-3.1 .3 2.5 .4-2.3 .3 .7 .3 1 .4-1.3 .3-.5 .4 1.3 .3-3.4 .3 .5 .4 2.9 .3 .4 .4-.7 .3-.5 .3-1.8 .4 1 .3 2.6 .4-.5 .3-1 .3-1.4 .4 .1 .3 .2 .4 1.5 .3-.1 .3 1.4 .4-2.7 .3-.7 .4-.3 .3 .2 .3 .9 .4 1.4 .3-1.8 .4 0 .3-1.5 .3 1.3 .4-.9 .3 2.2 .4-.1 .3 .5 .3-3.3 .4 1.2 .3 2 .4-2.2 .3-.8 .3 .5 .4 .5 .3 1.1 .4-.4 .3-.7 .3-1.1 .4 3.4 .3-3.6 .4-1.1 .3-.2 .3 1.7 .4 2.2 .3-1.4 .4-1.7 .3 2 .3-1.7 .4 1.5 .3 .4 .4-1.8 .3 1.7 .3 1.6 .4 0 .3-1.8 .4-.7 .3-1.4 .3 3 .4-.2 .3-1.3 .4 1.3 .3-2.6 .3 2.5 .4-.7 .3-2.6 .4 4.4 .3-3.1 .3 .6 .4-2 .3 4.4 .4-2.4 .3 1.1 .3 .6 .4-2.6 .3 1.5 .4-3 .3 1.2 .3 4.2 .4-3.3 .3 2.6 .4-2.5 .3 1.2 .3-2.5 .4 1.6 .3 .4 .4-2.2 .3 1.1 .3 .7 .4-2.6 .3 2.2 .4 1.2 .3-3.6 .3 5.2 .4-1.5 .3 1 .4-3.8 .3 .9 .3 2 .4 .6 .3-3.4 .4 3.3 .3-3.5 .3 2.1 .4 1.4 .3-.7 .4 .7 .3-3.2 .3 1.8 .4 1.3 .3-2.1 .4 .6 .3-3.4 .3 2 .4 3.3 .3-2.7 .4 1.9 .3-.8 .3-.8 .4-1.9 .3 1.9 .4-1.1 .3-.6 .3 .4 .4 1.2 .3 .6 .4-.6 .3-.7 .3-1.4 .4 2.1 .3-1.8 .4 .5 .3-.1 .3 1.5 .4-1.3 .3-.1 .4 1.5 .3-.4 .3 .2 .4-.1 .3-1.8 .4 2.8 .3-1.9 .3-1.5 .4 1.7 .3 .6 .4-2.6 .3 2.6 .3-.9 .4-1 .3 3.9 .4-1.8 .3-1.4 .3 .6 .4-1.4 .3 1.8 .4 .1 .3-1.1 .3-.1 .4 .8 .3 .9 .4-1 .3 .5 .3-.6 .4-.5 .3 1.3 .4 .8 .3-1.5 .3 .6 .4-1.9 .3-1 .4-1 .3 1.8 .3-.4 .4 1.8 .3-2.1 .4 2.8 .3-.9 .3-.4 .4 1.9 .3-3 .4 1.4 .3-.5 .3 .6 .4-1 .3-.3 .4 1.9 .3-.4 .3-.6 .4 .4 .3-2.1 .4-.3 .3 1 .3-2 .4 3.3 .3-2.4 .4 .2 .3 .5 .3 .5 .4 .2 .3 .5 .4-2.1 .3 .4 .3 .2 .4-1.1 .3 .6 .4 .2 .3-.3 .3-.1 .4 2.5 .3-.7 .4 1.4 .3-.4 .3-2.3 .4 0 .3 .8 .4 1.9 .3-2.2 .3 1.3 .4-2.1 .3 0 .4 1.9 .3-2.2 .3 2.7 .4-2.3 .3 .5 .4 .9 .3-2.3 .3 2.6 .4-3.2 .3 2.1 .4-1.1 .3-.6 .3 2.9 .4-3.5 .3-.2 .4 1.3 .3 3.1 .3-3.8 .4 .1 .3-.2 .4 2.4 .3-.5 .3 1.8 .4-3 .3 1.4 .4 1.2 .3-1 .3-2.8 .4 .4 .3 1.7 .4 .4 .3-1.9 .3-1.1 .4 1.4 .3-2.1 .4 4.4 .3-1.1 .3-.3 .4 1.6 .3-.4 .4-2.9 .3-1.3 .3 2.9 .4-.7 .3 1.8 .4-3.2 .3 3.4 .3-3.4 .4 3 .3-2.7 .4 2.8 .3-3.5 .3 .7 .4 2.8 .3-2.5 .4-1.5 .3 2.6 .3 1.8 .4-1.9 .3-1.4 .4 3.4 .3-2.7 .3 .3 .4 .1 .3 1.2 .4-.2 .3-.1 .3-1.9 .4 1.7 .3-1.3 .4 1.2 .3-2.4 .3 1 .4 .2 .3-.5 .4 .9 .3 2.1 .3-2.5 .4-1.1 .3-.4 .4 0 .3 .3 .3 2.5 .4 .9 .3-.9 .4-2.5 .3 2.9 .3 .9 .4-1.9 .3 .4 .4 .9 .3-2 .3 2.3 .4-1.9 .3-1.7 .4 1.4 .3 .1 .3-.4 .4-2 .3 2.8 .4 1.2 .3-1.6 .3 .2 .4 1.5 .3-1.8 .4 .6 .3-1.4 .3-.2 .4 1.1 .3-.7 .4 1.2 .3 .5 .3-.7 .4 .1 .3-2 .4 1.9 .3-1.1 .3 1.7 .4 .4 .3-3.7 .4 2.1 .3-2.3 .3 1.2 .4-.4 .3-.2 .4-.2 .3-.3 .3 2.8 .4-1.2 .3-.5 .4-.3 .3 1.6 .3-2.6 .4 2.2 .3-1.7 .4 .2 .3 0 .3 2.2 .4-.1 .3-.5 .4-1.8 .3 .3 .3 2.2 .4-2.8 .3 1.8 .4-2.2 .3-.6 .3 2.8 .4 2.1 .3-1.8 .4 .7 .3-.3 .3 2.1 .4-2.8 .3-2.1 .4 1.5 .3 1.7 .3-2.4 .4 .1 .3 .9 .4 1.7 .3-1.2 .3-.7 .4 2.7 .3-3.7 .4 .3 .3-2.5 .3 3.1 .4-.1 .3 2.6 .4-3.3 .3 1.3 .3 .9 .4-1 .3 .1 .4 .8 .3-1.1 .3-2.2 .4 1.6 .3-1 .4 .7 .3-1.3 .3 4.3 .4-1.9 .3-1.3 .4 0 .3-.8 .3 3 .4-1.5 .3-.6 .4-1.2 .3 2.9 .3-1.4 .4-.8 .3 0 .4-.4 .3 3.3 .3-1 .4-.8 .3-1.3 .4 2.5 .3-2.1 .3 1.3 .4-2.8 .3 .5 .4-.1 .3 2.1 .3 .4 .4-.7 .3 1.9 .4-1.2 .3-2.6 .3 2.5 .4-.9 .3-1.1 .4-1.2 .3 .8 .3-.1 .4 2.4 .3-2 .4 1.1 .3 .7 .3-3.4 .4 3 .3-1.1 .4 1.3 .3-1.7 .3 1.4 .4-.7 .3 1.6 .4-2.2 .3 3.4 .3-4.1 .4-.5 .3 .9 .4 2.3 .3-1.3 .3-1.6 .4 3.3 .3-.7 .4-1.2 .3 1.5 .3-.6 .4-2.1 .3-.1 .4 2 .3-1.3 .3-1 .4 .4 .3 .9 .4 1 .3 .8 .3 .9 .4-1.6 .3-1.2 .4 .1 .3 .5 .3-1.1 .4 .2 .3 .7 .4-2.8 .3 2.6 .3-2.1 .4 3.5 .3-4.2 .4 3.1 .3-.2 .3 2 .4-3 .3 1.8 .4-3.4 .3 1.4 .3-1.4 .4-.4 .3 2.4 .4 2 .3-4.6 .3 2.1 .4 3 .3-2.9 .4-1.3 .3 .6 .3 .2 .4 1.8 .3-1.9 .4 1 .3 .1 .3 1.1 .4 .2 .3-1.5 .4-.6 .3 2.7 .3-3.7 .4 .8 .3 .8 .4-.7 .3 .4 .3-.9 .4 1.1 .3-1 .4 2.8 .3-.3 .3-2.4 .4 1.1 .3-1.3 .4 .1 .3-.9 .3 .2 .4 2.4 .3 1 .4-2.8 .3 2.4 .3-3.1 .4-.3 .3 2 .4-1.8 .3-.5 .3 2.8 .4-1.7 .3 2.5 .4-.7 .3-1.6 .3 .3 .4-1.3 .3 .6 .4-.2 .3-.4 .3 3.4 .4 .8 .3-2.1 .4-.4 .3 .9 .3 .4 .4-1.4 .3 1.5 .4 1.1 .3-1.6 .3-2.1 .4 2.9 .3-.8 .4 .3 .3-1.4 .3 2.3 .4 .5 .3-2.3 .4 .6 .3 .2 .3-1 .4 1.8 .3 1 .4-2.7 .3 2.1 .3-1 .4-.3 .3 0 .4-1.2 .3 .2 .3 2.5 .4-1.9 .3-.5 .4 2.4 .3-.9 .3-.7 .4 .8 .3-1.7 .4 3.5 .3-1.4 .3-3.4 .4 2.3 .3 2.3 .4-.4 .3 .1 .3-1.1 .4-.4 .3 0 .4 2.4 .3-3.2 .3 1 .4 .4 .3-.7 .4-.3 .3 1.7 .3 .4 .4 .6 .3 1.7 .4-2.5 .3-1.8 .3 1.7 .4 .5 .3-1.5 .4 1.1 .3-3.5 .3 2.2 .4 1.4 .3 .3 .4-1.6 .3-.3 .3 1.2 .4 1.6 .3-2 .4 2.5 .3 1.2 .3-2.3 .4-2.1 .3 1.3 .4-1.3 .3-.2 .2 .8 .2-.8 .2 4.2 .2-3.4 .2-.2 .2 2.5 .2-2 .2 .8 .2 .5 .2-1 .2 .6 .2 .3 .2 2 .2-4 .2 2.5 .2-.2 .2 0 .2-.4 .2 3.1 .2-.4 .2-.9 .2-3.8 .2 4.7 .2-4.1 .2 2 .2-.2 .2 1.9 .2 0 .2-2.8 .2-1.5 .2 4.1 .2 .2 .2 .5 .2-4.5 .2 4.5 .2-1.3 .2 1 .2-2.3 .2 .4 .2 .9 .2 .6 .2 .7 .2-3 .2-.7 .2 1.7 .2 1.2 .2-2.6 .2 3.7 .2-.5 .2-3.7 .2 2.4 .2 .6 .2-.1 .2 2.2 .2-3.7 .2-.3 .2 .1 .2 1.4 .2 2.5 .2-3 .2 1.2 .2 1.3 .2-3.6 .2 .9 .2-2 .2 1.9 .2 .1 .2 .9 .2-2 .2-.2 .2 2.1 .2 1.1 .2-.6 .2 1.3 .2-3.6 .2 2.3 .2 1.5 .2-5.1 .2 6.3 .2-3.8 .2 12.9 .2-3.9 .2-7 .2-.3 .2-.8 .2 2.2 .2-3.4 .2 2.9 .2-3 .2 1.4 .2 2.5 .2-4.1 .2 2.1 .2 1.7 .2-5 .2 .9 .2 2.4 .2-1.2 .2-.4 .2 3 .2-4 .2 1.6 .2 .3 .2 .6 .2-1.9 .2 .4 .2 .8 .2-1.1 .2-.1 .2 .2 .2-.8 .2-.4 .2 1.1 .2 .6 .2 3.6 .2-2.8 .2-.4 .2 .6 .2-1.9 .2-.3 .2 4 .2-3.9 .2 .5 .2-.3 .2 .7 .2 1.6 .2 .5 .2 1.7 .2-.8 .2-.7 .2-1.7 .2 1.6 .2-2.6 .2 .7 .2-.3 .2 2 .2 1.3 .2-1.3 .2-1.9 .2 1.3 .2 1.7 .2-2.1 .2 2.4 .2-2.1 .2 .8 .2-2.5 .2 3 .2-2.7 .2 3.2 .2 14.8 .2-6.2 .2-14.9 .2 2.2 .2 1.4 .2-1.3 .2 3.5 .2-5.1 .2 62.4 .2-17.9 .2-41.2 .2 1.3 .2-.6 .2-3.9 .2-.8 .2 3.1 .2 .2 .2 .7 .2-5.2 .2 3.8 .2-.6 .2-.4 .2 1.9 .2-1.5 .2 1.4 .2-2.5 .2-1.5 .2 2 .2-2.6 .2 3.7 .2 .9 .2-1.2 .2-3.5 .2 3.3 .2-2.5 .2 .5 .2 .1 .2 1.2 .2-1 .2-1 .2-3.7 .2 1.9 .2 2.8 .2 1.7 .2-4.8 .2 2.9 .2-.8 .2 .7 .2-.6 .2-3.9 .2 3.1 .2 .8 .2 .7 .2 .4 .2-5.2 .2 1.6 .2 0 .2 .4 .2 1.5 .2-2.2 .2 1.8 .2 22.7 .2-6.8 .2-17.3 .2-1 .2 4.5 .2-2.6 .2 1.1 .2-4.9 .2 3.5 .2 2.5 .2-3.7 .2 2.3 .2-3.7 .2-.5 .2 3.3 .2-1.7 .2 .2 .2 .7 .2 2.7 .2-4.4 .2 2.2 .2 0 .2-2.6 .2 3.9 .2-4.2 .2 2.1 .2 3.7 .2-.9 .2-1.7 .2 2.6 .2-3.2 .2 2.2 .2-2.6 .2-2.3 .2 11.3 .2-2.2 .2-1.1 .2 130.6 .2-37.7 .2-76.9 .2 5.8 .2-5.3 .2-.7 .2 1.9 .2 9.1 .2-13.6 .2 21.4 .2 6.8 .2-10.8 .2 1.3 .2 .4 .2 4.9 .2-3.3 .2 2.7 .2 10.1 .2-6.2 .2-11.7 .2-4.7 .2 23.4 .2-11.8 .2-4.8 .2 14.9 .2-4.2 .2-19.7 .2-3 .2 25.4 .2-19.3 .2 13.1 .2-16.8 .2 .9 .2-.8 .2 15.6 .2-1.2 .2-8.5 .2 3.1 .2-11.6 .2 .7 .2 8.5 .2-4.1 .2 16 .2-12.6 .2-4.8 .2 10.2 .2-19.1 .2 16 .2-6.2 .2 12.1 .2-19.7 .2 15.3 .2 2.6 .2 .6 .2-4.1 .2 10.9 .2-12.3 .2 11.6 .2 4.9 .2-5.7 .2 11.5 .2-16.1 .2 14.6 .2-12.2 .2 8.6 .2 58.6 .2-19.8 .2-39 .2 2.9 .2-17.6 .2 15.6 .2-8.2 .2-5.6 .2 10.5 .2 15.6 .2-11.6 .2 11.7 .2-20.5 .2 73 .2-16.8 .2-43.9 .2 9 .2 2.8 .2-.4 .2-11.2 .2-20.6 .2 4.4 .2 20.3 .2-20.1 .2 .6 .2 106.9 .2-30.1 .2-66.4 .2 43.5 .2-11.9 .2-40.5 .2-3.9 .2 14.2 .2-5.8 .2-12.5 .2 12.2 .2 6.6 .2-8.5 .2 9.3 .2-10 .2 12.3 .2 10.3 .2-13.8 .2 .3 .2 16.3 .2-2.3 .2 9.3 .2-9.2 .2 8.4 .2-.5 .2-12.6 .2-.6 .2 7.9 .2 8.1 .2 3.2 .2 9.7 .2-4.8 .2-12.3 .2-3.4 .2 6.7 .2 4.6 .2-2.3 .2-15.8 .2 2 .2 9.2 .2-10 .2 21.3 .2-2.4 .2-12.9 .2 20.4 .2 13.7 .2-5.4 .2-36.8 .2 12.6 .2-8.2 .2-3.5 .2 10.1 .2-2 .2 24.8 .2-30 .2 13.5 .2 15.6 .2-19.5 .2 1.7 .2 2.3 .2-5.8 .2 19.4 .2-14.2 .2 27.4 .2-6.5 .2-9.4 .2-23.7 .2 21.2 .2-14.6 .2-4 .2 1.6 .2 15.9 .2-6.1 .2-1.9 .2 12.4 .2 9.1 .2-5 .2 2.2 .2-26.9 .2 6 .2 13.7 .2-6.6 .2 3.4 .2-9.2 .2 12.3 .2 4.5 .2-13.4 .2-3.4 .2 7.2 .2 7.3 .2-16.5 .2 13.8 .2-5.7 .2-14 .2 12.2 .2-8.8 .2 15.7 .2-5.9 .2 21.7 .2-22 .2 23.2 .2-6.1 .2 10.8 .2 9.1 .2 9.6 .2 2.3 .2-7.1 .2 12.9 .2-4.8 .2 5.2 .2 12.2 .2 3 .2 8.6 .2 1.3 .2-1.9 .2 75.1 .2-21.3 .2-47.5 .2 6.5 .2-4.6 .2 1.7 .2 4.3 .2 .9 .2 6.3 .2 2 .2 1.2 .2-2.8 .2 6.8 .2-2.5 .2 1.2 .2 7.5 .2-2.1 .2 4.7 .2-1.4 .2 1.9 .2 3.7 .2 2.6 .2-.3 .2 .1 .2 5.4 .2 6 .2-2.3 .2 5.2 .2-1.8 .2 3 .2 1 .2-4.5 .2 7.5 .2-.7 .2-2.8 .2 8.8 .2-5 .2 5 .2-1.5 .2 2.8 .2-3.5 .2-.8 .2 8.1 .2-6.6 .2 1.4 .2 3.7 .2-3.2 .2 3.3 .2 10.2 .2-11.8 .2 6.2 .2 4.6 .2-1.5 .2-1.3 .2-1.8 .2 4.7 .2 2.7 .2-1 .2-1.3 .2 5 .2-6 .2 7.8 .2-6.9 .2 9.8 .2-.5 .2-7.9 .2 10.5 .2-.9 .2 1.2 .2-.6 .2-6.7 .2 4.9 .2-4 .2 7.3 .2-1.6 .2 .6 .2-1.5 .2-3.3 .2 4.2 .2 8.3 .2-5 .2-3.9 .2 5.2 .2-3.7 .2 2.5 .2 0 .2 8.4 .2-10.4 .2 .5 .2 4.8 .2-1.6 .2 .6 .2 6.7 .2 1 .2-10.3 .2 4.9 .2-3.2 .2 7.3 .2-2.7 .2 1.3 .2-1.2 .2-1 .2 8 .2-10.1 .2 11.1 .2-1.9 .2-1.7 .2 .5 .2-7 .2 6 .2 2.1 .2-2 .2 2.2 .2-3.8 .2 .6 .2 4.5 .2-1.7 .2-.1 .2 4.5 .2-2.5 .2 .9 .2-2.9 .2-6 .2 7.9 .2 2.2 .2-2.3 .2 .8 .2 .7 .2-7 .2 9.1 .2 1.3 .2-5.4 .2-1.2 .2-5.7 .2 1.6 .2 1.9 .2 .6 .2-2.3 .2 6.5 .2-4.1 .2 3.9 .2 5.7 .2-1.4 .2-10.3 .2 2.2 .2 .4 .2 3.9 .2 9.1 .2-1.7 .2-6.9 .2-3.7 .2 8.1 .2-5.9 .2-3.7 .2 11.9 .2-5.9 .2 2.4 .2 .4 .2-12 .2 8.6 .2 5.7 .2-7.9 .2 7.8 .2-4.7 .2 2.9 .2 5.2 .2-3.5 .2-9.2 .2 5.5 .2-2.2 .2 4 .2 2.9 .2 1 .2-3.2 .2-7.3 .2 6.1 .2 4.8 .2-9.2 .2-.8 .2 7.5 .2-7.9 .2-.2 .2 7.9 .2 1.1 .2-3 .2 2.2 .2-.5 .2 1.2 .2-7.2 .2-3.4 .2 12.5 .2-11.8 .2 2 .2 5.8 .2-5.9 .2-1.9 .2 11.2 .2-8.7 .2 8.5 .2-2.1 .2 .3 .2 4.8 .2-11.2 .2 8.8 .2-3.1 .2-4.1 .2-2.9 .2 11.2 .2-12.3 .2 1.9 .2 6.9 .2 3.8 .2-8 .2 10.7 .2-8.8 .2-4.8 .2 2.8 .2 2.4 .2-1.6 .2-.8 .2 8 .2-1.9 .2-6 .2 5.5 .2-2.1 .2-2.7 .2 .3 .2 5.3 .2-4 .2 5.8 .2-5.2 .2-.7 .2 2.1 .2 4.3 .2-10.9 .2 5 .2-3.6 .2 8.1 .2-10.3 .2 4.4 .2 4.7 .2 .7 .2-1.9 .2-3.4 .2 .7 .2-4.9 .2 9.5 .2-8.4 .2-2.7 .2 4.1 .2 8.5 .2-3.6 .2 5.1 .2-4.7 .2-6.5 .2 4 .2 2.4 .2-6 .2 .1 .2-.4 .2 3.1 .2-3.9 .2 4 .2-.2 .2 4.2 .2-3.1 .2 6.8 .2-7.6 .2 1.4 .2 4.9 .2-3.7 .2-4.1 .2 .2 .2 2.2 .2-5 .2 4.4 .2-6.4 .2 8.3 .2 1.9 .2-1.3 .2-2.9 .2 1.5 .2-1.9 .2-6 .2 9.6 .2-1.9 .2 .5 .2-6.8 .2-1.6 .2 8.9 .2-7.2 .2-.2 .2 .8 .2 .4 .2 7.5 .2-3.3 .2-.8 .2-2 .2 2.5 .2-3.9 .2 5.9 .2-7 .2 4 .2-6.7 .2 10.3 .2 2.5 .2-12.4 .2 8.7 .2-2.8 .2 4.9 .2-1.5 .2-.7 .2 3.3 .2-5.7 .2-1.4 .2 3.9 .2 1.7 .2 .3 .2-2.1 .2-.3 .2-3.8 .2 7.6 .2-8.9 .2 9.1 .2-8.6 .2 2.9 .2 2.2 .2 1.3 .2-3.1 .2-5.1 .2 .1 .2 7.4 .2 7.1 .2-5.2 .2-7 .2-4.7 .2 9.5 .2-10.3 .2 7.1 .2 8.8 .2-4.8 .2 3.5 .2-1.3 .2-5.2 .2-3.6 .2 7.9 .2-3.9 .2 1.9 .2-2.8 .2 3.3 .2-5.8 .2 13.4 .2-11.3 .2 2.2 .2 .7 .2-5.1 .2 4 .2 1.7 .2-5.2 .2 10.5 .2-8.9 .2 7.5 .2-12.7 .2 9.8 .2-1.5 .2-5.1 .2-8.2 .2 11.3 .2-7.1 .2 5.7 .2-4.3 .2 8.8 .2-5.1 .2 4.6 .2-3.6 .2-3.9 .2-.2 .2 4.4 .2 9.5 .2-8.7 .2-1.2 .2 7.8 .2-2.6 .2-2.6 .2-2.2 .2 5.5 .2-10.3 .2 7.7 .2-2.1 .2-9.3 .2 14.9 .2-9.6 .2-.6 .2 .1 .2 .4 .2 1.7 .2-1 .2 2 .2-2.9 .2 10.4 .2-13.6 .2 3.8 .2-2.9 .2 11.7 .2-1.5 .2-4.3 .2-6.8 .2 .7 .2 5.9 .2-2.3 .2-3.8 .2 1.6 .2-5.4 .2 8.1 .2 6.3 .2-11 .2 2.7 .2 1 .2 .9 .2-7.8 .2-.5 .2 .3 .2 8.8 .2-5.5 .2-5 .2 13.2 .2-11.1 .2 8.5 .2-4.1 .2 9.2 .2-2.9 .2-.5 .2-5.3 .2-3.5 .2 13.1 .2-3.8 .2-4.2 .2-8 .2 11.4 .2-2.8 .2 2.5 .2-11.6 .2 1.1 .2 1.1 .2 10.7 .2-13.2 .2 10.2 .2-.1 .2 3.5 .2-7.7 .2 4.3 .2 .9 .2-.3 .2-15 .2 6.5 .2 2.5 .2-1.5 .2-7.2 .2 7.3 .2-4.4 .2 5.7 .2 5.8 .2-6.5 .2 5.3 .2-10.5 .2 10.5 .2-2.8 .2-5.8 .2 9.8 .2-2.5 .2-9.7 .2 8.1 .2-.9 .2-2.5 .2 1.1 .2-2.6 .2 0 .2 1.1 .2-7.5 .2 8.5 .2-9.9 .2 13.8 .2-8.2 .2 10.8 .2 .5 .2-1.6 .2-10.1 .2 1 .2 1.5 .2 10.4 .2-10.7 .2-1.1 .2-3.3 .2 3.7 .2-3.4 .2 6.6 .2 .3 .2 2.6 .2-8.4 .2 3 .2-.2 .2 5.5 .2-2 .2-6.9 .2 5.6 .2-7.8 .2 6 .2-1.5 .2-3.4 .2 6.9 .2-2.6 .2 1.5 .2-1.2 .2 2 .2-1.2 .2 2.3 .2-12.4 .2 6.1 .2-2.4 .2 6.1 .2-.1 .2-3.3 .2 2 .2 5 .2 6.2 .2-2.8 .2-9.9 .2-1.2 .2-2.8 .2 2.8 .2-1 .2 2.3 .2 4.6 .2-1.1 .2 3.1 .2-6.3 .2 4.5 .2 .9 .2-5.1 .2-6.6 .2 7.9 .2-4.9 .2 5.3 .2-1.8 .2-5.7 .2 2.6 .2 8.8 .2-2.2 .2-5.4 .2 3.4 .2 0 .2 5.9 .2-17.9 .2 5.3 .2 3.5 .2 6.1 .2-3.6 .2-5.6 .2 11.9 .2-2.2 .2-9.9 .2 9.5 .2-4.8 .2-1.7 .2-7.4 .2 13.5 .2-1.8 .2-10.9 .2 6.6 .2-7.1 .2 6.3 .2 7.9 .2 1.4 .2-7.5 .2 1.9 .2 .7 .2 3 .2-.2 .2-1.7 .2-9.3 .2 6.2 .2-.8 .2-.7 .2 7.9 .2-11.1 .2 .1 .2 4.9 .2-5 .2 .4 .2 .2 .2 .4 .2 7 .2-5.3 .2 1.4 .2-3.1 .2 5.5 .2-3.2 .2 4.3 .2-12.7 .2 11 .2-5.1 .2 6 .2-6.4 .2 11 .2-.6 .2-5.6 .2-3.6 .2 3.3 .2-2.4 .2 6.2 .2-7.9 .2 4.2 .2 2.8 .2-.9 .2-4.3 .2 .6 .2 1.4 .2 .6 .2-7.8 .2 .7 .2 3.8 .2 2.6 .2 4.3 .2-6.7 .2-1.7 .2 5.8 .2 .8 .2-2.9 .2 2.6 .2-2.6 .2 5.4 .2-6.8 .2 8 .2-15.5 .2 12.4 .2-5.6 .2-.7 .2 5.8 .2-2 .2-3.6 .2-2.8 .2-.9 .2 9.4 .2 5.7 .2-18.4 .2 6.4 .2-3.3 .2 6.8 .2-7.2 .2 6 .2-5.1 .2 1.5 .2 5.8 .2-3.4 .2-5.6 .2 .9 .2-4.2 .2 15.6 .2-6.2 .2 6.9 .2-1.5 .2-.6 .2-1.7 .2-10.4 .2-1.3 .2 8.5 .2 3.3 .2-13.5 .2 14.7 .2-2.3 .2-2.4 .2-2.4 .2-1.5 .2-3.6 .2 8.2 .2-6.3 .2 7.9 .2-2.6 .2-2.3 .2 6.9 .2-.8 .2 2.3 .2-2.9 .2 7 .2-4.8 .2-6 .2-4.6 .2 11.9 .2 1.4 .2-15.3 .2 10.3 .2-2.3 .2-.7 .2-.3 .2 2.6 .2-5.9 .2-3.9 .2 15.5 .2-11.8 .2 6.1 .2-9 .2 13.9 .2-3.6 .2 .9 .2-6.2 .2-3.4 .2 6.5 .2-8.7 .2 18.1 .2-8.5 .2 6.5 .2-12.7 .2 6.6 .2-4.6 .2 3.6 .2-2.1 .2 6.6 .2-12.7 .2 9.4 .2 7.2 .2-4.5 .2 1.4 .2-7.8 .2-3.8 .2 11.2 .2-7.8 .2 6.4 .2 4.3 .2-13.6 .2 8.4 .2 .6 .2-9.3 .2 7.4 .2 4 .2-6.4 .2-2 .2-5.3 .2 3.9 .2 1.8 .2-2.5 .2-1 .2 1.9 .2 5.7 .2-1.6 .2 .7 .2 .7 .2-6.8 .2 14 .2-9.8 .2-6.2 .2 5.9 .2-3.1 .2-1.9 .2 10 .2-5.6 .2 .3 .2-3.4 .2 1.7 .2-1.1 .2-1.5 .2 8.8 .2-1.8 .2-9.3 .2 9.4 .2-14.7 .2 9.6 .2 4.9 .2-3.8 .2-4.2 .2 13.4 .2-9.3 .2 7.3 .2-11.1 .2 5.8 .2-3.5 .2 7 .2-10 .2 2.2 .2 3.2 .2-7 .2 3.9 .2-.9 .2 3 .2-5.2 .2 5.9 .2 9.8 .2-6.6 .2-2.7 .2-4.9 .2 8.2 .2-12.3 .2 12.4 .2-8.3 .2-1.7 .2 9.4 .2-9.5 .2-.9 .2 3.3 .2 5.2 .2-12.3 .2 2.8 .2 10.1 .2-6.4 .2 4.9 .2-3.1 .2-3.3 .2 17 .2-18.9 .2 14.9 .2-2.5 .2-3 .2-11.1 .2 15.9 .2-9.8 .2 6.7 .2 1.1 .2 1.5 .2-5.5 .2-9.1 .2 3 .2 11.2 .2-8 .2 3.2 .2-1.8 .2-.7 .2 2.6 .2-8.2 .2 13.2 .2-9.7 .2-5.9 .2 11.5 .2-5.9 .2-1.4 .2 8.6 .2-2.5 .2-3.1 .2 5.9 .2-9.8 .2-5.2 .2 11 .2 .2 .2-.2 .2-5.5 .2-.8 .2-.2 .2 11.7 .2-5.8 .2-4.9 .2 8.9 .2 2.2 .2-9.3 .2 9.7 .2-2.1 .2-9.6 .2 6.7 .2 3.6 .2-4.9 .2-9.5 .2 14.4 .2-4 .2-1 .2-.5 .2-2 .2 6.9 .2-8.4 .2 1.4 .2 5.3 .2-1.6 .2-4.2 .2 2.6 .2 5.2 .2-11.2 .2 8.1 .2 5.5 .2-11.2 .2 8 .2 2.6 .2-9.8 .2-4 .2-.8 .2 12.1 .2-3.1 .2-2.7 .2-2.6 .2 10 .2-3.2 .2-2.9 .2-4.5 .2 2.7 .2 4.7 .2-4.5 .2 2.3 .2-8.4 .2 10.1 .2 7.3 .2-16.7 .2 11.1 .2-2.6 .2 4.2 .2 2.5 .2-10.1 .2 7.8 .2-14.3 .2 10.7 .2 1.5 .2-1.6 .2-9.9 .2 8.1 .2-1.6 .2 6.9 .2-5.5 .2-6.8 .2 2.6 .2 6.8 .2-6.8 .2 6.4 .2-10.9 .2 6.4 .2-4.4 .2 9.8 .2-7.2 .2 3.5 .2 8.3 .2-8 .2 3.1 .2-1.5 .2-4.9 .2 8.3 .2 2.5 .2-5.5 .2 4.7 .2-5.9 .2-2.8 .2-9.7 .2 15 .2-3.2 .2-3.2 .2 9.9 .2-12.5 .2 12.4 .2-8.1 .2 .6 .2 5.7 .2-5.1 .2 1.4 .2-5.2 .2 2.7 .2 4.8 .2 2.1 .2-2.6 .2 1.8 .2-10.2 .2 16.5 .2-7.1 .2-2.6 .2-4.3 .2-.6 .2-8.7 .2 23.5 .2-16.9 .2 11.4 .2 2.7 .2 3.9 .2-13.6 .2 4.6 .2-2.5 .2-8.4 .2 13.3 .2 4 .2 .4 .2-14.5 .2 5.5 .2 1.5 .2-8.8 .2 3.4 .2-8.8 .2 19.1 .2-9.6 .2-3.4 .2 7.7 .2 5.9 .2 1.5 .2-12.4 .2-2.7 .2 10.3 .2-12.8 .2 4 .2 .7 .2 2.7 .2-4 .2-.4 .2 11.1 .2-3.9 .2-2.2 .2 4.7 .2 3.2 .2-4.6 .2-.8 .2-.7 .2 3.5 .2-.2 .2-7.3 .2-1.2 .2 9.5 .2-2.6 .2 2.1 .2-6.2 .2-4.9 .2 12.7 .2-4.4 .2-3.5 .2 1.1 .2-6.4 .2 5 .2 1.9 .2-5.7 .2 4.2 .2-7.7 .2 9 .2-1.8 .2-1.3 .2 4.3 .2-4.3 .2 1.6 .2-8.4 .2 13.5 .2 .1 .2-12.4 .2 7.1 .2-2.3 .2-2.8 .2 10.9 .2-9 .2-2.7 .2 2.3 .2-1 .2 3 .2 8.1 .2-8.9 .2-1.8 .2 6.1 .2-8 .2 1.2 .2 7.1 .2-.7 .2-2.7 .2 12.2 .2-6.5 .2-4.9 .2 5 .2-2.6 .2 2.6 .2-6.3 .2-2.1 .2 4.7 .2 4.2 .2-5.8 .2 2.7 .2-5.9 .2 12.3 .2-14.3 .2 1.7 .2 5.2 .2-.1 .2-2.8 .2 3.5 .2 3.7 .2 1.1 .2-7.1 .2 2.6 .2-2.8 .2 6.2 .2 1.5 .2-16.5 .2 6.1 .2-.8 .2-.3 .2 9.5 .2-9.5 .2-2.5 .2 15.2 .2-16 .2 .6 .2 12.3 .2-9.9 .2 5.1 .2-9.4 .2 17.4 .2-19.1 .2 7.2 .2-.8 .2 7.6 .2 2.6 .2-14.7 .2 15.3 .2-8.9 .2 4 .2-2 .2-2.7 .2-5.7 .2 9.5 .2 7.9 .2-8.8 .2-6.9 .2 1.8 .2 6.9 .2-.3 .2-3 .2 4.3 .2 3.7 .2-7 .2-2.1 .2 4.2 .2 6.2 .2-2.2 .2 .5 .2-6.8 .2 0 .2 .1 .2 12.7 .2-22.8 .2 20.8 .2-11.3 .2-6.4 .2-2.8 .2 17.4 .2-4.6 .2-7.4 .2 12.5 .2-19.4 .2 3.9 .2 13.6 .2-5.1 .2 4.1 .2-6.2 .2 7.6 .2-8.6 .2 7.1 .2 2.3 .2-16.5 .2 13.8 .2-7.4 .2 5.6 .2-1.2 .2-7 .2-2.1 .2 2.9 .2 7 .2-14.1 .2 6.8 .2-.7 .2 12.4 .2-1.5 .2-6.7 .2 2.3 .2 7.1 .2-6.5 .2 8.4 .2-6.3 .2 1.6 .2-4.5 .2 3.3 .2 5 .2-.1 .2-1.6 .2-6.6 .2 .6 .2 4 .2-8 .2-5.1 .2 13.9 .2-12.7 .2 3.6 .2 15.8 .2-3.7 .2-2.7 .2-5.9 .2 4.4 .2-5 .2-6.6 .2 .5 .2 12.7 .2 1.6 .2-2.5 .2-14.7 .2 15.3 .2-12.9 .2 2.4 .2 9 .2-1 .2-5 .2-2.5 .2 3.7 .2-1.6 .2 5.5 .2-4 .2 2.8 .2-2.7 .2-10.5 .2 19.6 .2-7.9 .2 3.8 .2-3.4 .2-5.7 .2 8.2 .2-3.3 .2 2.2 .2 4.4 .2-7 .2-1.7 .2 10.3 .2-19 .2 3.4 .2 13.3 .2-6.5 .2 3.1 .2-1.4 .2 .3 .2 2.9 .2-.4 .2-2 .2 2.8 .2-9.7 .2-4.1 .2 9.3 .2 4.7 .2-6.2 .2-3.6 .2 9.6 .2-3 .2-3 .2-7.9 .2 13.5 .2-5.5 .2 .3 .2-3.9 .2-1.9 .2 11.1 .2 .3 .2-2.2 .2 1 .2 2.4 .2-14.3 .2 12.6 .2-8.4 .2-2.2 .2 19.4 .2-9.8 .2 4.3 .2-2.4 .2-5.1 .2-1.3 .2 .5 .2-1.4 .2-8.6 .2 13.5 .2 0 .2-1.4 .2-8.7 .2 12.3 .2-9 .2 3.7 .2-7.9 .2 .9 .2 8.6 .2-.4 .2-6.3 .2-4.9 .2 7 .2 .1 .2 4.6 .2-2 .2 3.6 .2-5.8 .2 3 .2-5.8 .2 8.4 .2 9.2 .2-10.1 .2-12.6 .2 18.4 .2-6.9 .2 4.7 .2-12.8 .2-5.2 .2 15.9 .2 6.5 .2-8.4 .2 1.7 .2-3.7 .2 11.2 .2-3 .2-9.4 .2 3.4 .2 3.3 .2-4.1 .2 6.5 .2-5.1 .2 4.1 .2-.1 .2-5.3 .2 2.6 .2-4.2 .2 10.1 .2-2.2 .2-16.3 .2 10.8 .2 .3 .2 1.6 .2-2.8 .2 5.6 .2-7.3 .2 4.8 .2-6.1 .2 5.9 .2 5.8 .2-16.1 .2 11.8 .2 .2 .2-11.3 .2 7.3 .2 5.8 .2-9.7 .2-.7 .2 9.6 .2-15.2 .2 11.8 .2-3.8 .2-8.6 .2 12 .2-2.7 .2 5.8 .2-4.5 .2 4.3 .2-4.3 .2-3.2 .2 10.9 .2-13.8 .2 6.8 .2 3.6 .2-4.5 .2 6 .2-4.9 .2-9.3 .2 8.8 .2-11.3 .2 9 .2 10.5 .2-4.2 .2-1 .2-11.9 .2 7.1 .2 7.1 .2-3.9 .2-13.2 .2 3.9 .2 6.5 .2 .9 .2 6.6 .2-10.2 .2 10.3 .2-5.4 .2 5.7 .2-12.8 .2 2.5 .2 9.2 .2-1.4 .2 6 .2-9.6 .2-2 .2 5.4 .2-1.3 .2-12.8 .2 20.3 .2-10.5 .2 .3 .2 4.2 .2 6.1 .2-13.1 .2 2.6 .2 4.8 .2 1.2 .2-4.1 .2 1.8 .2-2.9 .2-3.2 .2 3.7 .2-.2 .2 .8 .2 .5 .2 5.1 .2-5.6 .2-16 .2 6.2 .2 13 .2 .1 .2-3.2 .2-.2 .2-4.7 .2-1.4 .2 9.7 .2-8.2 .2 1.7 .2 1.4 .2 8.7 .2-4 .2-4.7 .2 2.5 .2 5.3 .2-9.1 .2 8 .2-14.1 .2 3.1 .2 12.8 .2-6.6 .2-6.6 .2 10.4 .2 2 .2-10.6 .2 .7 .2 3.1 .2 2.4 .2 .2 .2-8.1 .2 .1 .2 9 .2-2 .2 4.9 .2-.1 .2-4.6 .2-2.8 .2-7.6 .2-5 .2 10.6 .2 9.3 .2-4.4 .2 3 .2-4.3 .2 6.9 .2-13.9 .2 2.4 .2 2.8 .2 8.3 .2-15 .2 15.2 .2-17.9 .2 14.3 .2-3.5 .2 2.3 .2-1.2 .2-1.3 .2 8.1 .2-11.6 .2 10.5 .2-5.8 .2-8.8 .2 4.3 .2-1.9 .2 12.4 .2-5.7 .2-9 .2 6.4 .2 7.5 .2-11 .2 .7 .2 1.9 .2-5.5 .2 7.4 .2 3.2 .2 4.1 .2-1.7 .2-.7 .2-.3 .2-1.4 .2-8.3 .2 .7 .2 8.8 .2-3 .2-.9 .2-2.6 .2-.8 .2-6 .2 17.1 .2-.2 .2-10.6 .2 11.8 .2-7.6 .2 6.6 .2-.5 .2 .4 .2-3.7 .2-8.2 .2 1.9 .2 8 .2 .7 .2-7.9 .2 11.2 .2-11.1 .2-3.1 .2 1.1 .2 .3 .2 5.5 .2 2 .2-5.1 .2 1.9 .2 .2 .2-3.9 .2 5.3 .2-5.4 .2 7.3 .2-3.3 .2-1.9 .2-1.9 .2 3.9 .2 7.5 .2-18.2 .2 15.3 .2-12 .2 9.4 .2-1.5 .2 7.7 .2-14.5 .2-1.4 .2 19.8 .2-19.8 .2 16.3 .2-11.2 .2 6.9 .2-1.9 .2-.5 .2-3.9 .2-8 .2 4.3 .2 12.2 .2-15 .2 11.5 .2-5.4 .2 8.1 .2-6.9 .2-4.8 .2 4.4 .2-3.6 .2 6.5 .2-5 .2 .4 .2 7.8 .2-8.6 .2 8.1 .2-5.7 .2-3.2 .2-3.7 .2 11.9 .2-1.9 .2-1.4 .2 6.1 .2 1 .2-12.7 .2 5.3 .2 2.1 .2-8.2 .2 12.8 .2-10.7 .2-6.9 .2 17.8 .2-3.9 .2-7.3 .2 4.5 .2 2.5 .2 1.1 .2 .8 .2-4.6 .2 2.2 .2-9.6 .2 15.7 .2-4.4 .2-4.2 .2-4.1 .2 6.8 .2 7.9 .2-4 .2-14.4 .2 9.6 .2 1.8 .2-1 .2-7.6 .2-4.1 .2 16.3 .2-11.8 .2 9.6 .2-.7 .2-3.6 .2-5.7 .2 6.8 .2-9.8 .2 7.7 .2 4.5 .2-5 .2 7.1 .2 4.1 .2-18.7 .2 3.3 .2-3.7 .2 3.5 .2 3 .2 6.1 .2 24.6 .2-7.5 .2-30.9 .2 1 .2 11.4 .2 5.6 .2-8.3 .2-2.2 .2-1.9 .2 16.5 .2-7.6 .2-9.2 .2 2.7 .2 6.7 .2 1.7 .2-.3 .2-6.3 .2 .4 .2-5.8 .2-2.7 .2 3.9 .2 9.8 .2-4.2 .2 5.8 .2-10.6 .2 1.2 .2-.7 .2 4 .2-2.8 .2 8.5 .2-3.4 .2-8.1 .2 1.9 .2 9.8 .2 7.2 .2-14.1 .2 8.8 .2-3.6 .2-11.7 .2 1.3 .2 5.7 .2 9.7 .2-16.3 .2 15.5 .2-4.5 .2-9.9 .2 14.4 .2-.3 .2-5.9 .2 7.1 .2-2.7 .2-8.9 .2 5.4 .2-14.5 .2 20.2 .2-9.5 .2-2 .2-3.5 .2-3.7 .2 5.6 .2 10.6 .2-17.2 .2 5.6 .2 5.1 .2 8.5 .2-18.7 .2 14.4 .2 2.6 .2-3.4 .2-1 .2-8.8 .2 1.7 .2-1.4 .2 11.6 .2-1.6 .2-2.2 .2 2.6 .2 5.1 .2-1.5 .2-7.2 .2-3.8 .2 12 .2-7.7 .2 6.2 .2-4.5 .2 2 .2 10.1 .2-25.9 .2 1.4 .2 14 .2 1.8 .2-8.2 .2 5.6 .2-6 .2 14.4 .2-18 .2 13.9 .2-7.6 .2 3.8 .2-9.5 .2 2.7 .2 5.1 .2-.7 .2-2.3 .2 6.8 .2 1.5 .2-12.6 .2-1.9 .2 7.1 .2-11.1 .2 17 .2-14.7 .2 20.1 .2-6.4 .2 2.6 .2-6.5 .2-.3 .2-.9 .2-3.4 .2-2 .2 7.2 .2-4.1 .2 9.5 .2-2.8 .2-5.6 .2 2.9 .2-1.4 .2 2.6 .2 6.9 .2-.9 .2-4 .2-4 .2-2.2 .2 .2 .2-6 .2 2.4 .2-2.7 .2-2.6 .2 6.8 .2 5.1 .2 1.2 .2-1 .2-2 .2 6.9 .2-7.5 .2 2.4 .2-2.1 .2 7 .2-7.1 .2 3.4 .2-.7 .2-8.5 .2 4.2 .2 13.6 .2-12.2 .2-2.8 .2 10.3 .2-12.5 .2-4.6 .2 6.5 .2 10.1 .2-3 .2-5.1 .2-3.4 .2-4.1 .2 16.4 .2-1.8 .2-14.7 .2 5 .2 4.3 .2 5.6 .2-3.3 .2 5.5 .2-9.7 .2 16.5 .2-7.9 .2-4.8 .2-3.3 .2 6.2 .2-4.1 .2 9.7 .2-10 .2 2.8 .2 4.2 .2-6 .2 .5 .2 5.7 .2-4.7 .2 7.2 .2-16.6 .2 9.6 .2 6.5 .2-13.4 .2-5.1 .2 5.5 .2 .3 .2 3.4 .2 2.4 .2 7.2 .2-7.9 .2 1.7 .2-7.1 .2-.7 .2 10.6 .2-.5 .2 1.1 .2-7.7 .2-.4 .2 10.3 .2-1.9 .2-9.4 .2 4.4 .2-5.7 .2 11 .2 .4 .2-19.9 .2 13.3 .2-3.2 .2 6.2 .2 6.3 .2-2.7 .2-14.1 .2 10.9 .2 3.4 .2-10.7 .2 5 .2-8.7 .2 5.9 .2 5.7 .2-.3 .2 .6 .2-15.8 .2 7.2 .2 15.6 .2-7.2 .2-7.9 .2 14.8 .2-16.5 .2 2.6 .2-.1 .2 6.2 .2-8.9 .2 6.1 .2 0 .2 5.3 .2 7.6 .2-12.9 .2-5.8 .2 1.5 .2 5 .2 2.9 .2 5.9 .2 1 .2-20.7 .2 7.6 .2-6.4 .2-2.6 .2 6 .2 15.4 .2-14.2 .2 12.6 .2-10.8 .2 1.8 .2 3.6 .2-3.6 .2-6.6 .2 11 .2 2.5 .2-8.9 .2 10.2 .2-11.8 .2 14 .2-1.8 .2-19.7 .2 4 .2 9 .2 .8 .2 .6 .2-2.8 .2 1.5 .2-11.5 .2 10.1 .2 1.8 .2 8 .2-12.4 .2 4 .2 13.6 .2-11.9 .2 4.3 .2-5.4 .2-11.1 .2 12.3 .2-8.8 .2 14.2 .2 .6 .2-10 .2 4.6 .2-12.6 .2 5.2 .2 1 .2-6.2 .2 11.5 .2-6.6 .2 9.4 .2-12 .2 4 .2 9.1 .2-11.4 .2 16.2 .2-9.5 .2-11.9 .2 7.5 .2 .3 .2 3.5 .2-5.6 .2 2 .2 .8 .2-5.7 .2 10.1 .2 6.3 .2-6.3 .2-1.3 .2-11.2 .2 2.2 .2 17.2 .2-8.7 .2 0 .2 5.4 .2-13 .2 10 .2-10.3 .2 3.9 .2 9.7 .2-5.1 .2 2.2 .2-3.8 .2-2.2 .2 .1 .2-3.8 .2 11.8 .2-.8 .2-1.6 .2-1.6 .2-3.1 .2 14 .2-12.8 .2 6.3 .2-3.5 .2 .3 .2 8.4 .2-2.8 .2-3.3 .2-6 .2 .4 .2 8.1 .2-16.1 .2 6.1 .2-3 .2 5.2 .2-5.4 .2 1.5 .2 7.6 .2 2.2 .2-3.8 .2 2.2 .2-3.5 .2 5.1 .2 3.1 .2-2.5 .2-3.1 .2-11.5 .2 4.5 .2 12.3 .2-5 .2-4.6 .2 15.8 .2 .1 .2-6.3 .2-7.6 .2 .7 .2-8.5 .2 7 .2-3.1 .2 3.3 .2-5.6 .2 1.5 .2 8.7 .2 5.1 .2-11.3 .2 9.8 .2-.8 .2-14.3 .2 15.6 .2-11.6 .2-7.4 .2 6.8 .2 16.4 .2-13.3 .2 4.7 .2-8.1 .2 17.9 .2-8.7 .2 7.2 .2-13.1 .2-3.6 .2 14.2 .2-12.3 .2 6.3 .2 .6 .2-3.5 .2 .2 .2 12 .2-23.3 .2 11.2 .2-2.9 .2 1.7 .2-4.8 .2 13.7 .2-11.3 .2 5.2 .2-6 .2 .8 .2 6.8 .2-4.9 .2 1.7 .2 2 .2 1.3 .2 .2 .2-4.5 .2-11.2 .2 13.2 .2 7.3 .2-3.7 .2-15.8 .2 13.5 .2-1.7 .2 7 .2-6.8 .2 8.1 .2-16.7 .2 14.6 .2-16.7 .2 9.9 .2 10.8 .2-9.3 .2-7.4 .2 4.7 .2-2.2 .2-5.2 .2 4.3 .2 8.5 .2 2.5 .2-11.9 .2 6.7 .2 0 .2 4.3 .2 3.1 .2-2.9 .2-11.6 .2-4.1 .2 17.1 .2 1.8 .2-12.5 .2-.6 .2 1.7 .2-.4 .2 13.6 .2-11 .2-11.8 .2 16.6 .2 3.4 .2-11 .2 7.3 .2-10.6 .2-1.3 .2 6.1 .2 4.4 .2-5.1 .2 5.7 .2-1.1 .2-12 .2 1.7 .2 18.4 .2-10.6 .2 1.1 .2-4.6 .2-.1 .2 2.2 .2 5.2 .2-7.2 .2 6.2 .2 2.3 .2-7.2 .2 9.6 .2-5.3 .2 6.9 .2-2.6 .2-12.7 .2-2.4 .2 19 .2-8.5 .2 9.2 .2-19.1 .2 1 .2 12.4 .2-2.6 .2 7.5 .2-2.7 .2-9.7 .2 8.5 .2 .1 .2-6.6 .2 .3 .2 .9 .2 7.7 .2-3.2 .2 5.8 .2-19.4 .2 3.1 .2 12.1 .2 2.1 .2-17 .2 14.1 .2-8.4 .2 4.3 .2-10 .2 10.9 .2 3.7 .2-.1 .2-5.6 .2-7.7 .2 12.8 .2-2.6 .2-.6 .2 5.3 .2-.3 .2 5.5 .2-3.9 .2-.2 .2-7.4 .2-8.2 .2-1.6 .2 17.7 .2-5.2 .2 5.8 .2-4.8 .2 5.8 .2-13.2 .2 7.7 .2-3.4 .2 4.5 .2-6 .2 9.9 .2-2.4 .2-13.1 .2-.2 .2 6.5 .2 2.7 .2 4.4 .2-11 .2-3.7 .2 14.1 .2 5.9 .2-19.5 .2-1.6 .2 1 .2 8.7 .2-4.1 .2-7.7 .2 4.8 .2 9.6 .2 .9 .2 2 .2-5.1 .2-10.8 .2 8.4 .2 3 .2-6.7 .2 7 .2-14.1 .2 2.8 .2 12.2 .2-6.3 .2 12.7 .2-7.8 .2-.9 .2-11.4 .2 20.7 .2-16.4 .2 2.8 .2 11.1 .2-16.6 .2 11.8 .2 7.5 .2-14.8 .2 4.5 .2 9.3 .2-10 .2-8.8 .2 4.2 .2 .1 .2-5.6 .2 9.6 .2 9.3 .2-14 .2 1.2 .2-6.1 .2 14.1 .2-10.8 .2 11.7 .2-7.5 .2-4.9 .2 3.3 .2-.1 .2 .2 .2-3.5 .2 17.1 .2-12.1 .2 2.1 .2 3.7 .2 1.7 .2-4 .2-7.8 .2 14.6 .2-6.3 .2-4.1 .2 11.2 .2 .2 .2 6.9 .2-21.1 .2 7.5 .2-1.3 .2-8.3 .2 6.6 .2-1.3 .2-4.6 .2 2.1 .2 3.8 .2-.7 .2 2.2 .2 .4 .2-1.2 .2 10.1 .2-9.3 .2 2.5 .2 12 .2-7.2 .2-2.9 .2-9.7 .2 13.8 .2 .8 .2-7.5 .2-9.5 .2 3.4 .2-3.6 .2 16.5 .2-6.8 .2 6.9 .2-3.7 .2-9.5 .2 4 .2-1.3 .2-3.4 .2 7.3 .2 4.7 .2-8.1 .2 6 .2-15 .2 5.7 .2 14.5 .2-5.2 .2-7.2 .2 1.1 .2-5.2 .2 1.4 .2 1.1 .2-9.9 .2 16.1 .2-2.5 .2-6 .2 14.3 .2-3.9 .2 2.1 .2-10.2 .2-.1 .2 14.7 .2-3.1 .2-14.9 .2 1.6 .2 13.6 .2-14.5 .2 2.4 .2 11.3 .2-3.9 .2-8.1 .2 12.9 .2-3.1 .2-4.4 .2 2.5 .2 3.2 .2-11 .2-1.3 .2 13.7 .2-1.4 .2-12.8 .2 16.4 .2 1.3 .2-22 .2 18.1 .2-.5 .2-6.9 .2-1.1 .2 4.7 .2 .7 .2-7.7 .2-.3 .2 13.7 .2-7.9 .2-6.6 .2 4.6 .2 8.5 .2-4.4 .2-.6 .2-4.5 .2 4.9 .2-13 .2 22.3 .2-7.2 .2-.5 .2 .3 .2 2.1 .2-.2 .2-3.4 .2-10.8 .2 3 .2 .7 .2 7 .2 11.5 .2-5.4 .2 3 .2-22.7 .2 16.7 .2-10.3 .2 3.9 .2-9.2 .2 19.2 .2-8.9 .2 1.8 .2 6.6 .2 9.6 .2-20.9 .2-3.8 .2 10.8 .2-8.5 .2 7.1 .2-6.1 .2 1 .2-5.5 .2 18.3 .2-6.5 .2 6.8 .2 .6 .2-.2 .2-13.5 .2 4.9 .2 1.5 .2 .3 .2-2.4 .2 2.5 .2-5.5 .2 2.5 .2 8.5 .2-7 .2-8 .2-2.3 .2 23.6 .2-12.4 .2-10.7 .2 23.9 .2-8.8 .2-5.2 .2-6.7 .2 2 .2 11.8 .2-.9 .2-19.8 .2 10.3 .2-1.1 .2-2.9 .2 9 .2-10.2 .2 3.4 .2-1.9 .2 4.1 .2-2.2 .2-5.2 .2 14.6 .2-2.8 .2-.5 .2-7.1 .2 2.4 .2 9.8 .2-8.2 .2-5.2 .2 10 .2-13.3 .2 4.9 .2 2.6 .2 2.6 .2 1.5 .2 11.9 .2-17.5 .2 1.5 .2-.4 .2 6.8 .2 4.3 .2-7.4 .2-3 .2 11.3 .2-11 .2-8.2 .2 8.1 .2 7.8 .2-4.7 .2 .3 .2-5.9 .2-3.8 .2 1.6 .2 5.8 .2 4.1 .2 1.2 .2-7.7 .2 2.3 .2 7.1 .2-19.5 .2 8.1 .2 13.1 .2 4.2 .2-15.2 .2 12.3 .2-1.4 .2-7 .2-.7 .2 10.6 .2-8.8 .2-.6 .2 2.7 .2-9.7 .2 8.1 .2-4.1 .2-4 .2 9.7 .2-2.5 .2-7.5 .2 1.2 .2 16.9 .2-19.2 .2 12.3 .2-1.8 .2-1.7 .2-4 .2-8.6 .2 16.2 .2-6.8 .2 13.3 .2-11.1 .2-6.5 .2 8.5 .2 3.9 .2 5.6 .2-17.8 .2-2.6 .2 15.3 .2-1.1 .2-2.9 .2-6.8 .2-.5 .2 11.9 .2-10.9 .2 3.7 .2 2.6 .2-.3 .2 3.5 .2 .6 .2 3.7 .2-6.4 .2-16.7 .2 20.6 .2-14.7 .2 4.2 .2 6.2 .2 6.1 .2-4.6 .2 0 .2-1.4 .2 8.9 .2-17.8 .2-1.1 .2 2.1 .2 4.2 .2-10.9 .2 6.4 .2 13.5 .2 3.7 .2-7.6 .2-3.3 .2 5.3 .2-11.5 .2 9 .2 3.7 .2-7.6 .2 6 .2-7.7 .2 10.8 .2-17.4 .2 3.2 .2 7.3 .2-9.4 .2 6.1 .2 5.4 .2 5.2 .2-17.3 .2 12.1 .2 6.5 .2-5.8 .2-1.2 .2 2.4 .2 4.3 .2-14.3 .2 11.1 .2-3.4 .2-10.9 .2 7.1 .2-4.3 .2 7.9 .2 8.6 .2-14.6 .2 8.1 .2-5.2 .2 9.9 .2-8.9 .2 9 .2-14.7 .2 2 .2 4.5 .2 .8 .2-5.9 .2-4.6 .2 13 .2-1 .2-3.7 .2-7.8 .2 12.5 .2-8.3 .2-10.8 .2 1.8 .2 13.4 .2-9.7 .2 10.2 .2 9.2 .2-20.2 .2 7.6 .2-5.9 .2 8.5 .2-8.5 .2 15.8 .2-4.4 .2 2.4 .2-13.5 .2 15 .2-12.3 .2 15.5 .2-8 .2 10.8 .2-10.5 .2-4.8 .2 7.8 .2-3.9 .2 4.9 .2-5.5 .2-3.7 .2-8.6 .2 12.3 .2-1.8 .2 9.6 .2-4.9 .2-7.6 .2 .8 .2 4.1 .2 11.2 .2-15.2 .2 8.2 .2-9.8 .2 15.9 .2-3.2 .2-18.5 .2 10.4 .2-6 .2-2.7 .2 3.4 .2 7.8 .2 1.6 .2 1.8 .2-12.1 .2-.7 .2 4 .2-4.1 .2 16.3 .2-7.5 .2 1.4 .2-8.4 .2 15.6 .2-8.8 .2-9 .2 4.8 .2-.6 .2 .8 .2 6.8 .2-4.9 .2 12.1 .2-17.7 .2 16.4 .2-15.1 .2-2.1 .2 12.8 .2-.6 .2-6.2 .2-7.1 .2 2.8 .2 6.8 .2-12.4 .2 24.2 .2-21.4 .2 11.9 .2-5.9 .2-2.1 .2 6.5 .2-3.5 .2-8.9 .2 3 .2 5.7 .2 5 .2-7.3 .2 2.6 .2-2.2 .2 10.3 .2-12.6 .2-1 .2 6.6 .2 3.6 .2-11.3 .2 0 .2 13.2 .2 6.6 .2-4.7 .2 .6 .2-3.8 .2 .2 .2-10.8 .2 6.3 .2-5.9 .2 10.7 .2-13.9 .2 11.5 .2-11.7 .2 12.4 .2-15.6 .2 2 .2 6 .2 6.6 .2-12.1 .2 9.6 .2 8.1 .2-4.6 .2-12.5 .2 15.8 .2-8.3 .2-5.6 .2 3.3 .2 3.3 .2-13.5 .2-.1 .2 17.7 .2-.2 .2 4.4 .2-10.5 .2 2.3 .2 7.2 .2-11.7 .2-5.8 .2 22.2 .2-11.6 .2 .5 .2 7.5 .2-1 .2 6.5 .2-13.8 .2-4.4 .2-4.1 .2 2.7 .2 1.2 .2 10.2 .2-9.5 .2 2.8 .2-9.8 .2 19.6 .2 3.3 .2-15.2 .2 2 .2-.5 .2-5.7 .2 .8 .2 15.1 .2-11.5 .2 13.9 .2 .9 .2-13.3 .2-.4 .2 1 .2-.5 .2 4.7 .2-1.8 .2 7.9 .2 .3 .2-16.9 .2-.6 .2-2.6 .2-2.8 .2 17.9 .2-12 .2 7.5 .2-6.8 .2-4.2 .2 9 .2-.6 .2 4.2 .2-1.7 .2 9.9 .2-15.3 .2 13 .2-12.1 .2 5.5 .2-8.7 .2 4.8 .2-4.5 .2 5.9 .2 12.6 .2 3.1 .2-16.3 .2 3.6 .2-2.5 .2-6.2 .2 2.1 .2 11.5 .2-1.1 .2-3.7 .2-6.2 .2 6 .2-3 .2 4.1 .2-8.5 .2 1 .2 5.2 .2-4 .2 1.9 .2-.9 .2 15.4 .2-2.2 .2-3 .2-10 .2-3.4 .2 14.7 .2-13.6 .2-1.2 .2 12.7 .2-12 .2 9.6 .2-23.3 .2 16.5 .2-8.7 .2 7.7 .2 8.4 .2 .1 .2-4.8 .2-1.6 .2-6.6 .2 14 .2 13.6 .2-21 .2 3.8 .2-10.3 .2-1.7 .2 1.8 .2 12.5 .2-10.3 .2 27.8 .2-6.9 .2-16.5 .2 9.8 .2-3 .2 1.4 .2-5.1 .2 11.9 .2-10.9 .2-10.8 .2 3.9 .2 .4 .2-2.4 .2-2.2 .2 17.4 .2-11.4 .2 12.7 .2-.2 .2-5.3 .2 4 .2-14.2 .2 6.7 .2-5.8 .2-2.6 .2 .6 .2 17.4 .2-14.4 .2-6 .2 12.4 .2-4.8 .2-5.1 .2 13 .2-5.9 .2 5.7 .2-1.2 .2-7.8 .2-8.6 .2 20.6 .2-7 .2-6.7 .2-.1 .2 .3 .2 14.5 .2-12.2 .2 11 .2-3.1 .2 .1 .2-2.6 .2-9.9 .2 6 .2 .4 .2 6.7 .2-.2 .2-13.4 .2 16.1 .2-8.7 .2-12.5 .2 12.5 .2-6.2 .2 8.5 .2 1.4 .2 2.9 .2 4.4 .2-3.2 .2-8 .2-3.4 .2 3.6 .2-7 .2 4.2 .2-1.6 .2-8 .2 27.4 .2-15.6 .2 16.2 .2-11.4 .2 .8 .2-6.5 .2 5.6 .2 4.9 .2-12.3 .2 6 .2 .8 .2-2.4 .2-5.5 .2-.3 .2 6.6 .2 5.1 .2-7.5 .2 12.7 .2-9.8 .2 .4 .2-12.7 .2 11.2 .2 7 .2-5.7 .2 3 .2-.9 .2 6.7 .2-7.5 .2-1.5 .2-7.4 .2 7.9 .2 4.7 .2-16.5 .2 12 .2-2.7 .2 1.4 .2 14.5 .2-12.2 .2-12.1 .2 5.9 .2-3.4 .2 9 .2-7.8 .2-2.9 .2 11.2 .2 2.8 .2-2.3 .2-3.1 .2-1.6 .2 12.2 .2 .8 .2-2 .2-20.8 .2 2.3 .2 2.7 .2 9.6 .2 14 .2-18.3 .2 4.3 .2-7.1 .2 14.4 .2-1.5 .2-5.9 .2-1.4 .2-7.3 .2 8.9 .2-5 .2-7.1 .2 7.5 .2 12.6 .2-18.5 .2 7.5 .2 .1 .2-2.5 .2 2.3 .2-9.8 .2 11 .2 5.7 .2-20.2 .2 2.5 .2 7.6 .2 2 .2 1.6 .2 3.8 .2-7.6 .2-1.1 .2 7.2 .2-1.2 .2-6.4 .2 7.6 .2 5.8 .2-17.8 .2 18 .2-14 .2 15.8 .2-21.5 .2 12 .2-4 .2-8.5 .2 15 .2-5.3 .2-2.1 .2-3.6 .2 9.1 .2 3.9 .2-1.9 .2 4.9 .2-7.7 .2 1.8 .2-8.6 .2-4.3 .2 19.1 .2-12.7 .2-6.3 .2 15.5 .2-6.7 .2 4 .2 9.1 .2-12.7 .2-3.7 .2 13.6 .2-15.3 .2 12.8 .2-4.5 .2-8.8 .2 5.1 .2-9 .2 11.9 .2-4.9 .2 1 .2 11.1 .2-3.9 .2-.3 .2-9.6 .2-1.2 .2 11.7 .2 3.3 .2-21.1 .2 6.2 .2 15.2 .2-8.4 .2 13.7 .2-20.6 .2 5.4 .2 7.7 .2 3 .2-6.5 .2-.9 .2-6.8 .2 .9 .2-6.6 .2-1 .2 18.9 .2 2.6 .2 1.2"/>
<path stroke="#35aa68" d="M380 912.4l.5 25.6 2.4 20 1.1 9 2 3.3 1 .2 1 .2 1 .8 1 1 1 .4 1 .5 1 .4 1 1 1 .2 1 0 1 .2 1-.1 1 .3 1 .1 1 .2 1 .1 1 .3 1 .2 1 .2 1-.3 1 .8 1-.3 1 .5 1 .3 1-.6 1 .5 1-.3 1 .6 1 .4 1 0 1 .1 1 0 1 .1 1-.3 1 .1 1 .2 1 .4 1 .2 1-.3 1 .3 1-.1 1 .6 1-.1 1 .4 1-.2 1 .3 1-.2 1-.1 1 .2 1 .1 1 .3 1 .4 1-.4 1 .5 1-.3 1 .3 1 0 1 .3 1 .6 1 .7 1 .3 1 .1 1 .6 1-.1 1 0 1 .6 1 .7 1 .5 1-.1 1 1.5 1-.7 1 1.1 1 0 1 .8 1 .3 1-.4 1 1.4 1 .3 1 .4 1 .5 1 .7 1-.4 1 .5 1-.4 1 .5 1-.8 1 1.2 1-.9 1 .9 1-.8 1 .2 1 .6 1-.4 1-.2 1 .2 1-.3 1 1.1 1-.4 1 .3 1-.1 1 .4 1-.9 1 .1 1 .3 1 0 1 .5 1 0 1-.2 1 .1 1 .7 1-.6 1 .3 1-.3 1 .5 1-.8 1 .7 1-.5 1 .6 1 .1 1 .3 1-.2 1 .4 1-.7 1-.3 1 1.3 1-.1 1-.6 1 .3 1-.4 1 1.3 1-1.5 1 .4 1-.1 1 .5 1-.6 1 .2 1 .4 1-.4 1 .4 1 .5 1-.6 1 .9 1-.2 1 0 1-.1 1 .2 1-.8 1 .4 1 .8 1-.9 1 .7 1-.1 1 .5 1-1 1 .2 1 .4 1-.1 1-.3 1-.2 1 .1 1 .6 1-.2 1 .6 1 .2 1-.2 1 .5 1-.2 1-.9 1 .9 1 0 1 0 1 0 1-.4 1 0 1 1.1 1-.2 1-.8 1 1.2 1-.6 1-.3 1 .5 1-.8 1 1.4 1-.3 1-.6 1 .7 1 .4 1-.2 1 .9 1-1.6 1 .8 1-.4 1 .5 1-.9 1 .7 1-.2 1-.2 1 .7 1 0 1-.6 1 1.5 1-1 1 0 1 .5 1 .4 1 .3 1-1.4 1 1 1-.7 1 .5 1 .2 1 .4 1-.9 1 .4 1 0 1 .4 1-.5 1-.4 1 .2 1 .6 1 1 1-1.2 1 1.1 1-.3 1 .4 1-.6 1-.3 1 .3 1 .6 1-.1 1 0 1-.1 1 .3 1-.8 1 .9 1-.4 1 .5 1-.6 1-.1 1 .2 1 .1 1 .4 1 .7 1-1.3 1 1.1 1-.2 1-.2 1-.5 1 1 1 .3 1 .2 1-.2 1-.5 1 .3 1 .2 1-.9 1 .2 1 .4 1-.4 1 .5 1 0 1 .5 1-1 1 1.1 1 .7 1-.1 1 .3 1-.3 1-.1 1 0 1-1.2 1 .8 1 1 1-.4 1 .1 1-.9 1 .2 1-.2 1-.2 1 1.4 1-.3 1-.7 1 1.2 1-.9 1 0 1 .2 1 .2 1 .2 1 .3 1-.3 1-.3 1 1 1-.6 1 .4 1-.3 1 .7 1-1.4 1 .7 1 1.1 1-1 1 .8 1-.2 1-.6 1 1.1 1-.5 1 .6 1-.8 1-.2 1 1.1 1 0 1-.8 1 .8 1-.7 1 .5 1-.5 1 .9 1-.8 1 .8 1-.3 1-.5 1 .4 1-.3 1 1 1-1 1 .6 1-.4 1 .7 1-1 1-.3 1 1 1-.2 1-.4 1 .7 1 .3 1-.3 1-1.3 1 1.4 1-1.3 1 1.4 1-.9 1 .8 1 .1 1-.1 1-.4 1-.3 1-.2 1 1 1-.8 1 0 1 .2 1 .6 1-.7 1 .3 1-.8 1 0 1 .6 1 .5 1-.8 1 1.1 1 .5 1-.7 1 .4 1-.8 1 .7 1-.7 1 .4 1-.2 1 .6 1 .1 1 0 1 .3 1-.5 1-.8 1 1.3 1-.7 1-.4 1 .9 1-1 1-.5 1 1.7 1-1.3 1 .1 1 .4 1-1 1 1.2 1-.1 1-.8 1 .9 1 .4 1 .3 1-.4 1 .6 1-.9 1-.1 1 .5 1-.1 1 .1 1-.1 1-.4 1-.4 1 .2 1 .7 1-1.2 1 .2 1 .1 1 .9 1-.6 1-.5 1 .4 1 1.2 1-.5 1-.2 1-.8 1-.1 1 1.2 1-1.4 1 .5 1 1.3 1-.8 1 .8 1-.4 1-.6 1 1.2 1-.6 1 .2 1-.1 1-1.2 1 .3 1 .6 1-.2 1-.6 1 1 1 .4 1-.7 1-.1 1 .4 1-.3 1 .2 1-.8 1 .8 1 .5 1-.4 1 0 1 .3 1 .4 1-.6 1 .6 1 .1 1-1.5 1 .8 1-1.1 1 1.4 1 0 1 .5 1-.8 1 .7 1-1.5 1 .4 1 .3 1-.2 1 .7 1-.8 1 1.5 1-.4 1 .6 1-.4 1-1.5 1 .3 1 1.4 1 .1 1 .1 1-.2 1-.8 1-.6 1-.4 1 1 1-1.3 1 1.7 1-.9 1 .1 1-.1 1 .8 1-.3 1-.1 1 .9 1-.6 1 1 1-1.3 1 .2 1-.4 1 2.1 1-1.4 1-.4 1 0 1 .6 1-.1 1 .6 1-.4 1 .9 1 .1 1-.2 1-.1 1 .1 1-1.4 1 .9 1 .5 1-.4 1-.5 1 1.1 1-1.1 1-.2 1 .8 1 .9 1-2.1 1 .9 1 1.2 1-.6 1 .3 1 .1 1-.6 1 .6 1-1.1 1 1 1-1 1 .3 1 1.3 1 .1 1-.1 1-1 1-.9 1 2.5 1-.6 1-.1 1-1.1 1 1.2 1 0 1-.1 1-1.7 1 .8 1 .6 1 .8 1 .7 1-1.3 1 1 1-.9 1 .4 1 .1 1-1.3 1 1.9 1-.6 1 .3 1-.5 1-.2 1 .2 1 .5 1-1 1 .7 1 .3 1 .8 1-1.3 1 0 1 1 1-.9 1-1 1 .7 1 .6 1-.4 1 1.4 1-.4 1-1 1 .9 1-.2 1 .7 1-.4 1 .2 1-1.3 1 1.6 1 .4 1-1.2 1 .6 1 .3 1-.8 1 .4 1 .1 1-1.1 1 1.2 1-1.2 1 .8 1 .2 1 0 1 1.4 1-2.1 1 .8 1 .2 1 .2 1-.4 1 .2 1 1.5 1-1.5 1 1 1-.7 1 .5 1-.2 1-.8 1 .7 1 .3 1 .3 1-.7 1 0 1 .6 1-1.4 1 .3 1 .8 1 0 .3-.7 .4 .3 .3 .4 .4 .6 .3 .1 .3-.4 .4-.9 .3 .3 .4 .8 .3 .3 .3-1.3 .4 .9 .3-.2 .4 .4 .3-1.9 .3 1.4 .4-.9 .3 1.3 .4-1 .3 1.4 .3-.5 .4-.5 .3-.8 .4 .7 .3 .8 .3-.7 .4-.5 .3 1.5 .4 0 .3-.1 .3-.3 .4-.3 .3 .1 .4 .6 .3-1.8 .3 1.2 .4 .9 .3 .6 .4-2 .3-.3 .3 1.4 .4 .5 .3 0 .4-1.9 .3 1.8 .3 .3 .4 .4 .3-2.4 .4 1.7 .3-1.7 .3 1.6 .4-1.9 .3 2.2 .4-.6 .3-1.6 .3 .9 .4-1.1 .3 1.4 .4 .8 .3 .5 .3-2.1 .4 1.4 .3-1 .4-.3 .3 2.2 .3-1.6 .4 1.4 .3-1.3 .4 1.2 .3-.4 .3-.2 .4-.1 .3-1 .4 2 .3 0 .3-1.6 .4 1.3 .3-.1 .4-1.8 .3 1.1 .3-1.2 .4 2.4 .3-2.6 .4 1.4 .3-.1 .3 .9 .4-.7 .3 1.7 .4-2.2 .3-.8 .3 .8 .4-.5 .3 .1 .4 1.2 .3 .2 .3-1.3 .4 1.8 .3 .1 .4-1.3 .3 1.2 .3-.7 .4-1.9 .3 2.3 .4 .8 .3-1.9 .3 1.2 .4-.2 .3-.3 .4 1.4 .3-1.5 .3-1.4 .4 1.2 .3 1 .4 1.3 .3-2.4 .3 2.2 .4-1.9 .3 2 .4-1.2 .3 .4 .3-.5 .4-.2 .3-.4 .4 .2 .3-.8 .3 1.4 .4-.3 .3-.9 .4 1.5 .3 .3 .3-1.8 .4 1 .3-.3 .4-1.4 .3 0 .3 0 .4-.2 .3 .6 .4 1.8 .3-2.1 .3 1.8 .4-1.9 .3 3.1 .4-2.4 .3 .8 .3-.1 .4-1.1 .3 1.9 .4-2 .3 .9 .3 .1 .4-.2 .3 .4 .4 .3 .3-.9 .3-1 .4 2.9 .3-.6 .4 1.4 .3-.9 .3-1.3 .4 1 .3 .4 .4-2.7 .3 1.1 .3-.7 .4 .4 .3 .8 .4-1.2 .3 1.8 .3-3.1 .4 3.7 .3-1.9 .4-1.4 .3 1.1 .3-.2 .4-.8 .3 3.5 .4-3.4 .3 3 .3-.7 .4 .3 .3-1.8 .4 2.1 .3-1.2 .3-.2 .4 1.8 .3-.2 .4-1.1 .3-1.5 .3 1.6 .4 1 .3-1.2 .4-.8 .3-.6 .3 .1 .4 .9 .3 1 .4-1.4 .3 .9 .3 .6 .4-.1 .3-.9 .4 .1 .3 .5 .3 .4 .4 1.2 .3-1 .4-.3 .3-1.7 .3 1.3 .4-1.1 .3 .5 .4-.5 .3 1.9 .3-2.5 .4 2.1 .3-.3 .4-.5 .3 1.1 .3 .2 .4 .5 .3-.3 .4-2.1 .3 3.1 .3-3 .4-1.3 .3 2.3 .4-2.1 .3-.2 .3 1 .4 1.3 .3-1 .4 2 .3-2.8 .3 .4 .4 2.3 .3 .9 .4-1.1 .3 .9 .3 1.1 .4-.6 .3-.8 .4-1 .3-2.5 .3 4.6 .4-1.4 .3-1.4 .4 3.2 .3-3.9 .3 2.4 .4 1.3 .3-2.9 .4 4.4 .3-7.1 .3 7 .4-3.3 .3-.3 .4 2.3 .3 0 .3-.8 .4 3.3 .3-6.8 .4 2 .3 .3 .3 1.5 .4-.7 .3 0 .4 4.3 .3-1.3 .3 3 .4-5.5 .3 5.4 .4-.6 .3 .8 .3-5.8 .4 8.3 .3-1.9 .4 3.3 .3-3.6 .3-1.5 .4 4.5 .3-3.4 .4 6.4 .3-2.7 .3 2.8 .4-6.3 .3 5.4 .4-6.8 .3 8.7 .3-3.5 .4-.9 .3 5 .4-5.2 .3 3.2 .3-2.4 .4 3.3 .3 1.2 .4-4.3 .3 5 .3-6.2 .4 6.4 .3-1.4 .4-3.1 .3 .4 .3 6.1 .4-2.6 .3 3.9 .4-4.6 .3 1.7 .3-6.1 .4 3.9 .3 3.2 .4-.4 .3 2.2 .3-2.4 .4 4.3 .3-3.6 .4 1.2 .3-6 .3 2.2 .4 4.9 .3-2.1 .4-.7 .3 2.4 .3-1 .4-3.6 .3 8.3 .4-9.4 .3 .9 .3 5 .4-5.3 .3-.1 .4 1 .3 1.9 .3 0 .4 1.8 .3 .9 .4-.4 .3 5.8 .3-2.9 .4-5.2 .3 .7 .4 5.7 .3-3.3 .3 4.1 .4-3.2 .3 3 .4-4.9 .3-.1 .3 2.8 .4-4.4 .3 8.5 .4-3.7 .3-3.5 .3 4 .4 2 .3-4.2 .4-1.2 .3 3.2 .3-3.1 .4-2.3 .3-.2 .4 2.6 .3 1.2 .3-5.4 .4 7.9 .3-5.8 .4-.1 .3 2 .3 .9 .4 2 .3-.5 .4-2.4 .3-1 .3 1.3 .4 2.4 .3-3.7 .4 1.3 .3-3.4 .3 1.9 .4 6.3 .3-1.8 .4-4.1 .3-1.9 .3 4.6 .4-5.5 .3 3.6 .4 .6 .3-.1 .3 2.3 .4-1.8 .3 3 .4-.4 .3-1.1 .3 .9 .4 2.9 .3-10.8 .4 8.9 .3-2.7 .3-2.7 .4 4.1 .3-9.1 .4 11.3 .3-8.1 .3 6.8 .4-2 .3-5.9 .4 2.7 .3-4.3 .3 3.3 .4 7.4 .3-5.3 .4 4.9 .3-9.5 .3 .5 .4 1.9 .3 2.7 .4-.9 .3 1.8 .3-1.6 .4 3.3 .3-7.1 .4 1.1 .3 .4 .3 1.9 .4 .1 .3 3.1 .4-.6 .3 .9 .3-5.5 .4 .7 .3-2.2 .4 15.6 .3-14.4 .3 2.4 .4-1 .3 5.1 .4-3.4 .3 2.3 .3-4.6 .4-.6 .3 4.2 .4 2.9 .3-.5 .3-8.2 .4-1.1 .3-.8 .4 4.3 .3-.3 .3-2.6 .4 4.7 .3-1.8 .4-1.6 .3-1.5 .3-1.2 .4 10 .3-4.2 .4-5.8 .3 9.9 .3-7.4 .4-3.4 .3 10 .4-9 .3 9 .3-4 .4 2.4 .3 .7 .4-.5 .3-1.7 .3 0 .4-4.5 .3 .5 .4 4.2 .3-2.4 .3 .7 .4 2.8 .3-3.7 .4 .9 .3-3.3 .3 4 .4 1.2 .3-.5 .4 1.6 .3-2.3 .3 8.7 .4-4.1 .3-6.7 .4 .4 .3 3.4 .3-1.2 .4 3.3 .3-8.2 .4-2.1 .3 8.3 .3-.1 .4 3.8 .3-5.7 .4 3.5 .3 1.7 .3-8.6 .4 3.5 .3 5.9 .4-.5 .3-.4 .3-7.4 .4-1.7 .3 3.4 .4 4.2 .3-2 .3-8 .4 2.2 .3-1.3 .4 1.9 .3 2.2 .3-.6 .4-4.5 .3 7.1 .4-4.3 .3 3.7 .3-5 .4-.6 .3 .6 .4 .2 .3 4 .3-3.4 .4 5.4 .3-.5 .4-1.7 .3-5.7 .3 3.8 .4 1.3 .3-4.8 .4 1.7 .3 6.6 .3-8.5 .4 1 .3-.9 .4-4.2 .3 3.2 .3-4.2 .4 6.2 .3 4.7 .4-6.4 .3 .4 .3 5.7 .4-4.3 .3 .6 .4-8.1 .3 13.7 .3-6 .4 1.1 .3 .1 .4 1.9 .3-9 .3 2.8 .4-.3 .3 2.5 .4-2.5 .3-1.7 .3-2.5 .4 7.8 .3-2 .4-4.8 .3 3.2 .3-2.6 .4 5.8 .3 .5 .4-1.4 .3 .5 .3-7 .4-.1 .3 7.2 .4-14.4 .3 8.6 .3 .3 .4-.5 .3-.2 .4 .9 .3 8.1 .3-6 .4-3.8 .3 4.2 .4-6.3 .3 3.9 .3 2.5 .4-7.2 .3-1 .4 1.8 .3 1.8 .3-3.3 .4 4.1 .3-1.1 .4 2.2 .3-1.7 .3 1.8 .4 5.8 .3-9.9 .4 2.5 .3 1.5 .3 1.6 .4-7.8 .3 7 .4-6.2 .3 7.5 .3-2.2 .4-1.2 .3 .1 .4 4.2 .3-3.1 .3 4.1 .4-1.7 .3-1.4 .4-1.7 .3-2.9 .3 3.3 .4 .9 .3-4.6 .4 8.1 .3-5.3 .3 4.2 .4-6.3 .3 8 .4-7.2 .3 5.2 .3-3.6 .4-4.4 .3-1.4 .4 11.7 .3-6.8 .3 2.3 .4 1.2 .3-5.2 .4 4.3 .3-5.6 .3 2.9 .4-5.2 .3 7.1 .4-3.3 .3 6.1 .3-.9 .4-3.3 .3-2.4 .4-2.1 .3 6.3 .3-5.5 .4 1.2 .3-.6 .4 7.2 .3-10.2 .3 10 .4-6.1 .3-1 .4 3.4 .3-5.8 .3 5.4 .4-5.6 .3 .4 .4 1.6 .3 8.7 .3-6.1 .4 .9 .3 .6 .4-2.6 .3 5.3 .3 1.6 .4-3.1 .3-6.2 .4 7.1 .3-.5 .3-2.5 .4-1.8 .3 3 .4 2.6 .3-6.5 .3 6.3 .4-9.1 .3 7 .4 5.5 .3-5.2 .3-3 .4 5.6 .3-1.7 .4 3.7 .3-13.8 .3 2.3 .4-3.9 .3 8.6 .4 1.9 .3-.9 .3 3.4 .4-8.3 .3-2 .4 5.6 .3-6.4 .3 3.1 .4-.6 .3-3.6 .4 6.9 .3 8.3 .3-2.2 .4-3.3 .3-2.2 .4 5.9 .3-14.2 .3 10.7 .4-.2 .3 3.8 .4-2 .3-1.3 .3-2 .4-2.9 .3 5.2 .4-4.5 .3 9.6 .3-9.9 .4 9.5 .3-3.1 .4-2.5 .3-4.5 .3-1.5 .4 5 .3-2.6 .4 1.4 .3-.3 .3 6.6 .4-5.9 .3-.8 .4-1.5 .3 7.1 .3-12.3 .4 12 .3-4.5 .4-3.6 .3 10 .3-7.5 .4-.5 .3 6.5 .4-6.1 .3-5.5 .3 4 .4 6 .3-1.4 .4-10.2 .3 3.7 .3 8.6 .4-9 .3 .7 .4 9 .3-3.2 .3-4.6 .4 .3 .3 1.6 .4 2.2 .3 .2 .3 7.4 .4-6.2 .3-1.5 .4 1.9 .3 2.3 .3-2.3 .4-4.1 .3 7.9 .4-4.5 .3 4 .3-8.6 .4-.8 .3 14.5 .4-4.8 .3-4.1 .3-3.5 .4 4.8 .3 4.4 .4-1.5 .3-7 .3-1.7 .4 7.3 .3-5.8 .4 2 .3-4.5 .3 .4 .4 11.4 .3-10.6 .4 7.2 .3-10.7 .3 7.4 .4-8.4 .3 4 .4 4.6 .3-2.5 .3-.2 .4 6.6 .3-8.1 .4 6 .3-2.5 .3-3.6 .4 1.8 .3 3.1 .4-8.3 .3 2.6 .3 .8 .4 3.3 .3-6 .4 9.3 .3-.7 .3 .6 .4-3.3 .3-4 .4-1.4 .3 5.1 .3-5.5 .4 7.9 .3 1.5 .4-4.4 .3-2.7 .3 4.5 .4 5 .3-2.1 .4-3.6 .3 6.2 .3-16.6 .4 14.5 .3-9.3 .4 4.9 .3 0 .3 3.3 .4-5.8 .3-.3 .4-1.2 .3 8.9 .3-.9 .4-3 .3-2.3 .4 1.5 .3-3.7 .3 .8 .4-3.9 .3 6.4 .4-3.2 .3 4 .3-2.4 .4-.4 .3 .1 .4 1.1 .3 5.9 .3-8.6 .4-2.4 .3 4 .4 8.1 .3 2 .3-7.7 .4 10.1 .3-11.9 .4 5.2 .3-8.4 .3 4.9 .4 .2 .3-1.6 .4 1.7 .3-1.9 .3 1.5 .4-1.1 .3 1.2 .4-2.3 .3 8.1 .3-6.5 .4-3.7 .3 .4 .4 3 .3-3.5 .3 10 .4-4.6 .3 3.3 .4 3.3 .3-10.3 .3 6.7 .4-8.1 .3 5.3 .4-8.1 .3 .9 .3 2.1 .4-.5 .3 5.4 .4 2.4 .3-7.6 .3 11.2 .4-1 .3-11.7 .4 3.4 .3 .3 .3-4.1 .4 6.2 .3 1.1 .4-.8 .3 2.4 .3 1.3 .4-1.6 .3-.1 .4 2.4 .3 .9 .3-5.9 .4-.1 .3 8.2 .4-6.6 .3-2.8 .3 6 .4-.2 .3-.1 .4 6.9 .3-7.4 .3 1.5 .4-5.9 .3-3 .4 3.5 .3 3.2 .3-2.2 .4-1.6 .3-2.3 .4 10.6 .3-12.2 .3 3.6 .4-1.9 .3 7.1 .4 1.8 .3 4.5 .3-6.3 .4 1.8 .3 2 .4-4.5 .3-3.3 .3-5 .4 6 .3-2.7 .4 9.5 .3 .7 .3-5.9 .4-2.3 .3-5.8 .4 1 .3 5 .3-3.6 .4 9.3 .3-10.2 .4 1.6 .3 1.4 .3 3.2 .4-.3 .3-2.4 .4-2.9 .3 2 .3 7.3 .4 0 .3 2.2 .4 2.5 .3-6.3 .3-2.9 .4 1.2 .3-1.3 .4 5.2 .3-1.8 .3 6.1 .4-14.2 .3-2.6 .4 9.5 .3 3.9 .3-7 .4 12.2 .3-5.9 .4-4.2 .3 7.9 .3-1.4 .4-8.6 .3 8.1 .4-6.9 .3-2.4 .3 2.3 .4 6.3 .3-2.7 .4-1.3 .3-8.1 .3 1.8 .4 1.5 .3 5 .4 10.7 .3-12.2 .3 2.8 .4-2.1 .3 3.9 .4-8 .3 11.3 .3-9.2 .4 5.7 .3-1.3 .4 .3 .3-3.4 .3-4.4 .4 11.8 .3-3.7 .4-4.5 .3 4.5 .3-2.9 .4-5.9 .3 5.6 .4 4.5 .3 1.9 .3-9.3 .4 2 .3 2.7 .4 5.4 .3-4.8 .3 6.7 .4-8.7 .3 3.4 .4-4.6 .3 6.5 .3-.5 .4-2.3 .3 0 .4-2.3 .3 1.6 .3 4.1 .4-8.4 .3 .9 .4 11.9 .3-3 .3-1.4 .4-6.3 .3 7.8 .4-7.7 .3 2.1 .3 2.7 .4 6.7 .3-8 .4-1.4 .3-1.8 .3 2.2 .4 3 .3-4.3 .4 10.8 .3-2.7 .3-7.1 .4 5.2 .3-6.8 .4 3.3 .3-3.1 .3 4.4 .4 3.6 .3-4.6 .4 4.3 .3-3.7 .3 1.9 .4 3.1 .3-1.8 .4-10.5 .3 7.9 .3-4.9 .4-2.5 .3 2.4 .4 5.4 .3 3.1 .3-2.1 .4 .7 .3-5.5 .4 3.3 .3 .2 .3-1.7 .4 1.2 .3-3.2 .4 1.5 .3-6.6 .3 13.6 .4-2.9 .3 .9 .4-.1 .3-5 .3-2.4 .4 1.2 .3 3.8 .4 7.4 .3-9.9 .3-.1 .4-.9 .3 1.9 .4 3.5 .3 3.7 .3-6 .4 4.2 .3-1.2 .4-3.7 .3-.9 .3-1 .4 10 .3-3.1 .4-.6 .3 1.5 .3 1.5 .4 1.8 .3-9.5 .4 3.7 .3-7.2 .3 12.4 .4-8.3 .3-1.1 .4-2.9 .3 10.4 .3 1.5 .4 0 .3-11.9 .4 6.7 .3-7.6 .3-.2 .4 11.6 .3-4 .4 .1 .3 2.7 .3-6.1 .4 4.5 .3 3.2 .4 1.8 .3-5.1 .3-3.9 .4 4.1 .3 1.2 .4-2.2 .3-10.3 .3 3.9 .4-1.7 .3 4.5 .4 7.1 .3-13.4 .3 16 .4-1.8 .3-4.1 .4 2.3 .3 5.6 .3-17.4 .4 10.4 .3 8 .4-3.6 .3-7.1 .3 2.6 .4-6.4 .3 9.8 .4-1.8 .3 .7 .3-5.8 .4-1.1 .3 2 .4-3.7 .3 6.8 .3 1.6 .4-1 .3 4.7 .4-5 .3 1.1 .3-3.7 .4 7.9 .3-6.4 .4-4.5 .3 6.6 .3-8.2 .4-.2 .3 8.1 .4 9.2 .3-10.3 .3-2.2 .4 4 .3 4.4 .4-3.1 .3-2.3 .3-8.7 .4-1.5 .3 4.7 .4 8.1 .3-6.3 .3 4.3 .4 .3 .3-5 .4 3.6 .3 6.6 .3 .9 .4-8 .3 1 .4 4.3 .3-12.1 .3 9.3 .4 3.5 .3-7.9 .4 3.3 .3 4.9 .3-4 .4-1 .3-7.2 .4 13.3 .3-12.2 .3 11.2 .4-11.4 .3 4.6 .4 6.5 .3-.2 .3 1.3 .4-3.4 .3-2.6 .4-6.8 .3 2.1 .3-1.3 .4 0 .3 5.8 .4-.1 .3 2.8 .3-4.7 .4-.4 .3-1.2 .4-.4 .3 .6 .3 .9 .4 3.7 .3 3.7 .4-11.7 .3 2.1 .3 4.7 .4 4.4 .3-4.8 .4 4.7 .3-5.3 .3 4.5 .4-8.5 .3 7.3 .4-5.5 .3 4.2 .3 .4 .4-8.8 .3 4.9 .4 6.3 .3-4.4 .3-1.6 .4 3.1 .3-3.7 .4 .1 .3 11 .3-3.2 .4-9.7 .3-2.1 .4 .1 .3 8.3 .3-.3 .4-1.8 .3-.9 .4 .5 .3-2.1 .3 5.2 .4-8.5 .3 7.1 .4 6 .3-5 .3-.2 .4-4.9 .3 3 .4 1.7 .3-2.2 .3-8.5 .4 11.8 .3 4.6 .4-9.7 .3 8.5 .3-13.9 .4 4.6 .3 6.4 .4-.5 .3-7.3 .3 .5 .4 5.3 .3-3 .4 3.9 .3-.1 .3-10.9 .4 1.4 .3 6.1 .4-1.4 .3 8.1 .3-.2 .4 3 .3-8.6 .4 2.3 .3-6.8 .3 3.7 .4 2.6 .3-9.6 .4 18.4 .3-11.5 .3-1 .4-3.2 .3 4.1 .4-1.9 .3 1.5 .3 .7 .4-1.7 .3 5.6 .4-1.9 .3-8.3 .3 11.9 .4-3.5 .3-.1 .4-1.7 .3-1.2 .3-.3 .4 6.5 .3 7.5 .4-11.8 .3 .4 .3 4.3 .4-.3 .3-10.1 .4 7.2 .3-.1 .3-7.8 .4 2.6 .3-2.6 .4 4.1 .3-5.8 .3-1.1 .4 6.2 .3 4.3 .4-8.4 .3 9.7 .3-8.9 .4 12.5 .3-12.4 .4 14.1 .3-7.7 .3-5.4 .4 .3 .3 11.4 .4-4.4 .3 5.7 .3-.5 .4-13.8 .3 11.6 .4 .5 .3-5 .3-5.9 .4 11.2 .3-7.2 .4-5.5 .3 8.9 .3-8.4 .4 1.4 .3 7.4 .4 4.8 .3-6.3 .3-4.4 .4 4.7 .3 3.7 .4-11 .3-1.5 .3 10.1 .4-5.5 .3-3.5 .4 10.5 .3 2 .3 .2 .4-7.3 .3 4.6 .4 2 .3 1.8 .3-6.8 .4 2.8 .3-.5 .4-10 .3 4.7 .3 10.4 .4-4.6 .3 2.8 .4-6.4 .3-3.1 .3 1.9 .4 7.7 .3-11.3 .4 12.3 .3-12.3 .3 4.1 .4-.3 .3 12.3 .4-4.7 .3-2.6 .3-.6 .4-7.2 .3 2.5 .4-3 .3 13 .3-1.8 .4-1 .3 4.9 .4-10.9 .3-1.6 .3-4.1 .4-1.2 .3 16.9 .4-4.9 .3-6.9 .3 7.7 .4-4.3 .3-7.1 .4 4.9 .3 .7 .3 5.8 .4-9.2 .3 .5 .4-3.2 .3 11 .3-5.3 .4 2.6 .3 5.7 .4-6.7 .3-6 .3 4.7 .4 5.9 .3 .7 .4-6.3 .3 5.1 .3-10.7 .4-1.4 .3 9.3 .4 1.5 .3-8.9 .3-2.8 .4 6.8 .3 7 .4 3.5 .3 1.8 .3-13.9 .4 9.8 .3-1.4 .4-5 .3 2.6 .3-8.1 .4 1.6 .3 12.3 .4-9.1 .3 1.7 .3 8.1 .4-14.3 .3 4.3 .4-4.2 .3 6.4 .3 1.7 .4-4 .3-1.1 .4 9.3 .3 3 .3-14.7 .4 6.5 .3-11.2 .4 5.8 .3-4.4 .3 12.6 .4 3.4 .3-2.9 .4 3.9 .3-8.4 .3 .8 .4-5.7 .3 10 .4-2.4 .3-4.5 .3 .4 .4 7.8 .3-.3 .4-.9 .3 .2 .3 1.2 .4-13.2 .3 4.8 .4-.9 .3 10 .3-6.3 .4 6.3 .3-9.2 .4 6.3 .3-6.2 .3 9.2 .4-3 .3-5.8 .4 4.8 .3 2.5 .3 6.7 .4-14.7 .3 .9 .4 1.5 .3-9 .3 14.7 .4-1.5 .3-2.7 .4 .4 .3-2.7 .3-2.9 .4 7 .3 2.1 .4-9.3 .3 5.1 .3 4.6 .4 2.9 .3-3.8 .4 .1 .3-6.7 .3-3.8 .4 19.6 .3-21.2 .4 5.3 .3-3.4 .3 6.3 .4-8.9 .3 14.4 .4 1.9 .3-3.4 .3-10.8 .4 10.5 .3-7.1 .4-5.8 .3 16.4 .3-2.7 .4-.9 .3-12.3 .4 5.6 .3 .3 .3 1 .4 13.2 .3-10.8 .4-3.4 .3 9.1 .3 3.1 .4-12.9 .3 1.9 .4-1.1 .3 3 .3 0 .4-4.5 .3 2.8 .4 5.5 .3-3.6 .3-6.5 .4-1.5 .3 14.7 .4-1.5 .3-.1 .3-.3 .4-6.7 .3 5.9 .4-2.4 .3-3 .3 .4 .4-5.6 .3 11.9 .4-11.7 .3 2.1 .3 5.4 .4-1.5 .3 4.3 .4-4.8 .3 7.4 .3-5.9 .4 7.1 .3-15.8 .4 8.8 .3-4.3 .3 14.4 .4-15.9 .3 8.2 .4-10.1 .3 .6 .3-1.8 .4-.1 .3 11.1 .4 1 .3-8.3 .3 2.3 .4-3.6 .3 2.5 .4 8.3 .3-3.4 .3-7.3 .4 10 .3-6.6 .4 .7 .3-.9 .3 13.9 .4-14 .3 .8 .4-.1 .3 2 .3-2.9 .4 5.1 .3 1.8 .4-.6 .3 6.2 .3-14.9 .4 13.2 .3-5.7 .4 1.5 .3 4.1 .3-15.8 .4 15.1 .3-11.8 .4 13.4 .3-8.4 .3-3.5 .4 .8 .3 2.3 .4 3.6 .3-.4 .3-6.9 .4 14.1 .3-8 .4-1.9 .3-3.5 .3 .2 .4-5.2 .3 17.8 .4-5.7 .3 5.2 .3-2.9 .4-6.3 .3 6.7 .4-9.8 .3 3.8 .3 4.7 .4 1.7 .3-12.2 .4 2.6 .3 9 .3-9.6 .4-1.3 .3 10.9 .4-8.3 .3 .5 .3-2.2 .4 .4 .3 11.2 .4-2.6 .3-13.5 .3 16.4 .4-11.8 .3 13.6 .4-7.4 .3-4.4 .3 12.3 .4-2.5 .3-3.5 .4-5.2 .3 4.5 .3 5.5 .4-4.2 .3 2.1 .4 .9 .3-15.5 .3 6.1 .4-.3 .3 3.6 .4-5.6 .3 6.5 .3-1.6 .4-6.4 .3 10.2 .4 1.1 .3-2 .3 6.6 .4-11.2 .3-.3 .4 6.1 .3-12.3 .3 9.7 .4 .5 .3 5.7 .4-2.6 .3 3.7 .3-10.7 .4 5.8 .3 3.2 .4-.4 .3-6.7 .3 1.8 .4 5.6 .3-15.4 .4 6.7 .3 1.2 .3-1.4 .4-4.9 .3 5.9 .4-.1 .3 8.5 .3-5 .4-2.5 .3 6.3 .4-2.9 .3-3.2 .3 5.4 .4 2.2 .3-4.3 .4-2.3 .3-10.3 .3 17.6 .4-6.3 .3 .3 .4-2.8 .3-3.6 .3 8.6 .4-2.2 .3-7.3 .4-3.5 .3 13.2 .3-2.9 .4-7.8 .3-5.3 .4 22.4 .3-15.2 .3 1.3 .4 4 .3 1 .4 1.7 .3-3.6 .3-1.4 .4 11.6 .3-17.1 .4 8.4 .3 10 .3-7.2 .4-6.7 .3-1.9 .4 2.1 .3-5.4 .3 6.5 .4 .9 .3-3.9 .4-4.9 .3 14.2 .3-2.6 .4 1.8 .3-7.8 .4 1.6 .3 5 .3 5.1 .4-7.5 .3 2.5 .4-7.7 .3 9.4 .3 3.3 .4-2 .3-3.7 .4-10.5 .3 10.9 .3-2.9 .4-.3 .3 10.7 .4-16.7 .3 14.9 .3-3.6 .4 2.3 .3 3 .4-11.8 .3-.6 .3 1 .4-4.7 .3 1.8 .4 6 .3-.6 .3-6.1 .4 1.6 .3 12.6 .4-18 .3 14.9 .3-8.7 .4-6.5 .3 4.2 .4 4.4 .3-2.8 .3 2.2 .4 1.4 .3 2.1 .4 2.2 .3-1 .3-8.6 .4 8.2 .3-3.2 .4-3.1 .3 2.4 .3 1.4 .4 3.9 .3 1.1 .4-.2 .3-11.2 .3 5.3 .4 2.7 .3-3.4 .4-9 .3 4.8 .3 4.8 .4-.5 .3-10.4 .4 18.5 .3-4.2 .3-1.4 .4 4.7 .3-11.5 .4 5.7 .3 .4 .3 8.4 .4-9.7 .3-1.2 .4 11.1 .3-9.1 .3-3.4 .4 1.7 .3 .6 .4-.7 .3 4.9 .3-1.1 .4-6.3 .3 7 .4 5.5 .3-11 .3 4 .4 2.8 .3 .3 .4-1.6 .3 5.4 .3-8.4 .4 3.5 .3-4.9 .4 6.6 .3 1.3 .3-18.6 .4 27.4 .3-6.1 .4-7.5 .3 .1 .3-4.4 .4 .8 .3 3.5 .4-3.1 .3-4.6 .3 4.2 .4-2 .3 10.2 .4-8.2 .3 7.7 .3 1.7 .4-8.1 .3 7 .4-3.9 .3-1.3 .3-1.3 .4-10 .3 2.5 .4 11.9 .3-6.1 .3-.2 .4-2 .3 12.3 .4-7.8 .3-1.8 .3 8.4 .4-11.4 .3 10.4 .4 11.2 .3-15.3 .3-7.3 .4 10.6 .3-2.4 .4-1.6 .3 11.7 .3-15.5 .4-3.2 .3 10.1 .4-7.9 .3 6.2 .3 9.3 .4-11.3 .3 3.8 .4 3.9 .3-6 .3-4.3 .4 7.7 .3 2.6 .4 .4 .3-14.5 .3 4.8 .4 3.1 .3 9.6 .4-21.9 .3 18.3 .3 2 .4-11.4 .3 3.3 .4 1.6 .3 .4 .3-4.9 .4 7.2 .3-1.2 .4 2.4 .3-3.5 .3-5.4 .4 5.2 .3 6 .4-2.6 .3-10.7 .3 2.7 .4-.8 .3 6.4 .4-4.4 .3 2.9 .3 4.7 .4 .3 .3-15.9 .4 19 .3-14.7 .3 2.2 .4 7.3 .3-11.6 .4 4.9 .3 4.3 .3 5.5 .4-2.9 .3-6.2 .4 8.2 .3 .4 .3-8.9 .4 3.1 .3 8.4 .4-3.2 .3-1.1 .3-5.3 .4-8.9 .3 12.8 .4-8.5 .3-5.2 .3 9.9 .4 4.5 .3 6.2 .4-2.1 .3-16.3 .3 .1 .4 12.3 .3 1.6 .4-2.2 .3-5.2 .3 6.3 .4-6.2 .3 4.1 .4-6.9 .3-2.1 .3 4.5 .4 7.7 .3-10.4 .4 5 .3-1.3 .3 3.3 .4-1.4 .3-8 .4 3.7 .3 .9 .3 3.1 .4-1.7 .3-3.1 .4 2.2 .3 6.2 .3-8.4 .4 13 .3-11.8 .4 8.7 .3-6.1 .3-2.3 .4-4.9 .3 16.4 .4-5.5 .3-2.2 .3-.8 .4 3.9 .3-9.1 .4-2 .3 15.4 .3-9.6 .4 4.1 .3 7.4 .4-10 .3 5 .3 2 .4-1.4 .3-1.8 .4-7.6 .3 9 .3 4.3 .4-8.6 .3-7.1 .4 1.8 .3 7.8 .3-.8 .4 2.2 .3 2.6 .4-5.7 .3 3.2 .3-6.6 .4 6.3 .3-37.8 .4 8.2 .3 28.9 .3-.8 .4 5.6 .3-13.5 .4 3.5 .3-6.1 .3 1.5 .4 12.7 .3-12.9 .4 8.9 .3 .8 .3 2.4 .4-12.4 .3 10.2 .4 4.1 .3-8.7 .3 3.2 .4-2.4 .3 .7 .4 2.4 .3-5.8 .3-2.6 .4 6.3 .3-3.7 .4 5 .3-5.5 .3 4.7 .4-13 .3 1.2 .4 16.6 .3-7.2 .3 5.2 .4-.2 .3 2.7 .4-16.4 .3 19.6 .3-9.4 .4-5.9 .3 3.4 .4 11 .3-10.8 .3-6.5 .4 7.5 .3-1.9 .4 0 .3 1.5 .3-2.8 .4 12.9 .3 .5 .4-4.4 .3-1.3 .3-8.5 .4 12.3 .3-2 .4-3.8 .3 5.3 .3-8.4 .4 7.4 .3-10.5 .4-.7 .3 14.1 .3-12.4 .4 8.6 .3-15 .4 11.3 .3-10.6 .3 19.9 .4-12.9 .3 8.7 .4-.6 .3-3.3 .3 .9 .4-1.5 .3 8.7 .4-5.2 .3-3.8 .3-11.7 .4 12 .3-3.2 .4 4.3 .3-4.6 .3 5.1 .4 3.3 .3 4 .4 .4 .3-17.7 .3 12.1 .4-4.7 .3 3.6 .4 5.5 .3-13.7 .3 3.9 .4-2.6 .3 9.4 .4-3.1 .3-3.2 .3 2.6 .4 .8 .3-13.1 .4 16 .3-10.9 .3 0 .4-2.7 .3 8 .4-2.6 .3-1 .3 1.8 .4 3.4 .3-2.1 .4 6.7 .3-3.8 .3-3.4 .4-7.6 .3 9.3 .4 6.5 .3-19.4 .3 14.7 .4-9.8 .3 12.4 .4 .5 .3-10.7 .3 9.7 .4-6.6 .3 11.2 .4-3.8 .3 4.3 .3-5 .4-4.8 .3-2.5 .4-1.3 .3 16.3"/>
</g>
<line x1="255.0" y1="912.3" x2="1876.0" y2="912.3" stroke="#000" stroke-width="5.8"/>
<rect x="255" y="13.7" width="1621" height="1143.7" fill="none" stroke="#000" stroke-width="5.5"/>
<path d="M378.7 1157.4V1132.9M378.7 13.7V38.2M628.2 1157.4V1132.9M628.2 13.7V38.2M877.6 1157.4V1132.9M877.6 13.7V38.2M1127.1 1157.4V1132.9M1127.1 13.7V38.2M1376.6 1157.4V1132.9M1376.6 13.7V38.2M1626 1157.4V1132.9M1626 13.7V38.2M503.4 1157.4V1144.9M503.4 13.7V26.2M752.9 1157.4V1144.9M752.9 13.7V26.2M1002.4 1157.4V1144.9M1002.4 13.7V26.2M1251.8 1157.4V1144.9M1251.8 13.7V26.2M1501.3 1157.4V1144.9M1501.3 13.7V26.2M1750.8 1157.4V1144.9M1750.8 13.7V26.2" stroke="#000" stroke-width="5.0" fill="none"/>
<path d="M255 1075.7H279.5M1876 1075.7H1851.5M255 912.3H279.5M1876 912.3H1851.5M255 748.9H279.5M1876 748.9H1851.5M255 585.6H279.5M1876 585.6H1851.5M255 422.2H279.5M1876 422.2H1851.5M255 258.8H279.5M1876 258.8H1851.5M255 95.4H279.5M1876 95.4H1851.5M255 994H267.5M1876 994H1863.5M255 830.6H267.5M1876 830.6H1863.5M255 667.2H267.5M1876 667.2H1863.5M255 503.9H267.5M1876 503.9H1863.5M255 340.5H267.5M1876 340.5H1863.5M255 177.1H267.5M1876 177.1H1863.5" stroke="#000" stroke-width="5.0" fill="none"/>
<g font-size="56">
<text transform="translate(378.7 1229) scale(1 1.03)" text-anchor="middle">0</text>
<text transform="translate(628.2 1229) scale(1 1.03)" text-anchor="middle">500</text>
<text transform="translate(877.6 1229) scale(1 1.03)" text-anchor="middle">1000</text>
<text transform="translate(1127.1 1229) scale(1 1.03)" text-anchor="middle">1500</text>
<text transform="translate(1376.6 1229) scale(1 1.03)" text-anchor="middle">2000</text>
<text transform="translate(1626 1229) scale(1 1.03)" text-anchor="middle">2500</text>
<text transform="translate(1875.5 1229) scale(1 1.03)" text-anchor="middle">3000</text>
<text transform="translate(226.3 1092.9) scale(1 1.03)" text-anchor="end">-100</text>
<text transform="translate(226.3 929.5) scale(1 1.03)" text-anchor="end">0</text>
<text transform="translate(226.3 766.1) scale(1 1.03)" text-anchor="end">100</text>
<text transform="translate(226.3 602.8) scale(1 1.03)" text-anchor="end">200</text>
<text transform="translate(226.3 439.4) scale(1 1.03)" text-anchor="end">300</text>
<text transform="translate(226.3 276) scale(1 1.03)" text-anchor="end">400</text>
<text transform="translate(226.3 112.6) scale(1 1.03)" text-anchor="end">500</text>
</g>
<text x="1065" y="1331" font-size="68" text-anchor="middle"><tspan font-style="italic">t</tspan> (s)</text>
<text transform="translate(72.5 551.5) rotate(-90)" font-size="68" text-anchor="middle"><tspan font-style="italic">U</tspan> (V)</text>
<line x1="591.4" y1="576.3" x2="715.4" y2="576.3" stroke="#4d4d4d" stroke-width="2.4"/>
<text transform="translate(730.3 595.4) scale(1 1.035)" font-size="55.5" xml:space="preserve">0.035 M KOH  0.08 M Na<tspan font-size="35" dy="14.5">2</tspan><tspan dy="-14.5">SiO</tspan><tspan font-size="35" dy="14.5">3</tspan></text>
<line x1="591.4" y1="656.1" x2="715.4" y2="656.1" stroke="#f03c3c" stroke-width="2.4"/>
<text transform="translate(730.3 675.2) scale(1 1.035)" font-size="55.5" xml:space="preserve">0.050 M KOH  0.08 M Na<tspan font-size="35" dy="14.5">2</tspan><tspan dy="-14.5">SiO</tspan><tspan font-size="35" dy="14.5">3</tspan></text>
<line x1="591.4" y1="736" x2="715.4" y2="736" stroke="#2f74e0" stroke-width="2.4"/>
<text transform="translate(730.3 755) scale(1 1.035)" font-size="55.5" xml:space="preserve">0.065 M KOH  0.08 M Na<tspan font-size="35" dy="14.5">2</tspan><tspan dy="-14.5">SiO</tspan><tspan font-size="35" dy="14.5">3</tspan></text>
<line x1="591.4" y1="815.8" x2="715.4" y2="815.8" stroke="#35aa68" stroke-width="2.4"/>
<text transform="translate(730.3 834.8) scale(1 1.035)" font-size="55.5" xml:space="preserve">0.080 M KOH  0.08 M Na<tspan font-size="35" dy="14.5">2</tspan><tspan dy="-14.5">SiO</tspan><tspan font-size="35" dy="14.5">3</tspan></text>
<rect x="388.2" y="1464" width="28.4" height="28.4" fill="#000"/>
<rect x="830.4" y="1804.3" width="28.4" height="28.4" fill="#000"/>
<rect x="1272.5" y="1985.9" width="28.4" height="28.4" fill="#000"/>
<rect x="1714.7" y="2229.7" width="28.4" height="28.4" fill="#000"/>
<line x1="255" y1="1432" x2="1876.3" y2="2338.6" stroke="#ff2a2a" stroke-width="2.8"/>
<rect x="255" y="1404.7" width="1621.3" height="944.3" fill="none" stroke="#000" stroke-width="5.5"/>
<path d="M549.8 2349V2324.5M549.8 1404.7V1429.2M844.6 2349V2324.5M844.6 1404.7V1429.2M1139.3 2349V2324.5M1139.3 1404.7V1429.2M1434.1 2349V2324.5M1434.1 1404.7V1429.2M1728.9 2349V2324.5M1728.9 1404.7V1429.2M402.4 2349V2336.5M402.4 1404.7V1417.2M697.2 2349V2336.5M697.2 1404.7V1417.2M992 2349V2336.5M992 1404.7V1417.2M1286.7 2349V2336.5M1286.7 1404.7V1417.2M1581.5 2349V2336.5M1581.5 1404.7V1417.2" stroke="#000" stroke-width="5.0" fill="none"/>
<path d="M255 2223.1H279.5M1876.3 2223.1H1851.8M255 1908.3H279.5M1876.3 1908.3H1851.8M255 1593.6H279.5M1876.3 1593.6H1851.8M255 2286H267.5M1876.3 2286H1863.8M255 2160.1H267.5M1876.3 2160.1H1863.8M255 2097.2H267.5M1876.3 2097.2H1863.8M255 2034.2H267.5M1876.3 2034.2H1863.8M255 1971.3H267.5M1876.3 1971.3H1863.8M255 1845.4H267.5M1876.3 1845.4H1863.8M255 1782.4H267.5M1876.3 1782.4H1863.8M255 1719.5H267.5M1876.3 1719.5H1863.8M255 1656.5H267.5M1876.3 1656.5H1863.8M255 1530.6H267.5M1876.3 1530.6H1863.8M255 1467.7H267.5M1876.3 1467.7H1863.8" stroke="#000" stroke-width="5.0" fill="none"/>
<g font-size="56">
<text transform="translate(255 2421.3) scale(1 1.03)" text-anchor="middle">0.03</text>
<text transform="translate(549.8 2421.3) scale(1 1.03)" text-anchor="middle">0.04</text>
<text transform="translate(844.6 2421.3) scale(1 1.03)" text-anchor="middle">0.05</text>
<text transform="translate(1139.3 2421.3) scale(1 1.03)" text-anchor="middle">0.06</text>
<text transform="translate(1434.1 2421.3) scale(1 1.03)" text-anchor="middle">0.07</text>
<text transform="translate(1728.9 2421.3) scale(1 1.03)" text-anchor="middle">0.08</text>
<text transform="translate(226.3 2240.7) scale(1 1.03)" text-anchor="end">1500</text>
<text transform="translate(226.3 1925.9) scale(1 1.03)" text-anchor="end">1750</text>
<text transform="translate(226.3 1611.2) scale(1 1.03)" text-anchor="end">2000</text>
</g>
<text transform="translate(67.8 1876.6) rotate(-90)" font-size="67.4" text-anchor="middle">time to transition (s)</text>
<text x="617.8" y="2531.3" font-size="66.5">KOH concentration (mol dm<tspan font-size="43" dy="-26">&#8722;3</tspan><tspan dy="26">)</tspan></text>
</svg></body></html>
